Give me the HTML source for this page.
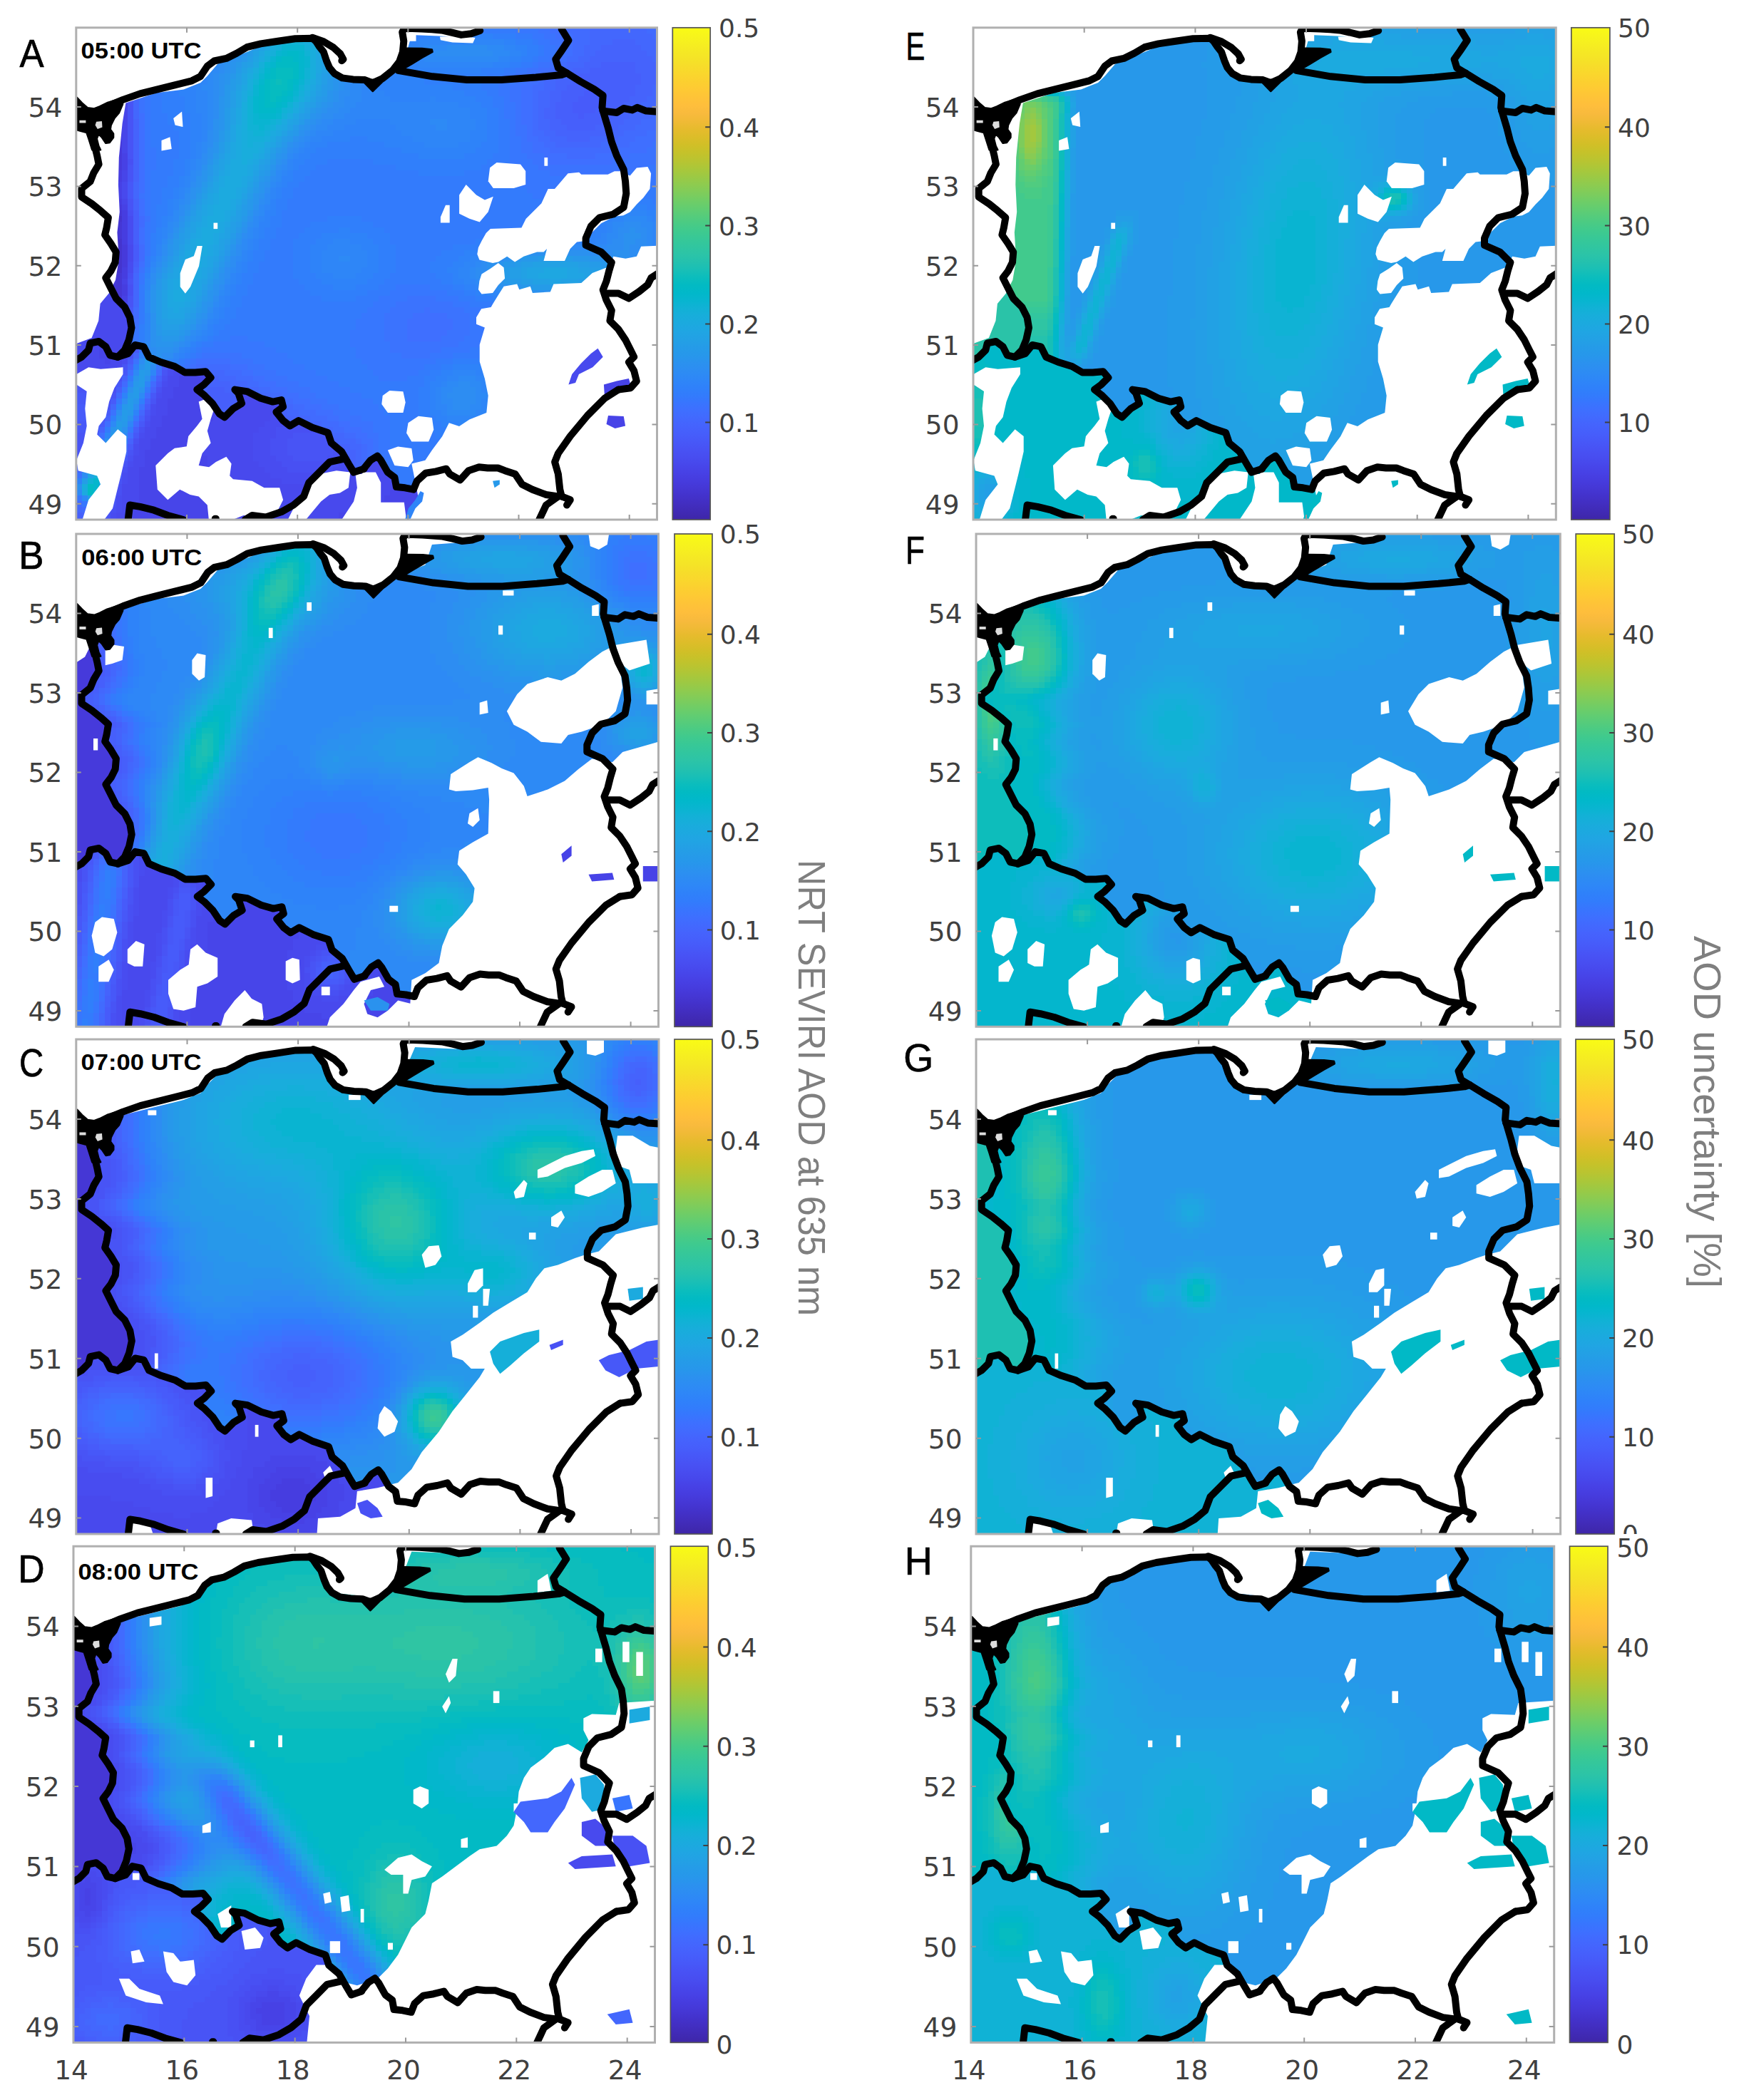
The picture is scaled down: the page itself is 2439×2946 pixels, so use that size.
<!DOCTYPE html>
<html><head><meta charset="utf-8"><title>NRT SEVIRI AOD and uncertainty</title>
<style>
html,body{margin:0;padding:0;background:#fff}
svg{display:block}
.tk{font-family:"DejaVu Sans","Liberation Sans",sans-serif;font-size:37.5px;fill:#404040}
.cbl{font-family:"DejaVu Sans","Liberation Sans",sans-serif;font-size:36px;fill:#404040}
.let{font-family:"Liberation Sans",sans-serif;font-size:55px;fill:#000;stroke:#000;stroke-width:0.7px}
.tm{font-family:"Liberation Sans",sans-serif;font-weight:bold;font-size:32px;fill:#000}
.vl{font-family:"Liberation Sans",sans-serif;font-size:54px;fill:#7f7f7f}
</style></head><body>
<svg width="2439" height="2946" viewBox="0 0 2439 2946">
<defs><linearGradient id="par" x1="0" y1="0" x2="0" y2="1"><stop offset="0.0000" stop-color="#f9fb15"/><stop offset="0.0159" stop-color="#f7f51b"/><stop offset="0.0317" stop-color="#f6ef20"/><stop offset="0.0476" stop-color="#f5e924"/><stop offset="0.0635" stop-color="#f5e327"/><stop offset="0.0794" stop-color="#f7dc2a"/><stop offset="0.0952" stop-color="#fad62d"/><stop offset="0.1111" stop-color="#fccf30"/><stop offset="0.1270" stop-color="#fec934"/><stop offset="0.1429" stop-color="#fec338"/><stop offset="0.1587" stop-color="#febe3c"/><stop offset="0.1746" stop-color="#f8ba3d"/><stop offset="0.1905" stop-color="#f0ba36"/><stop offset="0.2063" stop-color="#e6bb2d"/><stop offset="0.2222" stop-color="#dcbd29"/><stop offset="0.2381" stop-color="#d1bf27"/><stop offset="0.2540" stop-color="#c5c22a"/><stop offset="0.2698" stop-color="#b9c431"/><stop offset="0.2857" stop-color="#abc739"/><stop offset="0.3016" stop-color="#9dc943"/><stop offset="0.3175" stop-color="#8fcb4e"/><stop offset="0.3333" stop-color="#81cc59"/><stop offset="0.3492" stop-color="#72cd64"/><stop offset="0.3651" stop-color="#64cd6f"/><stop offset="0.3810" stop-color="#57cc7a"/><stop offset="0.3968" stop-color="#4acb84"/><stop offset="0.4127" stop-color="#3fca8e"/><stop offset="0.4286" stop-color="#37c897"/><stop offset="0.4444" stop-color="#31c69f"/><stop offset="0.4603" stop-color="#2cc4a7"/><stop offset="0.4762" stop-color="#24c1ae"/><stop offset="0.4921" stop-color="#19bfb6"/><stop offset="0.5079" stop-color="#0bbdbd"/><stop offset="0.5238" stop-color="#02bac3"/><stop offset="0.5397" stop-color="#01b8ca"/><stop offset="0.5556" stop-color="#08b5d0"/><stop offset="0.5714" stop-color="#12b1d6"/><stop offset="0.5873" stop-color="#18addb"/><stop offset="0.6032" stop-color="#1ca9df"/><stop offset="0.6190" stop-color="#20a5e3"/><stop offset="0.6349" stop-color="#23a0e5"/><stop offset="0.6508" stop-color="#259be8"/><stop offset="0.6667" stop-color="#2797eb"/><stop offset="0.6825" stop-color="#2b91ef"/><stop offset="0.6984" stop-color="#2d8cf3"/><stop offset="0.7143" stop-color="#2e87f7"/><stop offset="0.7302" stop-color="#2f81fa"/><stop offset="0.7460" stop-color="#327cfc"/><stop offset="0.7619" stop-color="#3875fe"/><stop offset="0.7778" stop-color="#3e6fff"/><stop offset="0.7937" stop-color="#4269fe"/><stop offset="0.8095" stop-color="#4563fd"/><stop offset="0.8254" stop-color="#465efb"/><stop offset="0.8413" stop-color="#4758f8"/><stop offset="0.8571" stop-color="#4852f4"/><stop offset="0.8730" stop-color="#484df0"/><stop offset="0.8889" stop-color="#4747eb"/><stop offset="0.9048" stop-color="#4741e5"/><stop offset="0.9206" stop-color="#463cde"/><stop offset="0.9365" stop-color="#4537d5"/><stop offset="0.9524" stop-color="#4332cb"/><stop offset="0.9683" stop-color="#422ec0"/><stop offset="0.9841" stop-color="#402ab4"/><stop offset="1.0000" stop-color="#3e26a8"/></linearGradient></defs>
<rect width="2439" height="2946" fill="#fff"/>
<rect x="943.3" y="38.8" width="52.9" height="690.2" fill="url(#par)" stroke="#555" stroke-width="1.7"/>
<path d="M996.2 592.5h-7M996.2 454.4h-7M996.2 316.4h-7M996.2 178.3h-7" stroke="#404040" stroke-width="2" fill="none"/>
<text x="1008.0" y="605.7" class="cbl">0.1</text>
<text x="1008.0" y="467.6" class="cbl">0.2</text>
<text x="1008.0" y="329.6" class="cbl">0.3</text>
<text x="1008.0" y="191.5" class="cbl">0.4</text>
<text x="1008.0" y="52.0" class="cbl">0.5</text>
<text x="87.3" y="720.5" text-anchor="end" class="tk">49</text>
<text x="87.3" y="609.2" text-anchor="end" class="tk">50</text>
<text x="87.3" y="497.9" text-anchor="end" class="tk">51</text>
<text x="87.3" y="386.6" text-anchor="end" class="tk">52</text>
<text x="87.3" y="275.2" text-anchor="end" class="tk">53</text>
<text x="87.3" y="163.9" text-anchor="end" class="tk">54</text>
<rect x="2203.8" y="38.8" width="54.1" height="690.2" fill="url(#par)" stroke="#555" stroke-width="1.7"/>
<path d="M2257.9 592.5h-7M2257.9 454.4h-7M2257.9 316.4h-7M2257.9 178.3h-7" stroke="#404040" stroke-width="2" fill="none"/>
<text x="2269.0" y="605.7" class="cbl">10</text>
<text x="2269.0" y="467.6" class="cbl">20</text>
<text x="2269.0" y="329.6" class="cbl">30</text>
<text x="2269.0" y="191.5" class="cbl">40</text>
<text x="2269.0" y="52.0" class="cbl">50</text>
<text x="1345.5" y="720.5" text-anchor="end" class="tk">49</text>
<text x="1345.5" y="609.2" text-anchor="end" class="tk">50</text>
<text x="1345.5" y="497.9" text-anchor="end" class="tk">51</text>
<text x="1345.5" y="386.6" text-anchor="end" class="tk">52</text>
<text x="1345.5" y="275.2" text-anchor="end" class="tk">53</text>
<text x="1345.5" y="163.9" text-anchor="end" class="tk">54</text>
<rect x="946.0" y="749.0" width="53.0" height="691.3" fill="url(#par)" stroke="#555" stroke-width="1.7"/>
<path d="M999.0 1304.5h-7M999.0 1166.3h-7M999.0 1028.0h-7M999.0 889.8h-7" stroke="#404040" stroke-width="2" fill="none"/>
<text x="1009.7" y="1317.7" class="cbl">0.1</text>
<text x="1009.7" y="1179.5" class="cbl">0.2</text>
<text x="1009.7" y="1041.2" class="cbl">0.3</text>
<text x="1009.7" y="903.0" class="cbl">0.4</text>
<text x="1009.7" y="762.2" class="cbl">0.5</text>
<text x="87.3" y="1431.8" text-anchor="end" class="tk">49</text>
<text x="87.3" y="1320.3" text-anchor="end" class="tk">50</text>
<text x="87.3" y="1208.8" text-anchor="end" class="tk">51</text>
<text x="87.3" y="1097.3" text-anchor="end" class="tk">52</text>
<text x="87.3" y="985.8" text-anchor="end" class="tk">53</text>
<text x="87.3" y="874.3" text-anchor="end" class="tk">54</text>
<rect x="2210.2" y="749.0" width="54.0" height="691.3" fill="url(#par)" stroke="#555" stroke-width="1.7"/>
<path d="M2264.2 1304.5h-7M2264.2 1166.3h-7M2264.2 1028.0h-7M2264.2 889.8h-7" stroke="#404040" stroke-width="2" fill="none"/>
<text x="2274.9" y="1317.7" class="cbl">10</text>
<text x="2274.9" y="1179.5" class="cbl">20</text>
<text x="2274.9" y="1041.2" class="cbl">30</text>
<text x="2274.9" y="903.0" class="cbl">40</text>
<text x="2274.9" y="762.2" class="cbl">50</text>
<text x="1349.5" y="1431.8" text-anchor="end" class="tk">49</text>
<text x="1349.5" y="1320.3" text-anchor="end" class="tk">50</text>
<text x="1349.5" y="1208.8" text-anchor="end" class="tk">51</text>
<text x="1349.5" y="1097.3" text-anchor="end" class="tk">52</text>
<text x="1349.5" y="985.8" text-anchor="end" class="tk">53</text>
<text x="1349.5" y="874.3" text-anchor="end" class="tk">54</text>
<rect x="946.0" y="1458.0" width="53.0" height="694.0" fill="url(#par)" stroke="#555" stroke-width="1.7"/>
<path d="M999.0 2015.7h-7M999.0 1876.9h-7M999.0 1738.1h-7M999.0 1599.3h-7" stroke="#404040" stroke-width="2" fill="none"/>
<text x="1009.7" y="2028.9" class="cbl">0.1</text>
<text x="1009.7" y="1890.1" class="cbl">0.2</text>
<text x="1009.7" y="1751.3" class="cbl">0.3</text>
<text x="1009.7" y="1612.5" class="cbl">0.4</text>
<text x="1009.7" y="1471.2" class="cbl">0.5</text>
<text x="87.3" y="2143.4" text-anchor="end" class="tk">49</text>
<text x="87.3" y="2031.5" text-anchor="end" class="tk">50</text>
<text x="87.3" y="1919.5" text-anchor="end" class="tk">51</text>
<text x="87.3" y="1807.6" text-anchor="end" class="tk">52</text>
<text x="87.3" y="1695.7" text-anchor="end" class="tk">53</text>
<text x="87.3" y="1583.7" text-anchor="end" class="tk">54</text>
<rect x="2210.0" y="1458.0" width="54.2" height="694.0" fill="url(#par)" stroke="#555" stroke-width="1.7"/>
<path d="M2264.2 2015.7h-7M2264.2 1876.9h-7M2264.2 1738.1h-7M2264.2 1599.3h-7" stroke="#404040" stroke-width="2" fill="none"/>
<clipPath id="czG"><rect x="2264.2" y="2112.0" width="200" height="40.0"/></clipPath>
<text x="2274.9" y="2165.2" class="cbl" clip-path="url(#czG)">0</text>
<text x="2274.9" y="2028.9" class="cbl">10</text>
<text x="2274.9" y="1890.1" class="cbl">20</text>
<text x="2274.9" y="1751.3" class="cbl">30</text>
<text x="2274.9" y="1612.5" class="cbl">40</text>
<text x="2274.9" y="1471.2" class="cbl">50</text>
<text x="1349.5" y="2143.4" text-anchor="end" class="tk">49</text>
<text x="1349.5" y="2031.5" text-anchor="end" class="tk">50</text>
<text x="1349.5" y="1919.5" text-anchor="end" class="tk">51</text>
<text x="1349.5" y="1807.6" text-anchor="end" class="tk">52</text>
<text x="1349.5" y="1695.7" text-anchor="end" class="tk">53</text>
<text x="1349.5" y="1583.7" text-anchor="end" class="tk">54</text>
<rect x="940.4" y="2169.2" width="52.9" height="696.2" fill="url(#par)" stroke="#555" stroke-width="1.7"/>
<path d="M993.3 2728.2h-7M993.3 2588.9h-7M993.3 2449.7h-7M993.3 2310.4h-7" stroke="#404040" stroke-width="2" fill="none"/>
<text x="1004.5" y="2880.6" class="cbl">0</text>
<text x="1004.5" y="2741.4" class="cbl">0.1</text>
<text x="1004.5" y="2602.1" class="cbl">0.2</text>
<text x="1004.5" y="2462.9" class="cbl">0.3</text>
<text x="1004.5" y="2323.6" class="cbl">0.4</text>
<text x="1004.5" y="2184.4" class="cbl">0.5</text>
<text x="83.5" y="2856.7" text-anchor="end" class="tk">49</text>
<text x="83.5" y="2744.5" text-anchor="end" class="tk">50</text>
<text x="83.5" y="2632.2" text-anchor="end" class="tk">51</text>
<text x="83.5" y="2519.9" text-anchor="end" class="tk">52</text>
<text x="83.5" y="2407.6" text-anchor="end" class="tk">53</text>
<text x="83.5" y="2295.3" text-anchor="end" class="tk">54</text>
<rect x="2201.5" y="2169.2" width="53.5" height="696.2" fill="url(#par)" stroke="#555" stroke-width="1.7"/>
<path d="M2255.0 2728.2h-7M2255.0 2588.9h-7M2255.0 2449.7h-7M2255.0 2310.4h-7" stroke="#404040" stroke-width="2" fill="none"/>
<text x="2267.4" y="2880.6" class="cbl">0</text>
<text x="2267.4" y="2741.4" class="cbl">10</text>
<text x="2267.4" y="2602.1" class="cbl">20</text>
<text x="2267.4" y="2462.9" class="cbl">30</text>
<text x="2267.4" y="2323.6" class="cbl">40</text>
<text x="2267.4" y="2184.4" class="cbl">50</text>
<text x="1342.3" y="2856.7" text-anchor="end" class="tk">49</text>
<text x="1342.3" y="2744.5" text-anchor="end" class="tk">50</text>
<text x="1342.3" y="2632.2" text-anchor="end" class="tk">51</text>
<text x="1342.3" y="2519.9" text-anchor="end" class="tk">52</text>
<text x="1342.3" y="2407.6" text-anchor="end" class="tk">53</text>
<text x="1342.3" y="2295.3" text-anchor="end" class="tk">54</text>
<clipPath id="cA"><rect width="814.7" height="690.2"/></clipPath>
<g transform="translate(106.8 38.8)"><g clip-path="url(#cA)">
<g fill="none" stroke-width="8.6" shape-rendering="crispEdges">
<path stroke="#4434ce" d="M56 268h8M56 300h8M56 308h8M56 316h8M56 324h8M56 332h8M56 340h8"/>
<path stroke="#4537d5" d="M56 260h8M48 268h8M48 276h16M48 284h16M56 292h8M48 300h8M48 308h8M48 340h8M56 348h8M56 356h8M56 364h8M56 372h8M56 380h8"/>
<path stroke="#463adb" d="M56 164h8M56 172h8M56 180h8M48 188h16M56 196h8M56 252h8M48 260h8M48 292h8M64 308h8M64 316h8M64 324h8M64 332h8M48 348h8M48 356h8M48 364h8"/>
<path stroke="#463de0" d="M56 4h8M56 12h8M56 20h8M56 28h8M56 36h8M56 44h8M56 52h8M56 60h8M56 68h8M56 76h8M56 84h8M56 92h8M56 100h8M56 108h8M56 116h8M56 124h8M56 132h8M56 140h8M48 148h16M48 156h16M48 164h8M48 172h8M48 180h8M48 196h8M48 204h16M48 212h16M56 244h8M48 252h8M64 260h8M64 268h8M64 276h8M64 284h8M64 292h8M64 300h8M64 340h8M64 348h8M64 364h8M64 372h8"/>
<path stroke="#4741e5" d="M48 4h8M48 12h8M48 20h8M48 28h8M48 36h8M48 44h8M48 52h8M48 60h8M48 68h8M48 76h8M48 84h8M48 92h8M48 100h8M48 108h8M48 116h8M48 124h8M48 132h8M48 140h8M64 180h8M64 188h8M64 196h8M48 220h16M56 228h8M56 236h8M48 244h8M64 252h8M64 356h8M64 380h8"/>
<path stroke="#4745e9" d="M64 4h8M64 12h8M64 20h8M64 28h8M64 36h8M64 44h8M64 52h8M64 60h8M64 68h8M64 76h8M64 84h8M64 92h8M64 100h8M64 108h8M64 116h8M64 124h8M64 132h8M64 140h8M64 148h8M64 156h8M64 164h8M40 172h8M64 172h8M40 180h8M40 188h8M40 196h8M64 204h8M64 212h8M48 228h8M48 236h8M64 244h8M40 252h8M40 260h8M40 276h8M40 284h8M40 292h8M40 348h8M64 388h8M24 444h16M32 452h8M32 460h16M40 468h8M152 484h32M144 492h40M144 500h32M136 508h32M136 516h48M128 524h64M128 532h64M128 540h72M120 548h72M120 556h64M112 564h72M112 572h72M104 580h72M104 588h72M96 596h80M96 604h88M96 612h88M88 620h96M512 620h8M552 620h48M88 628h104M488 628h40M544 628h72M88 636h112M480 636h144M88 644h120M472 644h160M88 652h128M440 652h208M88 660h136M432 660h240M88 668h152M416 668h248M80 676h176M400 676h256M80 684h208M368 684h288M80 692h568"/>
<path stroke="#4849ed" d="M40 4h8M40 12h8M40 20h8M40 28h8M40 36h8M40 44h8M40 52h8M40 60h8M40 68h8M40 76h8M40 84h8M40 92h8M40 100h8M40 108h8M40 116h8M40 124h8M0 132h8M40 132h8M0 140h16M40 140h8M0 148h24M40 148h8M0 156h24M40 156h8M0 164h24M40 164h8M0 172h24M0 180h32M0 188h32M0 196h32M0 204h24M40 204h8M0 212h24M40 212h8M0 220h16M64 220h8M0 228h8M64 228h8M0 236h8M64 236h8M0 244h16M40 244h8M0 252h32M0 260h40M0 268h48M0 276h40M0 284h40M0 292h40M0 300h48M0 308h48M72 308h8M0 316h56M72 316h8M0 324h56M72 324h8M0 332h56M0 340h48M0 348h40M0 356h48M0 364h48M0 372h56M0 380h56M0 388h64M0 396h72M0 404h72M0 412h80M0 420h80M0 428h80M0 436h72M0 444h24M40 444h32M0 452h32M40 452h32M0 460h32M48 460h16M0 468h40M48 468h16M0 476h64M16 484h40M136 484h16M24 492h32M128 492h16M24 500h24M128 500h16M32 508h16M120 508h16M32 516h8M120 516h16M232 516h16M112 524h16M232 524h40M280 524h8M112 532h16M224 532h64M112 540h16M216 540h64M104 548h16M192 548h80M104 556h16M184 556h80M96 564h16M184 564h72M96 572h16M184 572h64M88 580h16M176 580h72M88 588h16M176 588h72M88 596h8M176 596h72M80 604h16M184 604h64M416 604h8M80 612h16M184 612h72M408 612h24M72 620h16M184 620h80M400 620h32M72 628h16M192 628h80M384 628h56M72 636h16M200 636h88M368 636h80M64 644h24M208 644h240M64 652h24M216 652h224M64 660h24M224 660h208M64 668h24M240 668h176M64 676h16M256 676h144M56 684h24M288 684h80M56 692h24"/>
<path stroke="#484cf0" d="M40 220h8M40 228h8M40 236h8M72 268h8M72 276h8M72 284h8M72 292h8M72 300h8M72 332h8M72 340h8M64 460h8M64 468h8M0 484h16M56 484h8M128 484h8M0 492h24M16 500h8M48 500h8M120 500h8M24 508h8M24 516h8M40 516h8M112 516h8M24 524h16M24 532h16M104 532h8M104 540h8M272 548h16M96 556h8M264 556h32M256 564h24M88 572h8M248 572h32M248 580h24M80 588h8M248 588h24M80 596h8M248 596h24M248 604h32M72 612h8M256 612h32M368 612h16M264 620h32M360 620h24M64 628h8M272 628h112M64 636h8M288 636h80M56 660h8M56 668h8M56 676h8M48 684h8M48 692h8"/>
<path stroke="#4850f3" d="M32 172h8M32 180h8M32 188h8M72 188h8M32 196h8M32 252h8M72 260h8M72 348h8M72 364h8M72 372h8M128 476h8M56 492h8M120 492h8M0 500h16M16 508h8M48 508h8M112 508h8M16 516h8M40 524h8M24 540h16M24 548h8M96 548h8M304 556h16M88 564h8M280 564h64M280 572h24M80 580h8M272 580h24M272 588h24M360 588h8M272 596h24M360 596h16M72 604h8M280 604h24M352 604h24M288 612h80M64 620h8M296 620h64M56 644h8M56 652h8M48 676h8M40 692h8"/>
<path stroke="#4854f5" d="M32 4h8M72 4h8M32 12h8M72 12h8M32 20h8M72 20h8M32 28h8M72 28h8M32 36h8M72 36h8M32 44h8M72 44h8M32 52h8M72 52h8M32 60h8M72 60h8M32 68h8M72 68h8M32 76h8M72 76h8M32 84h8M72 84h8M32 92h8M72 92h8M32 100h8M72 100h8M32 108h8M72 108h8M32 116h8M72 116h8M32 124h8M72 124h8M32 132h8M72 132h8M32 140h8M72 140h8M32 148h8M72 148h8M32 156h8M72 156h8M32 164h8M72 164h8M72 172h8M72 180h8M72 196h8M32 204h8M72 204h8M32 212h8M72 212h8M32 220h8M32 244h8M72 244h8M72 252h8M72 356h8M72 380h8M72 388h8M72 460h8M64 476h8M120 484h8M0 508h16M48 516h8M16 524h8M104 524h8M16 532h8M40 532h8M16 540h8M96 540h8M16 548h8M32 548h8M16 556h16M16 564h8M0 572h16M304 572h48M0 580h16M296 580h64M0 588h8M296 588h64M0 596h8M72 596h8M296 596h64M304 604h48M64 612h8M56 636h8M48 668h8M40 684h8M32 692h8"/>
<path stroke="#4758f8" d="M72 220h8M32 228h8M72 228h8M32 236h8M72 236h8M72 396h8M64 484h8M56 500h8M112 500h8M0 516h16M104 516h8M0 524h16M0 556h16M88 556h8M0 564h16M24 564h8M16 572h8M80 572h8M16 580h8M8 588h8M0 604h8M48 660h8M40 676h8M0 692h8M24 692h8"/>
<path stroke="#475bfa" d="M24 4h8M24 12h8M24 20h8M24 28h8M24 36h8M24 44h8M24 52h8M24 60h8M24 68h8M24 76h8M24 84h8M24 92h8M712 92h24M24 100h8M704 100h32M24 108h8M696 108h40M24 116h8M696 116h32M24 124h8M704 124h8M24 132h8M24 140h8M24 148h8M24 156h8M24 164h8M24 172h8M24 204h8M24 212h8M24 220h8M24 244h8M80 308h8M80 316h8M80 324h8M80 452h8M72 468h8M120 476h8M48 524h8M0 532h16M96 532h8M0 540h16M40 540h8M0 548h16M32 556h8M24 572h8M72 588h8M8 596h8M64 604h8M0 612h8M56 628h8M32 684h8M8 692h16"/>
<path stroke="#465ffb" d="M16 4h8M16 12h8M16 20h8M16 28h8M16 36h8M16 44h8M16 52h8M736 52h48M16 60h8M720 60h64M16 68h8M704 68h88M16 76h8M696 76h96M16 84h8M688 84h96M16 92h8M680 92h32M736 92h48M16 100h8M680 100h24M736 100h40M16 108h8M672 108h24M736 108h32M16 116h8M672 116h24M728 116h32M16 124h8M672 124h32M712 124h40M16 132h8M680 132h64M16 140h8M688 140h40M16 220h8M24 228h8M24 236h8M16 244h8M80 260h8M80 268h8M80 276h8M80 284h8M80 292h8M80 300h8M80 332h8M72 404h8M112 492h8M56 508h8M184 508h24M184 516h40M192 524h40M200 532h24M88 548h8M80 564h8M16 588h8M8 604h8M376 604h8M56 620h8M48 652h8M32 676h8M0 684h8M24 684h8"/>
<path stroke="#4563fc" d="M80 4h8M80 12h8M80 20h8M752 20h32M736 28h56M728 36h72M720 44h88M712 52h24M784 52h32M696 60h24M784 60h32M688 68h16M792 68h24M672 76h24M792 76h24M672 84h16M784 84h24M664 92h16M784 92h24M664 100h16M776 100h24M664 108h8M768 108h24M656 116h16M760 116h24M656 124h16M752 124h24M80 132h8M664 132h16M744 132h24M80 140h8M664 140h24M728 140h32M80 148h8M672 148h72M80 156h8M688 156h32M80 164h8M80 172h8M80 180h8M80 188h8M80 196h8M80 204h8M80 212h8M8 228h16M8 236h16M80 244h8M80 252h8M80 340h8M72 476h8M64 492h8M184 492h16M176 500h40M104 508h8M168 508h16M208 508h24M224 516h8M96 524h8M192 532h8M200 540h16M280 540h16M40 548h8M288 548h24M296 556h8M320 556h8M32 564h8M24 580h8M72 580h8M360 580h8M368 588h16M376 596h16M384 604h8M384 612h8M384 620h8M48 644h8M40 668h8M8 684h16"/>
<path stroke="#4367fd" d="M720 4h80M720 12h88M720 20h32M784 20h32M80 28h8M712 28h24M792 28h24M80 36h8M712 36h16M800 36h16M80 44h8M704 44h16M808 44h8M80 52h8M688 52h24M80 60h8M680 60h16M80 68h8M664 68h24M80 76h8M656 76h16M80 84h8M656 84h16M808 84h8M80 92h8M648 92h16M808 92h8M80 100h8M648 100h16M800 100h16M80 108h8M648 108h16M792 108h24M80 116h8M648 116h8M784 116h32M80 124h8M648 124h8M776 124h32M648 132h16M768 132h24M648 140h16M760 140h24M656 148h16M744 148h24M664 156h24M720 156h40M672 164h64M80 220h8M80 228h8M80 236h8M80 348h8M80 356h8M80 364h8M80 372h8M80 380h8M80 388h8M80 460h8M184 484h24M200 492h24M216 500h24M232 508h24M248 516h24M272 524h8M48 532h8M288 532h16M88 540h8M296 540h16M312 548h16M328 556h16M344 564h16M352 572h24M368 580h24M384 588h16M16 596h8M64 596h8M392 596h8M392 604h8M392 612h8M0 620h8M0 676h8M24 676h8"/>
<path stroke="#416bfe" d="M688 4h32M800 4h16M696 12h24M808 12h8M696 20h24M696 28h16M696 36h16M688 44h16M680 52h8M664 60h16M648 68h16M648 76h8M640 84h16M640 92h8M640 100h8M640 108h8M640 116h8M640 124h8M808 124h8M640 132h8M792 132h24M640 140h8M784 140h32M640 148h16M768 148h32M648 156h16M760 156h24M656 164h16M736 164h40M664 172h88M688 180h40M88 268h8M88 276h8M88 308h8M88 316h8M88 324h8M80 396h8M80 404h8M168 476h48M112 484h8M208 484h24M224 492h24M64 500h8M104 500h8M240 500h16M256 508h16M56 516h8M272 516h16M288 524h16M304 532h16M312 540h24M328 548h24M80 556h8M344 556h24M360 564h16M376 572h16M392 580h8M400 588h8M400 596h8M400 604h8M8 612h8M56 612h8M400 612h8M392 620h8M48 636h8M0 668h8M8 676h8"/>
<path stroke="#3f6fff" d="M88 4h8M664 4h24M88 12h8M672 12h24M88 20h8M680 20h16M88 28h8M688 28h8M680 36h16M672 44h16M664 52h16M648 60h16M640 68h8M632 76h16M624 84h16M624 92h16M624 100h16M624 108h16M624 116h16M88 124h8M624 124h16M88 132h8M624 132h16M88 140h8M632 140h8M88 148h8M632 148h8M800 148h16M88 156h8M632 156h16M784 156h32M88 164h8M640 164h16M776 164h32M88 172h8M640 172h24M752 172h48M88 180h8M656 180h32M728 180h48M88 188h8M664 188h88M88 196h8M88 204h8M88 212h8M88 220h8M88 228h8M88 244h8M88 252h8M88 260h8M88 284h8M88 292h8M88 300h8M88 332h8M488 396h8M472 404h48M80 412h8M464 412h64M464 420h64M464 428h56M464 436h48M168 468h48M160 476h8M216 476h24M72 484h8M232 484h16M248 492h16M256 500h24M272 508h24M96 516h8M288 516h24M304 524h24M320 532h24M336 540h24M352 548h16M40 556h8M368 556h16M376 564h24M32 572h8M72 572h8M392 572h16M400 580h16M24 588h8M64 588h8M408 588h8M408 596h8M408 604h8M40 660h8M32 668h8M16 676h8"/>
<path stroke="#3b73fe" d="M648 4h16M656 12h16M664 20h16M672 28h16M88 36h8M672 36h8M88 44h8M664 44h8M88 52h8M648 52h16M88 60h8M632 60h16M88 68h8M616 68h24M88 76h8M616 76h16M88 84h8M608 84h16M88 92h8M608 92h16M88 100h8M608 100h16M88 108h8M616 108h8M88 116h8M616 116h8M616 124h8M616 132h8M616 140h16M616 148h16M624 156h8M624 164h16M808 164h8M624 172h16M800 172h16M632 180h24M776 180h40M640 188h24M752 188h64M648 196h152M664 204h104M696 212h24M88 236h8M96 268h8M88 340h8M464 380h40M448 388h80M440 396h48M496 396h48M432 404h40M520 404h32M432 412h32M528 412h24M80 420h8M432 420h32M528 420h24M432 428h32M520 428h32M72 436h8M432 436h32M512 436h32M72 444h8M440 444h96M72 452h8M440 452h72M176 460h56M456 460h40M80 468h8M160 468h8M216 468h32M152 476h8M240 476h24M248 484h32M264 492h32M280 500h32M296 508h32M312 516h24M328 524h24M88 532h8M344 532h24M48 540h8M360 540h24M368 548h32M384 556h32M400 564h16M408 572h16M416 580h8M416 588h8M416 596h8M16 604h8M56 604h8M0 628h8M48 628h8"/>
<path stroke="#3777fe" d="M96 4h8M616 4h32M96 12h8M640 12h16M96 20h8M648 20h16M96 28h8M656 28h16M96 36h8M656 36h16M96 44h8M648 44h16M96 52h8M640 52h8M96 60h8M616 60h16M96 68h8M600 68h16M96 76h8M592 76h24M96 84h8M592 84h16M96 92h8M592 92h16M96 100h8M600 100h8M96 108h8M600 108h16M96 116h8M600 116h16M96 124h8M600 124h16M96 132h8M608 132h8M96 140h8M608 140h8M96 148h8M608 148h8M96 156h8M608 156h16M96 164h8M608 164h16M96 172h16M608 172h16M96 180h16M608 180h24M96 188h16M608 188h32M96 196h16M608 196h40M800 196h16M96 204h8M616 204h48M768 204h48M96 212h8M616 212h80M720 212h96M96 220h8M624 220h192M96 228h8M632 228h128M96 236h8M640 236h96M96 244h8M664 244h48M96 252h8M96 260h8M96 276h8M96 284h8M96 292h8M96 300h8M96 308h8M96 316h8M88 348h8M88 356h8M448 364h48M440 372h80M424 380h40M504 380h32M416 388h32M528 388h24M408 396h32M544 396h24M400 404h32M552 404h32M392 412h40M552 412h40M392 420h40M552 420h48M80 428h8M384 428h48M552 428h48M80 436h8M216 436h24M384 436h48M544 436h56M80 444h8M192 444h72M384 444h56M536 444h48M88 452h8M176 452h104M392 452h48M512 452h40M168 460h8M232 460h64M392 460h64M496 460h32M152 468h8M248 468h56M400 468h104M112 476h8M144 476h8M264 476h56M408 476h80M280 484h56M416 484h64M104 492h8M296 492h56M424 492h40M312 500h56M64 508h8M328 508h56M336 516h64M56 524h8M352 524h64M368 532h56M384 540h48M80 548h8M400 548h40M416 556h24M416 564h24M424 572h16M424 580h16M424 588h16M424 596h16M424 604h16M432 612h8M40 652h8M0 660h8M8 668h8"/>
<path stroke="#337bfc" d="M0 4h16M104 4h48M568 4h48M0 12h16M104 12h40M616 12h24M0 20h16M104 20h32M640 20h8M0 28h16M104 28h24M648 28h8M0 36h16M104 36h24M648 36h8M0 44h16M104 44h16M640 44h8M0 52h16M104 52h16M624 52h16M0 60h16M104 60h16M600 60h16M0 68h16M104 68h8M576 68h24M0 76h16M104 76h8M568 76h24M0 84h16M104 84h8M568 84h24M0 92h16M104 92h16M576 92h16M0 100h16M104 100h16M584 100h16M0 108h16M104 108h16M584 108h16M0 116h16M104 116h16M592 116h8M0 124h16M104 124h24M592 124h8M8 132h8M104 132h24M592 132h16M104 140h32M592 140h16M104 148h40M592 148h16M104 156h40M592 156h16M104 164h40M592 164h16M112 172h32M592 172h16M112 180h32M584 180h24M112 188h24M352 188h64M576 188h32M112 196h24M336 196h112M568 196h40M104 204h32M328 204h152M544 204h72M104 212h24M320 212h296M104 220h24M312 220h312M104 228h16M304 228h328M760 228h56M104 236h16M304 236h336M736 236h80M104 244h16M296 244h368M712 244h40M808 244h8M104 252h8M296 252h448M104 260h8M288 260h440M104 268h8M288 268h64M400 268h328M104 276h8M288 276h40M416 276h304M104 284h8M280 284h40M432 284h280M280 292h32M440 292h160M272 300h32M440 300h120M272 308h32M448 308h80M264 316h40M448 316h64M96 324h8M264 324h40M448 324h56M96 332h8M256 332h48M448 332h48M256 340h48M448 340h48M248 348h56M440 348h64M248 356h64M432 356h80M88 364h8M240 364h80M424 364h24M496 364h32M88 372h8M240 372h88M408 372h32M520 372h24M88 380h8M232 380h112M392 380h32M536 380h24M88 388h8M232 388h184M552 388h32M792 388h24M88 396h8M224 396h184M568 396h40M752 396h64M88 404h8M224 404h176M584 404h232M88 412h8M216 412h176M592 412h224M208 420h184M600 420h216M200 428h184M600 428h216M192 436h24M240 436h144M600 436h216M176 444h16M264 444h120M584 444h232M168 452h8M280 452h112M552 452h264M160 460h8M296 460h96M528 460h288M144 468h8M304 468h96M504 468h24M576 468h240M136 476h8M320 476h88M488 476h24M592 476h224M336 484h80M480 484h16M600 484h216M72 492h8M352 492h72M464 492h24M608 492h208M368 500h120M608 500h208M96 508h8M384 508h96M608 508h208M400 516h80M608 516h208M416 524h64M608 524h208M424 532h56M608 532h208M432 540h48M608 540h208M440 548h40M600 548h216M440 556h48M600 556h216M40 564h8M72 564h8M440 564h56M592 564h224M440 572h64M584 572h232M32 580h8M440 580h80M568 580h248M440 588h376M24 596h8M440 596h376M440 604h376M440 612h376M48 620h8M432 620h80M520 620h32M600 620h216M440 628h48M528 628h16M616 628h200M448 636h32M624 636h192M448 644h24M632 644h184M648 652h168M672 660h144M16 668h16M664 668h152M656 676h160M656 684h160M648 692h168"/>
<path stroke="#307ffb" d="M152 4h48M400 4h168M144 12h40M416 12h72M584 12h32M136 20h40M616 20h24M128 28h40M632 28h16M128 36h32M632 36h16M120 44h32M624 44h16M120 52h32M608 52h16M120 60h24M568 60h32M112 68h32M496 68h80M112 76h32M488 76h80M112 84h32M528 84h40M120 92h24M544 92h32M120 100h32M560 100h24M120 108h32M568 108h16M120 116h32M576 116h16M128 124h32M576 124h16M128 132h32M576 132h16M136 140h24M576 140h16M144 148h16M576 148h16M144 156h16M384 156h24M576 156h16M144 164h16M352 164h80M568 164h24M144 172h16M336 172h120M560 172h32M144 180h16M328 180h152M544 180h40M136 188h16M320 188h32M416 188h160M136 196h16M312 196h24M448 196h120M136 204h16M304 204h24M480 204h64M128 212h16M304 212h16M128 220h16M296 220h16M120 228h16M288 228h16M120 236h16M288 236h16M120 244h8M280 244h16M752 244h56M112 252h16M280 252h16M744 252h16M800 252h16M112 260h16M280 260h8M728 260h24M112 268h8M272 268h16M352 268h48M728 268h16M112 276h8M272 276h16M328 276h88M720 276h16M264 284h16M320 284h48M384 284h48M712 284h16M104 292h8M264 292h16M312 292h32M408 292h32M600 292h120M104 300h8M256 300h16M304 300h32M416 300h24M560 300h56M104 308h8M256 308h16M304 308h24M424 308h24M528 308h40M104 316h8M248 316h16M304 316h24M424 316h24M512 316h32M248 324h16M304 324h24M424 324h24M504 324h32M240 332h16M304 332h24M424 332h24M496 332h32M96 340h8M240 340h16M304 340h24M424 340h24M496 340h24M232 348h16M304 348h32M416 348h24M504 348h24M232 356h16M312 356h32M408 356h24M512 356h16M224 364h16M320 364h40M392 364h32M528 364h16M224 372h16M328 372h80M544 372h16M800 372h16M216 380h16M344 380h48M560 380h24M776 380h40M216 388h16M584 388h32M736 388h56M208 396h16M608 396h144M208 404h16M200 412h16M88 420h8M192 420h16M88 428h8M192 428h8M88 436h8M184 436h8M88 444h8M168 444h8M160 452h8M152 460h8M528 468h48M80 476h8M512 476h16M568 476h24M496 484h16M576 484h24M488 492h16M584 492h24M488 500h8M592 500h16M480 508h16M592 508h16M480 516h16M592 516h16M88 524h8M480 524h16M592 524h16M480 532h16M592 532h16M480 540h16M592 540h16M48 548h8M480 548h24M584 548h16M488 556h24M576 556h24M496 564h24M560 564h32M504 572h80M64 580h8M520 580h48M8 620h8"/>
<path stroke="#2e83f9" d="M200 4h24M384 4h16M184 12h32M392 12h24M488 12h96M176 20h24M400 20h80M600 20h16M168 28h24M424 28h16M616 28h16M160 36h24M624 36h8M152 44h24M608 44h16M152 52h24M432 52h48M584 52h24M144 60h24M424 60h144M144 68h24M424 68h72M144 76h24M424 76h64M144 84h24M424 84h104M144 92h24M432 92h112M152 100h16M440 100h56M504 100h56M152 108h16M536 108h32M152 116h16M552 116h24M160 124h16M552 124h24M160 132h16M392 132h48M560 132h16M160 140h16M376 140h72M560 140h16M160 148h16M360 148h96M552 148h24M160 156h16M344 156h40M408 156h64M552 156h24M160 164h8M328 164h24M432 164h56M536 164h32M160 172h8M320 172h16M456 172h104M160 180h8M312 180h16M480 180h64M152 188h8M304 188h16M152 196h8M304 196h8M152 204h8M296 204h8M144 212h8M288 212h16M144 220h8M288 220h8M136 228h8M280 228h8M136 236h8M280 236h8M128 244h8M272 244h8M128 252h8M272 252h8M760 252h40M128 260h8M264 260h16M752 260h8M800 260h16M120 268h8M264 268h8M744 268h8M808 268h8M120 276h8M256 276h16M736 276h8M112 284h8M256 284h8M368 284h16M728 284h16M112 292h8M256 292h8M344 292h64M720 292h16M112 300h8M248 300h8M336 300h24M384 300h32M616 300h112M248 308h8M328 308h24M400 308h24M568 308h32M240 316h8M328 316h16M408 316h16M544 316h24M104 324h8M240 324h8M328 324h16M408 324h16M536 324h16M232 332h8M328 332h16M408 332h16M528 332h16M232 340h8M328 340h16M400 340h24M520 340h16M96 348h8M224 348h8M336 348h24M392 348h24M528 348h8M224 356h8M344 356h64M528 356h16M808 356h8M216 364h8M360 364h32M544 364h16M792 364h24M216 372h8M560 372h16M776 372h24M208 380h8M584 380h16M744 380h32M208 388h8M616 388h120M200 396h8M200 404h8M192 412h8M184 420h8M184 428h8M176 436h8M160 444h8M152 452h8M88 460h8M144 460h8M136 468h8M528 476h40M512 484h16M560 484h16M504 492h16M576 492h8M496 500h16M576 500h16M496 508h8M584 508h8M64 516h8M496 516h8M584 516h8M496 524h8M584 524h8M56 532h8M496 532h8M576 532h16M80 540h8M496 540h16M576 540h16M504 548h16M568 548h16M512 556h24M552 556h24M520 564h40M56 596h8M16 612h8M0 636h8M40 644h8"/>
<path stroke="#2e86f7" d="M224 4h16M376 4h8M216 12h16M384 12h8M200 20h16M384 20h16M480 20h120M192 28h16M392 28h32M440 28h48M600 28h16M184 36h16M400 36h72M608 36h16M176 44h16M400 44h88M592 44h16M176 52h16M400 52h32M480 52h104M168 60h16M400 60h24M168 68h16M400 68h24M168 76h16M400 76h24M168 84h8M400 84h24M168 92h16M400 92h32M168 100h16M400 100h40M496 100h8M168 108h16M392 108h144M168 116h16M384 116h168M176 124h8M376 124h176M176 132h8M360 132h32M440 132h56M520 132h40M176 140h8M352 140h24M448 140h56M520 140h40M176 148h8M336 148h24M456 148h96M176 156h8M328 156h16M472 156h80M168 164h8M320 164h8M488 164h48M168 172h8M312 172h8M168 180h8M304 180h8M160 188h8M296 188h8M160 196h8M296 196h8M288 204h8M152 212h8M152 220h8M280 220h8M144 228h8M272 228h8M144 236h8M272 236h8M136 244h8M136 252h8M264 252h8M760 260h40M128 268h8M256 268h8M752 268h16M800 268h8M744 276h8M808 276h8M120 284h8M248 284h8M744 284h8M808 284h8M120 292h8M248 292h8M736 292h8M808 292h8M240 300h8M360 300h24M728 300h16M808 300h8M112 308h8M240 308h8M352 308h48M600 308h40M808 308h8M112 316h8M232 316h8M344 316h64M568 316h24M808 316h8M232 324h8M344 324h24M384 324h24M552 324h16M808 324h8M104 332h8M224 332h8M344 332h64M544 332h16M800 332h16M224 340h8M344 340h56M536 340h16M800 340h16M216 348h8M360 348h32M536 348h16M800 348h16M96 356h8M216 356h8M544 356h16M792 356h16M96 364h8M208 364h8M560 364h8M776 364h16M208 372h8M576 372h16M752 372h24M200 380h8M600 380h32M712 380h32M200 388h8M192 396h8M96 404h8M192 404h8M96 412h8M184 412h8M96 420h8M96 428h8M176 428h8M96 436h8M168 436h8M144 452h8M136 460h8M128 468h8M104 484h8M528 484h32M520 492h16M560 492h16M72 500h8M96 500h8M512 500h8M568 500h8M504 508h8M568 508h16M504 516h8M576 516h8M504 524h8M568 524h16M504 532h16M568 532h8M512 540h8M560 540h16M520 548h48M72 556h8M536 556h16M40 572h8M32 588h8M48 612h8"/>
<path stroke="#2d8af5" d="M240 4h8M368 4h8M232 12h8M376 12h8M216 20h16M376 20h8M208 28h16M384 28h8M488 28h32M576 28h24M200 36h16M384 36h16M472 36h32M584 36h24M192 44h16M384 44h16M488 44h104M192 52h8M384 52h16M184 60h16M384 60h16M184 68h8M384 68h16M184 76h8M384 76h16M176 84h16M384 84h16M184 92h8M384 92h16M184 100h8M376 100h24M184 108h8M376 108h16M184 116h8M368 116h16M184 124h8M360 124h16M184 132h8M344 132h16M496 132h24M184 140h8M336 140h16M504 140h16M328 148h8M320 156h8M176 164h8M312 164h8M176 172h8M304 172h8M296 180h8M168 188h8M168 196h8M288 196h8M160 204h8M280 204h8M160 212h8M280 212h8M272 220h8M152 228h8M264 236h8M144 244h8M264 244h8M256 252h8M136 260h8M256 260h8M136 268h8M248 268h8M768 268h32M128 276h8M248 276h8M752 276h16M792 276h16M128 284h8M240 284h8M752 284h8M800 284h8M240 292h8M744 292h16M800 292h8M120 300h8M232 300h8M744 300h8M800 300h8M232 308h8M640 308h104M800 308h8M592 316h16M792 316h16M112 324h8M224 324h8M368 324h16M568 324h16M792 324h16M560 332h8M792 332h8M104 340h8M216 340h8M552 340h8M792 340h8M552 348h8M784 348h16M208 356h8M560 356h8M776 356h16M568 364h16M760 364h16M96 372h8M200 372h8M592 372h16M736 372h16M96 380h8M632 380h80M96 388h8M192 388h8M96 396h8M184 404h8M176 420h8M168 428h8M160 436h8M96 444h8M152 444h8M96 452h8M120 468h8M80 484h8M536 492h24M520 500h16M552 500h16M512 508h16M560 508h8M88 516h8M512 516h8M560 516h16M512 524h16M560 524h8M520 532h8M552 532h16M520 540h40M48 556h8M64 572h8M56 588h8M24 604h8M40 636h8M0 652h8M8 660h8"/>
<path stroke="#2d8df2" d="M248 4h8M240 12h8M368 12h8M232 20h8M368 20h8M224 28h8M376 28h8M520 28h56M216 36h8M376 36h8M504 36h80M208 44h8M376 44h8M200 52h8M376 52h8M200 60h8M376 60h8M192 68h8M376 68h8M192 76h8M376 76h8M192 84h8M376 84h8M192 92h8M368 92h16M192 100h8M368 100h8M192 108h8M360 108h16M192 116h8M352 116h16M192 124h8M344 124h16M336 132h8M328 140h8M184 148h8M320 148h8M184 156h8M312 156h8M184 164h8M304 164h8M296 172h8M176 180h8M176 188h8M288 188h8M280 196h8M168 204h8M272 212h8M160 220h8M264 228h8M152 236h8M152 244h8M256 244h8M144 252h8M144 260h8M248 260h8M136 276h8M240 276h8M768 276h24M760 284h16M784 284h16M128 292h8M232 292h8M760 292h8M792 292h8M752 300h16M784 300h16M120 308h8M224 308h8M744 308h24M776 308h24M120 316h8M224 316h8M608 316h24M720 316h32M776 316h16M216 324h8M584 324h16M776 324h16M112 332h8M216 332h8M568 332h8M776 332h16M208 340h8M560 340h16M776 340h16M104 348h8M208 348h8M560 348h16M776 348h8M104 356h8M568 356h16M768 356h8M200 364h8M584 364h8M752 364h8M608 372h24M712 372h24M192 380h8M184 396h8M176 412h8M168 420h8M160 428h8M152 436h8M144 444h8M104 452h8M136 452h8M104 460h8M120 460h16M88 468h8M112 468h8M104 476h8M536 500h16M528 508h32M520 516h40M64 524h8M528 524h32M80 532h8M528 532h24M56 540h8M8 628h8M32 660h8"/>
<path stroke="#2b91ef" d="M256 4h8M360 4h8M248 12h8M360 12h8M240 20h8M232 28h8M368 28h8M224 36h8M368 36h8M216 44h8M368 44h8M208 52h8M368 52h8M208 60h8M368 60h8M200 68h8M368 68h8M200 76h8M368 76h8M200 84h8M368 84h8M200 92h8M360 92h8M360 100h8M352 108h8M344 116h8M336 124h8M192 132h8M328 132h8M192 140h8M320 140h8M192 148h8M312 148h8M192 156h8M304 156h8M296 164h8M184 172h8M184 180h8M288 180h8M280 188h8M176 196h8M272 204h8M168 212h8M168 220h8M264 220h8M160 228h8M160 236h8M256 236h8M152 252h8M248 252h8M144 268h8M240 268h8M136 284h8M232 284h8M776 284h8M768 292h24M128 300h8M224 300h8M768 300h16M768 308h8M216 316h8M632 316h88M752 316h24M120 324h8M600 324h8M752 324h24M208 332h8M576 332h16M768 332h8M112 340h8M576 340h8M768 340h8M200 348h8M576 348h8M768 348h8M200 356h8M584 356h8M752 356h16M104 364h8M192 364h8M592 364h16M736 364h16M192 372h8M632 372h80M184 388h8M104 404h8M176 404h8M104 412h8M168 412h8M104 420h8M104 428h8M104 436h8M104 444h8M136 444h8M112 452h24M112 460h8M96 492h8M72 508h8M72 548h8M64 564h8M40 580h8M32 596h8M48 604h8M0 644h8"/>
<path stroke="#2994ed" d="M352 4h8M360 20h8M360 28h8M232 36h8M360 36h8M224 44h8M216 52h8M216 60h8M360 60h8M208 68h8M360 68h8M208 76h8M360 76h8M360 84h8M352 92h8M200 100h8M352 100h8M200 108h8M344 108h8M200 116h8M336 116h8M200 124h8M328 124h8M200 132h8M320 132h8M200 140h8M312 140h8M192 164h8M192 172h8M288 172h8M280 180h8M184 188h8M272 196h8M176 204h8M176 212h8M264 212h8M256 220h8M168 228h8M256 228h8M248 236h8M160 244h8M248 244h8M152 260h8M240 260h8M144 276h8M232 276h8M136 292h8M224 292h8M128 308h8M216 308h8M128 316h8M208 324h8M608 324h16M720 324h32M120 332h8M592 332h8M752 332h16M200 340h8M584 340h8M760 340h8M112 348h8M584 348h8M752 348h16M192 356h8M592 356h8M744 356h8M608 364h16M720 364h16M104 372h8M184 372h8M104 380h8M184 380h8M104 388h8M176 388h8M104 396h8M176 396h8M168 404h8M160 420h8M152 428h8M112 436h8M144 436h8M112 444h24M88 476h8M80 492h8M88 508h8M80 524h8M56 548h8M48 564h8M56 580h8M16 620h8M40 628h8"/>
<path stroke="#2798ea" d="M264 4h8M256 12h8M352 12h8M248 20h8M352 20h8M240 28h8M232 44h8M360 44h8M224 52h8M360 52h8M216 68h8M352 76h8M208 84h8M352 84h8M208 92h8M208 100h8M344 100h8M208 108h8M336 108h8M328 116h8M200 148h8M304 148h8M200 156h8M296 156h8M288 164h8M280 172h8M192 180h8M272 188h8M184 196h8M184 204h8M264 204h8M256 212h8M176 220h8M248 228h8M168 236h8M240 244h8M160 252h8M240 252h8M152 268h8M232 268h8M144 284h8M224 284h8M136 300h8M216 300h8M136 308h8M208 316h8M128 324h8M624 324h24M696 324h24M200 332h8M600 332h16M736 332h16M120 340h8M592 340h8M744 340h16M192 348h8M592 348h8M744 348h8M112 356h8M600 356h8M728 356h16M112 364h8M184 364h8M624 364h16M704 364h16M176 380h8M168 396h8M160 412h8M112 420h8M152 420h8M112 428h8M144 428h8M120 436h24M96 460h8M104 468h8M96 484h8M80 500h8M72 516h8M64 532h8M72 540h8M64 556h8M48 572h8M40 588h8M48 596h8M24 612h8M40 620h8"/>
<path stroke="#259be8" d="M272 4h8M344 4h8M264 12h8M344 12h8M256 20h8M248 28h8M352 28h8M240 36h8M352 36h8M352 44h8M352 52h8M224 60h8M352 60h8M352 68h8M216 76h8M216 84h8M344 84h8M344 92h8M336 100h8M208 116h8M208 124h8M320 124h8M208 132h8M312 132h8M208 140h8M304 140h8M296 148h8M288 156h8M200 164h8M200 172h8M272 180h8M192 188h8M264 196h8M256 204h8M184 212h8M248 220h8M176 228h8M240 236h8M168 244h8M232 252h8M160 260h8M232 260h8M152 276h8M224 276h8M144 292h8M216 292h8M144 300h8M208 308h8M136 316h8M200 324h8M648 324h48M128 332h8M616 332h8M720 332h16M192 340h8M600 340h8M736 340h8M120 348h8M600 348h8M736 348h8M184 356h8M608 356h16M720 356h8M640 364h64M112 372h8M176 372h8M112 380h8M112 388h8M168 388h8M112 396h8M112 404h8M160 404h8M112 412h8M152 412h8M144 420h8M120 428h24M96 468h8M96 476h8M88 484h8M88 492h8M88 500h8M80 508h8M80 516h8M72 524h8M72 532h8M64 540h8M64 548h8M56 556h8M56 564h8M56 572h8M48 580h8M48 588h8M32 604h8M32 652h8"/>
<path stroke="#249ee6" d="M336 4h8M344 20h8M240 44h8M232 52h8M224 68h8M344 68h8M224 76h8M344 76h8M216 92h8M336 92h8M216 100h8M216 108h8M328 108h8M320 116h8M312 124h8M208 148h8M208 156h8M280 164h8M272 172h8M200 180h8M264 188h8M192 196h8M256 196h8M192 204h8M248 212h8M184 220h8M240 228h8M176 236h8M232 244h8M168 252h8M224 260h8M160 268h8M224 268h8M216 276h8M152 284h8M216 284h8M152 292h8M208 300h8M144 308h8M200 316h8M136 324h8M192 332h8M624 332h16M704 332h16M128 340h8M608 340h16M720 340h16M184 348h8M608 348h16M720 348h16M120 356h8M624 356h16M704 356h16M120 364h8M176 364h8M168 380h8M160 396h8M152 404h8M120 412h8M120 420h24M40 596h8M40 604h8M40 612h8M8 636h8M16 660h16"/>
<path stroke="#22a1e4" d="M280 4h8M272 12h8M336 12h8M264 20h8M256 28h8M344 28h8M248 36h8M344 36h8M344 44h8M240 52h8M344 52h8M232 60h8M344 60h8M224 84h8M336 84h8M328 100h8M320 108h8M216 116h8M216 124h8M216 132h8M304 132h8M296 140h8M288 148h8M280 156h8M208 164h8M208 172h8M264 180h8M200 188h8M256 188h8M200 196h8M248 204h8M192 212h8M240 220h8M184 228h8M232 236h8M176 244h8M224 252h8M168 260h8M168 268h8M216 268h8M160 276h8M160 284h8M208 284h8M208 292h8M152 300h8M200 300h8M200 308h8M144 316h8M192 324h8M136 332h8M640 332h64M184 340h8M624 340h8M704 340h16M128 348h8M624 348h8M712 348h8M176 356h8M640 356h24M680 356h24M120 372h8M168 372h8M120 380h8M120 388h8M160 388h8M120 396h8M152 396h8M120 404h8M128 412h24"/>
<path stroke="#20a4e3" d="M288 4h8M328 4h8M336 20h8M248 44h8M232 68h8M336 68h8M232 76h8M336 76h8M224 92h8M328 92h8M224 100h8M224 108h8M312 116h8M304 124h8M296 132h8M216 140h8M216 148h8M216 156h8M272 164h8M264 172h8M208 180h8M208 188h8M248 196h8M200 204h8M240 212h8M192 220h8M192 228h8M232 228h8M184 236h8M184 244h8M224 244h8M176 252h8M176 260h8M216 260h8M168 276h8M208 276h8M160 292h8M200 292h8M152 308h8M192 308h8M192 316h8M144 324h8M184 324h8M144 332h8M184 332h8M136 340h8M176 340h8M632 340h24M688 340h16M136 348h8M176 348h8M632 348h16M688 348h24M128 356h8M168 356h8M664 356h16M128 364h8M168 364h8M160 372h8M160 380h8M152 388h8M128 396h8M144 396h8M128 404h24M32 612h8M16 628h8M32 644h8"/>
<path stroke="#1ea7e1" d="M296 4h32M280 12h8M328 12h8M272 20h8M264 28h8M336 28h8M256 36h8M336 36h8M336 44h8M248 52h8M336 52h8M240 60h8M336 60h8M232 84h8M328 84h8M320 100h8M312 108h8M224 116h8M224 124h8M224 132h8M288 140h8M280 148h8M272 156h8M216 164h8M264 164h8M216 172h8M216 180h8M256 180h8M248 188h8M208 196h8M240 196h8M208 204h8M240 204h8M200 212h8M232 212h8M200 220h8M232 220h8M224 228h8M192 236h8M224 236h8M192 244h8M216 244h8M184 252h8M216 252h8M184 260h8M208 260h8M176 268h8M208 268h8M176 276h8M200 276h8M168 284h8M200 284h8M168 292h8M192 292h8M160 300h8M192 300h8M160 308h8M184 308h8M152 316h8M184 316h8M152 324h8M176 324h8M176 332h8M144 340h8M168 340h8M656 340h32M144 348h8M168 348h8M648 348h40M136 356h8M160 356h8M136 364h8M160 364h8M128 372h8M152 372h8M128 380h8M152 380h8M128 388h24M136 396h8M24 620h16M32 636h8"/>
<path stroke="#1caadf" d="M288 12h8M320 12h8M280 20h8M328 20h8M256 44h8M240 68h8M328 76h8M232 92h8M320 92h8M232 100h8M304 116h8M296 124h8M288 132h8M224 140h8M280 140h8M224 148h8M272 148h8M224 156h8M224 164h8M224 172h8M256 172h8M224 180h8M248 180h8M216 188h16M240 188h8M216 196h24M216 204h24M208 212h24M208 220h24M200 228h24M200 236h24M200 244h16M192 252h24M192 260h16M184 268h24M184 276h16M176 284h24M176 292h16M168 300h24M168 308h16M160 316h24M160 324h16M152 332h24M152 340h16M152 348h16M144 356h16M144 364h16M136 372h16M136 380h16M32 628h8M8 652h8"/>
<path stroke="#19addc" d="M296 12h24M320 20h8M272 28h8M328 28h8M264 36h8M328 36h8M328 44h8M328 52h8M248 60h8M328 60h8M328 68h8M240 76h8M240 84h8M320 84h8M312 100h8M232 108h8M304 108h8M232 116h8M232 124h8M232 132h8M232 140h8M232 148h8M232 156h8M264 156h8M232 164h8M248 164h16M232 172h24M232 180h16M232 188h8M8 644h8"/>
<path stroke="#15afd9" d="M288 20h8M312 20h8M280 28h8M320 28h8M272 36h8M264 44h8M256 52h8M248 68h8M320 76h8M240 92h8M312 92h8M296 116h8M288 124h8M280 132h8M272 140h8M240 148h8M264 148h8M240 156h24M240 164h8M24 628h8"/>
<path stroke="#10b2d5" d="M296 20h16M320 36h8M256 60h8M320 60h8M320 68h8M248 76h8M312 84h8M240 100h8M304 100h8M240 108h8M296 108h8M240 116h8M288 116h8M240 124h8M240 132h8M272 132h8M240 140h16M264 140h8M248 148h16M16 636h8"/>
<path stroke="#09b4d1" d="M288 28h32M280 36h8M272 44h8M320 44h8M264 52h8M320 52h8M256 68h8M312 76h8M248 84h8M248 92h8M304 92h8M248 124h8M280 124h8M248 132h24M256 140h8M24 652h8"/>
<path stroke="#04b6cd" d="M288 36h8M312 36h8M312 44h8M272 52h8M312 52h8M264 60h8M312 60h8M312 68h8M256 76h8M304 84h8M248 100h8M296 100h8M248 108h8M288 108h8M248 116h8M280 116h8M256 124h24M24 636h8M24 644h8"/>
<path stroke="#01b8c9" d="M296 36h16M280 44h8M304 44h8M264 68h8M304 76h8M256 84h8M256 92h8M296 92h8M256 100h8M288 100h8M256 108h8M280 108h8M256 116h24"/>
<path stroke="#02bac4" d="M288 44h16M280 52h32M272 60h8M304 60h8M272 68h8M304 68h8M264 76h8M296 76h8M264 84h8M296 84h8M264 92h8M288 92h8M264 100h8M280 100h8M264 108h16M16 644h8M16 652h8"/>
<path stroke="#06bcc0" d="M280 60h24M280 68h24M272 76h8M288 76h8M272 84h24M272 92h16M272 100h8"/>
<path stroke="#0dbdbb" d="M280 76h8"/>
</g>
<g fill="#fff">
<polygon points="-16.3,-18.3 561.2,-18.3 565.9,3.1 532.5,12.7 470.5,10.3 465.7,27 453.8,48.5 422.8,74.7 413.2,81.9 403.7,70 375,66.6 355.9,60.4 348.8,43.7 344,22.2 327.3,16 279.6,20.8 250.9,29.4 222.3,41.3 198.4,50.9 184.1,67.6 174.6,77.1 150.7,86.7 112.5,91.4 69.6,105.7 64.8,134.4 60,182.1 59.1,220.3 61,258.5 57.6,287.1 60,325.3 55.2,353.9 45.7,373 33.8,387.3 31.4,411.2 21.8,435.1 -16.3,449.4"/>
<polygon points="580.3,196.4 589.8,189.3 623.2,191.7 630.4,201.2 630.4,220.3 613.7,225.1 585,225.1 577.9,215.5"/>
<polygon points="537.3,234.6 546.9,220.3 561.2,234.6 573.1,241.8 585,237 577.9,258.5 565.9,272.8 551.6,268 537.3,260.9"/>
<polygon points="511.1,265.6 518.2,248.9 523.9,248.9 523.9,273.8 511.1,273.8"/>
<polygon points="656.6,182.1 661.4,182.1 661.4,194 656.6,194"/>
<polygon points="564.1,308.5 568.7,299.2 574.9,288.3 581.1,282.1 624.6,280.6 630.8,268.1 652.6,246.4 661.9,226.2 671.2,226.2 689.8,204.5 705.4,202.9 708.5,206 745.7,206 755,201.4 762.8,201.4 776.8,207.6 786.1,196.7 801.6,195.2 806.3,204.5 804.7,226.2 795.4,238.6 786.1,248 776.8,258.8 767.5,263.5 755,265 736.4,274.4 724,286.8 714.7,299.2 702.3,300.8 692.9,310.1 685.2,327.1 655.7,327.1 660.3,310.1 655.7,314.7 646.4,314.7 627.7,320.9 615.3,328.7 604.4,320.9 592,328.7 584.3,330.3 565.6,325.6 562.5,317.8"/>
<polygon points="568.7,345.8 581.1,338 592,330.3 599.8,336.5 601.3,352 592,361.3 584.3,372.2 568.7,373.7 564.1,367.5 565.6,355.1"/>
<polygon points="750.4,330.3 753.5,320.9 770.6,324 786.1,320.9 792.3,307 826.5,305.4 826.5,414.1 750.4,414.1"/>
<polygon points="576.5,401.7 584.3,387.7 592,375.3 599.8,362.9 618.4,359.8 621.5,367.5 637,362.9 640.1,372.2 665,370.6 669.6,359.8 708.5,358.2 724,344.2 744.2,336.5 753.5,336.5 753.5,406.3 576.5,406.3"/>
<polygon points="561.2,406.4 568.3,394.5 587.4,391.2 608.9,387.3 828.5,387.3 828.5,707.1 465.7,707.1 470.5,678.5 480,659.4 475.3,635.5 470.5,611.7 489.6,606.9 499.1,592.6 513.4,573.5 523,554.4 537.3,559.2 551.6,549.6 575.5,540.1 577.9,516.2 573.1,492.4 565.9,468.5 565.9,444.6 573.1,420.8 561.2,416"/>
<polygon points="429.9,516.2 439.5,509.1 458.6,510.5 461.9,525.8 458.6,540.1 437.1,540.1 428.5,528.1"/>
<polygon points="465.7,554.4 480,544.9 499.1,547.2 501.5,563.9 494.4,580.6 470.5,580.6 463.3,568.7"/>
<polygon points="437.1,592.6 451.4,587.8 470.5,590.2 472.9,606.9 465.7,616.4 446.6,614.1"/>
<polygon points="119.7,158.3 131.6,153.5 134,170.2 119.7,172.6"/>
<polygon points="136.4,127.2 148.3,117.7 149.7,139.2 138.8,136.8"/>
<polygon points="145.9,344.4 153.1,325.3 165,320.5 169.8,306.2 177,306.2 172.2,334.8 160.3,363.5 153.1,373 145.9,363.5"/>
<polygon points="192.7,273.8 198.4,273.8 198.4,282.3 192.7,282.3"/>
<polygon points="0.4,486.1 17.4,476.5 34.3,478.9 65.7,476.5 65.7,486.1 53.6,505.4 46.3,524.8 41.5,546.5 31.8,558.6 29.4,570.6 41.5,582.7 58.4,563.4 70.5,573.1 70.5,594.8 63.2,626.2 58.4,645.5 51.2,674.5 36.7,693.8 7.7,693.8 17.4,662.4 34.3,640.7 29.4,628.6 2.9,621.4 0.4,606.9 10.1,582.7 14.9,558.6 12.5,534.4 14.9,510.3 0.4,500.6"/>
<polygon points="111.5,614.1 128.5,597.2 138.1,590 155,587.5 157.4,573.1 169.5,558.6 176.8,548.9 171.9,524.8 184,519.9 193.7,534.4 188.8,548.9 184,565.8 188.8,582.7 176.8,597.2 171.9,614.1 186.4,616.5 196.1,609.3 210.6,602 217.8,611.7 215.4,628.6 220.2,633.4 246.8,635.9 263.7,645.5 285.4,645.5 290.3,662.4 283,676.9 258.9,686.6 234.7,684.2 210.6,693.8 186.4,693.8 184,669.7 171.9,657.6 159.8,655.2 145.4,647.9 128.5,662.4 114,647.9"/>
<polygon points="326.5,638.3 341,626.2 365.1,621.4 384.5,623.8 382,645.5 370,652.8 355.5,655.2 343.4,664.8 331.3,679.3 319.2,693.8 295.1,693.8 304.8,674.5 316.8,664.8"/>
<polygon points="391.7,626.2 418.3,626.2 418.3,693.8 370,693.8 389.3,664.8 394.1,645.5"/>
<polygon points="400.8,623.8 420.1,623.8 427.4,638.3 427.4,666 460,666 463.6,693.8 400.8,693.8"/>
<polygon points="465.7,9.3 476.7,9.3 476.7,18.9 465.7,18.9"/>
<polygon points="510.1,12.7 542.1,11.7 559.7,14.1 556.4,21.7 527.8,20.8 511.1,17.5"/>
</g>
<polygon fill="#484aee" points="690.6,500.6 695.4,486.1 707.5,471.6 722,457.1 731.7,449.9 738.9,462 724.4,476.5 705.1,486.1 700.3,498.2"/>
<polygon fill="#4743e7" points="740.1,500.6 758.2,495.8 775.1,492.1 777.6,500.6 760.6,507.8 751,515.1 741.3,519.9"/>
<polygon fill="#4743e7" points="746.2,544.1 767.9,545.3 770.3,558.6 755.8,562.2 743.7,556.2"/>
<polygon fill="#2699ea" points="584.3,635.9 594,634.6 594,640.7 586.8,645.5"/>
<polygon fill="#2e85f8" points="461.2,690.2 466,674.5 475.7,662.4 482.9,650.3 487.7,652.8 485.3,664.8 475.7,674.5 468.4,690.2"/>
<g fill="none" stroke="#000" stroke-width="10" stroke-linejoin="round" stroke-linecap="round">
<polyline points="51.2,107.1 65.7,101.1 89.8,92.6 114,86.6 138.1,80.6 162.3,74.5 174.3,68.5 184,54 193.7,46.7 210.6,43.1 225.1,35.9 239.5,27.4 258.9,22.6 283,19 307.2,15.4 331.3,14.9 336,18.8 341.5,27.1 347,34 351.1,46.4 355.3,56.1 362.2,64.3 373.2,70.6 388.4,72.6 405,73.3 416,77.5 429.8,71.2 443.6,60.2 453.3,47.8 458.1,34 459.5,18.8 457.4,6.4 460.9,-0.2"/>
<polyline points="331.3,14 347,19.5 360.8,27.8 370.5,36.7 374.6,44.3 372.5,46.4"/>
<polyline points="460.9,1.1 471.2,1.1 485,1.6 498.8,2.5 512.6,3.6 526.4,6.7 540.2,10.1 554,8.5 566.4,4.3"/>
<polyline points="451.5,60 499.8,68.5 548.1,73.3 596.4,73.3 644.7,69.7 680.9,66.1 688.2,63.7"/>
<polyline points="680.9,2.1 690.6,17.8 680.9,32.3 672.5,44.3 676.1,56.4 688.2,63.7"/>
<polyline points="688.2,63.7 707.5,75.7 726.8,86.6 738.9,95.1 737.7,112 738.9,116.8"/>
<polyline points="738.9,116.8 758.2,119.2 767.9,113.2 780,115.6 787.2,112 799.3,116.8 816.2,118"/>
<polyline points="738.9,116.8 746.2,140.9 751,160.3 758.2,179.6 767.9,198.9 770.3,215.8 771.5,232.7 767.9,252 753.4,261.7 734.1,266.5 722,278.6 714.8,295.5 714.8,305.2 736.5,314.8 751,329.3 747.4,341.2 743.7,355.7 738.9,367.8 743.7,382.3 751,396.7 748.6,411.2 760.6,423.3 770.3,437.8 777.6,452.3 782.4,462 775.1,469.2 782.4,481.3 786,495.8 777.6,505.4 760.6,507.8"/>
<polyline points="760.6,507.8 741.3,519.9 717.2,544.1 693,573.1 676.1,597.2 671.3,609.3 676.1,626.2 678.5,647.9 680.9,657.6"/>
<polyline points="741.3,372.6 760.6,372.6 775.1,379.8 789.6,370.2 801.7,360.5 806.5,350.9 816.2,344.8"/>
<polyline points="680.9,657.6 693,662.4 688.2,669.7"/>
<polyline points="676.1,657.6 659.2,669.7 649.5,690.2"/>
<polyline points="676.1,657.6 659.2,655.2 639.9,647.9 625.4,640.7 615.7,626.2 601.2,621.4 591.6,617.7 577.1,617.7 565,616.5 550.5,621.4 538.5,634.6 524,626.2 519.1,618.9 504.6,622.6 490.1,625 478.1,635.9 473.2,647.9 461.2,645.5 449.1,644.3 446.7,631 437,623.8 427.4,606.9 422.5,600.8 412.9,606.9 403.2,618.9"/>
<polyline points="403.8,618.9 389.3,623.8 382,611.7 372.4,594.8 357.9,582.7 353.1,568.2 331.3,561 312,551.3 299.9,558.6 290.3,551.3 280.6,539.2 290.3,532 287.9,522.3 275.8,524.8 258.9,519.9 239.5,510.3 222.6,507.8 227.5,512.7 232.3,527.2 220.2,534.4 208.2,546.5 200.9,541.7 191.2,527.2 179.2,515.1 169.5,507.8 179.2,500.6 188.8,490.9 181.6,482.5 167.1,483.7 152.6,483.7 138.1,475.2 118.8,469.2 101.9,462 94.6,447.5 82.6,445.1 72.9,457.1 58.4,462"/>
<polyline points="377.2,604.5 355.5,609.3 341,623.8 326.5,638.3 319.2,657.6 304.8,669.7 287.9,679.3 266.1,686.6 246.8,684.2 237.1,690.2"/>
<polyline points="58.4,462 47.5,459.5 41.5,447.5 31.8,440.2 19.8,442.6 17.4,452.3 7.7,462 -3.2,468"/>
<polyline points="72.9,690.2 75.3,669.7 89.8,672.1 109.1,676.9 128.5,684.2 150.2,690.2"/>
<polyline points="19.8,140.9 24.6,160.3 29.4,179.6 31.8,191.7 24.6,203.7 19.8,215.8 7.7,225.5 7.7,237.5 22.2,247.2 34.3,256.9 45.1,266.5 42.7,281 40.3,290.7 48.7,302.8 56,314.8 54.8,329.3 48.7,341.4 41.5,350.9 48.7,365.4 56,379.8 68.1,391.9 75.3,406.4 77.7,420.9 74.1,437.8 68.1,452.3 58.4,462"/>
<polyline points="194.9,689 196.1,689"/>
</g><g fill="#000" stroke="#000" stroke-width="3" stroke-linejoin="round">
<polygon points="-6.6,108.3 1.1,98.4 8,105.7 15.8,112.6 25.3,113.9 33.1,110.9 43.4,105.7 63.2,99.7 65,107.4 59.8,119.5 53.8,126.4 48.6,136.8 47.7,142.8 52,148.8 52,154 46.9,160.9 41.7,161.8 36.5,154 31.3,148.8 28.7,155.7 31.3,166.1 33.9,171.3 22.7,171.3 18.4,157.5 14.9,147.1 5.5,144.5 -3.2,141.9 -5.8,131.6 -4,119.5"/>
<polygon points="461.5,29.2 485,29.4 498.8,30.9 499.5,34 485,42 471.2,50.3 457.4,58.5 451.9,57.2 456,46.4 459.5,35.4"/>
<polygon points="401.5,74 416,88.9 432.6,72.6"/>
</g><g fill="#ddd">
<polygon points="4.6,129.9 13.6,129.9 13.6,133.7 4.6,133.7"/>
<polygon points="28.3,132 36.1,131.1 36.7,139.8 30,142.1 26.8,136.8"/>
</g>
</g></g>
<rect x="106.8" y="38.8" width="814.7" height="690.2" fill="none" stroke="#b0b0b0" stroke-width="3"/>
<path d="M262.0 38.8v7M262.0 729.0v-7M417.2 38.8v7M417.2 729.0v-7M572.3 38.8v7M572.3 729.0v-7M727.5 38.8v7M727.5 729.0v-7M882.7 38.8v7M882.7 729.0v-7M106.8 706.7h7M921.5 706.7h-7M106.8 595.4h7M921.5 595.4h-7M106.8 484.1h7M921.5 484.1h-7M106.8 372.8h7M921.5 372.8h-7M106.8 261.4h7M921.5 261.4h-7M106.8 150.1h7M921.5 150.1h-7" stroke="#9a9a9a" stroke-width="2" fill="none"/>
<clipPath id="cB"><rect width="816.7" height="691.3"/></clipPath>
<g transform="translate(106.8 749.0)"><g clip-path="url(#cB)">
<g fill="none" stroke-width="8.6" shape-rendering="crispEdges">
<path stroke="#463adb" d="M0 132h8M0 140h16M0 148h24M0 156h24M0 164h24M0 172h24M0 180h32M0 188h32M0 196h32M0 204h24M0 212h24M0 220h16M0 228h8M0 236h8M0 244h16M0 252h24M0 260h40M0 268h48M0 276h40M0 284h40M0 292h40M0 300h48M0 308h48M0 316h56M0 324h56M0 332h56M0 340h48M0 348h48M0 356h40M0 364h48M0 372h48M0 380h56M0 388h64M0 396h72M0 404h72M0 412h80M0 420h80M0 428h80M0 436h72M0 444h16M40 444h32M0 452h16M40 452h32M0 460h8M48 460h16"/>
<path stroke="#4745e9" d="M232 516h16M232 524h40M224 532h64M192 540h8M216 540h64M184 548h104M184 556h112M304 556h16M184 564h128M184 572h120M184 580h120M176 588h120M176 596h120M176 604h120M176 612h120M424 612h8M168 620h128M424 620h8M560 620h40M168 628h128M416 628h24M488 628h40M544 628h72M168 636h128M416 636h32M480 636h144M168 644h136M416 644h32M480 644h152M168 652h136M408 652h240M160 660h152M400 660h272M160 668h160M392 668h272M160 676h184M368 676h288M160 684h496M160 692h488"/>
<path stroke="#4849ed" d="M88 452h8M96 460h8M96 468h16M96 476h40M88 484h48M176 484h8M88 492h48M176 492h16M88 500h40M176 500h8M88 508h40M88 516h40M88 524h40M176 524h8M88 532h32M176 532h16M80 540h40M168 540h24M80 548h40M168 548h16M80 556h40M168 556h16M80 564h32M168 564h16M312 564h24M80 572h32M168 572h16M304 572h48M80 580h32M160 580h24M304 580h32M80 588h32M160 588h16M296 588h32M72 596h40M160 596h16M296 596h24M72 604h32M160 604h16M296 604h24M72 612h32M160 612h16M296 612h24M408 612h16M72 620h32M152 620h16M296 620h24M408 620h16M72 628h32M152 628h16M296 628h24M392 628h24M72 636h32M152 636h16M296 636h24M392 636h24M64 644h32M152 644h16M304 644h24M384 644h32M64 652h32M152 652h16M304 652h40M368 652h40M64 660h32M144 660h16M312 660h88M64 668h32M144 668h16M320 668h72M64 676h32M144 676h16M344 676h24M64 684h24M144 684h16M64 692h24M136 692h24"/>
<path stroke="#484cf0" d="M88 460h8M0 468h8M88 468h8M0 476h8M88 476h8M0 484h8M136 484h8M136 492h8M168 492h8M80 500h8M128 500h8M168 500h8M80 508h8M128 508h8M80 516h8M168 516h8M80 524h8M168 524h8M80 532h8M120 532h8M168 532h8M120 540h8M72 548h8M120 548h8M72 556h8M160 556h8M72 564h8M112 564h8M160 564h8M72 572h8M112 572h8M160 572h8M72 580h8M112 580h8M336 580h16M72 588h8M112 588h8M152 588h8M328 588h8M152 596h8M320 596h8M64 604h8M104 604h8M152 604h8M320 604h8M64 612h8M104 612h8M152 612h8M64 620h8M104 620h8M320 620h8M64 628h8M144 628h8M320 628h8M384 628h8M64 636h8M144 636h8M320 636h16M376 636h16M96 644h8M144 644h8M328 644h16M368 644h16M56 652h8M96 652h8M144 652h8M344 652h24M56 660h8M96 660h8M56 668h8M136 668h8M56 676h8M136 676h8M56 684h8M88 684h8M136 684h8M56 692h8M88 692h8"/>
<path stroke="#4850f3" d="M16 444h8M80 452h8M8 460h8M80 460h8M80 468h8M80 476h8M80 484h8M144 484h8M0 492h8M80 492h8M160 492h8M0 500h8M136 500h8M0 508h8M0 516h8M128 516h8M72 524h8M128 524h8M72 532h8M128 532h8M160 532h8M72 540h8M160 540h8M160 548h8M120 556h8M120 564h8M64 572h8M120 572h8M152 572h8M64 580h8M152 580h8M352 580h8M64 588h8M336 588h8M64 596h8M112 596h8M328 596h8M112 604h8M144 612h8M320 612h8M144 620h8M56 628h8M104 628h8M328 628h8M376 628h8M56 636h8M104 636h8M336 636h8M368 636h8M56 644h8M104 644h8M136 644h8M344 644h24M136 652h8M136 660h8M96 668h8M48 676h8M96 676h8M48 684h8M96 684h8M128 684h8M48 692h8M128 692h8"/>
<path stroke="#4854f5" d="M16 452h8M8 468h8M8 476h8M8 484h8M144 492h16M72 500h8M160 500h8M72 508h8M136 508h8M160 508h8M72 516h8M160 516h8M0 524h8M160 524h8M0 532h8M128 540h8M64 548h8M128 548h8M64 556h8M152 556h8M64 564h8M152 564h8M120 580h8M120 588h8M144 588h8M344 588h16M144 596h8M336 596h8M56 604h8M144 604h8M328 604h8M56 612h8M112 612h8M328 612h8M376 612h8M56 620h8M112 620h8M328 620h8M376 620h8M112 628h8M136 628h8M136 636h8M344 636h24M104 652h8M48 660h8M104 660h8M48 668h8M128 668h8M128 676h8M96 692h8"/>
<path stroke="#4758f8" d="M24 444h8M16 460h8M72 460h8M72 468h8M72 476h8M72 484h8M8 492h8M72 492h8M8 500h8M144 500h16M136 516h8M136 524h8M64 532h8M136 532h8M152 532h8M0 540h8M64 540h8M152 540h8M0 548h8M152 548h8M0 556h8M128 556h8M128 564h8M128 572h8M144 572h8M144 580h8M56 588h8M56 596h8M120 596h8M344 596h8M368 596h8M120 604h8M136 604h8M336 604h8M120 612h8M136 612h8M136 620h8M336 628h8M368 628h8M48 636h8M112 636h8M48 644h8M112 644h8M128 644h8M48 652h8M128 652h8M128 660h8M104 668h8M104 676h8M104 684h8M120 684h8M40 692h8M120 692h8"/>
<path stroke="#475bfa" d="M16 4h8M16 12h8M16 20h8M16 28h8M16 36h8M16 44h8M16 52h8M16 60h8M16 68h8M16 76h8M16 84h8M16 92h8M16 100h8M16 108h8M16 116h8M16 124h8M16 132h8M16 140h8M24 148h8M24 156h8M24 164h8M24 172h8M32 180h8M32 188h8M32 196h8M24 204h8M24 212h8M16 220h8M8 228h8M8 236h8M16 244h8M24 252h8M40 260h8M48 268h8M40 276h8M40 284h8M40 292h8M48 300h8M48 308h8M56 316h8M56 324h8M56 332h8M48 340h8M40 356h8M48 364h8M48 372h8M56 380h8M24 452h8M16 468h8M8 508h8M144 508h16M8 516h8M64 516h8M144 516h16M8 524h8M64 524h8M144 524h16M144 532h8M136 540h16M136 548h16M136 556h16M0 564h8M56 564h8M136 564h16M0 572h8M56 572h8M136 572h8M56 580h8M128 580h16M128 588h16M128 596h16M352 596h16M128 604h8M368 604h8M128 612h8M336 612h8M368 612h8M48 620h8M120 620h16M336 620h8M368 620h8M48 628h8M120 628h16M344 628h24M120 636h16M120 644h8M112 652h16M112 660h16M40 668h8M112 668h16M40 676h8M112 676h16M40 684h8M112 684h8M104 692h16"/>
<path stroke="#465ffb" d="M24 4h8M24 12h8M24 20h8M24 28h8M24 36h8M24 44h8M24 52h8M24 60h8M24 68h8M24 76h8M24 84h8M24 92h8M24 100h8M24 108h8M24 116h8M24 124h8M24 132h8M24 140h8M32 148h8M32 156h8M32 164h8M32 172h8M40 180h8M40 188h8M40 196h8M32 204h8M32 212h8M24 220h8M16 228h8M16 236h8M24 244h8M32 252h8M48 260h8M56 268h8M48 276h8M48 284h8M48 292h8M56 300h8M56 308h8M64 316h8M64 324h8M64 332h8M56 340h8M48 348h8M48 356h8M56 364h8M56 372h8M64 380h8M64 388h8M32 444h8M16 476h8M16 484h8M64 500h8M64 508h8M8 532h8M8 540h8M56 548h8M56 556h8M0 580h8M0 588h8M48 604h8M344 604h24M48 612h8M344 612h8M344 620h8M360 620h8M40 652h8M40 660h8"/>
<path stroke="#4563fc" d="M32 4h8M32 12h8M32 20h8M32 28h8M32 36h8M32 44h8M32 52h8M32 60h8M32 68h8M32 76h8M32 84h8M32 92h8M32 100h8M32 108h8M32 116h8M32 124h8M32 132h8M32 140h8M40 156h8M40 164h8M40 172h8M40 204h8M24 228h8M24 236h8M32 244h8M40 252h8M56 276h8M56 284h8M56 292h8M64 308h8M72 316h8M64 340h8M56 348h8M56 356h8M64 372h8M72 388h8M72 396h8M72 404h8M24 460h8M64 460h8M64 468h8M64 476h8M64 484h8M16 492h8M64 492h8M16 500h8M56 532h8M56 540h8M8 548h8M8 556h8M48 588h8M0 596h8M48 596h8M0 604h8M352 612h16M352 620h8M40 636h8M40 644h8M32 692h8"/>
<path stroke="#4367fd" d="M40 4h8M40 12h8M40 20h8M40 28h8M40 36h8M40 44h8M40 52h8M40 60h8M40 68h8M40 76h8M40 84h8M40 92h8M40 100h8M40 108h8M40 116h8M40 124h8M40 132h8M40 140h8M40 148h8M48 172h8M48 180h8M48 188h8M48 196h8M40 212h8M32 220h8M48 252h8M56 260h8M64 268h8M64 276h8M64 300h8M72 308h8M72 324h8M72 332h8M64 348h8M64 356h8M64 364h8M72 380h8M32 452h8M24 468h8M16 508h8M16 516h8M56 516h8M56 524h8M8 564h8M8 572h8M48 572h8M48 580h8M0 612h8M0 620h8M40 620h8M40 628h8M32 676h8M32 684h8"/>
<path stroke="#416bfe" d="M48 156h8M48 164h8M56 188h8M48 204h8M40 220h8M32 228h8M32 236h8M40 244h8M64 284h8M64 292h8M72 300h8M80 316h8M80 324h8M72 340h8M72 372h8M80 388h8M80 396h8M80 404h8M80 412h8M72 436h8M24 476h8M56 500h8M56 508h8M16 524h8M16 532h8M48 556h8M48 564h8M8 580h8M8 588h8M40 604h8M40 612h8M0 628h8M0 636h8M32 660h8M32 668h8"/>
<path stroke="#3f6fff" d="M48 4h8M48 12h8M48 20h8M48 28h8M48 36h8M48 44h8M776 44h24M48 52h8M776 52h24M48 60h8M776 60h24M48 68h8M48 76h8M48 84h8M48 92h8M48 100h8M48 108h8M48 116h8M48 124h8M48 132h8M48 140h8M48 148h8M56 172h8M56 180h8M56 196h8M48 212h8M56 252h8M64 260h8M72 268h8M72 276h8M72 284h8M80 308h8M80 332h8M72 348h8M72 356h8M72 364h8M80 420h8M72 444h8M32 460h8M56 468h8M24 484h8M56 484h8M24 492h8M56 492h8M16 540h8M48 540h8M16 548h8M48 548h8M40 588h8M8 596h8M40 596h8M8 604h8M0 644h8M32 644h8M0 652h8M32 652h8"/>
<path stroke="#3b73fe" d="M776 28h24M768 36h40M768 44h8M800 44h16M768 52h8M800 52h16M768 60h8M800 60h16M776 68h32M56 148h8M56 156h8M56 164h8M64 180h8M64 188h8M64 196h8M56 204h8M56 212h8M48 220h8M40 228h8M40 236h8M48 244h8M72 260h8M72 292h8M80 300h8M88 316h8M88 324h8M80 340h8M80 372h8M80 380h8M80 428h8M72 452h8M40 460h8M32 468h8M56 476h8M24 500h8M24 508h8M24 516h8M48 524h8M48 532h8M16 556h8M16 564h8M40 572h8M40 580h8M8 612h8M8 620h8M32 628h8M32 636h8M0 660h8M0 668h8M24 676h8M24 684h8M24 692h8"/>
<path stroke="#3777fe" d="M56 4h8M56 12h8M56 20h8M768 20h40M56 28h8M760 28h16M800 28h16M56 36h8M760 36h8M808 36h16M56 44h8M760 44h8M816 44h8M56 52h8M760 52h8M816 52h8M56 60h8M760 60h8M816 60h8M56 68h8M760 68h16M808 68h8M56 76h8M768 76h48M56 84h8M56 92h8M56 100h8M56 108h8M56 116h8M56 124h8M56 132h8M56 140h8M64 164h8M64 172h8M64 204h8M56 244h8M64 252h8M80 268h8M80 276h8M80 284h8M80 292h8M88 308h8M88 332h8M80 348h8M80 356h8M80 364h8M88 388h8M88 396h8M336 396h56M88 404h8M328 404h72M88 412h8M328 412h80M320 420h88M320 428h88M80 436h8M328 436h80M336 444h64M344 452h40M48 468h8M32 476h8M32 484h8M48 500h8M48 508h8M48 516h8M24 524h8M24 532h8M40 548h8M40 556h8M40 564h8M16 572h8M16 580h8M16 588h8M32 604h8M32 612h8M32 620h8M8 628h8M8 636h8M8 644h8M24 660h8M24 668h8M0 676h8M0 684h8M0 692h8"/>
<path stroke="#337bfc" d="M64 4h8M768 4h32M64 12h8M760 12h56M64 20h8M752 20h16M808 20h16M64 28h8M752 28h8M816 28h8M64 36h8M752 36h8M64 44h8M752 44h8M64 52h8M752 52h8M64 60h8M752 60h8M64 68h8M752 68h8M816 68h8M64 76h8M760 76h8M816 76h8M64 84h8M768 84h48M64 92h8M64 100h8M64 108h8M64 116h8M64 124h8M64 132h8M64 140h8M64 148h8M64 156h8M72 172h8M72 180h8M72 188h8M72 196h8M64 212h8M56 220h8M48 228h8M48 236h8M72 252h8M80 260h8M88 268h8M88 276h8M88 300h8M96 316h8M96 324h8M88 340h8M88 380h8M320 380h88M304 388h112M304 396h32M392 396h40M296 404h32M400 404h32M296 412h32M408 412h32M88 420h8M296 420h24M408 420h32M296 428h24M408 428h32M296 436h32M408 436h24M80 444h8M296 444h40M400 444h32M304 452h40M384 452h40M312 460h104M40 468h8M320 468h80M48 476h8M344 476h40M48 484h8M32 492h8M48 492h8M32 500h8M32 508h8M32 516h16M40 524h8M40 532h8M24 540h8M40 540h8M24 548h8M24 556h8M24 564h8M24 572h16M32 580h8M32 588h8M16 596h8M32 596h8M16 604h8M16 612h8M16 620h16M24 628h8M24 636h8M24 644h8M8 652h8M24 652h8M8 660h8M8 668h8M8 676h16M16 684h8M16 692h8"/>
<path stroke="#307ffb" d="M72 4h8M752 4h16M800 4h24M744 12h16M816 12h8M744 20h8M744 28h8M744 36h8M744 44h8M744 52h8M744 60h8M744 68h8M752 76h8M760 84h8M816 84h8M776 92h48M72 148h8M72 156h8M72 164h8M80 180h8M80 188h8M80 196h8M72 204h8M72 212h8M64 220h8M56 228h8M56 236h8M64 244h8M80 252h8M88 260h8M96 268h8M88 284h8M88 292h8M96 300h8M96 308h8M96 332h8M88 348h8M88 356h8M88 364h8M304 364h48M360 364h40M88 372h8M288 372h136M280 380h40M408 380h32M272 388h32M416 388h32M272 396h32M432 396h24M272 404h24M432 404h32M264 412h32M440 412h24M264 420h32M440 420h24M88 428h8M264 428h32M440 428h24M264 436h32M432 436h24M272 444h24M432 444h24M272 452h32M424 452h24M280 460h32M416 460h24M288 468h32M400 468h24M40 476h8M296 476h48M384 476h32M40 484h8M304 484h104M40 492h8M320 492h72M40 500h8M40 508h8M32 524h8M32 532h8M32 540h8M32 548h8M32 556h8M32 564h8M24 580h8M24 588h8M24 596h8M24 604h8M24 612h8M16 628h8M16 636h8M16 644h8M16 652h8M16 660h8M16 668h8M8 684h8M8 692h8"/>
<path stroke="#2e83f9" d="M80 4h8M736 4h16M72 12h16M736 12h8M72 20h16M736 20h8M72 28h16M736 28h8M72 36h16M736 36h8M72 44h16M736 44h8M72 52h16M736 52h8M72 60h8M736 60h8M72 68h8M72 76h8M744 76h8M72 84h8M752 84h8M72 92h8M760 92h16M72 100h16M776 100h48M72 108h16M72 116h16M72 124h16M72 132h16M72 140h16M80 148h8M80 156h8M80 164h8M80 172h16M88 180h8M88 188h8M88 196h8M80 204h8M80 212h8M72 220h8M64 228h8M64 236h8M72 244h8M88 252h8M96 260h8M104 268h8M96 276h8M96 284h8M96 292h8M104 308h8M104 316h8M104 324h8M96 340h8M296 340h8M272 348h56M264 356h80M368 356h48M256 364h48M352 364h8M400 364h40M248 372h40M424 372h32M248 380h32M440 380h32M240 388h32M448 388h40M96 396h8M240 396h32M456 396h40M96 404h8M232 404h40M464 404h32M232 412h32M464 412h32M232 420h32M464 420h32M232 428h32M464 428h32M88 436h8M232 436h32M456 436h32M232 444h40M456 444h24M240 452h32M448 452h16M240 460h40M440 460h16M248 468h40M424 468h24M248 476h48M416 476h16M256 484h48M408 484h16M264 492h56M392 492h24M272 500h136M288 508h112M304 516h88M336 524h32"/>
<path stroke="#2e86f7" d="M88 4h24M720 4h16M88 12h24M728 12h8M88 20h16M728 20h8M88 28h16M728 28h8M88 36h16M728 36h8M88 44h16M728 44h8M88 52h8M728 52h8M80 60h16M728 60h8M80 68h16M736 68h8M80 76h16M736 76h8M80 84h16M744 84h8M80 92h16M752 92h8M88 100h8M768 100h8M88 108h16M776 108h48M88 116h16M808 116h16M88 124h16M88 132h16M88 140h16M88 148h24M88 156h24M88 164h32M96 172h24M96 180h32M96 188h32M96 196h24M88 204h32M88 212h24M80 220h32M72 228h32M72 236h32M80 244h24M96 252h16M104 260h8M112 268h8M104 276h8M104 284h8M104 292h8M104 300h8M280 300h16M272 308h32M264 316h48M256 324h56M104 332h8M248 332h72M248 340h48M304 340h24M96 348h8M240 348h32M328 348h16M376 348h40M232 356h32M344 356h24M416 356h32M232 364h24M440 364h40M224 372h24M456 372h56M224 380h24M472 380h72M96 388h8M216 388h24M488 388h80M216 396h24M496 396h88M216 404h16M496 404h96M96 412h8M208 412h24M496 412h96M208 420h24M496 420h96M200 428h32M496 428h88M200 436h32M488 436h56M200 444h32M480 444h32M200 452h40M464 452h24M192 460h48M456 460h16M192 468h56M448 468h16M192 476h56M432 476h16M192 484h64M424 484h16M192 492h72M416 492h16M184 500h88M408 500h16M184 508h104M400 508h16M184 516h48M248 516h56M392 516h24M184 524h48M272 524h64M368 524h40M192 532h32M288 532h112M200 540h16M280 540h120M288 548h112M296 556h8M320 556h72M336 564h56M352 572h40M360 580h32M360 588h24M376 596h8"/>
<path stroke="#2d8af5" d="M0 4h16M112 4h96M384 4h88M704 4h16M0 12h16M112 12h72M392 12h48M712 12h16M0 20h16M104 20h64M720 20h8M0 28h16M104 28h56M720 28h8M0 36h16M104 36h40M720 36h8M0 44h16M104 44h32M720 44h8M0 52h16M96 52h40M720 52h8M0 60h16M96 60h32M720 60h8M0 68h16M96 68h32M432 68h32M728 68h8M0 76h16M96 76h32M424 76h64M728 76h8M0 84h16M96 84h32M416 84h88M736 84h8M0 92h16M96 92h32M416 92h88M744 92h8M0 100h16M96 100h32M408 100h88M752 100h16M0 108h16M104 108h32M408 108h88M768 108h8M0 116h16M104 116h40M400 116h96M776 116h32M0 124h16M104 124h48M392 124h104M800 124h24M8 132h8M104 132h56M376 132h120M816 132h8M104 140h64M360 140h136M112 148h64M344 148h152M112 156h64M336 156h160M120 164h56M320 164h176M120 172h48M320 172h184M128 180h40M312 180h192M128 188h32M304 188h208M120 196h40M304 196h216M120 204h32M296 204h232M112 212h32M296 212h240M112 220h32M288 220h256M104 228h32M288 228h264M104 236h32M280 236h248M104 244h24M280 244h136M696 244h40M112 252h16M272 252h120M600 252h136M112 260h16M272 260h96M600 260h128M120 268h8M272 268h88M608 268h120M112 276h8M264 276h80M608 276h120M112 284h8M264 284h72M608 284h120M112 292h8M256 292h80M616 292h120M112 300h8M256 300h24M296 300h32M616 300h120M112 308h8M248 308h24M304 308h24M616 308h136M112 316h8M248 316h16M312 316h16M608 316h160M808 316h16M112 324h8M240 324h16M312 324h16M600 324h224M240 332h8M320 332h16M592 332h232M104 340h8M232 340h16M328 340h16M384 340h40M584 340h240M232 348h8M344 348h32M416 348h40M568 348h256M96 356h8M224 356h8M448 356h376M96 364h8M224 364h8M480 364h344M96 372h8M216 372h8M512 372h312M96 380h8M216 380h8M544 380h280M208 388h8M568 388h256M208 396h8M584 396h240M200 404h16M592 404h232M200 412h8M592 412h232M96 420h8M192 420h16M592 420h232M192 428h8M584 428h240M184 436h16M544 436h280M88 444h8M184 444h16M512 444h312M184 452h16M488 452h336M176 460h16M472 460h24M560 460h264M176 468h16M464 468h8M576 468h248M168 476h24M448 476h16M584 476h240M168 484h8M184 484h8M440 484h8M592 484h232M432 492h8M600 492h224M424 500h8M608 500h216M168 508h16M416 508h16M608 508h216M176 516h8M416 516h8M608 516h216M408 524h16M616 524h208M400 532h16M608 532h216M400 540h16M608 540h216M400 548h16M608 548h216M392 556h32M608 556h216M392 564h32M600 564h224M392 572h40M592 572h232M392 580h48M584 580h240M384 588h64M576 588h248M384 596h80M560 596h264M376 604h120M528 604h296M384 612h24M432 612h392M384 620h24M432 620h128M600 620h224M440 628h48M528 628h16M616 628h208M448 636h32M624 636h200M448 644h32M632 644h192M648 652h176M672 660h152M664 668h160M656 676h168M656 684h168M648 692h176"/>
<path stroke="#2d8df2" d="M208 4h40M376 4h8M472 4h56M672 4h32M184 12h48M376 12h16M440 12h48M696 12h16M168 20h40M376 20h88M712 20h8M160 28h32M384 28h64M712 28h8M144 36h32M384 36h64M136 44h32M392 44h56M136 52h24M392 52h72M128 60h24M392 60h96M128 68h24M392 68h40M464 68h48M720 68h8M128 76h24M392 76h32M488 76h40M720 76h8M128 84h24M392 84h24M504 84h32M728 84h8M128 92h24M392 92h24M504 92h32M736 92h8M128 100h32M384 100h24M496 100h32M744 100h8M136 108h24M376 108h32M496 108h32M760 108h8M144 116h24M368 116h32M496 116h24M768 116h8M152 124h24M360 124h32M496 124h24M776 124h24M160 132h24M344 132h32M496 132h24M792 132h24M168 140h16M336 140h24M496 140h24M816 140h8M176 148h8M328 148h16M496 148h24M176 156h8M320 156h16M496 156h32M176 164h8M312 164h8M496 164h32M168 172h16M304 172h16M504 172h32M168 180h8M304 180h8M504 180h32M160 188h16M296 188h8M512 188h32M160 196h8M288 196h16M520 196h32M152 204h16M288 204h8M528 204h40M144 212h16M280 212h16M536 212h48M144 220h8M280 220h8M544 220h56M720 220h32M136 228h16M280 228h8M552 228h208M136 236h8M272 236h8M528 236h240M816 236h8M128 244h8M272 244h8M416 244h280M736 244h24M816 244h8M128 252h8M264 252h8M392 252h208M736 252h16M128 260h8M264 260h8M368 260h48M536 260h64M728 260h16M256 268h16M360 268h40M552 268h56M728 268h16M120 276h8M256 276h8M344 276h40M568 276h40M728 276h16M120 284h8M248 284h16M336 284h32M576 284h32M728 284h16M120 292h8M248 292h8M336 292h16M576 292h40M736 292h8M240 300h16M328 300h16M584 300h32M736 300h16M240 308h8M328 308h8M576 308h40M752 308h16M808 308h16M240 316h8M328 316h8M576 316h32M768 316h40M232 324h8M328 324h8M568 324h32M112 332h8M232 332h8M336 332h8M384 332h40M552 332h40M224 340h8M344 340h8M360 340h24M424 340h32M536 340h48M104 348h8M224 348h8M456 348h112M216 356h8M216 364h8M208 372h8M208 380h8M200 388h8M200 396h8M192 404h8M192 412h8M184 420h8M96 428h8M184 428h8M176 436h8M176 444h8M176 452h8M168 460h8M496 460h64M168 468h8M472 468h24M544 468h32M160 476h8M464 476h8M568 476h16M160 484h8M448 484h8M576 484h16M440 492h8M584 492h16M432 500h8M592 500h16M432 508h8M592 508h16M424 516h8M600 516h8M424 524h8M600 524h16M416 532h16M600 532h8M416 540h16M592 540h16M416 548h16M592 548h16M424 556h8M592 556h16M424 564h16M584 564h16M432 572h16M576 572h16M440 580h16M560 580h24M448 588h24M544 588h32M464 596h96M496 604h32"/>
<path stroke="#2b91ef" d="M248 4h8M368 4h8M528 4h144M232 12h16M368 12h8M488 12h32M672 12h24M208 20h24M368 20h8M464 20h24M696 20h16M192 28h24M368 28h16M448 28h24M704 28h8M176 36h24M368 36h16M448 36h24M712 36h8M168 44h16M376 44h16M448 44h32M712 44h8M160 52h16M376 52h16M464 52h32M704 52h16M152 60h24M376 60h16M488 60h32M704 60h16M152 68h16M376 68h16M512 68h32M712 68h8M152 76h16M376 76h16M528 76h32M712 76h8M152 84h16M376 84h16M536 84h24M720 84h8M152 92h16M376 92h16M536 92h16M728 92h8M160 100h16M368 100h16M528 100h24M736 100h8M160 108h24M360 108h16M528 108h16M744 108h16M168 116h16M352 116h16M520 116h24M752 116h16M176 124h16M344 124h16M520 124h24M768 124h8M184 132h8M336 132h8M520 132h16M776 132h16M184 140h16M320 140h16M520 140h16M792 140h24M184 148h8M312 148h16M520 148h24M816 148h8M184 156h8M312 156h8M528 156h16M184 164h8M304 164h8M528 164h16M184 172h8M296 172h8M536 172h16M176 180h8M296 180h8M536 180h24M176 188h8M288 188h8M544 188h24M168 196h8M552 196h32M168 204h8M280 204h8M568 204h32M728 204h24M160 212h8M584 212h40M696 212h64M152 220h8M272 220h8M600 220h120M752 220h16M272 228h8M760 228h8M816 228h8M144 236h8M264 236h8M768 236h8M808 236h8M136 244h8M264 244h8M760 244h16M800 244h16M136 252h8M256 252h8M752 252h16M808 252h16M256 260h8M416 260h120M744 260h16M816 260h8M128 268h8M248 268h8M400 268h40M512 268h40M744 268h8M128 276h8M248 276h8M384 276h32M536 276h32M744 276h8M368 284h32M544 284h32M744 284h8M240 292h8M352 292h48M552 292h24M744 292h8M816 292h8M120 300h8M344 300h24M376 300h16M560 300h24M752 300h16M808 300h16M120 308h8M232 308h8M336 308h16M552 308h24M768 308h40M120 316h8M232 316h8M336 316h8M384 316h24M552 316h24M224 324h8M336 324h8M376 324h56M536 324h32M224 332h8M344 332h8M368 332h16M424 332h32M520 332h32M112 340h8M352 340h8M456 340h80M216 348h8M104 356h8M104 364h8M208 364h8M104 372h8M200 380h8M104 388h8M104 396h8M192 396h8M104 404h8M184 412h8M176 428h8M96 436h8M168 444h8M168 452h8M160 460h8M160 468h8M496 468h48M152 476h8M472 476h16M552 476h16M152 484h8M456 484h16M560 484h16M448 492h8M576 492h8M440 500h8M576 500h16M440 508h8M584 508h8M432 516h8M584 516h16M432 524h8M584 524h16M432 532h8M584 532h16M432 540h8M584 540h8M432 548h8M584 548h8M432 556h16M576 556h16M440 564h8M568 564h16M448 572h16M560 572h16M456 580h16M544 580h16M472 588h72"/>
<path stroke="#2994ed" d="M256 4h8M360 4h8M248 12h8M360 12h8M520 12h32M648 12h24M232 20h16M360 20h8M488 20h24M680 20h16M216 28h16M360 28h8M472 28h24M696 28h8M200 36h16M360 36h8M472 36h16M696 36h16M184 44h16M368 44h8M480 44h16M696 44h16M176 52h16M368 52h8M496 52h16M696 52h8M176 60h8M368 60h8M520 60h24M696 60h8M168 68h16M368 68h8M544 68h24M696 68h16M168 76h16M368 76h8M560 76h24M704 76h8M168 84h16M368 84h8M560 84h16M712 84h8M168 92h16M360 92h16M552 92h24M720 92h8M176 100h16M352 100h16M552 100h16M728 100h8M184 108h8M352 108h8M544 108h16M736 108h8M184 116h16M344 116h8M544 116h16M744 116h8M192 124h8M336 124h8M544 124h8M752 124h16M192 132h8M320 132h16M536 132h16M760 132h16M312 140h8M536 140h16M768 140h24M192 148h8M544 148h16M800 148h16M192 156h8M304 156h8M544 156h16M816 156h8M192 164h8M296 164h8M544 164h24M552 172h16M184 180h8M288 180h8M560 180h16M280 188h8M568 188h24M736 188h8M176 196h8M280 196h8M584 196h24M720 196h32M600 204h40M688 204h40M752 204h8M168 212h8M272 212h8M624 212h72M760 212h8M160 220h8M816 220h8M152 228h8M264 228h8M768 228h16M808 228h8M776 236h32M144 244h8M256 244h8M776 244h24M768 252h16M792 252h16M136 260h8M248 260h8M760 260h8M808 260h8M136 268h8M440 268h72M752 268h8M816 268h8M240 276h8M416 276h32M496 276h40M816 276h8M128 284h8M240 284h8M400 284h32M520 284h24M752 284h8M816 284h8M128 292h8M400 292h24M528 292h24M752 292h8M232 300h8M368 300h8M392 300h24M536 300h24M768 300h8M800 300h8M352 308h72M536 308h16M224 316h8M344 316h16M368 316h16M408 316h24M528 316h24M120 324h8M344 324h32M432 324h32M504 324h32M352 332h16M456 332h64M216 340h8M112 348h8M208 356h8M200 372h8M104 380h8M192 388h8M184 396h8M184 404h8M104 412h8M176 412h8M176 420h8M168 436h8M160 452h8M152 468h8M488 476h16M528 476h24M472 484h8M552 484h8M456 492h8M560 492h16M448 500h8M568 500h8M576 508h8M440 516h8M576 516h8M440 524h8M576 532h8M440 540h8M576 540h8M440 548h8M576 548h8M448 556h8M568 556h8M448 564h16M560 564h8M464 572h8M552 572h8M472 580h24M520 580h24"/>
<path stroke="#2798ea" d="M264 4h8M352 4h8M256 12h8M352 12h8M552 12h96M248 20h8M512 20h24M664 20h16M232 28h8M496 28h16M680 28h16M216 36h16M488 36h24M688 36h8M200 44h16M360 44h8M496 44h24M688 44h8M192 52h16M360 52h8M512 52h24M688 52h8M184 60h16M360 60h8M544 60h24M680 60h16M184 68h8M360 68h8M568 68h32M680 68h16M184 76h8M360 76h8M584 76h24M688 76h16M184 84h8M352 84h16M576 84h24M704 84h8M184 92h8M352 92h8M576 92h16M712 92h8M192 100h8M344 100h8M568 100h16M720 100h8M192 108h8M344 108h8M560 108h16M728 108h8M200 116h8M336 116h8M560 116h16M736 116h8M200 124h8M328 124h8M552 124h16M744 124h8M200 132h8M552 132h16M752 132h8M200 140h8M552 140h16M752 140h16M200 148h8M304 148h8M560 148h8M752 148h48M200 156h8M296 156h8M560 156h16M808 156h8M568 164h8M816 164h8M192 172h8M288 172h8M568 172h16M744 172h8M280 180h8M576 180h24M728 180h32M184 188h8M592 188h24M712 188h24M744 188h16M272 196h8M608 196h40M680 196h40M752 196h8M176 204h8M272 204h8M640 204h48M760 204h8M264 212h8M168 220h8M264 220h8M768 220h8M160 228h8M784 228h8M800 228h8M152 236h8M256 236h8M144 252h8M248 252h8M784 252h8M768 260h8M800 260h8M240 268h8M760 268h8M808 268h8M136 276h8M448 276h48M752 276h8M232 284h8M432 284h88M808 284h8M232 292h8M424 292h24M504 292h24M760 292h8M808 292h8M128 300h8M416 300h32M504 300h32M776 300h24M128 308h8M224 308h8M424 308h24M504 308h32M360 316h8M432 316h96M216 324h8M464 324h40M120 332h8M216 332h8M208 348h8M112 356h8M200 364h8M192 380h8M176 404h8M104 420h8M168 420h8M168 428h8M160 436h8M96 444h8M160 444h8M152 460h8M144 476h8M504 476h24M480 484h8M536 484h16M464 492h8M552 492h8M456 500h8M560 500h8M448 508h8M568 508h8M448 516h8M576 524h8M440 532h8M568 540h8M448 548h8M568 548h8M456 556h8M560 556h8M464 564h8M552 564h8M472 572h16M536 572h16M496 580h24"/>
<path stroke="#259be8" d="M272 4h8M264 12h8M256 20h8M352 20h8M536 20h24M632 20h32M240 28h8M352 28h8M512 28h16M664 28h16M232 36h8M352 36h8M512 36h16M672 36h16M216 44h16M352 44h8M520 44h16M672 44h16M208 52h8M352 52h8M536 52h24M672 52h16M200 60h8M352 60h8M568 60h32M656 60h24M192 68h16M352 68h8M600 68h80M192 76h8M352 76h8M608 76h40M656 76h32M192 84h8M600 84h24M688 84h16M192 92h8M344 92h8M592 92h16M704 92h8M200 100h8M584 100h16M712 100h8M200 108h8M336 108h8M576 108h16M720 108h8M328 116h8M576 116h8M728 116h8M208 124h8M320 124h8M568 124h16M736 124h8M208 132h8M312 132h8M568 132h16M736 132h16M304 140h8M568 140h16M736 140h16M296 148h8M568 148h16M736 148h16M576 156h8M736 156h48M800 156h8M200 164h8M288 164h8M576 164h16M728 164h40M280 172h8M584 172h16M720 172h24M752 172h16M816 172h8M192 180h8M600 180h16M704 180h24M272 188h8M616 188h40M672 188h40M184 196h8M648 196h32M760 196h8M264 204h8M176 212h8M768 212h8M816 212h8M776 220h8M808 220h8M256 228h8M792 228h8M160 236h8M152 244h8M248 244h8M144 260h8M240 260h8M776 260h24M768 268h8M800 268h8M232 276h8M760 276h8M808 276h8M136 284h8M760 284h8M448 292h56M768 292h16M792 292h16M224 300h8M448 300h56M448 308h56M128 316h8M120 340h8M208 340h8M200 356h8M112 364h8M112 372h8M192 372h8M184 388h8M168 412h8M104 428h8M160 428h8M96 452h8M152 452h8M144 468h8M488 484h48M472 492h8M544 492h8M464 500h8M552 500h8M456 508h8M560 508h8M568 516h8M448 524h8M568 524h8M448 532h8M568 532h8M448 540h8M456 548h8M560 548h8M552 556h8M472 564h8M544 564h8M488 572h48"/>
<path stroke="#249ee6" d="M344 4h8M344 12h8M344 20h8M560 20h72M248 28h8M528 28h24M648 28h16M240 36h8M528 36h16M656 36h16M232 44h8M536 44h16M656 44h16M216 52h8M560 52h32M640 52h32M208 60h8M600 60h56M208 68h8M200 76h8M344 76h8M648 76h8M200 84h8M344 84h8M624 84h64M200 92h8M608 92h24M680 92h24M208 100h8M336 100h8M600 100h16M696 100h16M208 108h8M328 108h8M592 108h16M712 108h8M208 116h8M320 116h8M584 116h16M720 116h8M312 124h8M584 124h8M720 124h16M304 132h8M584 132h8M728 132h8M208 140h8M584 140h8M728 140h8M208 148h8M584 148h8M728 148h8M288 156h8M584 156h16M720 156h16M784 156h16M592 164h16M720 164h8M768 164h8M808 164h8M200 172h8M600 172h24M704 172h16M272 180h8M616 180h40M672 180h32M760 180h8M192 188h8M656 188h16M760 188h8M264 196h8M184 204h8M816 204h8M176 220h8M256 220h8M784 220h8M800 220h8M168 228h8M248 236h8M152 252h8M240 252h8M144 268h8M232 268h8M776 268h24M768 276h8M800 276h8M768 284h8M800 284h8M136 292h8M224 292h8M784 292h8M216 316h8M128 324h8M208 332h8M120 348h8M200 348h8M192 364h8M112 380h8M184 380h8M112 388h8M112 396h8M176 396h8M112 404h8M160 420h8M104 436h8M152 444h8M144 460h8M136 476h8M480 492h8M536 492h8M456 516h8M560 516h8M456 524h8M560 524h8M456 532h8M560 532h8M456 540h8M560 540h8M552 548h8M464 556h8M544 556h8M480 564h8M528 564h16"/>
<path stroke="#22a1e4" d="M280 4h8M272 12h8M264 20h8M256 28h8M344 28h8M552 28h32M616 28h32M248 36h8M344 36h8M544 36h24M640 36h16M344 44h8M552 44h32M632 44h24M224 52h8M344 52h8M592 52h48M216 60h8M344 60h8M216 68h8M344 68h8M208 76h8M208 84h8M336 84h8M208 92h8M336 92h8M632 92h48M328 100h8M616 100h24M680 100h16M608 108h16M696 108h16M216 116h8M600 116h16M704 116h16M216 124h8M592 124h16M712 124h8M216 132h8M592 132h16M720 132h8M296 140h8M592 140h16M720 140h8M288 148h8M592 148h16M712 148h16M208 156h8M600 156h16M712 156h8M208 164h8M280 164h8M608 164h16M696 164h24M776 164h8M800 164h8M624 172h32M664 172h40M768 172h8M200 180h8M656 180h16M816 180h8M816 188h8M192 196h8M816 196h8M768 204h8M184 212h8M256 212h8M776 212h8M808 212h8M792 220h8M248 228h8M168 236h8M160 244h8M240 244h8M152 260h8M232 260h8M144 276h8M776 276h24M224 284h8M776 284h24M136 300h8M136 308h8M216 308h8M208 324h8M128 332h8M120 356h8M184 372h8M176 388h8M168 404h8M112 412h8M112 420h8M152 436h8M104 444h8M144 452h8M136 468h8M488 492h16M520 492h16M472 500h8M544 500h8M464 508h8M552 508h8M552 516h8M552 540h8M464 548h8M472 556h8M536 556h8M488 564h40"/>
<path stroke="#20a4e3" d="M336 4h8M336 12h8M584 28h32M568 36h72M240 44h8M584 44h48M232 52h8M224 60h8M216 76h8M336 76h8M216 84h8M216 92h8M328 92h8M216 100h8M640 100h40M216 108h8M320 108h8M624 108h24M672 108h24M312 116h8M616 116h16M688 116h16M304 124h8M608 124h16M696 124h16M608 132h8M704 132h16M216 140h8M608 140h16M704 140h16M216 148h8M608 148h16M704 148h8M280 156h8M616 156h16M688 156h24M624 164h72M784 164h16M208 172h8M272 172h8M656 172h8M808 172h8M768 180h8M200 188h8M264 188h8M768 188h8M768 196h8M192 204h8M256 204h8M184 220h8M248 220h8M176 228h8M240 236h8M160 252h8M232 252h8M224 276h8M144 284h8M216 300h8M136 316h8M128 340h8M200 340h8M192 356h8M120 364h8M120 372h8M176 380h8M168 396h8M160 412h8M112 428h8M152 428h8M144 444h8M104 452h8M136 460h8M504 492h16M480 500h8M536 500h8M472 508h8M544 508h8M464 516h8M464 524h8M552 524h8M464 532h8M552 532h8M464 540h8M472 548h8M544 548h8M480 556h16M528 556h8"/>
<path stroke="#1ea7e1" d="M288 4h8M328 4h8M280 12h8M272 20h8M336 20h8M264 28h8M336 28h8M256 36h8M336 36h8M248 44h8M336 44h8M240 52h8M336 52h8M232 60h8M336 60h8M224 68h8M336 68h8M224 76h8M328 84h8M320 100h8M648 108h24M632 116h56M624 124h24M680 124h16M296 132h8M616 132h24M688 132h16M288 140h8M624 140h16M688 140h16M624 148h24M672 148h32M216 156h8M632 156h56M272 164h8M776 172h8M208 180h8M264 180h8M200 196h8M256 196h8M776 204h8M808 204h8M192 212h8M248 212h8M784 212h8M800 212h8M240 228h8M176 236h8M168 244h8M232 244h8M152 268h8M224 268h8M144 292h8M216 292h8M208 316h8M136 324h8M200 332h8M128 348h8M192 348h8M128 356h8M184 364h8M120 380h8M120 388h8M168 388h8M120 396h8M160 404h8M152 420h8M144 428h8M112 436h8M144 436h8M136 444h8M136 452h8M128 468h8M488 500h16M520 500h16M480 508h8M536 508h8M472 516h8M544 516h8M544 524h8M544 532h8M472 540h8M544 540h8M480 548h8M536 548h8M496 556h32"/>
<path stroke="#1caadf" d="M296 4h8M328 12h8M232 68h8M328 76h8M224 84h8M224 92h8M224 100h8M224 108h8M312 108h8M224 116h8M304 116h8M224 124h8M648 124h32M224 132h8M640 132h48M224 140h8M640 140h48M280 148h8M648 148h24M272 156h8M216 164h8M216 172h8M264 172h8M784 172h8M800 172h8M776 180h8M808 180h8M208 188h8M256 188h8M808 188h8M776 196h8M808 196h8M200 204h8M248 204h8M792 212h8M192 220h8M240 220h8M184 228h8M232 236h8M160 260h8M224 260h8M152 276h8M216 284h8M144 300h8M208 308h8M136 332h8M184 356h8M128 364h8M176 372h8M168 380h8M160 396h8M120 404h8M120 412h8M152 412h8M120 420h8M144 420h8M120 428h8M136 436h8M112 444h8M112 452h8M128 452h8M104 460h8M128 460h8M112 468h16M504 500h16M488 508h8M528 508h8M480 516h8M536 516h8M472 524h8M472 532h8M480 540h8M536 540h8M488 548h8M528 548h8"/>
<path stroke="#19addc" d="M304 4h24M288 12h8M280 20h8M328 20h8M272 28h8M328 28h8M264 36h8M256 44h8M248 52h8M240 60h8M328 68h8M232 76h8M320 92h8M296 124h8M288 132h8M280 140h8M224 148h8M224 156h8M264 164h8M792 172h8M216 180h8M256 180h8M776 188h8M208 196h8M248 196h8M784 204h8M800 204h8M200 212h8M240 212h8M232 228h8M176 244h8M168 252h8M224 252h8M216 276h8M208 300h8M144 308h8M200 324h8M136 340h8M192 340h8M136 348h8M176 364h8M128 372h8M160 388h8M152 404h8M144 412h8M128 420h16M128 428h16M120 436h16M120 444h16M120 452h8M112 460h16M496 508h32M528 516h8M480 524h8M536 524h8M480 532h8M536 532h8M488 540h8M528 540h8M496 548h32"/>
<path stroke="#15afd9" d="M296 12h8M320 12h8M328 36h8M328 44h8M328 52h8M328 60h8M240 68h8M232 84h8M320 84h8M232 92h8M232 100h8M312 100h8M232 108h8M304 108h8M232 116h8M232 124h8M232 132h8M272 148h8M264 156h8M224 164h8M224 172h8M256 172h8M784 180h8M800 180h8M216 188h8M248 188h8M208 204h8M240 204h8M792 204h8M200 220h8M232 220h8M192 228h8M184 236h8M224 236h8M224 244h8M216 260h8M160 268h8M216 268h8M152 284h8M208 292h8M144 316h8M200 316h8M184 348h8M136 356h8M168 372h8M128 380h8M160 380h8M128 388h8M128 396h8M152 396h8M128 404h8M144 404h8M128 412h16M488 516h16M520 516h8M488 524h8M528 524h8M488 532h8M528 532h8M496 540h8M512 540h16"/>
<path stroke="#10b2d5" d="M304 12h16M288 20h8M320 20h8M280 28h8M272 36h8M264 44h8M256 52h8M248 60h8M240 76h8M320 76h8M312 92h8M296 116h8M288 124h8M280 132h8M232 140h8M232 148h8M232 156h8M232 164h8M256 164h8M248 172h8M224 180h8M248 180h8M792 180h8M224 188h8M240 188h8M784 188h8M800 188h8M216 196h8M240 196h8M784 196h8M800 196h8M216 204h8M232 204h8M208 212h8M232 212h8M200 228h8M224 228h8M192 236h8M184 244h8M176 252h8M216 252h8M168 260h8M208 284h8M152 292h8M200 308h8M144 324h8M144 332h8M192 332h8M176 356h8M136 364h8M168 364h8M136 372h8M136 380h8M136 388h8M152 388h8M136 396h16M136 404h8M504 516h16M496 524h8M512 524h16M496 532h32M504 540h8"/>
<path stroke="#09b4d1" d="M296 20h8M312 20h8M320 28h8M320 36h8M320 60h8M320 68h8M240 84h8M304 100h8M272 140h8M240 148h8M264 148h8M240 156h8M256 156h8M240 164h16M232 172h16M232 180h16M232 188h8M792 188h8M224 196h16M792 196h8M224 204h8M216 212h16M208 220h24M208 228h16M200 236h24M216 244h8M208 268h8M160 276h8M208 276h8M152 300h8M200 300h8M192 324h8M144 340h8M184 340h8M144 348h8M144 356h8M144 364h8M144 372h8M160 372h8M144 380h16M144 388h8M504 524h8"/>
<path stroke="#04b6cd" d="M304 20h8M288 28h8M312 28h8M320 44h8M320 52h8M256 60h8M248 68h8M312 84h8M240 92h8M240 100h8M240 108h8M296 108h8M240 116h8M288 116h8M240 124h8M280 124h8M240 132h8M272 132h8M240 140h8M264 140h8M248 148h16M248 156h8M192 244h24M184 252h8M208 252h8M176 260h8M208 260h8M168 268h8M160 284h8M200 292h8M152 308h8M176 348h8M168 356h8M152 364h16M152 372h8"/>
<path stroke="#01b8c9" d="M296 28h16M280 36h8M312 36h8M272 44h8M264 52h8M248 76h8M312 76h8M304 92h8M248 132h8M248 140h16M192 252h16M184 260h8M200 260h8M200 268h8M200 276h8M200 284h8M152 316h8M192 316h8M152 324h8M152 332h8M184 332h8M152 340h8M176 340h8M152 348h8M168 348h8M152 356h16"/>
<path stroke="#02bac4" d="M288 36h8M312 44h8M312 52h8M312 60h8M256 68h8M312 68h8M248 84h8M248 92h8M248 100h8M296 100h8M248 108h8M288 108h8M248 116h8M280 116h8M248 124h8M272 124h8M256 132h16M192 260h8M176 268h8M168 276h8M160 292h8M192 308h8M184 324h8M160 348h8"/>
<path stroke="#06bcc0" d="M296 36h16M280 44h8M272 52h8M264 60h8M256 76h8M304 84h8M256 124h16M184 268h16M192 276h8M168 284h8M192 284h8M192 292h8M160 300h8M192 300h8M160 308h8M160 332h8M176 332h8M160 340h16"/>
<path stroke="#0dbdbb" d="M288 44h8M304 44h8M304 52h8M264 68h8M304 68h8M304 76h8M256 84h8M296 92h8M288 100h8M256 108h8M280 108h8M256 116h24M176 276h16M168 292h8M160 316h8M184 316h8M160 324h8M176 324h8M168 332h8"/>
<path stroke="#16bfb7" d="M296 44h8M280 52h8M272 60h8M304 60h8M296 84h8M256 92h8M256 100h8M264 108h16M176 284h16M184 292h8M168 300h8M184 300h8M168 308h8M184 308h8M168 316h16M168 324h8"/>
<path stroke="#1ec0b2" d="M288 52h16M280 60h8M296 60h8M272 68h8M296 68h8M264 76h8M296 76h8M264 84h8M288 92h8M264 100h8M280 100h8M176 292h8M176 300h8M176 308h8"/>
<path stroke="#25c2ad" d="M288 60h8M272 76h8M288 84h8M264 92h24M272 100h8"/>
<path stroke="#2ac3a8" d="M280 68h16M280 76h16M272 84h16"/>
</g>
<g fill="#fff">
<polygon points="-16.3,-18.5 561.2,-18.5 565.9,2.9 532.5,12.5 499.1,14.9 489.6,43.5 465.7,53 451.4,50.7 422.8,74.5 413.2,81.7 403.7,69.8 375,66.4 355.9,60.2 348.8,43.5 344,22 327.3,15.8 279.6,20.6 250.9,29.2 222.3,41.1 198.4,50.7 184.1,67.4 174.6,76.9 150.7,86.5 112.5,91.2 64.8,105.5 50.5,124.6 40.9,148.5 21.8,153.3 12.3,172.4 -2,181.9 -16.3,181.9"/>
<polygon points="718.7,0.5 747.3,0.5 744.9,14.9 733,22 721.1,17.3"/>
<polygon points="162.6,177.1 169.8,167.6 181.7,170 180.3,201 172.2,205.8 162.6,196.2"/>
<polygon points="270,131.8 275.8,131.8 275.8,146.1 270,146.1"/>
<polygon points="323.5,96 330.2,96 330.2,107.9 323.5,107.9"/>
<polygon points="592.2,128.5 598.4,128.5 598.4,141.3 592.2,141.3"/>
<polygon points="40.9,162.8 52.9,155.7 67.2,158.1 64.8,177.1 50.5,181.9 40.9,184.3"/>
<polygon points="598.4,79.3 613.7,79.3 613.7,86.5 598.4,86.5"/>
<polygon points="723.4,100.8 733,98.4 733,115.1 723.4,115.1"/>
<polygon points="24.2,286.9 30.4,286.9 30.4,303.6 24.2,303.6"/>
<polygon points="565.9,236.8 576.4,233.5 577.9,251.1 565.9,253.5"/>
<polygon points="439.5,521.7 451.4,521.7 451.4,530.3 439.5,530.3"/>
<polygon points="551.6,391.9 563.6,384.8 565.9,401.5 556.4,411 549.2,406.2"/>
<polygon points="604.1,248.7 618.4,224.9 632.8,210.6 661.4,201 680.5,205.8 699.6,196.2 718.7,179.5 737.8,165.2 752.1,158.1 761.6,181.9 766.4,215.3 756.9,248.7 742.5,263.1 723.4,272.6 709.1,277.4 690,282.1 680.5,294.1 651.9,291.7 632.8,277.4 613.7,267.8"/>
<polygon points="756.9,155.7 799.8,148.5 804.6,181.9 775.9,191.5 764,181.9"/>
<polygon points="799.8,220.1 828.5,215.3 828.5,239.2 799.8,239.2"/>
<polygon points="523,358.5 525.4,337 551.6,320.3 563.6,313.2 582.6,321.3 597,328.9 613.7,335.6 628,353.7 632.8,368.1 661.4,358.5 685.3,346.6 704.4,329.9 723.4,315.6 752.1,320.3 766.4,306 799.8,296.5 833.2,286.9 833.2,706.9 465.7,706.9 470.5,625.8 489.6,616.2 508.7,601.9 513.4,578.1 523,554.2 542.1,535.1 556.4,516 558.8,496.9 546.9,477.8 534.9,463.5 537.3,444.4 556.4,432.5 577.9,420.6 579.3,372.8 577.9,356.1 556.4,359.5 532.5,360.9"/>
<polygon points="26.6,544.7 36.2,537.5 52.9,539.9 57.6,559 50.5,582.8 38.5,592.4 26.6,587.6 21.8,563.7"/>
<polygon points="72,582.8 83.9,570.9 95.8,575.7 93.4,606.7 81.5,606.7 72,601.9"/>
<polygon points="31.4,606.7 45.7,597.2 52.9,611.5 45.7,628.2 31.4,628.2"/>
<polygon points="160.3,582.8 169.8,575.7 181.7,587.6 198.4,594.8 198.4,621 184.1,630.6 169.8,635.3 167.4,664 150.7,668.7 136.4,666.4 129.2,644.9 129.2,625.8 145.9,611.5 157.9,604.3"/>
<polygon points="293.9,599.5 303.4,594.8 313,597.2 313.9,625.8 303.4,630.6 293.9,625.8"/>
<polygon points="198.4,706.9 208,673.5 222.3,654.4 236.6,640.1 246.2,652 260.5,659.2 262.9,678.3 253.3,706.9"/>
<polygon points="346.4,706.9 355.9,678.3 375,659.2 389.3,640.1 398.9,628.2 425.1,621 432.3,635.3 413.2,640.1 403.7,659.2 408.4,673.5 422.8,678.3 437.1,668.7 451.4,654.4 470.5,659.2 470.5,706.9"/>
<polygon points="344,635.3 355.9,635.3 355.9,647.3 344,647.3"/>
</g>
<polygon fill="#4743e7" points="795,465.9 816.5,465.9 816.5,487.4 795,487.4"/>
<polygon fill="#4743e7" points="718.7,477.8 752.1,475.4 754.5,485 723.4,487.4"/>
<polygon fill="#4743e7" points="680.5,449.2 694.8,437.3 694.8,451.6 682.9,461.1"/>
<polygon fill="#2a92ee" points="403.7,654.4 422.8,649.7 439.5,659.2 437.1,668.7 413.2,668.7"/>
<g fill="none" stroke="#000" stroke-width="10" stroke-linejoin="round" stroke-linecap="round">
<polyline points="51.3,107.3 65.8,101.3 90,92.8 114.2,86.7 138.4,80.7 162.7,74.6 174.8,68.6 184.5,54.1 194.1,46.8 211.1,43.2 225.6,35.9 240.1,27.5 259.5,22.6 283.7,19 307.9,15.4 332.1,14.9 336.8,18.8 342.3,27.1 347.9,34 352,46.5 356.2,56.2 363.1,64.4 374.1,70.7 389.4,72.7 406,73.4 417,77.6 430.9,71.4 444.7,60.3 454.4,47.9 459.2,34 460.6,18.8 458.5,6.4 462,-0.2"/>
<polyline points="332.1,14 347.9,19.5 361.7,27.8 371.4,36.8 375.5,44.4 373.4,46.5"/>
<polyline points="462,1.1 472.4,1.1 486.2,1.6 500,2.5 513.9,3.6 527.7,6.7 541.5,10.1 555.4,8.5 567.8,4.3"/>
<polyline points="452.6,60.1 501,68.6 549.5,73.4 597.9,73.4 646.3,69.8 682.6,66.2 689.9,63.8"/>
<polyline points="682.6,2.1 692.3,17.8 682.6,32.3 674.1,44.4 677.8,56.5 689.9,63.8"/>
<polyline points="689.9,63.8 709.2,75.9 728.6,86.7 740.7,95.2 739.5,112.1 740.7,117"/>
<polyline points="740.7,117 760.1,119.4 769.8,113.3 781.9,115.8 789.1,112.1 801.3,117 818.2,118.2"/>
<polyline points="740.7,117 748,141.2 752.8,160.5 760.1,179.9 769.8,199.2 772.2,216.2 773.4,233.1 769.8,252.4 755.3,262.1 735.9,267 723.8,279.1 716.5,296 716.5,305.7 738.3,315.3 752.8,329.9 749.2,341.7 745.6,356.3 740.7,368.4 745.6,382.9 752.8,397.4 750.4,411.9 762.5,424 772.2,438.5 779.5,453 784.3,462.7 777,470 784.3,482 787.9,496.6 779.5,506.2 762.5,508.7"/>
<polyline points="762.5,508.7 743.1,520.8 718.9,544.9 694.7,574 677.8,598.2 672.9,610.3 677.8,627.2 680.2,649 682.6,658.6"/>
<polyline points="743.1,373.2 762.5,373.2 777,380.4 791.6,370.8 803.7,361.1 808.5,351.4 818.2,345.4"/>
<polyline points="682.6,658.6 694.7,663.5 689.9,670.7"/>
<polyline points="677.8,658.6 660.8,670.7 651.1,691.3"/>
<polyline points="677.8,658.6 660.8,656.2 641.5,649 626.9,641.7 617.2,627.2 602.7,622.4 593,618.7 578.5,618.7 566.4,617.5 551.9,622.4 539.8,635.7 525.2,627.2 520.4,619.9 505.9,623.6 491.3,626 479.2,636.9 474.4,649 462.3,646.5 450.2,645.3 447.8,632 438.1,624.8 428.4,607.8 423.6,601.8 413.9,607.8 404.2,619.9"/>
<polyline points="404.8,619.9 390.2,624.8 383,612.7 373.3,595.7 358.8,583.6 353.9,569.1 332.1,561.9 312.8,552.2 300.7,559.5 291,552.2 281.3,540.1 291,532.8 288.6,523.2 276.5,525.6 259.5,520.8 240.1,511.1 223.2,508.7 228,513.5 232.9,528 220.8,535.3 208.7,547.4 201.4,542.5 191.7,528 179.6,515.9 169.9,508.7 179.6,501.4 189.3,491.7 182,483.3 167.5,484.5 153,484.5 138.4,476 119.1,470 102.1,462.7 94.9,448.2 82.8,445.8 73.1,457.9 58.6,462.7"/>
<polyline points="378.1,605.4 356.3,610.3 341.8,624.8 327.3,639.3 320,658.6 305.5,670.7 288.6,680.4 266.8,687.7 247.4,685.2 237.7,691.3"/>
<polyline points="58.6,462.7 47.7,460.3 41.6,448.2 31.9,440.9 19.8,443.3 17.4,453 7.7,462.7 -3.2,468.7"/>
<polyline points="73.1,691.3 75.5,670.7 90,673.2 109.4,678 128.8,685.2 150.6,691.3"/>
<polyline points="19.8,141.2 24.7,160.5 29.5,179.9 31.9,192 24.7,204.1 19.8,216.2 7.7,225.8 7.7,237.9 22.2,247.6 34.3,257.3 45.2,267 42.8,281.5 40.4,291.1 48.9,303.2 56.1,315.3 54.9,329.9 48.9,341.9 41.6,351.4 48.9,365.9 56.1,380.4 68.2,392.5 75.5,407.1 77.9,421.6 74.3,438.5 68.2,453 58.6,462.7"/>
<polyline points="195.3,690.1 196.6,690.1"/>
</g><g fill="#000" stroke="#000" stroke-width="3" stroke-linejoin="round">
<polygon points="-6.6,108.5 1.1,98.5 8.1,105.9 15.8,112.8 25.4,114.1 33.1,111.1 43.5,105.9 63.4,99.8 65.1,107.6 59.9,119.7 53.9,126.6 48.7,137 47.8,143 52.2,149.1 52.2,154.3 47,161.2 41.8,162 36.6,154.3 31.4,149.1 28.8,156 31.4,166.3 34,171.5 22.8,171.5 18.4,157.7 15,147.3 5.5,144.7 -3.2,142.2 -5.8,131.8 -4,119.7"/>
<polygon points="462.7,29.2 486.2,29.5 500,31 500.7,34 486.2,42.1 472.4,50.3 458.5,58.6 453,57.3 457.1,46.5 460.6,35.4"/>
<polygon points="402.5,74.1 417,89.1 433.6,72.7"/>
</g><g fill="#ddd">
<polygon points="4.6,130.1 13.7,130.1 13.7,133.9 4.6,133.9"/>
<polygon points="28.4,132.2 36.2,131.4 36.8,140 30.1,142.3 26.9,137"/>
</g>
</g></g>
<rect x="106.8" y="749.0" width="816.7" height="691.3" fill="none" stroke="#b0b0b0" stroke-width="3"/>
<path d="M262.4 749.0v7M262.4 1440.3v-7M417.9 749.0v7M417.9 1440.3v-7M573.5 749.0v7M573.5 1440.3v-7M729.0 749.0v7M729.0 1440.3v-7M884.6 749.0v7M884.6 1440.3v-7M106.8 1418.0h7M923.5 1418.0h-7M106.8 1306.5h7M923.5 1306.5h-7M106.8 1195.0h7M923.5 1195.0h-7M106.8 1083.5h7M923.5 1083.5h-7M106.8 972.0h7M923.5 972.0h-7M106.8 860.5h7M923.5 860.5h-7" stroke="#9a9a9a" stroke-width="2" fill="none"/>
<clipPath id="cC"><rect width="817.2" height="694.0"/></clipPath>
<g transform="translate(106.8 1458.0)"><g clip-path="url(#cC)">
<g fill="none" stroke-width="8.6" shape-rendering="crispEdges">
<path stroke="#4537d5" d="M0 132h8M0 140h16M0 148h24M0 156h24M0 164h24M0 172h24M0 180h32M0 188h32M0 196h32M0 204h24M0 212h24M0 220h16M0 228h8M0 236h8M0 244h16M0 252h24M0 260h40M0 268h48M0 276h40M0 284h40M0 292h40M0 300h48M0 308h48M0 316h56M0 324h56M0 332h56M0 340h48M0 348h48M0 356h40M0 364h48M0 372h48M0 380h56M0 388h64M0 396h72M0 404h72M0 412h80M0 420h80M0 428h80M0 436h72M0 444h24M32 444h40M0 452h16M40 452h32M0 460h16M48 460h16"/>
<path stroke="#463de0" d="M288 620h32M280 628h48M272 636h64M272 644h64M280 652h48M288 660h32"/>
<path stroke="#4741e5" d="M280 604h48M272 612h64M264 620h24M320 620h24M256 628h24M328 628h24M256 636h16M336 636h16M256 644h16M336 644h16M256 652h24M328 652h24M264 660h24M320 660h24M272 668h64M288 676h32"/>
<path stroke="#4745e9" d="M272 588h64M264 596h88M248 604h32M328 604h32M248 612h24M336 612h32M240 620h24M344 620h24M240 628h16M352 628h24M240 636h16M352 636h24M240 644h16M352 644h24M240 652h16M352 652h16M240 660h24M344 660h24M248 668h24M336 668h32M248 676h40M320 676h40M264 684h80M280 692h48"/>
<path stroke="#4849ed" d="M240 516h8M240 524h24M240 532h48M240 540h48M240 548h48M240 556h56M312 556h8M240 564h96M240 572h112M232 580h128M232 588h40M336 588h24M232 596h32M352 596h16M224 604h24M360 604h16M224 612h24M368 612h16M416 612h16M216 620h24M368 620h16M408 620h24M216 628h24M376 628h64M496 628h32M552 628h64M208 636h32M376 636h72M480 636h56M544 636h80M0 644h48M200 644h40M376 644h72M480 644h144M0 652h80M192 652h48M368 652h272M0 660h104M184 660h56M368 660h304M0 668h136M160 668h88M368 668h304M0 676h248M360 676h296M0 684h264M344 684h312M0 692h280M328 692h328"/>
<path stroke="#484cf0" d="M24 444h8M16 452h8M176 492h16M232 516h8M232 524h8M232 532h8M216 540h24M200 548h40M208 556h32M208 564h32M208 572h32M216 580h16M216 588h16M208 596h24M0 604h16M208 604h16M0 612h64M208 612h16M0 620h88M200 620h16M0 628h104M192 628h24M0 636h120M176 636h32M48 644h152M80 652h112M104 660h80M136 668h24"/>
<path stroke="#4850f3" d="M16 4h8M16 12h8M16 20h8M16 28h8M16 36h8M16 44h8M16 52h8M16 60h8M16 68h8M16 76h8M16 84h8M16 92h8M16 100h8M16 108h8M16 116h8M16 124h8M16 132h8M16 140h8M24 164h8M24 172h8M24 204h8M24 212h8M16 220h8M8 228h8M8 236h8M16 244h8M24 252h8M40 260h8M48 268h8M40 276h16M40 284h8M40 292h8M48 300h8M48 308h8M56 316h8M56 324h8M56 332h8M48 340h16M48 348h8M40 356h16M48 364h8M48 372h16M56 380h16M64 388h16M72 396h16M72 404h16M80 412h16M80 420h16M80 428h16M72 436h24M72 444h24M24 452h16M72 452h24M16 460h32M64 460h32M0 468h16M144 484h8M152 492h24M160 500h24M168 508h8M168 516h8M176 524h8M176 532h16M184 540h16M184 548h16M192 556h16M192 564h16M200 572h8M200 580h16M0 588h8M200 588h16M0 596h40M200 596h8M16 604h64M200 604h8M64 612h32M192 612h16M88 620h24M184 620h16M104 628h32M168 628h24M120 636h56"/>
<path stroke="#4854f5" d="M24 4h16M24 12h16M24 20h16M24 28h16M24 36h16M24 44h16M24 52h16M24 60h16M24 68h16M24 76h16M24 84h16M24 92h16M24 100h16M24 108h16M24 116h16M24 124h16M24 132h16M24 140h16M24 148h16M24 156h16M32 164h8M32 172h16M32 180h16M32 188h16M32 196h16M32 204h16M32 212h8M24 220h16M16 228h16M16 236h16M24 244h8M32 252h16M48 260h8M56 268h8M56 276h8M48 284h16M48 292h16M56 300h8M56 308h16M64 316h16M64 324h16M64 332h16M64 340h8M56 348h8M56 356h8M56 364h16M64 372h8M72 380h8M80 388h8M88 396h8M88 404h16M96 412h8M96 420h16M96 428h16M96 436h8M96 444h8M96 452h8M16 468h96M0 476h24M112 476h24M128 484h16M136 492h16M144 500h16M152 508h16M160 516h8M160 524h16M160 532h16M168 540h16M176 548h8M176 556h16M184 564h8M184 572h16M0 580h16M192 580h8M8 588h40M192 588h8M40 596h48M192 596h8M80 604h24M184 604h16M96 612h16M176 612h16M112 620h24M168 620h16M136 628h32"/>
<path stroke="#4758f8" d="M40 4h8M40 12h8M40 20h8M40 28h8M40 36h8M40 44h8M40 52h8M40 60h8M40 68h8M40 76h8M40 84h8M40 92h8M40 100h8M40 108h8M40 116h8M40 124h8M40 132h8M40 140h8M40 148h8M40 156h8M40 164h8M48 172h8M48 180h8M48 188h8M48 196h8M48 204h8M40 212h8M32 244h8M48 252h8M56 260h8M64 268h8M64 276h8M64 284h8M64 292h8M64 300h8M72 308h8M80 316h8M80 324h8M72 340h8M64 348h8M64 356h8M72 364h8M72 372h8M80 380h8M88 388h8M96 396h8M104 404h8M104 412h8M104 436h8M104 444h8M104 452h8M96 460h8M24 476h24M80 476h32M0 484h24M112 484h16M0 492h8M128 492h8M136 500h8M144 508h8M144 516h16M152 524h8M152 532h8M152 540h16M160 548h16M168 556h8M176 564h8M0 572h16M176 572h8M16 580h24M184 580h8M48 588h40M184 588h8M88 596h16M184 596h8M104 604h16M176 604h8M112 612h24M168 612h8M136 620h32"/>
<path stroke="#475bfa" d="M48 4h8M48 12h8M48 20h8M48 28h8M48 36h8M48 44h8M48 52h8M48 60h8M48 68h8M48 76h8M48 84h8M48 92h8M48 100h8M48 108h8M48 116h8M48 124h8M48 132h8M48 140h8M48 148h8M48 156h8M48 164h8M56 172h8M56 180h8M56 188h8M56 196h8M48 212h8M40 220h8M32 228h8M32 236h8M40 244h8M56 252h8M64 260h8M72 268h8M72 276h8M72 284h8M72 300h8M80 308h8M80 332h8M80 340h8M72 348h8M72 356h8M80 372h8M88 380h8M96 388h8M104 396h8M112 412h8M112 420h8M112 428h8M112 436h8M112 444h8M48 476h32M24 484h16M88 484h24M8 492h8M112 492h16M0 500h8M120 500h16M128 508h16M136 516h8M136 524h16M144 532h8M144 540h8M152 548h8M0 556h8M152 556h16M0 564h16M160 564h16M16 572h16M168 572h8M40 580h48M176 580h8M88 588h24M176 588h8M104 596h16M168 596h16M120 604h16M160 604h16M136 612h32"/>
<path stroke="#465ffb" d="M784 60h8M56 156h8M56 164h8M64 188h8M64 196h8M56 204h8M56 212h8M48 220h8M40 228h8M40 236h8M48 244h8M72 260h8M80 268h8M80 276h8M72 292h8M80 300h8M88 308h8M88 316h8M88 324h8M88 332h8M88 340h8M80 348h8M80 356h8M80 364h8M88 372h8M112 404h8M120 412h8M120 420h8M120 428h8M120 436h8M120 444h8M112 452h8M104 460h8M304 460h24M296 468h40M296 476h40M40 484h48M304 484h24M16 492h16M96 492h16M8 500h8M112 500h8M0 508h8M120 508h8M128 516h8M128 524h8M136 532h8M136 540h8M0 548h8M136 548h16M8 556h8M136 556h16M16 564h16M144 564h16M32 572h48M152 572h16M88 580h32M160 580h16M112 588h16M160 588h16M120 596h16M160 596h8M136 604h24"/>
<path stroke="#4563fc" d="M56 4h8M56 12h8M56 20h8M56 28h8M56 36h8M56 44h8M784 44h16M56 52h8M776 52h24M56 60h8M776 60h8M792 60h8M56 68h8M776 68h24M56 76h8M784 76h8M56 84h8M56 92h8M56 100h8M56 108h8M56 116h8M56 124h8M56 132h8M56 140h8M56 148h8M64 164h8M64 172h8M64 180h8M64 204h8M56 220h8M48 228h8M48 236h8M56 244h8M64 252h8M80 284h8M80 292h8M88 300h8M96 316h8M96 324h8M96 332h8M88 348h8M88 364h8M96 380h8M104 388h8M112 396h8M120 404h8M128 420h8M128 428h8M128 436h8M304 444h24M120 452h8M288 452h64M112 460h8M280 460h24M328 460h32M272 468h24M336 468h24M272 476h24M336 476h24M280 484h24M328 484h32M32 492h64M288 492h64M16 500h16M96 500h16M304 500h24M8 508h8M112 508h8M0 516h16M120 516h8M0 524h8M120 524h8M0 532h8M128 532h8M0 540h8M128 540h8M8 548h8M120 548h16M16 556h16M120 556h16M32 564h16M104 564h40M80 572h72M120 580h40M128 588h32M136 596h24"/>
<path stroke="#4367fd" d="M64 4h8M64 12h8M64 20h8M64 28h8M64 36h8M776 36h24M64 44h8M776 44h8M800 44h8M64 52h8M768 52h8M800 52h8M64 60h8M768 60h8M800 60h8M64 68h8M768 68h8M800 68h8M64 76h8M776 76h8M792 76h8M64 84h8M64 148h8M64 156h8M72 180h8M72 188h8M72 196h8M64 212h8M72 252h8M80 260h8M88 268h8M88 276h8M88 284h8M96 308h8M96 340h8M88 356h8M96 364h8M96 372h8M104 380h8M112 388h8M120 396h8M128 404h8M128 412h8M136 420h8M136 428h8M136 436h8M288 436h48M128 444h8M272 444h32M328 444h32M128 452h8M264 452h24M352 452h16M120 460h8M264 460h16M360 460h16M112 468h8M256 468h16M360 468h16M256 476h16M360 476h16M264 484h16M360 484h16M264 492h24M352 492h16M32 500h16M80 500h16M280 500h24M328 500h32M16 508h16M104 508h8M296 508h48M16 516h8M112 516h8M8 524h8M112 524h8M8 532h8M112 532h16M8 540h16M112 540h16M16 548h8M112 548h8M32 556h8M96 556h24M48 564h56"/>
<path stroke="#416bfe" d="M784 28h16M768 36h8M800 36h8M768 44h8M808 52h8M760 60h8M808 60h8M808 68h8M768 76h8M800 76h8M776 84h24M64 92h8M64 100h8M64 108h8M64 116h8M64 124h8M64 132h8M64 140h8M72 156h8M72 164h8M72 172h8M80 188h8M80 196h8M72 204h8M72 212h8M64 220h8M56 228h8M56 236h8M64 244h8M88 260h8M96 268h8M88 292h8M96 300h8M104 316h8M104 324h8M104 332h8M104 340h8M96 348h8M96 356h8M104 372h8M120 388h8M128 396h8M136 412h8M144 428h8M288 428h56M272 436h16M336 436h24M136 444h8M256 444h16M360 444h16M136 452h8M248 452h16M368 452h16M128 460h8M248 460h16M376 460h8M120 468h8M248 468h8M376 468h16M248 476h8M376 476h16M248 484h16M376 484h8M256 492h8M368 492h16M48 500h32M264 500h16M360 500h16M32 508h8M88 508h16M272 508h24M344 508h24M24 516h8M96 516h16M288 516h56M16 524h8M104 524h8M16 532h8M104 532h8M24 540h8M104 540h8M24 548h16M96 548h16M40 556h56"/>
<path stroke="#3f6fff" d="M72 4h8M72 12h8M72 20h8M72 28h8M768 28h16M800 28h8M72 36h8M808 36h8M72 44h8M760 44h8M808 44h8M72 52h8M760 52h8M72 60h8M72 68h8M760 68h8M72 76h8M760 76h8M808 76h8M72 84h8M768 84h8M800 84h8M72 92h8M776 92h24M72 100h8M72 108h8M72 116h8M72 124h8M72 132h8M72 140h8M72 148h8M80 172h8M80 180h8M80 204h8M72 220h8M64 228h8M64 236h8M72 244h8M80 252h8M96 276h8M96 284h8M96 292h8M104 308h8M112 316h8M112 324h8M112 332h8M104 348h8M104 364h8M112 380h8M136 404h8M144 412h8M144 420h8M288 420h56M152 428h8M264 428h24M344 428h16M144 436h8M248 436h24M360 436h16M144 444h8M240 444h16M376 444h8M144 452h8M240 452h8M384 452h8M136 460h8M232 460h16M384 460h16M128 468h8M232 468h16M392 468h8M232 476h16M392 476h8M232 484h16M384 484h16M240 492h16M384 492h8M248 500h16M376 500h16M40 508h48M256 508h16M368 508h16M32 516h16M88 516h8M264 516h24M344 516h24M24 524h16M96 524h8M288 524h56M24 532h16M96 532h8M32 540h8M88 540h16M40 548h56"/>
<path stroke="#3b73fe" d="M80 4h8M80 12h8M80 20h8M776 20h32M80 28h8M808 28h8M760 36h8M816 44h8M816 52h8M752 60h8M816 60h8M816 68h8M760 84h8M808 84h8M768 92h8M800 92h8M80 156h8M80 164h8M88 180h8M88 188h8M88 196h8M80 212h8M88 252h8M96 260h8M104 268h8M104 276h8M104 284h8M104 300h8M112 308h8M112 340h8M104 356h8M112 364h8M112 372h8M120 380h8M128 388h8M136 396h8M144 404h8M152 412h8M288 412h48M152 420h8M264 420h24M344 420h16M160 428h8M248 428h16M360 428h16M152 436h16M232 436h16M376 436h16M152 444h16M224 444h16M384 444h16M152 452h8M224 452h16M392 452h16M144 460h8M216 460h16M400 460h8M136 468h8M216 468h16M400 468h8M136 476h8M216 476h16M400 476h8M224 484h8M400 484h8M224 492h16M392 492h16M232 500h16M392 500h8M240 508h16M384 508h8M48 516h40M248 516h16M368 516h16M40 524h16M80 524h16M264 524h24M344 524h24M40 532h16M80 532h16M288 532h56M40 540h48"/>
<path stroke="#3777fe" d="M776 12h24M768 20h8M760 28h8M80 36h8M816 36h8M80 44h8M752 44h8M80 52h8M752 52h8M80 60h8M80 68h8M752 68h8M80 76h8M752 76h8M816 76h8M80 84h8M816 84h8M80 92h8M808 92h8M80 100h8M776 100h32M80 108h8M80 116h8M80 124h8M80 132h8M80 140h8M80 148h8M88 164h8M88 172h8M88 204h8M80 220h8M72 228h8M72 236h8M80 244h8M112 268h8M104 292h8M112 300h8M120 316h8M120 324h8M120 332h8M112 348h8M112 356h8M120 372h8M128 380h8M136 388h8M144 396h8M152 404h8M288 404h40M160 412h8M256 412h32M336 412h24M160 420h16M240 420h24M360 420h16M168 428h8M224 428h24M376 428h16M168 436h16M216 436h16M392 436h8M168 444h16M200 444h24M400 444h8M160 452h16M200 452h24M408 452h8M152 460h8M200 460h16M408 460h8M144 468h8M200 468h16M408 468h16M144 476h8M208 476h8M408 476h16M208 484h16M408 484h16M208 492h16M408 492h8M216 500h16M400 500h16M224 508h16M392 508h16M384 516h16M56 524h24M368 524h24M56 532h24M344 532h32M296 540h48"/>
<path stroke="#337bfc" d="M88 4h8M88 12h8M768 12h8M800 12h8M88 20h8M760 20h8M808 20h8M88 28h8M752 28h8M816 28h8M88 36h8M752 36h8M88 44h8M88 52h8M88 60h8M744 60h8M88 68h8M752 84h8M760 92h8M816 92h8M768 100h8M808 100h8M88 148h8M88 156h8M96 180h8M96 188h8M96 196h8M88 212h8M96 252h8M104 260h8M112 276h8M112 284h8M112 292h8M120 308h8M128 316h8M128 324h8M128 332h8M120 340h8M120 348h8M120 364h8M128 372h8M144 388h8M152 396h8M288 396h32M160 404h8M256 404h32M328 404h32M168 412h16M232 412h24M360 412h16M176 420h16M208 420h32M376 420h16M176 428h48M392 428h16M184 436h32M400 436h16M184 444h16M408 444h16M176 452h24M416 452h8M160 460h40M416 460h16M152 468h48M424 468h8M152 476h56M424 476h8M152 484h56M424 484h8M192 492h16M416 492h8M200 500h16M416 500h8M208 508h16M408 508h8M216 516h16M400 516h8M392 524h8M376 532h16M288 540h8M344 540h32M296 548h48"/>
<path stroke="#307ffb" d="M96 4h8M768 4h40M96 12h8M760 12h8M808 12h8M752 20h8M816 20h8M744 44h8M744 52h8M744 68h8M88 76h8M744 76h8M88 84h8M88 92h8M752 92h8M88 100h8M760 100h8M88 108h8M776 108h32M88 116h8M88 124h8M88 132h8M88 140h8M96 164h8M96 172h8M104 188h8M104 196h8M96 204h8M96 212h8M88 220h8M80 228h8M80 236h8M88 244h8M104 252h8M112 260h8M120 268h8M120 276h8M120 284h8M120 300h8M128 308h8M128 340h8M120 356h8M128 364h8M136 372h8M136 380h8M152 388h8M160 396h8M256 396h32M320 396h32M168 404h16M232 404h24M360 404h16M184 412h48M376 412h16M192 420h16M392 420h16M408 428h8M416 436h8M424 444h8M424 452h16M432 460h8M432 468h8M432 476h8M432 484h8M424 492h8M184 500h16M424 500h8M176 508h32M416 508h8M176 516h40M408 516h16M208 524h24M400 524h16M224 532h8M392 532h16M376 540h16M288 548h8M344 548h32M296 556h16M320 556h24"/>
<path stroke="#2e83f9" d="M760 4h8M808 4h8M752 12h8M816 12h8M96 20h8M96 28h8M744 28h8M96 36h8M744 36h8M96 44h8M96 52h8M96 60h8M736 60h8M96 68h8M96 76h8M96 84h8M744 84h8M96 92h8M96 100h8M816 100h8M96 108h8M768 108h8M808 108h8M96 116h8M792 116h8M96 124h8M96 132h8M96 140h8M96 148h8M96 156h8M104 172h8M104 180h8M104 204h8M96 220h8M88 228h8M88 236h8M96 244h8M120 260h8M128 268h8M128 276h8M120 292h8M128 300h8M136 308h8M136 316h8M136 324h8M136 332h8M136 340h8M128 348h8M128 356h8M136 364h8M144 372h8M144 380h16M160 388h8M248 388h96M168 396h24M224 396h32M352 396h16M184 404h48M376 404h8M392 412h8M408 420h8M416 428h16M424 436h16M432 444h16M440 452h8M440 460h8M440 468h8M440 476h8M432 492h8M432 500h8M424 508h8M424 516h8M184 524h24M416 524h8M192 532h32M408 532h8M392 540h16M376 548h24M344 556h32M336 564h8"/>
<path stroke="#2e86f7" d="M104 4h8M752 4h8M816 4h8M104 12h8M104 20h8M744 20h8M104 28h8M104 36h8M104 44h8M736 44h8M104 52h8M736 52h8M104 60h8M736 68h8M736 76h8M744 92h8M752 100h8M760 108h8M816 108h8M776 116h16M800 116h16M104 148h8M104 156h8M104 164h8M112 180h8M112 188h8M112 196h8M112 204h8M104 212h8M104 220h8M96 228h8M96 236h8M104 244h8M112 252h8M128 284h8M128 292h8M136 300h8M144 316h8M144 324h8M144 332h8M144 340h8M136 348h8M136 356h8M144 364h8M152 372h8M160 380h8M248 380h96M168 388h24M216 388h32M344 388h24M192 396h32M368 396h16M384 404h16M400 412h16M416 420h16M432 428h8M440 436h8M448 444h8M448 452h8M448 460h16M448 468h8M448 476h8M440 484h8M440 492h8M432 508h8M424 524h8M416 532h8M200 540h16M408 540h16M400 548h16M376 556h32M344 564h40"/>
<path stroke="#2d8af5" d="M112 4h8M744 4h8M112 12h8M744 12h8M112 20h8M736 20h8M112 28h8M736 28h8M112 36h8M736 36h8M728 60h8M104 68h8M728 68h8M104 76h8M104 84h8M736 84h8M104 92h8M104 100h8M744 100h8M104 108h8M752 108h8M104 116h8M768 116h8M816 116h8M104 124h8M784 124h24M104 132h8M104 140h8M112 156h8M112 164h8M112 172h8M120 188h8M120 196h8M112 212h8M104 228h8M104 236h8M112 244h8M120 252h8M128 260h8M136 268h8M136 276h8M136 284h8M136 292h8M144 300h8M144 308h8M152 316h8M152 324h8M152 332h8M152 340h8M144 348h8M144 356h8M152 364h8M272 364h32M160 372h16M232 372h104M168 380h80M344 380h16M192 388h24M368 388h16M384 396h16M400 404h16M416 412h16M432 420h16M440 428h16M448 436h16M456 444h16M456 452h16M464 460h8M456 468h8M456 476h8M448 484h8M440 500h8M432 516h8M424 532h8M424 540h8M416 548h8M408 556h16M384 564h32M352 572h40M360 580h8"/>
<path stroke="#2d8df2" d="M120 4h8M736 4h8M120 12h8M736 12h8M120 20h8M120 28h8M728 36h8M112 44h8M728 44h8M112 52h8M728 52h8M112 60h8M112 68h8M112 76h8M728 76h8M112 84h8M728 84h8M112 92h8M736 92h8M112 100h8M112 108h8M112 116h8M760 116h8M112 124h8M776 124h8M808 124h16M112 132h8M112 140h8M112 148h8M120 164h8M120 172h8M120 180h8M128 188h8M128 196h8M120 204h8M120 212h8M112 220h8M112 228h8M112 236h8M120 244h8M128 252h8M136 260h8M144 268h16M144 276h8M144 284h8M144 292h8M152 300h8M152 308h16M160 316h16M160 324h16M160 332h16M160 340h16M152 348h16M152 356h24M248 356h64M160 364h32M208 364h64M304 364h32M176 372h56M336 372h24M360 380h16M384 388h8M400 396h8M416 404h16M432 412h16M448 420h16M456 428h16M464 436h16M472 444h16M472 452h16M472 460h8M464 468h8M456 484h8M448 492h8M440 508h8M432 524h8M432 532h8M432 540h8M424 548h8M424 556h8M416 564h16M392 572h32M368 580h40M360 588h24"/>
<path stroke="#2b91ef" d="M128 4h8M728 4h8M128 12h8M728 12h8M128 20h8M728 20h8M128 28h8M728 28h8M120 36h8M120 44h8M120 52h8M720 52h8M120 60h8M720 60h8M120 68h8M720 68h8M120 76h8M720 76h8M120 84h8M120 92h8M728 92h8M736 100h8M744 108h8M752 116h8M768 124h8M784 132h40M120 140h8M120 148h8M120 156h8M128 172h8M128 180h8M136 196h8M128 204h8M128 212h8M120 220h16M120 228h8M120 236h8M128 244h8M136 252h8M144 260h16M160 268h8M152 276h16M152 284h16M152 292h16M160 300h16M168 308h16M176 316h16M176 324h16M176 332h16M176 340h24M248 340h40M168 348h152M176 356h72M312 356h24M192 364h16M336 364h16M360 372h16M376 380h16M392 388h16M408 396h16M432 404h16M448 412h16M464 420h16M472 428h24M480 436h24M488 444h16M488 452h16M480 460h16M472 468h8M464 476h8M448 500h8M440 516h8M432 548h8M432 556h8M432 564h8M424 572h16M408 580h24M384 588h48M368 596h48M376 604h8"/>
<path stroke="#2994ed" d="M136 4h16M720 4h8M136 12h8M720 12h8M136 20h8M720 20h8M136 28h8M720 28h8M128 36h16M720 36h8M128 44h8M720 44h8M128 52h8M128 60h8M712 60h8M128 68h8M712 68h8M128 76h8M712 76h8M128 84h8M720 84h8M120 100h8M728 100h8M120 108h8M736 108h8M120 116h8M120 124h8M760 124h8M120 132h8M776 132h8M792 140h32M128 148h8M128 156h8M128 164h8M136 172h8M136 180h8M136 188h16M144 196h8M136 204h16M136 212h8M136 220h8M128 228h8M128 236h16M136 244h16M144 252h16M160 260h16M168 268h16M168 276h16M168 284h16M168 292h16M176 300h24M184 308h24M192 316h48M192 324h96M192 332h112M200 340h48M288 340h32M320 348h16M336 356h16M352 364h16M376 372h8M392 380h8M408 388h16M424 396h16M448 404h16M464 412h32M480 420h32M496 428h32M504 436h40M504 444h40M504 452h40M496 460h24M480 468h8M472 476h8M464 484h8M456 492h8M448 508h8M440 524h8M440 532h8M440 540h8M440 548h8M440 556h8M440 564h8M440 572h8M432 580h16M432 588h16M416 596h32M384 604h64M384 612h32M432 612h8M384 620h24"/>
<path stroke="#2798ea" d="M0 4h16M152 4h16M704 4h16M0 12h16M144 12h24M712 12h8M0 20h16M144 20h16M712 20h8M0 28h16M144 28h16M712 28h8M0 36h16M144 36h8M712 36h8M0 44h16M136 44h16M712 44h8M0 52h16M136 52h16M712 52h8M0 60h16M136 60h8M704 60h8M0 68h16M136 68h8M704 68h8M0 76h16M136 76h8M704 76h8M0 84h16M136 84h8M712 84h8M0 92h16M128 92h8M720 92h8M0 100h16M128 100h8M0 108h16M128 108h8M0 116h16M128 116h8M744 116h8M0 124h16M128 124h8M752 124h8M8 132h8M128 132h8M768 132h8M128 140h8M776 140h16M136 148h8M792 148h32M136 156h8M136 164h8M144 172h8M144 180h8M152 188h8M152 196h8M152 204h8M144 212h16M144 220h16M136 228h24M144 236h24M152 244h24M160 252h32M176 260h32M184 268h40M184 276h56M184 284h72M184 292h88M200 300h88M760 300h64M208 308h88M744 308h80M240 316h64M744 316h80M288 324h32M736 324h88M304 332h24M736 332h88M320 340h24M736 340h88M336 348h16M728 348h96M352 356h16M728 356h96M368 364h16M720 364h104M384 372h16M712 372h112M400 380h16M712 380h112M424 388h16M696 388h128M440 396h32M688 396h136M464 404h48M672 404h152M496 412h72M648 412h176M512 420h312M528 428h296M544 436h280M544 444h280M544 452h280M520 460h304M488 468h336M480 476h8M544 476h280M560 484h264M568 492h256M568 500h256M576 508h248M576 516h248M576 524h248M576 532h248M576 540h248M576 548h248M576 556h248M576 564h248M448 572h8M568 572h256M448 580h8M568 580h256M448 588h16M560 588h264M448 596h24M552 596h272M448 604h40M536 604h288M440 612h384M432 620h392M440 628h56M528 628h24M616 628h208M448 636h32M536 636h8M624 636h200M448 644h32M624 644h200M640 652h184M672 660h152M672 668h152M656 676h168M656 684h168M656 692h168"/>
<path stroke="#259be8" d="M168 4h40M680 4h24M168 12h24M696 12h16M160 20h24M704 20h8M160 28h16M704 28h8M152 36h16M704 36h8M152 44h16M704 44h8M152 52h8M704 52h8M144 60h16M696 60h8M144 68h8M688 68h16M144 76h8M688 76h16M144 84h8M696 84h16M136 92h16M704 92h16M136 100h8M720 100h8M136 108h8M728 108h8M136 116h8M736 116h8M136 124h8M744 124h8M136 132h8M760 132h8M136 140h16M768 140h8M144 148h8M784 148h8M144 156h8M792 156h32M144 164h16M808 164h16M152 172h8M152 180h16M160 188h8M160 196h16M160 204h16M160 212h24M160 220h32M160 228h40M168 236h56M176 244h72M192 252h72M208 260h72M224 268h64M752 268h16M240 276h56M728 276h64M800 276h24M256 284h40M704 284h120M272 292h32M696 292h128M288 300h24M696 300h64M296 308h24M696 308h48M304 316h24M696 316h48M320 324h16M696 324h40M328 332h16M696 332h40M344 340h8M696 340h40M352 348h16M688 348h40M368 356h8M688 356h40M384 364h8M680 364h40M400 372h8M672 372h40M416 380h16M656 380h56M440 388h24M640 388h56M472 396h88M600 396h88M512 404h160M568 412h80M488 476h8M528 476h16M472 484h8M544 484h16M464 492h8M552 492h16M456 500h8M560 500h8M560 508h16M448 516h8M568 516h8M448 524h8M568 524h8M568 532h8M568 540h8M568 548h8M448 556h8M560 556h16M448 564h8M560 564h16M456 572h8M552 572h16M456 580h8M544 580h24M464 588h16M536 588h24M472 596h80M488 604h48"/>
<path stroke="#249ee6" d="M208 4h264M640 4h40M192 12h56M680 12h16M184 20h40M688 20h16M176 28h32M696 28h8M168 36h24M696 36h8M168 44h16M696 44h8M160 52h16M688 52h16M160 60h8M680 60h16M152 68h16M656 68h32M152 76h16M536 76h152M152 84h8M512 84h128M656 84h40M152 92h8M512 92h88M696 92h8M144 100h16M528 100h40M712 100h8M144 108h16M720 108h8M144 116h16M728 116h8M144 124h16M144 132h16M752 132h8M152 140h8M760 140h8M152 148h8M776 148h8M152 156h16M784 156h8M160 164h8M792 164h16M160 172h16M800 172h24M168 180h16M808 180h16M168 188h24M816 188h8M176 196h24M176 204h32M184 212h40M192 220h48M200 228h64M224 236h56M248 244h40M264 252h32M280 260h24M728 260h48M816 260h8M288 268h24M704 268h48M768 268h56M296 276h16M680 276h48M792 276h8M296 284h24M672 284h32M304 292h16M672 292h24M312 300h16M672 300h24M320 308h8M680 308h16M328 316h8M680 316h16M336 324h8M680 324h16M344 332h8M680 332h16M352 340h16M680 340h16M368 348h8M672 348h16M376 356h16M664 356h24M392 364h16M656 364h24M408 372h16M648 372h24M432 380h24M632 380h24M464 388h176M560 396h40M496 476h32M536 484h8M544 492h8M552 500h8M456 508h8M552 508h8M560 516h8M560 524h8M448 532h8M560 532h8M448 540h8M560 540h8M448 548h8M560 548h8M552 556h8M456 564h8M552 564h8M544 572h8M464 580h8M536 580h8M480 588h16M512 588h24"/>
<path stroke="#22a1e4" d="M472 4h80M568 4h72M248 12h216M648 12h32M224 20h80M328 20h80M672 20h16M208 28h40M688 28h8M192 36h32M688 36h8M184 44h24M680 44h16M176 52h24M672 52h16M168 60h24M648 60h32M168 68h16M520 68h136M168 76h8M472 76h64M160 84h16M472 84h40M640 84h16M160 92h8M480 92h32M600 92h96M160 100h8M488 100h40M568 100h40M696 100h16M160 108h8M504 108h80M712 108h8M160 116h8M520 116h32M160 124h8M736 124h8M160 132h8M744 132h8M160 140h8M752 140h8M160 148h16M768 148h8M168 156h8M776 156h8M168 164h16M784 164h8M176 172h16M792 172h8M184 180h16M800 180h8M192 188h16M808 188h8M200 196h24M816 196h8M208 204h32M224 212h40M240 220h48M264 228h32M280 236h24M288 244h24M752 244h16M296 252h16M728 252h48M816 252h8M304 260h16M696 260h32M776 260h40M312 268h8M664 268h40M312 276h16M656 276h24M320 284h8M656 284h16M320 292h16M656 292h16M328 300h8M664 300h8M328 308h16M664 308h16M336 316h16M664 316h16M344 324h8M664 324h16M352 332h8M664 332h16M368 340h8M664 340h16M376 348h8M664 348h8M392 356h8M656 356h8M408 364h8M640 364h16M424 372h24M624 372h24M456 380h176M480 484h8M528 484h8M536 492h8M544 500h8M552 516h8M552 524h8M552 540h8M552 548h8M456 556h8M544 564h8M464 572h8M536 572h8M472 580h16M520 580h16M496 588h16"/>
<path stroke="#20a4e3" d="M552 4h16M464 12h32M624 12h24M304 20h24M408 20h48M656 20h16M248 28h184M672 28h16M224 36h48M672 36h16M208 44h32M672 44h8M200 52h24M656 52h16M192 60h16M616 60h32M184 68h16M440 68h80M176 76h16M440 76h32M176 84h16M448 84h24M168 92h16M456 92h24M168 100h16M464 100h24M608 100h88M168 108h16M480 108h24M584 108h24M696 108h16M168 116h16M488 116h32M552 116h32M720 116h8M168 124h16M504 124h56M728 124h8M168 132h16M736 132h8M168 140h16M176 148h16M760 148h8M176 156h16M768 156h8M184 164h16M776 164h8M192 172h16M776 172h16M200 180h24M784 180h16M208 188h32M792 188h16M224 196h40M800 196h16M240 204h48M816 204h8M264 212h40M816 212h8M288 220h24M296 228h24M304 236h16M744 236h24M312 244h16M728 244h24M768 244h8M816 244h8M312 252h16M704 252h24M776 252h16M808 252h8M320 260h8M648 260h48M320 268h16M624 268h40M328 276h8M624 276h32M328 284h8M632 284h24M336 292h8M640 292h16M336 300h8M648 300h16M344 308h8M656 308h8M352 316h8M656 316h8M352 324h16M656 324h8M360 332h16M656 332h8M376 340h8M656 340h8M384 348h8M648 348h16M400 356h8M640 356h16M416 364h16M624 364h16M448 372h112M600 372h24M488 484h8M520 484h8M472 492h8M464 500h8M544 508h8M456 516h8M552 532h8M544 556h8M464 564h8M536 564h8M472 572h8M528 572h8M488 580h8M504 580h16"/>
<path stroke="#1ea7e1" d="M496 12h48M584 12h40M456 20h24M640 20h16M432 28h24M656 28h16M272 36h176M664 36h8M240 44h208M656 44h16M224 52h32M376 52h96M632 52h24M208 60h32M392 60h224M200 68h24M408 68h32M192 76h24M416 76h24M192 84h16M424 84h24M184 92h16M432 92h24M184 100h16M440 100h24M184 108h16M456 108h24M608 108h40M672 108h24M184 116h8M464 116h24M584 116h24M704 116h16M184 124h16M480 124h24M560 124h24M720 124h8M184 132h16M496 132h64M184 140h16M512 140h32M744 140h8M192 148h16M752 148h8M192 156h24M760 156h8M200 164h24M768 164h8M208 172h24M768 172h8M224 180h32M776 180h8M240 188h32M776 188h16M264 196h32M784 196h16M288 204h24M800 204h16M304 212h16M312 220h16M816 220h8M320 228h8M744 228h32M816 228h8M320 236h16M728 236h16M768 236h16M816 236h8M328 244h8M704 244h24M776 244h16M808 244h8M328 252h8M592 252h40M648 252h56M792 252h16M328 260h8M584 260h64M336 268h8M592 268h32M336 276h8M600 276h24M336 284h8M616 284h16M344 292h8M632 292h8M344 300h8M640 300h8M352 308h8M640 308h16M360 316h8M648 316h8M368 324h8M648 324h8M376 332h8M648 332h8M384 340h8M648 340h8M392 348h16M640 348h8M408 356h16M632 356h8M432 364h112M608 364h16M560 372h40M496 484h24M528 492h8M536 500h8M544 516h8M456 524h8M456 532h8M456 540h8M456 548h8M544 548h8M520 572h8M496 580h8"/>
<path stroke="#1caadf" d="M544 12h40M480 20h24M616 20h24M456 28h24M640 28h16M448 36h24M648 36h16M448 44h32M640 44h16M256 52h120M472 52h40M608 52h24M240 60h32M352 60h40M224 68h24M368 68h40M216 76h16M384 76h32M208 84h16M400 84h24M200 92h16M408 92h24M200 100h16M424 100h16M200 108h16M432 108h24M648 108h24M192 116h16M448 116h16M608 116h16M696 116h8M200 124h16M456 124h24M584 124h16M712 124h8M200 132h16M472 132h24M560 132h24M728 132h8M200 140h16M488 140h24M544 140h24M736 140h8M208 148h16M504 148h48M744 148h8M216 156h16M752 156h8M224 164h24M760 164h8M232 172h32M256 180h32M768 180h8M272 188h40M768 188h8M296 196h24M768 196h16M312 204h16M768 204h32M320 212h16M760 212h32M800 212h16M328 220h8M744 220h40M808 220h8M328 228h16M736 228h8M776 228h8M808 228h8M336 236h8M712 236h16M784 236h8M808 236h8M336 244h8M568 244h56M680 244h24M792 244h16M336 252h8M568 252h24M632 252h16M336 260h8M568 260h16M344 268h8M568 268h24M344 276h8M576 276h24M344 284h8M592 284h24M352 292h8M616 292h16M352 300h8M624 300h16M360 308h8M632 308h8M368 316h8M640 316h8M376 324h8M640 324h8M384 332h8M640 332h8M392 340h8M632 340h16M408 348h8M632 348h8M424 356h24M488 356h48M616 356h16M544 364h64M480 492h8M520 492h8M464 508h8M544 524h8M544 532h8M544 540h8M464 556h8M536 556h8M528 564h8M480 572h8M512 572h8"/>
<path stroke="#19addc" d="M504 20h32M592 20h24M480 28h16M624 28h16M472 36h16M632 36h16M480 44h24M624 44h16M512 52h96M272 60h80M248 68h48M320 68h48M232 76h32M352 76h32M224 84h24M376 84h24M216 92h24M384 92h24M216 100h16M400 100h24M216 108h16M408 108h24M208 116h24M424 116h24M624 116h72M216 124h16M432 124h24M600 124h16M704 124h8M216 132h16M448 132h24M584 132h8M720 132h8M216 140h24M464 140h24M568 140h8M728 140h8M224 148h24M480 148h24M552 148h16M232 156h24M496 156h56M248 164h32M520 164h16M752 164h8M264 172h40M760 172h8M288 180h32M760 180h8M312 188h24M760 188h8M320 196h16M760 196h8M328 204h16M752 204h16M336 212h8M744 212h16M792 212h8M336 220h16M736 220h8M784 220h24M344 228h8M720 228h16M784 228h24M344 236h8M560 236h56M696 236h16M792 236h16M344 244h8M552 244h16M624 244h56M344 252h8M552 252h16M344 260h8M552 260h16M352 268h8M552 268h16M352 276h8M560 276h16M352 284h8M568 284h24M360 292h8M592 292h24M360 300h8M616 300h8M368 308h8M624 308h8M376 316h8M632 316h8M384 324h8M632 324h8M392 332h8M632 332h8M400 340h16M624 340h8M416 348h16M616 348h16M448 356h40M536 356h40M592 356h24M488 492h8M472 500h8M528 500h8M536 508h8M536 548h8M472 564h8M488 572h24"/>
<path stroke="#15afd9" d="M536 20h56M496 28h24M608 28h16M488 36h24M616 36h16M504 44h24M600 44h24M296 68h24M264 76h88M248 84h32M336 84h40M240 92h24M360 92h24M232 100h24M368 100h32M232 108h16M384 108h24M232 116h16M392 116h32M232 124h16M408 124h24M616 124h16M688 124h16M232 132h24M424 132h24M592 132h16M712 132h8M240 140h24M440 140h24M576 140h16M248 148h24M464 148h16M568 148h8M736 148h8M256 156h40M480 156h16M552 156h16M744 156h8M280 164h40M496 164h24M536 164h24M744 164h8M304 172h32M512 172h40M752 172h8M320 180h24M752 180h8M336 188h16M752 188h8M336 196h16M752 196h8M344 204h8M744 204h8M344 212h16M736 212h8M352 220h8M552 220h24M728 220h8M352 228h8M544 228h64M712 228h8M352 236h8M544 236h16M616 236h32M672 236h24M352 244h8M544 244h8M352 252h8M544 252h8M352 260h8M544 260h8M544 268h8M360 276h8M544 276h16M360 284h8M552 284h16M568 292h24M368 300h8M600 300h16M376 308h8M616 308h8M384 316h8M616 316h16M392 324h8M624 324h8M400 332h8M624 332h8M416 340h8M616 340h8M432 348h128M600 348h16M576 356h16M496 492h24M464 516h8M536 516h8M536 540h8M464 548h8M528 556h8M520 564h8"/>
<path stroke="#10b2d5" d="M520 28h40M568 28h40M512 36h24M592 36h24M528 44h72M280 84h56M264 92h96M256 100h32M328 100h40M248 108h32M344 108h40M248 116h24M360 116h32M248 124h32M368 124h40M632 124h56M256 132h32M376 132h48M608 132h8M704 132h8M264 140h40M400 140h40M592 140h8M720 140h8M272 148h64M432 148h32M576 148h8M728 148h8M296 156h56M456 156h24M568 156h8M736 156h8M320 164h40M480 164h16M560 164h8M336 172h24M496 172h16M552 172h16M744 172h8M344 180h16M504 180h56M744 180h8M352 188h16M520 188h40M744 188h8M352 196h16M528 196h32M744 196h8M352 204h16M528 204h40M736 204h8M360 212h8M536 212h48M728 212h8M360 220h8M536 220h16M576 220h24M720 220h8M360 228h8M536 228h8M608 228h16M696 228h16M360 236h8M536 236h8M648 236h24M360 244h8M536 244h8M360 252h8M536 252h8M360 260h8M536 260h8M360 268h8M536 268h8M536 276h8M368 284h8M544 284h8M368 292h8M544 292h24M376 300h8M568 300h32M600 308h16M608 316h8M400 324h8M616 324h8M408 332h8M608 332h16M424 340h24M472 340h80M600 340h16M560 348h40M480 500h8M520 500h8M528 508h8M464 524h8M536 524h8M536 532h8M464 540h8M472 556h8M480 564h8"/>
<path stroke="#09b4d1" d="M560 28h8M536 36h56M288 100h40M280 108h64M272 116h88M280 124h88M288 132h88M616 132h16M688 132h16M304 140h96M600 140h8M712 140h8M336 148h96M584 148h16M720 148h8M352 156h104M576 156h8M728 156h8M360 164h32M456 164h24M568 164h16M736 164h8M360 172h24M480 172h16M568 172h8M736 172h8M360 180h24M488 180h16M560 180h16M368 188h8M504 188h16M560 188h16M368 196h8M512 196h16M560 196h16M736 196h8M368 204h8M520 204h8M568 204h16M728 204h8M368 212h8M520 212h16M584 212h8M720 212h8M368 220h8M520 220h16M600 220h16M704 220h16M528 228h8M624 228h32M664 228h32M528 236h8M528 244h8M368 252h8M528 252h8M368 260h8M528 260h8M368 268h8M528 268h8M368 276h8M528 276h8M528 284h16M376 292h8M536 292h8M384 300h8M536 300h32M384 308h8M544 308h56M392 316h8M592 316h16M408 324h8M512 324h32M600 324h16M416 332h16M488 332h72M592 332h16M448 340h24M552 340h48M472 508h8M464 532h8M528 548h8M488 564h8M512 564h8"/>
<path stroke="#04b6cd" d="M632 132h56M608 140h16M704 140h8M600 148h8M712 148h8M584 156h8M392 164h64M584 164h8M728 164h8M384 172h24M456 172h24M576 172h8M384 180h16M472 180h16M576 180h8M736 180h8M376 188h16M488 188h16M576 188h8M736 188h8M376 196h8M496 196h16M576 196h8M728 196h8M376 204h8M504 204h16M584 204h8M720 204h8M376 212h8M512 212h8M592 212h16M712 212h8M512 220h8M616 220h16M696 220h8M368 228h8M520 228h8M656 228h8M368 236h8M520 236h8M368 244h8M520 244h8M520 252h8M520 260h8M376 268h8M520 268h8M376 276h8M520 276h8M376 284h8M520 284h8M384 292h8M520 292h16M520 300h16M392 308h8M520 308h24M400 316h8M504 316h88M416 324h8M488 324h24M544 324h56M432 332h56M560 332h32M488 500h8M512 500h8M528 516h8M520 556h8M496 564h16"/>
<path stroke="#01b8c9" d="M624 140h16M688 140h16M608 148h8M704 148h8M592 156h8M720 156h8M592 164h8M408 172h48M584 172h8M728 172h8M400 180h16M456 180h16M584 180h8M728 180h8M392 188h8M472 188h16M584 188h8M728 188h8M384 196h16M488 196h8M584 196h16M720 196h8M384 204h8M496 204h8M592 204h16M712 204h8M384 212h8M504 212h8M608 212h8M704 212h8M376 220h8M504 220h8M632 220h24M672 220h24M376 228h8M512 228h8M376 236h8M512 236h8M376 244h8M512 244h8M376 252h8M512 252h8M376 260h8M512 260h8M512 268h8M384 276h8M512 276h8M384 284h8M512 284h8M392 292h8M512 292h8M392 300h8M512 300h8M400 308h8M504 308h16M408 316h16M488 316h16M424 324h24M464 324h24M504 500h8M520 508h8M472 516h8M528 540h8M472 548h8M480 556h8"/>
<path stroke="#02bac4" d="M640 140h48M616 148h8M696 148h8M600 156h16M712 156h8M720 164h8M592 172h8M720 172h8M416 180h40M592 180h8M720 180h8M400 188h24M456 188h16M592 188h8M720 188h8M400 196h8M472 196h16M600 196h8M392 204h8M488 204h8M608 204h8M704 204h8M392 212h8M496 212h8M616 212h16M688 212h16M384 220h8M496 220h8M656 220h16M384 228h8M504 228h8M384 236h8M504 236h8M384 244h8M504 244h8M384 252h8M504 252h8M384 260h8M504 260h8M384 268h8M504 268h8M504 276h8M392 284h8M504 284h8M504 292h8M400 300h8M496 300h16M408 308h8M488 308h16M424 316h8M472 316h16M448 324h16M496 500h8M480 508h8M528 524h8M528 532h8M472 540h8M520 548h8M512 556h8"/>
<path stroke="#06bcc0" d="M624 148h16M688 148h8M616 156h8M704 156h8M600 164h8M712 164h8M600 172h8M712 172h8M600 180h8M424 188h32M600 188h8M712 188h8M408 196h16M456 196h16M608 196h8M712 196h8M400 204h16M472 204h16M616 204h8M696 204h8M400 212h8M480 212h16M632 212h24M672 212h16M392 220h8M488 220h8M392 228h8M496 228h8M392 236h8M496 236h8M496 244h8M392 260h8M392 268h8M392 276h8M496 276h8M400 284h8M496 284h8M400 292h8M496 292h8M408 300h8M488 300h8M416 308h16M472 308h16M432 316h40M472 524h8M472 532h8M488 556h8M504 556h8"/>
<path stroke="#0dbdbb" d="M640 148h48M624 156h8M696 156h8M608 164h8M704 164h8M608 172h8M608 180h8M712 180h8M608 188h8M424 196h32M616 196h8M704 196h8M416 204h16M456 204h16M624 204h16M688 204h8M408 212h8M472 212h8M656 212h16M400 220h8M480 220h8M400 228h8M488 228h8M488 236h8M392 244h8M392 252h8M496 252h8M496 260h8M400 268h8M496 268h8M400 276h8M488 284h8M408 292h8M488 292h8M416 300h8M472 300h16M432 308h40M512 508h8M520 516h8M480 548h8M496 556h8"/>
<path stroke="#16bfb7" d="M632 156h16M680 156h16M616 164h16M696 164h8M616 172h8M704 172h8M616 180h8M704 180h8M616 188h8M704 188h8M624 196h8M688 196h16M432 204h24M640 204h48M416 212h16M456 212h16M408 220h16M472 220h8M408 228h8M480 228h8M400 236h8M480 236h8M400 244h8M488 244h8M400 252h8M488 252h8M400 260h8M488 260h8M488 268h8M408 276h8M488 276h8M408 284h8M480 284h8M416 292h8M472 292h16M424 300h48M488 508h8M504 508h8M480 516h8M520 524h8M520 540h8M512 548h8"/>
<path stroke="#1ec0b2" d="M648 156h32M632 164h8M688 164h8M624 172h8M696 172h8M624 180h8M696 180h8M624 188h8M688 188h16M632 196h16M680 196h8M432 212h24M424 220h16M456 220h16M416 228h8M464 228h16M408 236h8M472 236h8M408 244h8M480 244h8M408 252h8M480 252h8M408 260h8M480 260h8M408 268h8M480 268h8M416 276h8M472 276h16M416 284h16M472 284h8M424 292h48M496 508h8M520 532h8M480 540h8M488 548h8"/>
<path stroke="#25c2ad" d="M640 164h48M632 172h8M680 172h16M632 180h8M688 180h8M632 188h16M680 188h8M648 196h32M440 220h16M424 228h40M416 236h16M464 236h8M416 244h8M464 244h16M416 252h8M472 252h8M416 260h8M472 260h8M416 268h16M472 268h8M424 276h8M464 276h8M432 284h40M512 516h8M480 524h8M480 532h8M496 548h16"/>
<path stroke="#2ac3a8" d="M640 172h40M640 180h48M648 188h32M432 236h32M424 244h40M424 252h16M456 252h16M424 260h16M456 260h16M432 268h40M432 276h32M488 516h8M512 540h8"/>
<path stroke="#2fc5a3" d="M440 252h16M440 260h16M496 516h16M512 524h8M512 532h8M488 540h8"/>
<path stroke="#32c69e" d="M488 524h8M488 532h8M496 540h16"/>
<path stroke="#36c899" d="M496 524h16M504 532h8"/>
<path stroke="#3bc993" d="M496 532h8"/>
</g>
<g fill="#fff">
<polygon points="-16.3,-17.5 561.2,-17.5 565.9,3.9 532.5,13.5 475.3,11.1 468.1,27.8 453.8,49.3 422.8,74.1 413.2,81.7 403.7,70.8 375,67.4 355.9,61.2 348.8,44.5 344,21.6 327.3,14.9 279.6,19.7 250.9,27.8 222.3,39.7 198.4,49.3 184.1,63.6 174.6,75.5 150.7,85.1 112.5,94.6 64.8,106.5 45.7,125.6 21.8,130.4 7.5,135.2 -16.3,140"/>
<polygon points="716.3,1.5 740.2,1.5 740.2,18.3 728.2,23 716.3,20.6"/>
<polygon points="759.2,135.2 780.7,135.2 804.6,149.5 828.5,154.3 828.5,202 780.7,202 775.9,182.9 761.6,178.1 756.9,154.3"/>
<polygon points="647.1,182.9 661.4,175.8 685.3,163.8 709.1,156.7 725.8,154.3 728.2,163.8 709.1,173.4 685.3,180.5 661.4,192.5 647.1,194.8"/>
<polygon points="699.6,204.4 718.7,192.5 737.8,182.9 752.1,182.9 756.9,202 737.8,213.9 718.7,221.1 699.6,216.3"/>
<polygon points="613.7,213.9 628,197.2 632.8,202 628,221.1 616.1,223.5"/>
<polygon points="666.2,249.7 680.5,240.2 685.3,249.7 675.7,264.1 666.2,261.7"/>
<polygon points="635.1,271.2 644.7,271.2 644.7,280.8 635.1,280.8"/>
<polygon points="484.8,302.2 494.4,290.3 508.7,288.9 512.5,304.6 503.9,316.6 489.6,320.4"/>
<polygon points="549.2,342.8 558.8,323.7 570.7,321.3 570.7,345.2 561.2,354.7 549.2,354.7"/>
<polygon points="570.7,350 580.3,350 577.9,373.8 570.7,373.8"/>
<polygon points="556.4,373.8 563.6,373.8 563.6,390.5 556.4,390.5"/>
<polygon points="425.1,526.6 432.3,514.6 441.8,521.8 451.4,536.1 446.6,550.4 432.3,557.6 422.8,545.7"/>
<polygon points="181.7,614.9 191.3,614.9 191.3,641.1 181.7,643.5"/>
<polygon points="250.9,540.9 255.7,540.9 255.7,557.6 250.9,557.6"/>
<polygon points="110.1,440.6 114.9,440.6 114.9,462.1 110.1,462.1"/>
<polygon points="100.6,99.4 112.5,99.4 112.5,106.5 100.6,106.5"/>
<polygon points="382.2,77.9 398.9,77.9 398.9,85.1 382.2,85.1"/>
<polygon points="525.4,423.9 542.1,414.4 565.9,397.7 585,383.4 608.9,369.1 632.8,354.7 644.7,335.6 656.6,321.3 675.7,316.6 699.6,307 713.9,302.2 733,297.5 756.9,273.6 795,264.1 833.2,256.9 833.2,707.9 336.8,707.9 339.2,672.1 370.3,669.7 391.7,657.8 394.1,633.9 422.8,629.2 451.4,622 470.5,602.9 484.8,579.1 508.7,550.4 527.8,521.8 546.9,497.9 565.9,474.1 573.1,462.1 554,462.1 542.1,450.2 527.8,445.4"/>
<polygon points="72,707.9 79.1,674.5 103,679.3 112.5,707.9"/>
<polygon points="193.7,707.9 198.4,679.3 217.5,672.1 246.2,674.5 250.9,707.9"/>
<polygon points="346.4,607.7 355.9,598.2 363.1,612.5 351.2,622"/>
</g>
<polygon fill="#15afd9" points="580.3,438.3 594.6,423.9 628,412 649.5,407.2 649.5,423.9 628,440.6 608.9,457.4 594.6,469.3 585,455"/>
<polygon fill="#4758f8" points="733,450.2 747.3,443 775.9,435.9 799.8,423.9 833.2,419.2 833.2,457.4 785.5,462.1 761.6,474.1 742.5,464.5"/>
<polygon fill="#1caadf" points="773.6,350 795,347.6 795,364.3 775.9,366.7"/>
<polygon fill="#4851f4" points="663.8,428.7 682.9,421.6 682.9,428.7 666.2,435.9"/>
<polygon fill="#4851f4" points="394.1,650.7 408.4,645.9 422.8,657.8 429.9,669.7 413.2,672.1 398.9,665"/>
<g fill="none" stroke="#000" stroke-width="10" stroke-linejoin="round" stroke-linecap="round">
<polyline points="51.3,107.7 65.9,101.6 90.1,93.1 114.3,87.1 138.5,81 162.8,74.9 174.9,68.9 184.6,54.3 194.3,47 211.2,43.4 225.7,36.1 240.3,27.6 259.7,22.7 283.9,19.1 308.1,15.4 332.3,15 337,18.9 342.5,27.2 348.1,34.2 352.2,46.7 356.4,56.4 363.3,64.7 374.4,70.9 389.6,73 406.2,73.7 417.3,77.9 431.1,71.6 445,60.5 454.7,48 459.5,34.2 460.9,18.9 458.8,6.4 462.3,-0.2"/>
<polyline points="332.3,14 348.1,19.6 361.9,27.9 371.6,36.9 375.8,44.6 373.7,46.7"/>
<polyline points="462.3,1.1 472.7,1.1 486.5,1.6 500.3,2.5 514.2,3.6 528,6.7 541.9,10.2 555.7,8.5 568.2,4.3"/>
<polyline points="452.9,60.4 501.3,68.9 549.8,73.7 598.2,73.7 646.7,70.1 683,66.4 690.3,64"/>
<polyline points="683,2.1 692.7,17.9 683,32.4 674.6,44.6 678.2,56.7 690.3,64"/>
<polyline points="690.3,64 709.7,76.1 729.1,87.1 741.2,95.6 740,112.6 741.2,117.4"/>
<polyline points="741.2,117.4 760.6,119.9 770.2,113.8 782.4,116.2 789.6,112.6 801.7,117.4 818.7,118.6"/>
<polyline points="741.2,117.4 748.4,141.7 753.3,161.1 760.6,180.6 770.2,200 772.7,217 773.9,234 770.2,253.4 755.7,263.1 736.3,268 724.2,280.1 717,297.1 717,306.9 738.8,316.6 753.3,331.1 749.7,343 746,357.6 741.2,369.8 746,384.4 753.3,398.9 750.9,413.5 763,425.6 772.7,440.2 779.9,454.8 784.8,464.5 777.5,471.8 784.8,483.9 788.4,498.5 779.9,508.2 763,510.6"/>
<polyline points="763,510.6 743.6,522.8 719.4,547.1 695.1,576.2 678.2,600.5 673.3,612.6 678.2,629.6 680.6,651.5 683,661.2"/>
<polyline points="743.6,374.6 763,374.6 777.5,381.9 792.1,372.2 804.2,362.5 809,352.8 818.7,346.7"/>
<polyline points="683,661.2 695.1,666.1 690.3,673.4"/>
<polyline points="678.2,661.2 661.2,673.4 651.5,694"/>
<polyline points="678.2,661.2 661.2,658.8 641.9,651.5 627.3,644.2 617.6,629.6 603.1,624.8 593.4,621.1 578.9,621.1 566.8,619.9 552.2,624.8 540.1,638.1 525.6,629.6 520.7,622.4 506.2,626 491.7,628.4 479.5,639.4 474.7,651.5 462.6,649.1 450.5,647.9 448,634.5 438.4,627.2 428.7,610.2 423.8,604.1 414.1,610.2 404.4,622.4"/>
<polyline points="405,622.4 390.5,627.2 383.2,615.1 373.5,598.1 359,585.9 354.1,571.4 332.3,564.1 313,554.4 300.8,561.6 291.2,554.4 281.5,542.2 291.2,534.9 288.7,525.2 276.6,527.6 259.7,522.8 240.3,513.1 223.3,510.6 228.2,515.5 233,530.1 220.9,537.4 208.8,549.5 201.5,544.6 191.8,530.1 179.7,517.9 170,510.6 179.7,503.4 189.4,493.6 182.1,485.1 167.6,486.4 153.1,486.4 138.5,477.9 119.2,471.8 102.2,464.5 94.9,449.9 82.8,447.5 73.1,459.6 58.6,464.5"/>
<polyline points="378.4,607.8 356.6,612.6 342,627.2 327.5,641.8 320.2,661.2 305.7,673.4 288.7,683.1 266.9,690.4 247.6,687.9 237.9,694"/>
<polyline points="58.6,464.5 47.7,462.1 41.6,449.9 31.9,442.6 19.8,445.1 17.4,454.8 7.7,464.5 -3.2,470.6"/>
<polyline points="73.1,694 75.5,673.4 90.1,675.8 109.5,680.6 128.8,687.9 150.6,694"/>
<polyline points="19.8,141.7 24.7,161.1 29.5,180.6 31.9,192.7 24.7,204.9 19.8,217 7.7,226.7 7.7,238.9 22.3,248.6 34.4,258.3 45.3,268 42.8,282.6 40.4,292.3 48.9,304.4 56.2,316.6 55,331.1 48.9,343.3 41.6,352.8 48.9,367.4 56.2,381.9 68.3,394.1 75.5,408.6 78,423.2 74.3,440.2 68.3,454.8 58.6,464.5"/>
<polyline points="195.5,692.8 196.7,692.8"/>
</g><g fill="#000" stroke="#000" stroke-width="3" stroke-linejoin="round">
<polygon points="-6.6,108.9 1.1,98.9 8.1,106.3 15.9,113.2 25.4,114.5 33.2,111.5 43.5,106.3 63.4,100.2 65.2,108 60,120.2 53.9,127.1 48.7,137.5 47.9,143.6 52.2,149.7 52.2,154.9 47,161.8 41.8,162.7 36.6,154.9 31.4,149.7 28.8,156.6 31.4,167 34,172.2 22.8,172.2 18.4,158.3 15,147.9 5.5,145.3 -3.2,142.7 -5.8,132.3 -4,120.2"/>
<polygon points="463,29.3 486.5,29.6 500.3,31.1 501,34.2 486.5,42.2 472.7,50.5 458.8,58.9 453.3,57.5 457.4,46.7 460.9,35.6"/>
<polygon points="402.7,74.4 417.3,89.4 433.9,73"/>
</g><g fill="#ddd">
<polygon points="4.6,130.6 13.7,130.6 13.7,134.5 4.6,134.5"/>
<polygon points="28.4,132.7 36.2,131.9 36.8,140.5 30.1,142.9 26.9,137.5"/>
</g>
</g></g>
<rect x="106.8" y="1458.0" width="817.2" height="694.0" fill="none" stroke="#b0b0b0" stroke-width="3"/>
<path d="M262.5 1458.0v7M262.5 2152.0v-7M418.1 1458.0v7M418.1 2152.0v-7M573.8 1458.0v7M573.8 2152.0v-7M729.4 1458.0v7M729.4 2152.0v-7M885.1 1458.0v7M885.1 2152.0v-7M106.8 2129.6h7M924.0 2129.6h-7M106.8 2017.7h7M924.0 2017.7h-7M106.8 1905.7h7M924.0 1905.7h-7M106.8 1793.8h7M924.0 1793.8h-7M106.8 1681.9h7M924.0 1681.9h-7M106.8 1569.9h7M924.0 1569.9h-7" stroke="#9a9a9a" stroke-width="2" fill="none"/>
<clipPath id="cD"><rect width="815.5" height="696.2"/></clipPath>
<g transform="translate(103.0 2169.2)"><g clip-path="url(#cD)">
<g fill="none" stroke-width="8.6" shape-rendering="crispEdges">
<path stroke="#4537d5" d="M0 140h16M0 148h24M0 156h24M0 164h24M0 172h24M0 180h32M0 188h32M0 196h32M0 204h24M0 212h24M0 220h16M0 228h8M0 236h8M0 244h16M0 252h24M0 260h32M0 268h48M0 276h40M0 284h40M0 292h40M0 300h48M0 308h48M0 316h56M0 324h56M0 332h56M0 340h48M0 348h48M0 356h40M0 364h48M0 372h48M0 380h56M0 388h64M0 396h72M0 404h72M0 412h72M0 420h80M0 428h80M0 436h72M0 444h72M0 452h16M40 452h32M0 460h16M48 460h16M0 468h8"/>
<path stroke="#4741e5" d="M16 484h8M16 492h8M16 500h8M264 644h32M256 652h40M264 660h32M264 668h32"/>
<path stroke="#4745e9" d="M80 420h8M80 428h8M16 468h8M8 476h24M8 484h8M24 484h8M8 492h8M24 492h8M8 500h8M24 500h8M8 508h24M16 516h8M272 628h16M256 636h48M248 644h16M296 644h16M248 652h8M296 652h16M248 660h16M296 660h16M256 668h8M296 668h8M256 676h48"/>
<path stroke="#4849ed" d="M72 396h8M72 404h16M72 412h24M88 420h16M88 428h16M72 436h24M72 444h24M72 452h8M16 460h16M64 460h8M8 468h8M24 468h16M0 476h8M32 476h8M0 484h8M32 484h8M0 492h8M32 492h8M0 500h8M32 500h8M0 508h8M32 508h8M0 516h16M24 516h8M8 524h16M272 620h16M256 628h16M288 628h16M248 636h8M304 636h8M240 644h8M312 644h8M240 652h8M312 652h8M240 660h8M312 660h8M240 668h16M304 668h16M248 676h8M304 676h8M256 684h48M272 692h16"/>
<path stroke="#484cf0" d="M16 4h16M16 12h16M16 20h16M16 28h16M16 36h16M16 44h16M16 52h16M16 60h16M16 68h16M16 76h16M16 84h16M16 92h16M16 100h16M16 108h16M16 116h16M16 124h16M16 132h16M16 140h16M24 148h8M24 156h8M24 164h16M24 172h16M32 180h8M32 188h8M32 196h8M24 204h16M24 212h8M16 220h16M8 228h8M8 236h8M16 244h8M24 252h16M32 260h16M48 268h8M40 276h16M40 284h16M40 292h16M48 300h8M48 308h16M56 316h8M56 324h8M56 332h8M48 340h16M48 348h8M40 356h16M48 364h8M48 372h16M56 380h16M64 388h16M80 396h16M88 404h16M96 412h8M104 420h8M104 428h8M96 436h8M96 444h8M16 452h24M32 460h8M40 468h8M40 476h8M40 484h8M40 492h8M32 516h8M0 524h8M24 524h8M8 532h16M264 612h32M248 620h24M288 620h24M240 628h16M304 628h16M232 636h16M312 636h16M232 644h8M320 644h8M232 652h8M320 652h8M232 660h8M320 660h8M232 668h8M320 668h8M232 676h16M312 676h16M240 684h16M304 684h16M248 692h24M288 692h24M264 700h32"/>
<path stroke="#4850f3" d="M32 4h8M32 12h8M32 20h8M32 28h8M32 36h8M32 44h8M32 52h8M32 60h8M32 68h8M32 76h8M32 84h8M32 92h8M32 100h8M32 108h8M32 116h8M32 124h8M32 132h8M32 140h8M32 148h8M32 156h8M40 164h8M40 172h8M40 180h8M40 188h8M40 196h8M40 204h8M32 212h8M32 220h8M16 228h8M16 236h8M24 244h8M40 252h8M48 260h8M56 268h8M56 276h8M56 284h8M56 292h8M56 300h8M64 308h8M64 316h8M64 324h8M64 332h8M64 340h8M56 348h8M56 356h8M56 364h8M64 372h8M72 380h8M80 388h8M104 412h8M112 420h8M112 428h8M104 436h8M104 444h8M96 452h8M40 460h8M48 468h8M48 476h8M48 484h8M40 500h8M40 508h8M32 524h8M0 532h8M24 532h8M0 540h24M272 596h24M248 604h72M240 612h24M296 612h32M232 620h16M312 620h24M224 628h16M320 628h24M216 636h16M328 636h16M216 644h16M328 644h16M216 652h16M328 652h16M216 660h16M328 660h16M216 668h16M328 668h16M216 676h16M328 676h16M216 684h24M320 684h24M224 692h24M312 692h24M232 700h32M296 700h32"/>
<path stroke="#4854f5" d="M40 4h8M40 12h8M40 20h8M40 28h8M40 36h8M40 44h8M40 52h8M40 60h8M40 68h8M40 76h8M40 84h8M40 92h8M40 100h8M40 108h8M40 116h8M40 124h8M40 132h8M40 140h8M40 148h8M40 156h8M48 172h8M48 180h8M48 188h8M48 196h8M40 212h8M24 228h8M24 236h8M32 244h8M56 260h8M64 268h8M64 276h8M64 284h8M64 300h8M72 316h8M72 324h8M72 332h8M72 340h8M64 348h8M64 356h8M64 364h8M72 372h8M80 380h8M88 388h8M96 396h8M104 404h8M112 412h8M112 436h8M56 468h8M56 476h8M48 492h8M48 500h8M40 516h8M40 524h8M32 532h8M272 532h16M24 540h8M272 540h16M0 548h32M272 548h16M0 556h24M272 556h16M0 564h16M264 564h64M0 572h8M256 572h96M248 580h104M240 588h120M232 596h40M296 596h72M224 604h24M320 604h56M216 612h24M328 612h48M416 612h8M200 620h32M336 620h48M408 620h24M192 628h32M344 628h96M504 628h16M552 628h56M184 636h32M344 636h104M488 636h40M544 636h72M168 644h48M344 644h104M480 644h144M160 652h56M344 652h120M472 652h168M160 660h56M344 660h312M152 668h64M344 668h328M152 676h64M344 676h312M152 684h64M344 684h312M144 692h80M336 692h320M136 700h96M328 700h320"/>
<path stroke="#4758f8" d="M48 156h8M48 164h8M56 188h8M56 196h8M48 204h8M48 212h8M40 220h8M32 228h8M32 236h8M40 244h8M48 252h8M64 292h8M72 308h8M80 316h8M80 324h8M80 332h8M72 348h8M72 364h8M104 396h8M112 404h8M120 412h8M120 420h8M120 428h8M120 436h8M112 444h8M80 452h16M104 452h8M72 460h32M64 468h40M64 476h24M56 484h16M56 492h8M56 500h8M48 508h8M48 516h8M224 516h16M232 524h24M40 532h8M232 532h40M32 540h8M232 540h40M32 548h8M232 548h40M24 556h16M232 556h40M16 564h16M232 564h32M8 572h24M224 572h32M0 580h32M224 580h24M0 588h40M216 588h24M0 596h40M208 596h24M0 604h40M192 604h32M0 612h40M176 612h40M0 620h16M152 620h48M0 628h8M120 628h72M120 636h64M120 644h48M120 652h40M120 660h40M120 668h32M120 676h32M112 684h40M112 692h32M96 700h40"/>
<path stroke="#475bfa" d="M48 4h8M48 12h8M48 20h8M48 28h8M48 36h8M48 44h8M48 52h8M48 60h8M48 68h8M48 76h8M48 84h8M48 92h8M48 100h8M48 108h8M48 116h8M48 124h8M48 132h8M48 140h8M48 148h8M56 172h8M56 180h8M56 204h8M56 252h8M64 260h8M72 268h8M72 276h8M72 284h8M72 300h8M80 308h8M80 340h8M72 356h8M80 372h8M88 380h8M96 388h8M128 420h8M128 428h8M120 444h8M112 452h8M88 476h40M72 484h32M64 492h16M176 492h8M64 500h8M56 508h8M48 524h8M40 540h8M216 540h16M40 548h8M216 548h16M40 556h8M216 556h16M32 564h16M216 564h16M32 572h16M208 572h16M32 580h16M200 580h24M40 588h16M192 588h24M40 596h24M184 596h24M40 604h40M160 604h32M40 612h136M16 620h136M8 628h24M80 628h40M0 636h16M96 636h24M0 644h8M104 644h16M104 652h16M104 660h16M104 668h16M104 676h16M96 684h16M0 692h16M88 692h24M0 700h32M72 700h24"/>
<path stroke="#465ffb" d="M56 156h8M56 164h8M64 188h8M64 196h8M56 212h8M48 220h8M40 228h8M40 236h8M48 244h8M72 292h8M88 316h8M88 324h8M88 332h8M80 348h8M80 364h8M88 372h8M112 396h8M120 404h8M128 412h8M128 436h8M104 460h8M104 484h40M80 492h24M152 492h24M72 500h8M176 500h8M64 508h8M56 516h8M56 524h8M48 532h8M48 540h8M48 548h8M208 548h8M48 556h8M208 556h8M48 564h8M200 564h16M48 572h8M192 572h16M48 580h16M184 580h16M56 588h24M176 588h16M64 596h32M152 596h32M80 604h80M32 628h48M16 636h24M64 636h32M8 644h16M80 644h24M0 652h16M88 652h16M0 660h8M96 660h8M0 668h8M96 668h8M0 676h8M88 676h16M0 684h16M80 684h16M16 692h16M64 692h24M32 700h40"/>
<path stroke="#4563fc" d="M56 4h8M56 12h8M56 20h8M56 28h8M56 36h8M56 44h8M56 52h8M56 60h8M56 68h8M56 76h8M56 84h8M56 92h8M56 100h8M56 108h8M56 116h8M56 124h8M56 132h8M56 140h8M56 148h8M64 172h8M64 180h8M72 260h8M80 268h8M80 276h8M80 284h8M80 300h8M88 308h8M88 340h8M80 356h8M96 380h8M104 388h8M232 388h8M240 396h8M128 404h8M240 404h16M248 412h8M136 420h8M136 428h8M128 444h8M120 452h8M112 460h8M104 492h48M80 500h24M152 500h24M72 508h16M168 508h8M64 516h8M64 524h8M56 532h8M56 540h8M192 540h8M56 548h8M192 548h8M56 556h8M192 556h16M56 564h8M192 564h8M56 572h16M184 572h8M64 580h16M176 580h8M80 588h16M152 588h24M96 596h56M40 636h24M24 644h24M56 644h24M16 652h8M80 652h8M8 660h16M80 660h16M8 668h8M80 668h16M8 676h16M80 676h8M16 684h24M64 684h16M32 692h32"/>
<path stroke="#4367fd" d="M64 156h8M64 164h8M72 188h8M72 196h8M64 204h8M56 220h8M48 228h8M48 236h8M56 244h8M64 252h8M80 292h8M96 316h8M96 324h8M96 332h8M88 348h8M88 364h8M96 372h8M224 372h8M224 380h16M224 388h8M240 388h8M120 396h8M232 396h8M248 396h8M256 404h8M136 412h8M256 412h8M256 420h16M264 428h8M136 436h8M104 468h8M104 500h48M88 508h16M152 508h16M72 516h16M168 516h8M72 524h8M176 524h8M64 532h8M184 532h8M64 540h8M184 540h8M64 548h8M184 548h8M64 556h8M184 556h8M64 564h8M176 564h16M72 572h8M168 572h16M80 580h16M160 580h16M96 588h56M48 644h8M24 652h56M24 660h8M64 660h16M16 668h16M64 668h16M24 676h24M56 676h24M40 684h24"/>
<path stroke="#416bfe" d="M64 4h8M64 12h8M64 20h8M64 28h8M64 36h8M64 44h8M64 52h8M64 60h8M64 68h8M64 76h8M64 84h8M64 92h8M64 100h8M64 108h8M64 116h8M64 124h8M64 132h8M64 140h8M64 148h8M72 172h8M72 180h8M64 212h8M80 260h8M88 268h8M88 276h8M88 284h8M88 300h8M96 340h8M88 356h8M208 356h16M208 364h24M216 372h8M232 372h8M104 380h8M216 380h8M240 380h8M112 388h8M128 396h8M224 396h8M136 404h8M232 404h8M144 412h8M240 412h8M264 412h8M144 420h8M248 420h8M144 428h8M256 428h8M272 428h8M144 436h8M272 436h8M136 444h8M128 452h8M120 460h8M104 508h48M88 516h16M152 516h16M80 524h8M168 524h8M72 532h8M176 532h8M72 540h8M176 540h8M72 548h8M176 548h8M72 556h8M176 556h8M72 564h16M168 564h8M80 572h16M160 572h8M96 580h64M32 660h32M32 668h32M48 676h8"/>
<path stroke="#3f6fff" d="M72 164h8M72 204h8M64 220h8M56 228h8M56 236h8M72 252h8M88 292h8M96 308h8M104 316h8M104 324h8M104 332h8M208 348h8M96 364h8M208 372h8M216 388h8M248 388h8M256 396h8M152 420h8M272 420h8M152 428h8M264 436h8M280 436h8M272 444h16M288 452h8M112 468h8M104 516h48M88 524h16M152 524h16M80 532h8M160 532h16M80 540h8M168 540h8M80 548h8M168 548h8M80 556h8M160 556h16M88 564h8M152 564h16M96 572h24M136 572h24"/>
<path stroke="#3b73fe" d="M72 148h8M72 156h8M80 180h8M80 188h8M80 196h8M72 212h8M64 244h8M96 268h8M96 276h8M96 300h8M96 348h8M200 348h8M216 348h8M96 356h8M200 356h8M224 356h8M232 364h8M104 372h8M112 380h8M120 388h8M136 396h8M144 404h8M224 404h8M264 404h8M152 412h8M232 412h8M240 420h8M248 428h8M280 428h8M152 436h8M144 444h8M288 444h8M136 452h8M280 452h8M128 460h8M288 460h16M296 468h16M304 476h8M312 484h8M320 492h8M328 508h8M336 516h8M104 524h48M344 524h8M88 532h16M152 532h8M88 540h8M152 540h16M88 548h8M152 548h16M88 556h16M152 556h8M96 564h24M136 564h16M120 572h16"/>
<path stroke="#3777fe" d="M72 4h8M72 12h8M72 20h8M72 28h8M72 36h8M72 44h8M72 52h8M72 60h8M72 68h8M72 76h8M72 84h8M72 92h8M72 100h8M72 108h8M72 116h8M72 124h8M72 132h8M72 140h8M80 164h8M80 172h8M80 204h8M72 220h8M80 252h8M88 260h8M96 284h8M104 308h8M104 340h8M200 340h16M104 364h8M200 364h8M240 372h8M208 380h8M248 380h8M216 396h8M272 412h8M160 420h8M160 428h8M256 436h8M288 436h8M264 444h8M272 452h8M296 452h8M280 460h8M304 460h8M120 468h8M288 468h8M296 476h8M312 476h8M304 484h8M320 484h8M312 492h8M320 500h16M336 508h8M328 516h8M344 516h8M336 524h8M352 524h8M104 532h48M344 532h16M96 540h24M136 540h16M352 540h16M96 548h16M136 548h16M360 548h16M104 556h48M360 556h24M120 564h16M368 564h16M376 572h16M384 580h16M384 588h24M392 596h16M400 604h16"/>
<path stroke="#337bfc" d="M80 156h8M88 188h8M88 196h8M80 212h8M64 228h8M64 236h8M72 244h8M96 292h8M112 316h8M112 324h8M112 332h8M192 340h8M216 340h8M104 348h8M192 348h8M224 348h8M112 372h8M200 372h8M120 380h8M128 388h8M208 388h8M256 388h8M144 396h8M152 404h8M216 404h8M160 412h8M224 412h8M232 420h8M280 420h8M160 436h8M152 444h8M296 444h8M144 452h8M136 460h8M312 468h8M328 492h8M312 500h8M336 500h8M320 508h8M360 532h8M120 540h16M344 540h8M112 548h24M352 548h8M384 564h8M368 572h8M376 580h8M408 596h8M408 612h8"/>
<path stroke="#307ffb" d="M80 4h8M80 12h8M80 20h8M80 28h8M80 36h8M80 44h8M80 52h8M80 60h8M80 68h8M80 76h8M80 84h8M80 92h8M80 100h8M80 108h8M80 116h8M80 124h8M80 132h8M80 140h8M80 148h8M88 172h8M88 180h8M96 260h8M104 268h8M104 276h8M104 284h8M104 300h8M112 308h8M192 332h24M112 340h8M104 356h8M192 356h8M232 356h8M200 380h8M136 388h8M208 396h8M264 396h8M160 404h8M168 412h8M168 420h8M168 428h8M240 428h8M288 428h8M248 436h8M160 444h8M152 452h8M304 452h8M128 468h8M320 476h8M296 484h8M328 484h8M304 492h8M344 508h8M352 516h8M328 524h8M336 532h8M368 540h8M376 548h8M352 556h8M360 564h8M392 572h8M400 580h8M384 596h8M392 604h8M400 612h8"/>
<path stroke="#2e83f9" d="M88 164h8M88 204h8M80 220h8M72 228h8M72 236h8M88 252h8M104 292h8M120 316h8M120 324h8M120 332h8M184 332h8M184 340h8M112 348h8M112 364h8M192 364h8M240 364h8M120 372h8M248 372h8M128 380h8M152 396h8M208 404h8M272 404h8M216 412h8M176 420h8M224 420h8M176 428h8M168 436h8M296 436h8M256 444h8M264 452h8M144 460h8M272 460h8M312 460h8M280 468h8M128 476h8M288 476h8M336 492h8M312 508h8M320 516h8M360 524h8M344 548h8M384 556h8M368 580h8M376 588h8M408 588h8M416 604h8"/>
<path stroke="#2e86f7" d="M88 148h8M88 156h8M96 180h8M96 188h8M96 196h8M88 212h8M80 244h8M112 268h8M112 276h8M112 300h8M192 324h16M120 340h8M224 340h8M184 348h8M112 356h8M192 372h8M256 380h8M144 388h8M200 388h8M160 396h8M200 396h8M168 404h8M176 412h8M280 412h8M232 428h8M176 436h8M168 444h8M160 452h8M136 468h8M320 468h8M304 500h8M344 500h8M328 532h8M368 532h8M336 540h8M392 564h8M360 572h8M416 596h8M384 604h8M392 612h8"/>
<path stroke="#2d8af5" d="M88 4h8M88 12h8M88 20h8M88 28h8M88 36h8M88 44h8M88 52h8M88 60h8M88 68h8M88 76h8M88 84h8M88 92h8M88 100h8M88 108h8M88 116h8M88 124h8M88 132h8M88 140h8M96 164h8M96 172h8M96 204h8M88 220h8M96 252h8M104 260h8M112 284h8M112 292h8M120 308h8M128 316h8M128 324h8M184 324h8M128 332h8M176 332h8M216 332h8M232 348h8M184 356h8M120 364h8M128 372h8M136 380h8M192 380h8M264 388h8M168 396h8M176 404h16M200 404h8M184 412h32M184 420h8M216 420h8M288 420h8M184 428h8M240 436h8M248 444h8M304 444h8M152 460h8M136 476h8M328 476h8M288 484h8M296 492h8M352 508h8M360 516h8M320 524h8M376 540h8M384 548h8M352 564h8M400 572h8M408 580h8M376 596h8M424 612h8M400 620h8"/>
<path stroke="#2d8df2" d="M96 156h8M104 188h8M104 196h8M96 212h8M80 228h8M80 236h8M88 244h8M120 300h8M176 324h8M208 324h8M128 340h8M176 340h8M120 348h8M120 356h8M240 356h8M184 364h8M152 388h8M192 388h8M176 396h24M272 396h8M192 404h8M192 420h24M192 428h8M224 428h8M296 428h8M184 436h8M176 444h8M168 452h8M256 452h8M312 452h8M264 460h8M144 468h8M272 468h8M280 476h8M336 484h8M344 492h8M312 516h8M368 524h8M336 548h8M344 556h8M392 556h8M368 588h8M416 588h8M424 604h8"/>
<path stroke="#2b91ef" d="M96 4h8M96 12h8M96 20h8M96 28h8M96 36h8M96 44h8M96 52h8M96 60h8M96 68h8M96 76h8M96 84h8M96 92h8M96 100h8M96 108h8M96 116h8M96 124h8M96 132h8M96 140h8M96 148h8M104 172h8M104 180h8M112 260h8M120 268h8M120 276h8M120 284h8M128 308h8M136 316h8M176 316h24M136 324h8M168 324h8M136 332h8M168 332h8M176 348h8M128 364h8M248 364h8M136 372h8M184 372h8M256 372h8M144 380h8M184 380h8M160 388h8M184 388h8M280 404h8M200 428h24M192 436h8M232 436h8M304 436h8M184 444h8M176 452h8M160 460h8M320 460h8M144 476h8M296 500h8M352 500h8M304 508h8M376 532h8M328 540h8M400 564h8M360 580h8M384 612h8M392 620h8"/>
<path stroke="#2994ed" d="M104 156h8M104 164h8M104 204h8M96 220h8M88 228h8M88 236h8M104 252h8M120 292h8M128 300h8M136 308h8M144 316h8M168 316h8M200 316h8M144 324h8M160 324h8M216 324h8M144 332h8M160 332h8M224 332h8M136 340h8M168 340h8M232 340h8M128 348h8M128 356h8M176 356h8M176 364h8M144 372h8M152 380h8M264 380h8M168 388h16M288 412h8M200 436h8M224 436h8M240 444h8M312 444h8M168 460h8M152 468h8M328 468h8M336 476h8M144 484h8M288 492h8M360 508h8M320 532h8M384 540h8M344 564h8M352 572h8M408 572h8M424 596h8M376 604h8"/>
<path stroke="#2798ea" d="M104 4h8M104 12h8M104 20h8M104 28h8M104 36h8M104 44h8M104 52h8M104 60h8M104 68h8M104 76h8M104 84h8M104 92h8M104 100h8M104 108h8M104 116h8M104 124h8M104 132h8M104 140h8M104 148h8M112 180h8M112 188h8M112 196h8M104 212h8M96 244h8M120 260h8M128 268h8M128 276h8M128 284h8M152 316h16M208 316h8M152 324h8M152 332h8M144 340h8M160 340h8M136 348h8M168 348h8M240 348h8M136 364h8M176 372h8M160 380h24M272 388h8M296 420h8M208 436h16M192 444h8M184 452h8M248 452h8M320 452h8M256 460h8M160 468h8M264 468h8M152 476h8M272 476h8M152 484h8M280 484h8M344 484h8M368 516h8M312 524h8M392 548h8M336 556h8M416 580h8M368 596h8M432 612h8M432 620h8"/>
<path stroke="#259be8" d="M112 164h8M112 172h8M112 204h8M104 220h8M96 228h8M96 236h8M112 252h8M128 292h8M136 300h8M144 308h56M152 340h8M136 356h8M168 356h8M248 356h8M144 364h8M168 364h8M256 364h8M152 372h24M280 396h8M304 428h8M200 444h8M232 444h8M192 452h8M176 460h8M328 460h8M160 476h8M352 492h8M296 508h8M304 516h8M376 524h8M328 548h8M400 556h8M352 580h8M360 588h8M424 588h8M432 604h8M384 620h8"/>
<path stroke="#249ee6" d="M112 4h8M112 12h8M112 20h8M112 28h8M112 36h8M112 44h8M112 148h8M112 156h8M120 180h8M120 188h8M120 196h8M112 212h8M104 244h8M128 260h8M136 268h8M136 276h8M136 284h8M136 292h8M144 300h8M200 308h8M224 324h8M232 332h8M144 348h24M144 356h8M160 356h8M152 364h16M264 372h8M288 404h8M312 436h8M208 444h24M200 452h8M240 452h8M184 460h8M168 468h8M336 468h8M160 484h8M288 500h8M360 500h8M384 532h8M320 540h8M408 564h8M376 612h8"/>
<path stroke="#22a1e4" d="M112 52h8M112 60h8M112 68h8M112 76h8M112 84h8M112 92h8M112 100h8M112 108h8M112 116h8M112 124h8M112 132h8M112 140h8M120 164h8M120 172h8M120 204h8M112 220h8M104 228h8M104 236h8M120 252h8M144 276h8M144 284h8M144 292h8M152 300h32M216 316h8M240 340h8M152 356h8M272 380h8M296 412h8M320 444h8M208 452h8M232 452h8M192 460h8M248 460h8M176 468h8M256 468h8M168 476h8M264 476h8M344 476h8M272 484h8M280 492h8M368 508h8M304 524h8M312 532h8M392 540h8M336 564h8M416 572h8M432 596h8M440 620h8M440 628h8"/>
<path stroke="#20a4e3" d="M120 4h8M120 12h8M120 20h8M120 28h8M120 36h8M120 44h8M120 52h8M120 60h8M120 68h8M120 76h8M120 148h8M120 156h8M128 180h8M128 188h8M128 196h8M120 212h8M112 244h8M136 260h8M144 268h8M152 284h8M152 292h8M184 300h16M208 308h8M248 348h8M256 356h8M280 388h8M288 396h8M304 420h8M216 452h16M328 452h8M200 460h8M184 468h8M176 476h8M168 484h8M352 484h8M296 516h8M376 516h8M320 548h8M400 548h8M328 556h8M424 580h8M440 612h8"/>
<path stroke="#1ea7e1" d="M120 84h8M120 92h8M120 100h8M120 108h8M120 116h8M120 124h8M120 132h8M120 140h8M128 164h8M128 172h8M128 204h8M120 220h8M112 228h8M112 236h8M128 252h8M152 268h8M152 276h8M160 284h8M160 292h24M200 300h8M224 316h8M232 324h8M240 332h8M264 364h8M296 404h8M312 428h8M208 460h8M240 460h8M336 460h8M192 468h8M248 468h8M184 476h8M176 484h8M360 492h8M280 500h8M288 508h8M384 524h8M312 540h8M408 556h8M432 588h8M440 604h8"/>
<path stroke="#1caadf" d="M128 4h8M128 12h8M128 20h8M128 28h8M128 36h8M128 44h8M128 52h8M128 60h8M128 68h8M128 76h8M128 84h8M128 92h8M128 100h8M128 108h8M128 116h8M128 124h8M128 132h8M128 140h8M128 148h8M128 156h8M136 172h8M136 180h8M136 188h8M136 196h8M128 212h8M120 244h8M136 252h8M144 260h8M160 268h8M160 276h8M168 284h8M184 292h8M216 308h8M248 340h8M272 372h8M280 380h8M304 412h8M320 436h8M328 444h8M216 460h24M200 468h8M344 468h8M192 476h8M256 476h8M352 476h8M184 484h8M264 484h8M272 492h8M368 500h8M376 508h8M296 524h8M304 532h8M392 532h8M328 564h8M416 564h8M440 596h8M448 620h8M448 628h8M448 636h8"/>
<path stroke="#19addc" d="M136 156h8M136 164h8M144 188h8M144 196h8M136 204h8M136 212h8M128 220h8M120 228h8M120 236h8M128 244h8M152 260h8M168 276h8M176 284h8M192 292h8M208 300h8M256 348h8M264 356h8M288 388h8M296 396h8M312 420h8M336 452h8M208 468h16M240 468h8M200 476h8M192 484h8M360 484h8M184 492h8M176 508h8M176 516h8M288 516h8M384 516h8M400 540h8M312 548h8M320 556h8M424 572h8M448 612h8M448 644h8"/>
<path stroke="#15afd9" d="M136 4h8M136 12h8M136 20h8M136 28h8M136 36h8M136 44h8M136 52h8M136 60h8M136 68h8M136 76h8M136 84h8M136 92h8M136 100h8M136 108h8M136 116h8M136 124h8M136 132h8M136 140h8M136 148h8M144 164h8M144 172h8M144 180h8M144 204h8M136 220h8M128 228h8M128 236h8M136 244h8M144 252h8M160 260h8M168 268h8M176 276h8M184 284h16M200 292h8M568 292h48M216 300h8M560 300h64M224 308h8M552 308h72M232 316h8M560 316h64M240 324h8M568 324h40M248 332h8M272 364h8M280 372h8M304 404h8M320 428h8M328 436h8M344 460h8M224 468h16M352 468h8M208 476h8M248 476h8M200 484h8M256 484h8M192 492h8M264 492h8M368 492h8M184 500h8M272 500h8M376 500h8M184 508h8M280 508h8M184 516h8M392 524h8M296 532h8M304 540h8M408 548h8M432 580h8M440 588h8M448 604h8M456 628h8M456 636h8"/>
<path stroke="#10b2d5" d="M144 4h8M144 12h8M144 20h8M144 28h8M144 36h8M144 44h8M144 52h8M144 60h8M144 68h8M144 76h8M144 84h8M144 92h8M144 100h8M144 108h8M144 116h8M144 124h8M144 132h8M144 140h8M144 148h8M144 156h8M152 172h8M152 180h8M152 188h8M152 196h8M152 204h8M144 212h8M144 220h8M136 228h8M136 236h8M144 244h8M152 252h8M168 260h8M176 268h8M184 276h8M576 276h32M200 284h8M552 284h80M208 292h8M544 292h24M616 292h24M536 300h24M624 300h24M536 308h16M624 308h24M536 316h24M624 316h24M544 324h24M608 324h32M552 332h80M256 340h8M576 340h32M264 348h8M272 356h8M288 380h8M296 388h8M312 412h8M320 420h8M336 444h8M344 452h8M216 476h32M360 476h8M208 484h8M248 484h8M368 484h8M200 492h8M192 500h8M192 508h8M384 508h8M192 516h8M280 516h8M184 524h8M288 524h8M400 532h8M312 556h8M416 556h8M448 596h8M456 612h8M456 620h8M456 644h8"/>
<path stroke="#09b4d1" d="M152 4h8M152 12h8M152 20h8M152 28h8M152 36h8M152 44h8M152 52h8M152 60h8M152 68h8M152 76h8M152 84h8M152 92h8M152 100h8M152 108h8M152 116h8M152 124h8M152 132h8M152 140h8M152 148h8M152 156h8M152 164h8M160 172h8M160 180h8M160 188h8M160 196h8M160 204h8M152 212h8M152 220h8M144 228h8M144 236h8M152 244h8M160 252h8M176 260h8M184 268h16M568 268h56M192 276h16M544 276h32M608 276h40M208 284h8M528 284h24M632 284h24M216 292h8M520 292h24M640 292h24M224 300h8M512 300h24M648 300h24M232 308h8M512 308h24M648 308h24M240 316h8M512 316h24M648 316h16M248 324h8M520 324h24M640 324h24M256 332h8M528 332h24M632 332h24M536 340h40M608 340h40M552 348h72M280 364h8M288 372h8M296 380h8M304 396h8M312 404h8M320 412h8M328 428h8M336 436h8M352 460h8M360 468h8M216 484h32M208 492h16M256 492h8M376 492h8M200 500h16M264 500h8M200 508h8M272 508h8M200 516h8M392 516h8M192 524h16M192 532h8M288 532h8M296 540h8M408 540h8M304 548h8M424 564h8M432 572h8M440 580h8M456 604h8M464 628h8M464 636h8M464 644h8M464 652h8"/>
<path stroke="#04b6cd" d="M160 4h16M160 12h16M160 20h16M160 28h16M160 36h8M160 44h8M160 52h8M160 60h8M160 68h8M160 76h8M160 84h8M160 92h8M160 100h8M160 108h8M160 116h8M160 124h8M160 132h8M160 140h8M160 148h8M160 156h8M160 164h8M168 172h8M168 180h8M168 188h8M168 196h8M168 204h8M160 212h8M160 220h8M152 228h8M152 236h8M160 244h8M168 252h16M184 260h8M560 260h72M200 268h8M536 268h32M624 268h32M208 276h8M520 276h24M648 276h24M216 284h8M504 284h24M656 284h24M224 292h8M496 292h24M664 292h24M232 300h8M496 300h16M672 300h16M240 308h8M496 308h16M672 308h16M248 316h8M496 316h16M664 316h24M256 324h8M496 324h24M664 324h24M264 332h8M496 332h32M656 332h24M264 340h8M504 340h32M648 340h24M272 348h8M520 348h32M624 348h40M280 356h8M536 356h112M288 364h8M560 364h64M296 372h8M304 388h8M312 396h8M320 404h8M328 420h8M336 428h8M344 444h8M352 452h8M360 460h8M368 476h8M376 484h8M224 492h32M216 500h16M248 500h16M384 500h8M208 508h16M264 508h8M208 516h16M272 516h8M208 524h8M280 524h8M400 524h8M200 532h16M200 540h16M288 540h8M200 548h8M296 548h8M416 548h8M304 556h8M448 588h8M456 596h8M464 612h8M464 620h8M472 636h8M472 644h8"/>
<path stroke="#01b8c9" d="M176 4h16M176 12h16M176 20h16M176 28h8M168 36h16M168 44h16M168 52h16M168 60h16M168 68h16M168 76h16M168 84h8M168 92h8M168 100h8M168 108h8M168 116h8M168 124h8M168 132h8M168 140h8M168 148h8M168 156h8M168 164h16M176 172h8M176 180h8M176 188h8M176 196h16M176 204h8M168 212h16M168 220h16M160 228h16M160 236h16M168 244h16M184 252h16M552 252h96M192 260h16M528 260h32M632 260h48M208 268h16M504 268h32M656 268h40M216 276h8M488 276h32M672 276h32M224 284h8M480 284h24M680 284h32M232 292h8M472 292h24M688 292h32M240 300h8M464 300h32M688 300h32M248 308h8M464 308h32M688 308h32M256 316h8M464 316h32M688 316h32M264 324h8M464 324h32M688 324h32M272 332h8M464 332h32M680 332h40M272 340h16M472 340h32M672 340h40M280 348h16M480 348h40M664 348h40M288 356h8M488 356h48M648 356h48M296 364h8M496 364h64M624 364h64M304 372h8M512 372h160M304 380h16M536 380h112M312 388h16M320 396h8M328 404h8M328 412h16M336 420h8M344 428h8M344 436h16M352 444h8M360 452h8M368 460h8M368 468h8M376 476h8M384 492h8M232 500h16M224 508h40M392 508h8M240 516h32M216 524h16M264 524h16M216 532h16M408 532h8M288 548h8M296 556h8M424 556h8M432 564h8M440 572h8M448 580h8M456 588h8M464 604h8M472 612h8M472 620h8M472 628h16M480 636h8"/>
<path stroke="#02bac4" d="M0 4h16M192 4h40M768 4h48M0 12h16M192 12h32M792 12h24M0 20h16M192 20h24M800 20h16M0 28h16M184 28h32M0 36h16M184 36h24M0 44h16M184 44h24M0 52h16M184 52h16M0 60h16M184 60h16M0 68h16M184 68h16M0 76h16M184 76h8M0 84h16M176 84h16M0 92h16M176 92h16M0 100h16M176 100h16M0 108h16M176 108h16M0 116h16M176 116h16M0 124h16M176 124h16M0 132h16M176 132h16M176 140h16M176 148h16M176 156h16M184 164h8M184 172h8M184 180h16M184 188h16M192 196h8M184 204h16M184 212h16M184 220h16M176 228h24M176 236h32M184 244h32M544 244h152M200 252h24M512 252h40M648 252h88M208 260h24M488 260h40M680 260h64M224 268h24M464 268h40M696 268h56M224 276h32M448 276h40M704 276h64M232 284h32M432 284h48M712 284h64M240 292h32M408 292h64M720 292h96M248 300h48M384 300h80M720 300h96M256 308h208M720 308h96M264 316h200M720 316h96M272 324h192M720 324h96M280 332h184M720 332h96M288 340h184M712 340h104M296 348h184M704 348h112M296 356h192M696 356h120M304 364h192M688 364h128M312 372h200M672 372h144M320 380h216M648 380h168M328 388h104M456 388h360M328 396h88M480 396h336M336 404h72M488 404h328M344 412h56M496 412h320M344 420h56M504 420h312M352 428h40M512 428h304M360 436h32M512 436h304M360 444h24M520 444h296M368 452h16M520 452h296M376 460h16M520 460h296M376 468h16M528 468h288M384 476h8M528 476h288M384 484h8M528 484h288M392 492h8M528 492h288M392 500h8M528 500h288M528 508h288M400 516h8M528 516h288M256 524h8M528 524h288M528 532h288M416 540h8M528 540h288M520 548h296M288 556h8M520 556h296M520 564h296M512 572h304M512 580h304M464 588h8M504 588h312M464 596h352M472 604h344M480 612h336M480 620h336M488 628h16M520 628h32M608 628h208M528 636h16M616 636h200M624 644h192M640 652h176M656 660h160M672 668h144M656 676h160M656 684h160M656 692h160M648 700h168"/>
<path stroke="#06bcc0" d="M232 4h200M664 4h104M224 12h120M696 12h96M216 20h72M712 20h88M216 28h48M728 28h88M208 36h40M736 36h80M208 44h32M736 44h80M200 52h32M736 52h80M200 60h24M744 60h72M200 68h24M744 68h72M192 76h24M808 76h8M192 84h24M192 92h16M192 100h16M192 108h16M192 116h16M192 124h16M192 132h8M192 140h8M192 148h16M192 156h16M192 164h16M192 172h16M200 180h16M200 188h16M200 196h24M200 204h24M200 212h24M720 212h8M200 220h32M688 220h48M200 228h40M592 228h152M208 236h40M528 236h224M216 244h48M488 244h56M696 244h64M224 252h64M424 252h88M736 252h32M232 260h256M744 260h32M248 268h216M752 268h64M256 276h192M768 276h48M264 284h168M776 284h40M272 292h136M296 300h88M432 388h24M416 396h64M408 404h80M400 412h96M400 420h32M472 420h32M392 428h32M480 428h32M392 436h24M488 436h24M384 444h24M496 444h24M384 452h24M496 452h24M392 460h16M504 460h16M392 468h8M504 468h24M392 476h8M504 476h24M392 484h8M504 484h24M504 492h24M400 500h8M504 500h24M400 508h8M504 508h24M504 516h24M408 524h8M504 524h24M416 532h8M504 532h24M504 540h24M424 548h8M496 548h24M432 556h8M496 556h24M440 564h8M488 564h32M448 572h16M480 572h32M456 580h56M472 588h32"/>
<path stroke="#0dbdbb" d="M432 4h232M344 12h120M640 12h56M288 20h144M672 20h40M264 28h136M688 28h40M248 36h96M696 36h40M240 44h56M696 44h40M232 52h40M696 52h40M224 60h32M696 60h48M224 68h24M688 68h56M216 76h24M696 76h112M216 84h16M696 84h120M208 92h24M704 92h72M808 92h8M208 100h16M712 100h48M208 108h16M720 108h32M208 116h16M728 116h16M208 124h16M200 132h24M200 140h24M208 148h16M208 156h16M208 164h16M720 164h8M208 172h24M712 172h24M216 180h16M704 180h32M216 188h24M696 188h48M224 196h16M680 196h64M224 204h24M656 204h88M224 212h40M624 212h96M728 212h24M232 220h40M568 220h120M736 220h16M240 228h56M496 228h96M744 228h16M248 236h280M752 236h16M264 244h224M760 244h16M288 252h136M768 252h24M800 252h16M776 260h40M432 420h40M424 428h56M416 436h24M464 436h24M408 444h16M480 444h16M408 452h16M480 452h16M408 460h8M488 460h16M400 468h16M488 468h16M400 476h8M496 476h8M400 484h8M496 484h8M400 492h8M496 492h8M496 500h8M408 508h8M496 508h8M408 516h8M496 516h8M416 524h8M496 524h8M488 532h16M424 540h8M488 540h16M432 548h8M488 548h8M440 556h8M480 556h16M448 564h40M464 572h16"/>
<path stroke="#16bfb7" d="M464 12h80M568 12h72M432 20h48M632 20h40M400 28h56M656 28h32M344 36h96M664 36h32M296 44h128M664 44h32M272 52h136M664 52h32M256 60h56M656 60h40M248 68h40M648 68h40M240 76h32M648 76h48M232 84h32M656 84h40M232 92h24M664 92h40M776 92h32M224 100h24M672 100h40M760 100h24M800 100h16M224 108h24M680 108h40M752 108h16M224 116h16M680 116h48M744 116h16M224 124h16M688 124h72M224 132h16M688 132h64M224 140h16M688 140h64M224 148h16M688 148h64M224 156h16M680 156h64M224 164h24M680 164h40M728 164h16M232 172h16M672 172h40M736 172h16M232 180h24M656 180h48M736 180h16M240 188h24M640 188h56M744 188h8M240 196h32M624 196h56M744 196h8M248 204h40M592 204h64M744 204h8M264 212h56M376 212h72M520 212h104M752 212h8M272 220h296M752 220h8M296 228h200M760 228h8M768 236h8M776 244h16M800 244h16M792 252h8M440 436h24M424 444h56M424 452h8M472 452h8M416 460h8M480 460h8M416 468h8M480 468h8M408 476h8M488 476h8M408 484h8M488 484h8M408 492h8M488 492h8M408 500h8M488 500h8M488 508h8M416 516h8M488 516h8M488 524h8M424 532h8M480 532h8M480 540h8M440 548h8M472 548h16M448 556h32"/>
<path stroke="#1ec0b2" d="M544 12h24M480 20h48M584 20h48M456 28h32M624 28h32M440 36h32M640 36h24M424 44h40M640 44h24M408 52h56M632 52h32M312 60h152M616 60h40M288 68h168M608 68h40M272 76h56M360 76h64M600 76h48M264 84h32M608 84h48M256 92h24M616 92h48M248 100h24M632 100h40M784 100h16M248 108h16M640 108h40M768 108h16M800 108h16M240 116h24M648 116h32M760 116h16M240 124h24M648 124h40M760 124h8M240 132h16M648 132h40M752 132h8M240 140h16M648 140h40M752 140h8M240 148h24M648 148h40M752 148h8M240 156h24M648 156h32M744 156h8M248 164h16M640 164h40M744 164h8M248 172h24M624 172h48M256 180h24M608 180h48M264 188h32M592 188h48M752 188h8M272 196h192M544 196h80M752 196h8M288 204h304M752 204h8M320 212h56M448 212h72M760 212h8M760 220h8M768 228h8M776 236h8M800 236h16M792 244h8M432 452h40M424 460h16M464 460h16M424 468h8M472 468h8M416 476h16M472 476h16M416 484h8M480 484h8M416 492h8M480 492h8M416 500h8M480 500h8M416 508h8M480 508h8M480 516h8M424 524h8M480 524h8M432 532h8M472 532h8M432 540h16M464 540h16M448 548h24"/>
<path stroke="#25c2ad" d="M528 20h56M488 28h48M584 28h40M472 36h40M608 36h32M464 44h40M608 44h32M464 52h48M592 52h40M464 60h152M456 68h152M328 76h32M424 76h176M296 84h312M280 92h184M560 92h56M272 100h40M584 100h48M264 108h32M600 108h40M784 108h16M264 116h24M608 116h40M776 116h8M808 116h8M264 124h24M616 124h32M768 124h8M256 132h24M616 132h32M760 132h8M256 140h24M616 140h32M264 148h24M608 148h40M264 156h24M608 156h40M752 156h8M264 164h32M592 164h48M752 164h8M272 172h40M392 172h32M576 172h48M752 172h8M280 180h200M536 180h72M752 180h8M296 188h296M464 196h80M760 204h8M768 220h8M776 228h8M808 228h8M784 236h16M440 460h24M432 468h40M432 476h8M464 476h8M424 484h8M472 484h8M424 492h8M472 492h8M424 500h8M472 500h8M424 508h8M472 508h8M424 516h8M472 516h8M432 524h8M464 524h16M440 532h8M456 532h16M448 540h16"/>
<path stroke="#2ac3a8" d="M536 28h48M512 36h96M504 44h104M512 52h80M464 92h96M312 100h272M296 108h304M288 116h192M544 116h64M784 116h24M288 124h176M560 124h56M776 124h8M808 124h8M280 132h56M352 132h96M568 132h48M768 132h8M280 140h56M344 140h104M568 140h48M760 140h8M288 148h176M560 148h48M760 148h8M288 156h200M544 156h64M296 164h296M312 172h80M424 172h152M480 180h56M760 188h8M760 196h8M768 212h8M776 220h8M808 220h8M784 228h24M440 476h24M432 484h40M432 492h8M464 492h8M432 500h8M464 500h8M432 508h8M464 508h8M432 516h16M456 516h16M440 524h24M448 532h8"/>
<path stroke="#2fc5a3" d="M480 116h64M464 124h96M784 124h24M336 132h16M448 132h120M808 132h8M336 140h8M448 140h120M768 140h8M464 148h96M488 156h56M760 156h8M760 164h8M760 172h8M760 180h8M768 204h8M808 212h8M784 220h8M800 220h8M440 492h24M440 500h24M440 508h24M448 516h8"/>
<path stroke="#32c69e" d="M776 132h8M800 132h8M808 140h8M768 148h8M768 196h8M776 212h8M792 220h8"/>
<path stroke="#36c899" d="M784 132h16M776 140h8M768 156h8M768 164h8M768 172h8M768 180h8M768 188h8M776 204h8M808 204h8M784 212h24"/>
<path stroke="#3bc993" d="M784 140h8M800 140h8M776 148h8M808 148h8M776 196h8M808 196h8M800 204h8"/>
<path stroke="#41ca8d" d="M792 140h8M800 148h8M776 156h8M808 156h8M808 164h8M808 172h8M808 180h8M776 188h8M808 188h8M784 204h16"/>
<path stroke="#48cb86" d="M784 148h16M800 156h8M776 164h8M776 172h8M776 180h8M784 196h24"/>
<path stroke="#50cc80" d="M784 156h16M784 164h8M800 164h8M800 172h8M800 180h8M784 188h8M800 188h8"/>
<path stroke="#58cc79" d="M792 164h8M784 172h16M784 180h16M792 188h8"/>
</g>
<g fill="#fff">
<polygon points="-12.5,-18.7 560.2,-18.7 565,2.7 531.6,9.9 474.3,7.5 467.1,26.6 452.8,48.1 421.8,74.3 412.2,81.5 402.7,69.6 374.1,66.2 355,60 347.8,43.3 343,20.4 326.3,13.7 278.6,18.5 250,26.6 221.3,38.5 197.5,48.1 183.1,62.4 173.6,74.3 149.7,83.9 111.5,93.4 63.8,105.3 44.7,119.7 20.9,129.2 -12.5,134"/>
<polygon points="622.2,367.9 624.6,344 631.8,324.9 641.3,310.6 660.4,296.3 674.7,282.9 693.8,277.2 712.9,289.1 722.5,272.4 715.3,258.1 715.3,241.4 727.2,235.2 760.7,236.6 765.4,219.9 837,215.1 837,706.7 326.3,706.7 331.1,659 316.8,630.4 326.3,606.5 340.6,587.4 359.7,587.4 378.8,611.3 397.9,616 412.2,611.3 426.6,606.5 440.9,592.2 455.2,573.1 464.7,554 474.3,534.9 493.4,515.8 498.2,496.7 502.9,472.9 517.2,463.3 536.3,449 555.4,434.7 569.7,425.1 593.6,420.4 607.9,406 617.5,391.7"/>
<polygon points="436.1,453.8 455.2,437.1 474.3,432.3 488.6,441.8 502.9,449 493.4,463.3 474.3,468.1 469.5,487.2 462.4,487.2 462.4,460.9 445.6,460.9"/>
<polygon points="476.7,341.6 486.2,336.8 498.2,341.6 498.2,360.7 488.6,367.9 476.7,360.7"/>
<polygon points="350.2,487.2 359.7,484.8 362.1,499.1 352.6,501.5"/>
<polygon points="374.1,492 386,489.6 388.4,511 376.4,513.4"/>
<polygon points="402.7,508.7 407.5,508.7 407.5,527.7 402.7,527.7"/>
<polygon points="180.8,391.7 192.7,386.9 192.7,401.3 180.8,402.2"/>
<polygon points="247.6,272.4 253.8,272.4 253.8,281.9 247.6,281.9"/>
<polygon points="287.2,265.2 292.9,265.2 292.9,281.9 287.2,281.9"/>
<polygon points="522,179.3 531.6,157.9 538.7,157.9 536.3,181.7 526.8,191.3"/>
<polygon points="517.2,224.7 526.8,210.4 529.2,219.9 522,234.2"/>
<polygon points="588.8,203.2 597.4,203.2 597.4,219.9 588.8,219.9"/>
<polygon points="106.8,100.6 123.5,98.2 123.5,110.1 106.8,112.5"/>
<polygon points="650.9,48.1 665.2,38.5 670,62.4 650.9,64.8"/>
<polygon points="617.5,360.7 624.6,360.7 624.6,372.6 617.5,372.6"/>
<polygon points="543.5,410.8 553,408.4 553,422.7 543.5,422.7"/>
<polygon points="359.7,554 374.1,554 374.1,570.7 359.7,570.7"/>
<polygon points="440.9,556.4 448,556.4 448,565.9 440.9,565.9"/>
<polygon points="235.6,539.7 254.7,534.9 266.7,549.2 261.9,563.5 240.4,565.9"/>
<polygon points="202.2,515.8 221.3,503.9 221.3,534.9 207,534.9"/>
<polygon points="80.5,568.3 92.5,565.9 99.6,582.6 82.9,585"/>
<polygon points="125.9,568.3 140.2,570.7 149.7,582.6 168.8,580.2 171.2,601.7 159.3,616 140.2,611.3 130.6,597"/>
<polygon points="63.8,606.5 78.1,606.5 92.5,620.8 121.1,630.4 125.9,642.3 102,639.9 73.4,630.4"/>
<polygon points="770.2,134 779.7,134 779.7,162.6 770.2,162.6"/>
<polygon points="789.3,148.3 798.8,148.3 798.8,181.7 789.3,181.7"/>
<polygon points="732,143.5 741.6,143.5 741.6,162.6 732,162.6"/>
<polygon points="82.9,458.5 92.5,458.5 92.5,468.1 82.9,468.1"/>
</g>
<polygon fill="#4367fd" points="627,358.3 665.2,353.5 684.3,344 698.6,324.9 703.4,334.4 689.1,367.9 674.7,386.9 665.2,401.3 641.3,401.3 631.8,386.9 617.5,372.6"/>
<polygon fill="#1caadf" points="710.5,324.9 732,320.1 744,334.4 746.3,367.9 727.2,372.6 712.9,353.5"/>
<polygon fill="#484aee" points="712.9,386.9 732,382.2 748.7,396.5 751.1,420.4 732,420.4 712.9,406"/>
<polygon fill="#484aee" points="693.8,444.2 712.9,434.7 755.9,432.3 760.7,449 703.4,452.8"/>
<polygon fill="#4851f4" points="755.9,406 784.5,406 803.6,420.4 808.4,444.2 779.7,449 760.7,434.7"/>
<polygon fill="#3876fe" points="755.9,353.5 779.7,348.8 784.5,367.9 760.7,372.6"/>
<polygon fill="#1caadf" points="779.7,229.4 808.4,224.7 808.4,243.8 779.7,248.5"/>
<polygon fill="#4367fd" points="748.7,656.6 779.7,649.5 784.5,668.5 760.7,670.9"/>
<g fill="none" stroke="#000" stroke-width="10" stroke-linejoin="round" stroke-linecap="round">
<polyline points="51.2,108.1 65.7,102 89.9,93.4 114.1,87.4 138.2,81.3 162.4,75.2 174.5,69.1 184.2,54.5 193.9,47.2 210.8,43.5 225.3,36.2 239.8,27.7 259.1,22.8 283.3,19.1 307.5,15.5 331.7,15 336.3,19 341.8,27.3 347.3,34.3 351.5,46.8 355.6,56.6 362.5,64.9 373.6,71.2 388.8,73.3 405.4,74 416.4,78.1 430.2,71.9 444,60.7 453.7,48.2 458.5,34.3 459.9,19 457.9,6.4 461.3,-0.2"/>
<polyline points="331.6,14.1 347.3,19.7 361.2,28 370.8,37.1 375,44.7 372.9,46.8"/>
<polyline points="461.3,1.1 471.7,1.1 485.5,1.6 499.3,2.5 513.1,3.7 526.9,6.7 540.7,10.2 554.6,8.5 567,4.3"/>
<polyline points="451.9,60.6 500.3,69.1 548.6,74 597,74 645.4,70.3 681.6,66.6 688.9,64.2"/>
<polyline points="681.6,2.1 691.3,17.9 681.6,32.5 673.2,44.7 676.8,56.9 688.9,64.2"/>
<polyline points="688.9,64.2 708.2,76.4 727.5,87.4 739.6,95.9 738.4,112.9 739.6,117.8"/>
<polyline points="739.6,117.8 759,120.2 768.6,114.2 780.7,116.6 788,112.9 800.1,117.8 817,119"/>
<polyline points="739.6,117.8 746.9,142.2 751.7,161.7 759,181.1 768.6,200.6 771.1,217.7 772.3,234.7 768.6,254.2 754.1,264 734.8,268.8 722.7,281 715.5,298.1 715.5,307.8 737.2,317.6 751.7,332.2 748.1,344.1 744.5,358.8 739.6,371 744.5,385.6 751.7,400.2 749.3,414.8 761.4,427 771.1,441.6 778.3,456.2 783.2,466 775.9,473.3 783.2,485.5 786.8,500.1 778.3,509.8 761.4,512.3"/>
<polyline points="761.4,512.3 742.1,524.4 717.9,548.8 693.7,578 676.8,602.4 671.9,614.6 676.8,631.6 679.2,653.6 681.6,663.3"/>
<polyline points="742.1,375.8 761.4,375.8 775.9,383.1 790.4,373.4 802.5,363.7 807.3,353.9 817,347.8"/>
<polyline points="681.6,663.3 693.7,668.2 688.9,675.5"/>
<polyline points="676.8,663.3 659.9,675.5 650.2,696.2"/>
<polyline points="676.8,663.3 659.9,660.9 640.5,653.6 626,646.3 616.3,631.6 601.8,626.8 592.2,623.1 577.7,623.1 565.6,621.9 551.1,626.8 539,640.2 524.5,631.6 519.6,624.3 505.1,628 490.6,630.4 478.5,641.4 473.7,653.6 461.6,651.1 449.5,649.9 447.1,636.5 437.4,629.2 427.8,612.1 422.9,606.1 413.3,612.1 403.6,624.3"/>
<polyline points="404.2,624.3 389.7,629.2 382.4,617 372.7,600 358.2,587.8 353.4,573.2 331.7,565.9 312.3,556.1 300.2,563.4 290.6,556.1 280.9,543.9 290.6,536.6 288.1,526.9 276,529.3 259.1,524.4 239.8,514.7 222.9,512.3 227.7,517.1 232.5,531.8 220.4,539.1 208.4,551.2 201.1,546.4 191.4,531.8 179.3,519.6 169.7,512.3 179.3,505 189,495.2 181.8,486.7 167.3,487.9 152.8,487.9 138.2,479.4 118.9,473.3 102,466 94.7,451.4 82.6,448.9 73,461.1 58.5,466"/>
<polyline points="377.6,609.7 355.8,614.6 341.3,629.2 326.8,643.8 319.6,663.3 305.1,675.5 288.1,685.2 266.4,692.5 247,690.1 237.4,696.2"/>
<polyline points="58.5,466 47.6,463.5 41.5,451.4 31.9,444 19.8,446.5 17.4,456.2 7.7,466 -3.2,472.1"/>
<polyline points="73,696.2 75.4,675.5 89.9,677.9 109.2,682.8 128.6,690.1 150.3,696.2"/>
<polyline points="19.8,142.2 24.6,161.7 29.5,181.1 31.9,193.3 24.6,205.5 19.8,217.7 7.7,227.4 7.7,239.6 22.2,249.4 34.3,259.1 45.2,268.8 42.8,283.5 40.3,293.2 48.8,305.4 56,317.6 54.8,332.2 48.8,344.4 41.5,353.9 48.8,368.5 56,383.1 68.1,395.3 75.4,409.9 77.8,424.6 74.2,441.6 68.1,456.2 58.5,466"/>
<polyline points="195.1,695 196.3,695"/>
</g><g fill="#000" stroke="#000" stroke-width="3" stroke-linejoin="round">
<polygon points="-6.6,109.2 1.1,99.2 8,106.6 15.8,113.6 25.3,114.9 33.1,111.8 43.4,106.6 63.3,100.5 65,108.4 59.9,120.5 53.8,127.5 48.6,137.9 47.8,144 52.1,150.1 52.1,155.3 46.9,162.3 41.7,163.2 36.5,155.3 31.4,150.1 28.8,157.1 31.4,167.5 33.9,172.7 22.7,172.7 18.4,158.8 15,148.4 5.5,145.8 -3.2,143.2 -5.8,132.7 -4,120.5"/>
<polygon points="462,29.4 485.5,29.7 499.3,31.2 500,34.3 485.5,42.4 471.7,50.7 457.9,59.1 452.3,57.7 456.5,46.8 459.9,35.7"/>
<polygon points="401.9,74.6 416.4,89.7 433,73.3"/>
</g><g fill="#ddd">
<polygon points="4.6,131 13.7,131 13.7,134.9 4.6,134.9"/>
<polygon points="28.3,133.2 36.1,132.3 36.7,141 30.1,143.3 26.9,137.9"/>
</g>
</g></g>
<rect x="103.0" y="2169.2" width="815.5" height="696.2" fill="none" stroke="#b0b0b0" stroke-width="3"/>
<path d="M258.3 2169.2v7M258.3 2865.4v-7M413.7 2169.2v7M413.7 2865.4v-7M569.0 2169.2v7M569.0 2865.4v-7M724.3 2169.2v7M724.3 2865.4v-7M879.7 2169.2v7M879.7 2865.4v-7M103.0 2842.9h7M918.5 2842.9h-7M103.0 2730.7h7M918.5 2730.7h-7M103.0 2618.4h7M918.5 2618.4h-7M103.0 2506.1h7M918.5 2506.1h-7M103.0 2393.8h7M918.5 2393.8h-7M103.0 2281.5h7M918.5 2281.5h-7" stroke="#9a9a9a" stroke-width="2" fill="none"/>
<clipPath id="cE"><rect width="817.3" height="690.2"/></clipPath>
<g transform="translate(1365.0 38.8)"><g clip-path="url(#cE)">
<g fill="none" stroke-width="8.6" shape-rendering="crispEdges">
<path stroke="#2798ea" d="M0 4h360M0 12h344M0 20h336M0 28h328M0 36h328M0 44h328M0 52h72M88 52h232M0 60h64M96 60h232M0 68h64M104 68h224M0 76h56M104 76h224M144 84h184M144 92h184M144 100h184M144 108h184M144 116h184M648 116h72M144 124h184M640 124h88M144 132h176M632 132h104M144 140h176M632 140h104M144 148h176M632 148h104M144 156h168M632 156h112M144 164h168M632 164h112M144 172h168M632 172h112M144 180h168M632 180h120M144 188h160M632 188h120M144 196h160M632 196h128M144 204h160M632 204h136M144 212h160M632 212h144M816 212h8M144 220h152M640 220h184M144 228h152M640 228h184M144 236h152M640 236h184M144 244h152M640 244h184M144 252h144M640 252h184M144 260h56M232 260h56M640 260h184M144 268h56M232 268h56M632 268h192M144 276h48M232 276h56M632 276h192M144 284h40M232 284h56M632 284h192M144 292h40M232 292h56M632 292h192M144 300h40M232 300h48M624 300h200M144 308h32M224 308h56M624 308h200M144 316h32M224 316h56M624 316h200M136 324h32M216 324h64M624 324h200M136 332h32M216 332h64M624 332h200M136 340h32M216 340h64M624 340h200M136 348h24M208 348h72M624 348h200M136 356h24M208 356h72M624 356h200M136 364h24M208 364h72M616 364h208M136 372h16M200 372h80M616 372h208M136 380h16M200 380h72M616 380h208M136 388h16M200 388h72M616 388h208M136 396h8M192 396h80M616 396h208M136 404h8M192 404h80M616 404h208M184 412h88M608 412h216M184 420h88M608 420h216M184 428h88M608 428h216M176 436h96M608 436h216M176 444h96M608 444h216M176 452h96M600 452h224M168 460h104M600 460h224M168 468h104M600 468h224M160 476h112M592 476h232M184 484h88M592 484h232M192 492h80M592 492h232M184 500h88M592 500h232M168 508h112M584 508h240M184 516h48M248 516h32M584 516h240M192 524h40M272 524h8M584 524h240M192 532h32M576 532h248M200 540h16M576 540h248M576 548h248M568 556h256M568 564h256M560 572h264M560 580h264M560 588h264M552 596h272M552 604h272M544 612h280M544 620h16M600 620h224M536 628h8M616 628h208M624 636h200M632 644h192M656 652h168M672 660h152M664 668h160M656 676h168M656 684h168M648 692h176"/>
<path stroke="#259be8" d="M360 4h48M344 12h56M336 20h56M328 28h56M328 36h48M328 44h48M72 52h16M320 52h48M64 60h32M328 60h40M64 68h40M328 68h40M56 76h16M96 76h8M328 76h48M128 84h16M328 84h48M328 92h48M672 92h48M328 100h40M624 100h112M328 108h40M608 108h136M328 116h40M600 116h48M720 116h32M328 124h32M592 124h48M728 124h24M320 132h40M592 132h40M736 132h24M320 140h40M592 140h40M736 140h24M320 148h32M592 148h40M736 148h32M312 156h40M592 156h40M744 156h24M312 164h40M592 164h40M744 164h32M312 172h32M592 172h40M744 172h40M808 172h16M312 180h32M592 180h40M752 180h72M304 188h40M600 188h32M752 188h72M304 196h32M600 196h32M760 196h64M304 204h32M608 204h24M768 204h56M304 212h32M616 212h16M776 212h40M296 220h40M624 220h16M296 228h32M632 228h8M136 236h8M296 236h32M632 236h8M136 244h8M296 244h32M632 244h8M136 252h8M288 252h40M632 252h8M136 260h8M200 260h32M288 260h32M624 260h16M136 268h8M224 268h8M288 268h32M616 268h16M136 276h8M192 276h8M224 276h8M288 276h32M608 276h24M136 284h8M184 284h8M224 284h8M288 284h32M600 284h32M136 292h8M184 292h8M224 292h8M288 292h32M592 292h40M136 300h8M224 300h8M280 300h40M592 300h32M136 308h8M176 308h8M280 308h32M592 308h32M136 316h8M216 316h8M280 316h32M592 316h32M168 324h8M280 324h32M592 324h32M168 332h8M208 332h8M280 332h32M592 332h32M208 340h8M280 340h32M592 340h32M160 348h8M280 348h32M592 348h32M160 356h8M200 356h8M280 356h32M584 356h40M200 364h8M280 364h32M584 364h32M152 372h8M280 372h32M584 372h32M192 380h8M272 380h40M584 380h32M192 388h8M272 388h40M584 388h32M144 396h8M272 396h40M584 396h32M184 404h8M272 404h40M576 404h40M136 412h8M272 412h32M576 412h32M136 420h8M176 420h8M272 420h32M576 420h32M176 428h8M272 428h40M576 428h32M272 436h40M568 436h40M168 444h8M272 444h40M568 444h40M168 452h8M272 452h40M568 452h32M272 460h40M568 460h32M160 468h8M272 468h40M560 468h40M152 476h8M272 476h40M560 476h32M272 484h40M560 484h32M272 492h40M552 492h40M272 500h40M552 500h40M280 508h32M552 508h32M280 516h32M544 516h40M288 524h32M544 524h40M288 532h32M536 532h40M280 540h40M536 540h40M288 548h32M528 548h48M296 556h8M528 556h40M520 564h48M520 572h40M512 580h48M512 588h48M504 596h48M496 604h56M496 612h48M488 620h56M480 628h8M528 628h8M472 636h8M464 644h16"/>
<path stroke="#249ee6" d="M408 4h48M624 4h136M816 4h8M400 12h40M392 20h32M384 28h32M376 36h32M376 44h24M368 52h32M368 60h32M368 68h32M72 76h24M376 76h24M376 84h24M640 84h104M136 92h8M376 92h24M600 92h72M720 92h32M368 100h32M576 100h48M736 100h24M368 108h24M568 108h40M744 108h16M368 116h24M568 116h32M752 116h16M360 124h32M568 124h24M752 124h24M360 132h24M568 132h24M760 132h16M816 132h8M360 140h24M568 140h24M760 140h24M808 140h16M352 148h24M568 148h24M768 148h56M352 156h24M568 156h24M768 156h56M352 164h24M568 164h24M776 164h48M136 172h8M344 172h24M576 172h16M784 172h24M136 180h8M344 180h24M576 180h16M136 188h8M344 188h16M576 188h24M136 196h8M336 196h24M576 196h24M136 204h8M336 204h24M584 204h24M136 212h8M336 212h16M608 212h8M136 220h8M336 220h16M616 220h8M136 228h8M328 228h24M624 228h8M328 236h24M624 236h8M328 244h16M624 244h8M328 252h16M624 252h8M320 260h24M616 260h8M200 268h24M320 268h24M600 268h16M320 276h24M584 276h24M320 284h16M576 284h24M320 292h16M576 292h16M184 300h8M320 300h16M576 300h16M216 308h8M312 308h24M576 308h16M176 316h8M312 316h24M576 316h16M208 324h8M312 324h24M576 324h16M312 332h24M568 332h24M168 340h8M312 340h16M568 340h24M200 348h8M312 348h16M568 348h24M312 356h16M568 356h16M160 364h8M312 364h16M568 364h16M192 372h8M312 372h16M568 372h16M152 380h8M312 380h16M568 380h16M312 388h16M560 388h24M184 396h8M312 396h16M560 396h24M144 404h8M312 404h16M560 404h16M176 412h8M304 412h24M560 412h16M128 420h8M304 420h24M552 420h24M128 428h16M312 428h16M552 428h24M168 436h8M312 436h16M552 436h16M312 444h16M552 444h16M312 452h16M544 452h24M160 460h8M312 460h16M544 460h24M152 468h8M312 468h16M544 468h16M144 476h8M312 476h24M536 476h24M312 484h24M536 484h24M312 492h24M528 492h24M312 500h24M528 500h24M312 508h24M528 508h24M312 516h24M520 516h24M320 524h24M520 524h24M320 532h24M512 532h24M320 540h24M512 540h24M320 548h32M504 548h24M320 556h32M496 556h32M344 564h16M496 564h24M352 572h8M488 572h32M360 580h8M480 580h32M472 588h40M464 596h40M376 604h8M456 604h40M384 612h16M440 612h56M392 620h8M440 620h48M448 628h32M448 636h24M448 644h16M16 652h8M16 660h8"/>
<path stroke="#22a1e4" d="M456 4h168M760 4h56M440 12h40M600 12h176M800 12h24M424 20h32M704 20h40M816 20h8M416 28h24M408 36h24M400 44h24M400 52h24M400 60h24M400 68h24M704 68h24M400 76h24M624 76h128M0 84h40M112 84h16M400 84h24M576 84h64M744 84h16M400 92h24M560 92h40M752 92h16M136 100h8M400 100h24M552 100h24M760 100h16M816 100h8M392 108h24M544 108h24M760 108h24M808 108h16M136 116h8M392 116h24M544 116h24M768 116h24M800 116h24M136 124h8M392 124h16M544 124h24M776 124h48M136 132h8M384 132h24M544 132h24M776 132h40M136 140h8M384 140h16M544 140h24M784 140h24M136 148h8M376 148h24M552 148h16M136 156h8M376 156h16M552 156h16M136 164h8M376 164h16M552 164h16M368 172h16M552 172h24M368 180h16M560 180h16M360 188h24M560 188h16M360 196h16M560 196h16M360 204h16M560 204h24M352 212h24M592 212h16M352 220h16M352 228h16M616 228h8M352 236h16M344 244h16M344 252h16M616 252h8M344 260h16M608 260h8M344 268h16M584 268h16M200 276h8M216 276h8M344 276h8M560 276h24M192 284h8M336 284h16M560 284h16M216 292h8M336 292h16M560 292h16M216 300h8M336 300h16M560 300h16M336 308h16M560 308h16M336 316h16M560 316h16M176 324h8M336 324h16M560 324h16M336 332h8M560 332h8M200 340h8M328 340h16M552 340h16M168 348h8M328 348h16M552 348h16M328 356h16M552 356h16M192 364h8M328 364h16M552 364h16M328 372h16M552 372h16M128 380h8M328 380h16M552 380h16M128 388h8M152 388h8M184 388h8M328 388h16M544 388h16M128 396h8M328 396h16M544 396h16M128 404h8M328 404h16M544 404h16M128 412h8M144 412h8M328 412h16M544 412h16M328 420h16M536 420h16M168 428h8M328 428h16M536 428h16M128 436h16M328 436h16M536 436h16M128 444h8M328 444h16M528 444h24M160 452h8M328 452h16M528 452h16M328 460h16M528 460h16M328 468h24M520 468h24M136 476h8M336 476h16M520 476h16M336 484h16M520 484h16M336 492h16M512 492h16M336 500h16M512 500h16M336 508h24M504 508h24M336 516h24M504 516h16M344 524h16M496 524h24M344 532h24M488 532h24M344 540h24M488 540h24M352 548h24M480 548h24M352 556h32M472 556h24M360 564h32M464 564h32M360 572h40M448 572h40M368 580h48M424 580h56M368 588h104M376 596h88M384 604h32M424 604h32M400 612h8M432 612h8M16 644h16M8 652h8M24 652h8M8 660h8M24 660h8M16 668h8"/>
<path stroke="#20a4e3" d="M480 12h120M776 12h24M456 20h48M576 20h128M744 20h72M440 28h32M672 28h88M808 28h16M432 36h24M712 36h24M816 36h8M424 44h32M424 52h24M712 52h24M424 60h24M672 60h80M424 68h24M600 68h104M728 68h32M816 68h8M424 76h24M560 76h64M752 76h16M816 76h8M40 84h16M104 84h8M424 84h32M536 84h40M760 84h16M808 84h16M424 92h32M520 92h40M768 92h56M424 100h32M520 100h32M776 100h40M136 108h8M416 108h32M512 108h32M784 108h24M416 116h24M520 116h24M792 116h8M408 124h24M520 124h24M408 132h24M520 132h24M400 140h24M528 140h16M400 148h16M528 148h24M392 156h24M536 156h16M392 164h16M536 164h16M384 172h16M536 172h16M384 180h16M536 180h24M384 188h16M544 188h16M376 196h16M544 196h16M376 204h16M544 204h16M376 212h8M544 212h48M368 220h16M552 220h8M608 220h8M368 228h16M368 236h8M616 236h8M360 244h16M616 244h8M360 252h16M360 260h16M552 260h8M360 268h8M552 268h32M208 276h8M352 276h16M552 276h8M216 284h8M352 284h16M552 284h8M352 292h16M544 292h16M352 300h16M544 300h16M184 308h8M352 308h8M544 308h16M208 316h8M352 316h8M544 316h16M352 324h8M544 324h16M128 332h8M176 332h8M344 332h16M544 332h16M128 340h8M344 340h16M544 340h8M128 348h8M344 348h16M544 348h8M128 356h8M344 356h16M544 356h8M128 364h8M344 364h16M536 364h16M128 372h8M160 372h8M344 372h16M536 372h16M184 380h8M344 380h16M536 380h16M344 388h16M536 388h8M152 396h8M344 396h16M528 396h16M176 404h8M344 404h16M528 404h16M344 412h16M528 412h16M144 420h8M344 420h16M528 420h8M344 428h16M520 428h16M344 436h16M520 436h16M160 444h8M344 444h16M520 444h8M128 452h8M344 452h16M512 452h16M128 460h8M344 460h16M512 460h16M128 468h16M352 468h16M504 468h16M352 476h16M504 476h16M352 484h16M496 484h24M352 492h16M496 492h16M352 500h24M488 500h24M360 508h16M488 508h16M360 516h24M480 516h24M360 524h24M472 524h24M368 532h24M464 532h24M368 540h32M456 540h32M280 548h8M376 548h40M432 548h48M280 556h16M384 556h88M280 564h16M392 564h72M400 572h48M416 580h8M16 636h8M8 644h8M32 652h8M32 660h8M8 668h8M24 668h8"/>
<path stroke="#1ea7e1" d="M504 20h72M472 28h200M760 28h48M456 36h40M616 36h96M736 36h80M456 44h32M640 44h128M808 44h16M448 52h32M624 52h88M736 52h32M808 52h16M448 60h32M576 60h96M752 60h24M808 60h16M448 68h40M536 68h64M760 68h24M800 68h16M448 76h112M768 76h48M56 84h16M96 84h8M456 84h80M776 84h32M128 92h8M456 92h64M456 100h64M448 108h64M440 116h80M432 124h88M432 132h32M488 132h32M424 140h24M504 140h24M416 148h24M504 148h24M416 156h16M512 156h24M408 164h16M520 164h16M400 172h24M520 172h16M400 180h16M520 180h16M400 188h8M528 188h16M392 196h16M528 196h16M392 204h16M528 204h16M384 212h16M528 212h16M384 220h16M536 220h16M560 220h8M600 220h8M384 228h8M536 228h24M376 236h16M536 236h24M376 244h16M536 244h24M376 252h8M536 252h24M376 260h8M536 260h16M560 260h16M600 260h8M368 268h16M536 268h16M368 276h16M536 276h16M128 284h8M368 284h8M536 284h16M128 292h8M192 292h8M368 292h8M536 292h8M128 300h8M368 300h8M536 300h8M128 308h8M208 308h8M360 308h16M536 308h8M128 316h8M184 316h8M360 316h16M536 316h8M128 324h8M360 324h16M536 324h8M200 332h8M360 332h8M536 332h8M360 340h8M528 340h16M360 348h8M528 348h16M168 356h8M192 356h8M360 356h8M528 356h16M360 364h8M528 364h8M360 372h8M528 372h8M160 380h8M360 380h8M520 380h16M360 388h8M520 388h16M176 396h8M360 396h8M520 396h8M360 404h8M520 404h8M360 412h8M512 412h16M168 420h8M360 420h8M512 420h16M360 428h16M512 428h8M360 436h16M504 436h16M136 444h8M360 444h16M504 444h16M360 452h16M496 452h16M152 460h8M360 460h16M496 460h16M144 468h8M368 468h16M488 468h16M368 476h16M488 476h16M368 484h16M480 484h16M368 492h24M472 492h24M376 500h24M472 500h16M376 508h24M456 508h32M384 516h32M448 516h32M384 524h88M280 532h8M392 532h72M272 540h8M400 540h56M272 548h8M416 548h16M272 556h8M304 556h8M272 564h8M296 564h16M272 572h32M288 580h8M8 636h8M24 636h8M32 644h8M0 652h8M0 660h8M32 668h8M16 676h16"/>
<path stroke="#1caadf" d="M496 36h120M488 44h152M768 44h40M480 52h144M768 52h40M480 60h96M776 60h32M488 68h48M784 68h16M72 84h8M88 84h8M464 132h24M448 140h56M440 148h64M432 156h80M424 164h32M488 164h32M424 172h16M496 172h24M416 180h16M504 180h16M408 188h24M512 188h16M408 196h16M512 196h16M408 204h8M512 204h16M400 212h16M520 212h8M400 220h8M520 220h16M568 220h8M392 228h16M520 228h16M560 228h8M608 228h8M392 236h16M520 236h16M128 244h8M392 244h8M520 244h16M128 252h8M384 252h16M520 252h16M560 252h8M608 252h8M128 260h8M384 260h16M528 260h8M576 260h8M592 260h8M128 268h8M384 268h8M528 268h8M128 276h8M384 276h8M528 276h8M200 284h16M376 284h16M528 284h8M376 292h16M528 292h8M376 300h8M520 300h16M376 308h8M520 308h16M376 316h8M520 316h16M376 324h8M520 324h16M368 332h16M520 332h16M176 340h8M368 340h16M520 340h8M192 348h8M368 348h16M520 348h8M368 356h16M520 356h8M168 364h8M368 364h16M512 364h16M184 372h8M368 372h16M512 372h16M368 380h16M512 380h8M368 388h16M512 388h8M368 396h16M504 396h16M152 404h8M368 404h16M504 404h16M168 412h8M368 412h16M504 412h8M368 420h16M496 420h16M144 428h8M376 428h8M496 428h16M120 436h8M160 436h8M376 436h16M488 436h16M120 444h8M376 444h16M488 444h16M120 452h8M136 452h8M376 452h16M480 452h16M120 460h8M136 460h8M376 460h24M480 460h16M120 468h8M384 468h16M472 468h16M384 476h24M464 476h24M384 484h32M456 484h24M392 492h32M440 492h32M400 500h72M400 508h56M416 516h32M280 524h8M272 532h8M264 540h8M264 548h8M264 556h8M312 556h8M264 564h8M264 572h8M304 572h8M272 580h16M296 580h16M280 588h16M16 628h16M32 636h8M0 644h8M40 652h8M0 668h8M8 676h8M32 676h8M16 684h8"/>
<path stroke="#19addc" d="M80 84h8M456 164h32M440 172h56M432 180h72M432 188h24M480 188h32M424 196h24M488 196h24M128 204h8M416 204h24M496 204h16M128 212h8M416 212h16M496 212h24M128 220h8M408 220h16M504 220h16M576 220h24M128 228h8M408 228h16M504 228h16M128 236h8M408 236h8M504 236h16M560 236h8M400 244h16M512 244h8M560 244h8M400 252h16M512 252h8M400 260h8M512 260h16M584 260h8M392 268h16M512 268h16M392 276h16M512 276h16M392 284h8M512 284h16M208 292h8M392 292h8M512 292h16M192 300h8M208 300h8M384 300h16M512 300h8M384 308h16M512 308h8M384 316h16M512 316h8M184 324h8M200 324h8M384 324h8M512 324h8M384 332h8M512 332h8M384 340h8M512 340h8M384 348h8M504 348h16M384 356h8M504 356h16M184 364h8M384 364h8M504 364h8M384 372h8M504 372h8M384 380h8M496 380h16M160 388h8M176 388h8M384 388h8M496 388h16M384 396h8M496 396h8M384 404h16M488 404h16M152 412h8M384 412h16M488 412h16M120 420h8M384 420h16M480 420h16M120 428h8M384 428h16M480 428h16M392 436h16M472 436h16M392 444h16M472 444h16M152 452h8M392 452h24M464 452h16M144 460h8M400 460h24M456 460h24M400 468h72M408 476h56M416 484h40M424 492h16M264 524h8M264 532h8M256 540h8M256 548h8M256 556h8M256 564h8M312 564h8M312 572h8M264 580h8M312 580h8M272 588h8M296 588h16M280 596h24M8 628h8M32 628h8M0 636h8M40 644h8M40 660h8M40 668h8M0 676h8M8 684h8M24 684h8"/>
<path stroke="#15afd9" d="M128 164h8M128 172h8M128 180h8M128 188h8M456 188h24M128 196h8M448 196h40M440 204h56M432 212h64M424 220h32M480 220h24M424 228h16M488 228h16M568 228h8M416 236h24M488 236h16M608 236h8M416 244h16M496 244h16M608 244h8M416 252h16M496 252h16M568 252h8M408 260h16M496 260h16M408 268h16M496 268h16M408 276h8M496 276h16M400 284h16M496 284h16M200 292h8M400 292h16M496 292h16M400 300h16M496 300h16M192 308h8M400 308h8M496 308h16M200 316h8M400 316h8M496 316h16M392 324h16M496 324h16M184 332h8M392 332h16M496 332h16M192 340h8M392 340h16M496 340h16M176 348h8M392 348h16M496 348h8M392 356h16M496 356h8M392 364h16M488 364h16M168 372h8M392 372h16M488 372h16M176 380h8M392 380h16M488 380h8M392 388h16M480 388h16M160 396h8M392 396h16M480 396h16M120 404h8M168 404h8M400 404h16M472 404h16M120 412h8M400 412h16M472 412h16M400 420h16M464 420h16M160 428h8M400 428h24M456 428h24M144 436h8M408 436h64M408 444h64M416 452h48M424 460h32M256 524h8M256 532h8M248 540h8M248 548h8M248 556h8M248 564h8M320 564h8M256 572h8M320 572h8M256 580h8M320 580h8M264 588h8M312 588h8M272 596h8M304 596h8M280 604h24M16 620h16M0 628h8M40 628h8M40 636h8M40 676h8M0 684h8M32 684h8M8 692h24"/>
<path stroke="#10b2d5" d="M120 92h8M128 100h8M128 124h8M128 132h8M128 140h8M128 148h8M128 156h8M456 220h24M440 228h48M600 228h8M440 236h48M432 244h64M432 252h64M600 252h8M424 260h24M472 260h24M424 268h16M480 268h16M416 276h24M480 276h16M416 284h16M480 284h16M416 292h16M480 292h16M200 300h8M416 300h8M480 300h16M200 308h8M408 308h16M480 308h16M192 316h8M408 316h16M480 316h16M192 324h8M408 324h16M480 324h16M192 332h8M408 332h16M480 332h16M184 340h8M408 340h16M480 340h16M184 348h8M408 348h16M480 348h16M176 356h16M408 356h16M480 356h16M176 364h8M408 364h16M472 364h16M176 372h8M408 372h16M472 372h16M168 380h8M408 380h16M464 380h24M120 388h8M168 388h8M408 388h24M464 388h16M120 396h8M168 396h8M408 396h32M448 396h32M160 404h8M416 404h56M160 412h8M416 412h56M152 420h16M416 420h48M152 428h8M424 428h32M152 436h8M144 444h16M144 452h8M248 524h8M248 532h8M240 540h8M240 548h8M240 556h8M240 564h8M328 564h8M248 572h8M328 572h8M328 580h8M256 588h8M320 588h8M264 596h8M312 596h16M272 604h8M304 604h16M24 612h8M272 612h40M8 620h8M32 620h16M48 636h8M48 644h8M48 652h8M48 660h8M48 668h8M48 676h8M40 684h8M0 692h8M32 692h8"/>
<path stroke="#09b4d1" d="M128 108h8M128 116h8M568 236h8M568 244h8M576 252h8M448 260h24M440 268h40M440 276h40M432 284h48M432 292h48M424 300h56M424 308h56M424 316h56M424 324h56M424 332h56M424 340h56M120 348h8M424 348h56M120 356h8M424 356h56M120 364h8M424 364h48M120 372h8M424 372h48M120 380h8M424 380h40M432 388h32M440 396h8M240 516h8M240 524h8M232 532h16M232 540h8M232 548h8M232 556h8M232 564h8M336 564h8M240 572h8M336 572h8M248 580h8M336 580h8M328 588h16M256 596h8M328 596h8M264 604h8M320 604h16M8 612h16M32 612h16M264 612h8M312 612h16M0 620h8M48 620h8M272 620h48M48 628h8M280 628h32M56 636h8M56 644h8M56 652h8M56 660h8M56 668h8M56 676h8M48 684h8M40 692h16"/>
<path stroke="#04b6cd" d="M576 228h8M592 252h8M120 316h8M120 324h8M120 332h8M120 340h8M112 444h8M112 452h8M112 460h8M232 516h8M232 524h8M224 532h8M216 540h16M208 548h24M208 556h24M208 564h24M208 572h32M344 572h8M224 580h24M344 580h16M248 588h8M344 588h24M32 596h24M336 596h32M16 604h48M336 604h24M0 612h8M48 612h24M328 612h32M56 620h16M264 620h8M320 620h32M56 628h16M264 628h16M312 628h40M64 636h16M264 636h80M64 644h16M264 644h72M64 652h16M264 652h64M64 660h16M272 660h40M64 668h16M64 676h16M56 684h16M56 692h16"/>
<path stroke="#01b8c9" d="M0 92h32M112 92h8M584 228h16M600 244h8M584 252h8M120 276h8M120 284h8M120 292h8M120 300h8M120 308h8M112 428h8M112 436h8M16 444h24M16 452h24M80 452h16M8 460h40M64 460h40M16 468h104M24 476h112M24 484h160M32 492h160M32 500h152M32 508h136M32 516h152M32 524h160M32 532h160M32 540h168M32 548h176M32 556h176M32 564h176M32 572h176M32 580h192M24 588h224M16 596h16M56 596h168M248 596h8M368 596h8M0 604h16M64 604h152M256 604h8M360 604h16M416 604h8M72 612h144M256 612h8M360 612h24M408 612h24M72 620h144M352 620h40M400 620h40M560 620h40M72 628h144M256 628h8M352 628h96M488 628h40M544 628h72M80 636h144M256 636h8M344 636h104M480 636h144M80 644h184M336 644h112M480 644h152M80 652h184M328 652h328M80 660h192M312 660h360M80 668h584M80 676h576M72 684h584M72 692h576"/>
<path stroke="#02bac4" d="M32 92h24M104 92h8M120 236h8M600 236h8M120 244h8M120 252h8M120 260h8M120 268h8M112 420h8M0 468h16M0 476h24M16 484h8M24 492h8M24 500h8M24 508h8M24 516h8M24 524h8M24 532h8M24 548h8M24 556h8M24 564h8M24 572h8M24 580h8M16 588h8M0 596h16M224 596h8M216 604h8M216 612h8M216 620h8M256 620h8M216 628h8M224 636h32"/>
<path stroke="#06bcc0" d="M56 92h8M120 204h8M120 212h8M120 220h8M120 228h8M576 236h8M576 244h8M112 404h8M112 412h8M0 484h16M0 492h24M16 500h8M16 508h8M24 540h8M16 572h8M16 580h8M0 588h16M232 596h16M224 604h8M248 604h8M224 620h8M224 628h8M248 628h8"/>
<path stroke="#0dbdbb" d="M64 92h8M96 92h8M120 100h8M120 172h8M120 180h8M120 188h8M120 196h8M592 244h8M112 396h8M0 500h16M16 516h8M16 524h8M16 532h8M16 540h8M16 548h8M16 556h8M16 564h8M0 580h16M224 612h8M248 612h8M248 620h8M232 628h16"/>
<path stroke="#16bfb7" d="M72 92h8M88 92h8M120 124h8M120 132h8M120 140h8M120 148h8M120 156h8M120 164h8M584 236h16M584 244h8M112 380h8M112 388h8M104 436h8M104 444h8M104 452h8M104 460h8M0 508h16M0 516h16M0 564h16M0 572h16M232 604h16M232 612h16M232 620h16"/>
<path stroke="#1ec0b2" d="M80 92h8M120 108h8M120 116h8M112 340h8M112 348h8M112 356h8M112 364h8M112 372h8M104 428h8M0 524h16M0 532h16M0 540h16M0 548h16M0 556h16"/>
<path stroke="#25c2ad" d="M112 300h8M112 308h8M112 316h8M112 324h8M112 332h8M104 412h8M104 420h8M72 436h32M72 444h32M72 452h8M96 452h8"/>
<path stroke="#2ac3a8" d="M0 132h8M0 140h16M0 148h24M0 156h24M0 164h24M0 172h24M0 180h32M0 188h32M0 196h32M0 204h24M0 212h24M0 220h16M0 228h8M0 236h8M0 244h16M0 252h32M112 252h8M0 260h40M112 260h8M0 268h48M112 268h8M0 276h40M112 276h8M0 284h40M112 284h8M0 292h40M112 292h8M0 300h48M0 308h56M0 316h56M0 324h56M0 332h56M0 340h48M0 348h40M0 356h48M0 364h48M0 372h56M0 380h56M0 388h64M0 396h72M0 404h72M104 404h8M0 412h80M0 420h80M0 428h104M0 436h72M0 444h16M40 444h32M0 452h16M40 452h32M0 460h8M48 460h16"/>
<path stroke="#2fc5a3" d="M112 100h8M112 220h8M112 228h8M112 236h8M112 244h8M104 396h8M80 412h24M80 420h24"/>
<path stroke="#32c69e" d="M0 100h48M112 188h8M112 196h8M112 204h8M112 212h8M104 388h8M72 404h32"/>
<path stroke="#36c899" d="M48 100h8M104 100h8M112 132h8M112 140h8M112 148h8M112 156h8M112 164h8M112 172h8M112 180h8M104 340h8M104 348h8M104 356h8M104 364h8M104 372h8M104 380h8M72 396h32"/>
<path stroke="#3bc993" d="M56 100h8M112 108h8M112 116h8M112 124h8M104 252h8M104 260h8M104 268h8M104 276h8M104 284h8M104 292h8M104 300h8M104 308h8M104 316h8M104 324h8M104 332h8M64 388h40"/>
<path stroke="#41ca8d" d="M96 100h8M0 108h48M0 116h48M0 124h48M8 132h40M16 140h32M24 148h24M24 156h24M24 164h24M24 172h24M32 180h16M32 188h16M32 196h16M24 204h32M24 212h32M104 212h8M16 220h40M104 220h8M8 228h56M96 228h16M8 236h64M96 236h16M16 244h96M32 252h72M40 260h64M48 268h56M40 276h64M40 284h64M40 292h64M48 300h56M56 308h48M56 316h48M56 324h48M56 332h48M48 340h56M40 348h64M48 356h56M48 364h56M56 372h48M56 380h48"/>
<path stroke="#48cb86" d="M64 100h8M48 108h8M104 108h8M48 116h8M48 124h8M48 132h8M48 140h8M48 148h8M48 156h8M48 164h8M48 172h8M48 180h8M48 188h8M104 188h8M48 196h8M104 196h8M56 204h8M104 204h8M56 212h8M96 212h8M56 220h16M96 220h8M64 228h32M72 236h24"/>
<path stroke="#50cc80" d="M72 100h8M88 100h8M56 108h8M104 116h8M104 124h8M104 132h8M104 140h8M104 148h8M104 156h8M104 164h8M104 172h8M104 180h8M56 188h8M56 196h8M96 196h8M96 204h8M64 212h8M88 212h8M72 220h24"/>
<path stroke="#58cc79" d="M80 100h8M96 108h8M56 116h8M56 124h8M56 132h8M56 164h8M56 172h8M56 180h8M96 188h8M64 204h8M88 204h8M72 212h16"/>
<path stroke="#61cd71" d="M64 108h8M96 116h8M96 124h8M56 140h8M56 148h8M56 156h8M96 172h8M96 180h8M64 188h8M64 196h8M88 196h8M72 204h16"/>
<path stroke="#6acd6a" d="M88 108h8M64 116h8M96 132h8M96 140h8M96 148h8M96 156h8M96 164h8M64 180h8M88 188h8M72 196h16"/>
<path stroke="#73cd62" d="M72 108h16M88 116h8M64 124h8M64 172h8M88 180h8M72 188h8"/>
<path stroke="#7dcc5b" d="M72 116h8M88 124h8M64 132h8M64 140h8M64 148h8M64 156h8M64 164h8M88 172h8M80 188h8"/>
<path stroke="#87cb54" d="M80 116h8M72 124h8M88 132h8M88 164h8M72 180h16"/>
<path stroke="#91ca4c" d="M80 124h8M72 132h8M88 140h8M88 148h8M88 156h8M72 172h16"/>
<path stroke="#9ac945" d="M80 132h8M72 140h8M72 148h8M72 156h8M72 164h16"/>
<path stroke="#a3c83e" d="M80 140h8M80 148h8M80 156h8"/>
</g>
<g fill="#fff">
<polygon points="-16.4,-18.3 563,-18.3 567.7,3.1 534.2,12.7 472,10.3 467.2,27 455.2,48.5 424.1,74.7 414.5,81.9 405,70 376.2,66.6 357.1,60.4 349.9,43.7 345.1,22.2 328.3,16 280.5,20.8 251.7,29.4 223,41.3 199.1,50.9 184.7,67.6 175.1,77.1 151.2,86.7 112.9,91.4 69.8,105.7 65,134.4 60.2,182.1 59.3,220.3 61.2,258.5 57.8,287.1 60.2,325.3 55.4,353.9 45.8,373 33.9,387.3 31.5,411.2 21.9,435.1 -16.4,449.4"/>
<polygon points="582.1,196.4 591.7,189.3 625.2,191.7 632.4,201.2 632.4,220.3 615.6,225.1 586.9,225.1 579.7,215.5"/>
<polygon points="539,234.6 548.6,220.3 563,234.6 574.9,241.8 586.9,237 579.7,258.5 567.7,272.8 553.4,268 539,260.9"/>
<polygon points="512.7,265.6 519.9,248.9 525.6,248.9 525.6,273.8 512.7,273.8"/>
<polygon points="658.7,182.1 663.5,182.1 663.5,194 658.7,194"/>
<polygon points="565.9,308.5 570.5,299.2 576.8,288.3 583,282.1 626.6,280.6 632.8,268.1 654.7,246.4 664,226.2 673.3,226.2 692,204.5 707.6,202.9 710.7,206 748.1,206 757.4,201.4 765.2,201.4 779.3,207.6 788.6,196.7 804.2,195.2 808.8,204.5 807.3,226.2 797.9,238.6 788.6,248 779.3,258.8 769.9,263.5 757.4,265 738.8,274.4 726.3,286.8 717,299.2 704.5,300.8 695.1,310.1 687.4,327.1 657.8,327.1 662.4,310.1 657.8,314.7 648.4,314.7 629.7,320.9 617.3,328.7 606.4,320.9 593.9,328.7 586.1,330.3 567.4,325.6 564.3,317.8"/>
<polygon points="570.5,345.8 583,338 593.9,330.3 601.7,336.5 603.3,352 593.9,361.3 586.1,372.2 570.5,373.7 565.9,367.5 567.4,355.1"/>
<polygon points="752.8,330.3 755.9,320.9 773,324 788.6,320.9 794.8,307 829.1,305.4 829.1,414.1 752.8,414.1"/>
<polygon points="578.3,401.7 586.1,387.7 593.9,375.3 601.7,362.9 620.4,359.8 623.5,367.5 639.1,362.9 642.2,372.2 667.1,370.6 671.8,359.8 710.7,358.2 726.3,344.2 746.5,336.5 755.9,336.5 755.9,406.3 578.3,406.3"/>
<polygon points="563,406.4 570.1,394.5 589.3,391.2 610.8,387.3 831.1,387.3 831.1,707.1 467.2,707.1 472,678.5 481.6,659.4 476.8,635.5 472,611.7 491.1,606.9 500.7,592.6 515.1,573.5 524.7,554.4 539,559.2 553.4,549.6 577.3,540.1 579.7,516.2 574.9,492.4 567.7,468.5 567.7,444.6 574.9,420.8 563,416"/>
<polygon points="431.3,516.2 440.9,509.1 460,510.5 463.4,525.8 460,540.1 438.5,540.1 429.9,528.1"/>
<polygon points="467.2,554.4 481.6,544.9 500.7,547.2 503.1,563.9 495.9,580.6 472,580.6 464.8,568.7"/>
<polygon points="438.5,592.6 452.8,587.8 472,590.2 474.4,606.9 467.2,616.4 448,614.1"/>
<polygon points="120.1,158.3 132,153.5 134.4,170.2 120.1,172.6"/>
<polygon points="136.8,127.2 148.8,117.7 150.2,139.2 139.2,136.8"/>
<polygon points="146.4,344.4 153.6,325.3 165.5,320.5 170.3,306.2 177.5,306.2 172.7,334.8 160.8,363.5 153.6,373 146.4,363.5"/>
<polygon points="193.3,273.8 199.1,273.8 199.1,282.3 193.3,282.3"/>
<polygon points="0.4,486.1 17.4,476.5 34.4,478.9 65.9,476.5 65.9,486.1 53.8,505.4 46.5,524.8 41.6,546.5 31.9,558.6 29.5,570.6 41.6,582.7 58.6,563.4 70.7,573.1 70.7,594.8 63.4,626.2 58.6,645.5 51.3,674.5 36.8,693.8 7.7,693.8 17.4,662.4 34.4,640.7 29.5,628.6 2.9,621.4 0.4,606.9 10.1,582.7 15,558.6 12.6,534.4 15,510.3 0.4,500.6"/>
<polygon points="111.9,614.1 128.9,597.2 138.6,590 155.5,587.5 157.9,573.1 170,558.6 177.3,548.9 172.5,524.8 184.6,519.9 194.3,534.4 189.4,548.9 184.6,565.8 189.4,582.7 177.3,597.2 172.5,614.1 187,616.5 196.7,609.3 211.2,602 218.5,611.7 216.1,628.6 220.9,633.4 247.6,635.9 264.5,645.5 286.3,645.5 291.2,662.4 283.9,676.9 259.7,686.6 235.5,684.2 211.2,693.8 187,693.8 184.6,669.7 172.5,657.6 160.4,655.2 145.8,647.9 128.9,662.4 114.3,647.9"/>
<polygon points="327.5,638.3 342.1,626.2 366.3,621.4 385.7,623.8 383.3,645.5 371.1,652.8 356.6,655.2 344.5,664.8 332.4,679.3 320.3,693.8 296,693.8 305.7,674.5 317.8,664.8"/>
<polygon points="393,626.2 419.6,626.2 419.6,693.8 371.1,693.8 390.5,664.8 395.4,645.5"/>
<polygon points="402.1,623.8 421.4,623.8 428.7,638.3 428.7,666 461.4,666 465.1,693.8 402.1,693.8"/>
<polygon points="467.2,9.3 478.2,9.3 478.2,18.9 467.2,18.9"/>
<polygon points="511.7,12.7 543.8,11.7 561.5,14.1 558.2,21.7 529.4,20.8 512.7,17.5"/>
</g>
<polygon fill="#01b9c6" points="692.8,500.6 697.7,486.1 709.8,471.6 724.3,457.1 734,449.9 741.3,462 726.7,476.5 707.3,486.1 702.5,498.2"/>
<polygon fill="#01b9c6" points="742.5,500.6 760.7,495.8 777.6,492.1 780,500.6 763.1,507.8 753.4,515.1 743.7,519.9"/>
<polygon fill="#01b9c6" points="748.5,544.1 770.3,545.3 772.8,558.6 758.2,562.2 746.1,556.2"/>
<polygon fill="#01b9c6" points="586.2,635.9 595.9,634.6 595.9,640.7 588.6,645.5"/>
<polygon fill="#01b9c6" points="462.6,690.2 467.5,674.5 477.2,662.4 484.4,650.3 489.3,652.8 486.9,664.8 477.2,674.5 469.9,690.2"/>
<g fill="none" stroke="#000" stroke-width="10" stroke-linejoin="round" stroke-linecap="round">
<polyline points="51.3,107.1 65.9,101.1 90.1,92.6 114.3,86.6 138.6,80.6 162.8,74.5 174.9,68.5 184.6,54 194.3,46.7 211.2,43.1 225.8,35.9 240.3,27.4 259.7,22.6 283.9,19 308.2,15.4 332.4,14.9 337,18.8 342.6,27.1 348.1,34 352.3,46.4 356.4,56.1 363.3,64.3 374.4,70.6 389.6,72.6 406.3,73.3 417.3,77.5 431.2,71.2 445,60.2 454.7,47.8 459.6,34 460.9,18.8 458.9,6.4 462.3,-0.2"/>
<polyline points="332.3,14 348.1,19.5 362,27.8 371.6,36.7 375.8,44.3 373.7,46.4"/>
<polyline points="462.3,1.1 472.7,1.1 486.6,1.6 500.4,2.5 514.2,3.6 528.1,6.7 541.9,10.1 555.8,8.5 568.2,4.3"/>
<polyline points="452.9,60 501.4,68.5 549.9,73.3 598.3,73.3 646.8,69.7 683.1,66.1 690.4,63.7"/>
<polyline points="683.1,2.1 692.8,17.8 683.1,32.3 674.6,44.3 678.3,56.4 690.4,63.7"/>
<polyline points="690.4,63.7 709.8,75.7 729.2,86.6 741.3,95.1 740.1,112 741.3,116.8"/>
<polyline points="741.3,116.8 760.7,119.2 770.3,113.2 782.5,115.6 789.7,112 801.8,116.8 818.8,118"/>
<polyline points="741.3,116.8 748.5,140.9 753.4,160.3 760.7,179.6 770.3,198.9 772.8,215.8 774,232.7 770.3,252 755.8,261.7 736.4,266.5 724.3,278.6 717,295.5 717,305.2 738.8,314.8 753.4,329.3 749.7,341.2 746.1,355.7 741.3,367.8 746.1,382.3 753.4,396.7 751,411.2 763.1,423.3 772.8,437.8 780,452.3 784.9,462 777.6,469.2 784.9,481.3 788.5,495.8 780,505.4 763.1,507.8"/>
<polyline points="763.1,507.8 743.7,519.9 719.5,544.1 695.2,573.1 678.3,597.2 673.4,609.3 678.3,626.2 680.7,647.9 683.1,657.6"/>
<polyline points="743.7,372.6 763.1,372.6 777.6,379.8 792.1,370.2 804.3,360.5 809.1,350.9 818.8,344.8"/>
<polyline points="683.1,657.6 695.2,662.4 690.4,669.7"/>
<polyline points="678.3,657.6 661.3,669.7 651.6,690.2"/>
<polyline points="678.3,657.6 661.3,655.2 641.9,647.9 627.4,640.7 617.7,626.2 603.2,621.4 593.5,617.7 578.9,617.7 566.8,616.5 552.3,621.4 540.2,634.6 525.6,626.2 520.8,618.9 506.2,622.6 491.7,625 479.6,635.9 474.8,647.9 462.6,645.5 450.5,644.3 448.1,631 438.4,623.8 428.7,606.9 423.9,600.8 414.2,606.9 404.5,618.9"/>
<polyline points="405.1,618.9 390.5,623.8 383.3,611.7 373.6,594.8 359,582.7 354.2,568.2 332.4,561 313,551.3 300.9,558.6 291.2,551.3 281.5,539.2 291.2,532 288.8,522.3 276.7,524.8 259.7,519.9 240.3,510.3 223.4,507.8 228.2,512.7 233,527.2 220.9,534.4 208.8,546.5 201.5,541.7 191.9,527.2 179.7,515.1 170,507.8 179.7,500.6 189.4,490.9 182.2,482.5 167.6,483.7 153.1,483.7 138.6,475.2 119.2,469.2 102.2,462 94.9,447.5 82.8,445.1 73.1,457.1 58.6,462"/>
<polyline points="378.4,604.5 356.6,609.3 342.1,623.8 327.5,638.3 320.3,657.6 305.7,669.7 288.8,679.3 267,686.6 247.6,684.2 237.9,690.2"/>
<polyline points="58.6,462 47.7,459.5 41.6,447.5 31.9,440.2 19.8,442.6 17.4,452.3 7.7,462 -3.2,468"/>
<polyline points="73.1,690.2 75.6,669.7 90.1,672.1 109.5,676.9 128.9,684.2 150.7,690.2"/>
<polyline points="19.8,140.9 24.7,160.3 29.5,179.6 31.9,191.7 24.7,203.7 19.8,215.8 7.7,225.5 7.7,237.5 22.3,247.2 34.4,256.9 45.3,266.5 42.8,281 40.4,290.7 48.9,302.8 56.2,314.8 55,329.3 48.9,341.4 41.6,350.9 48.9,365.4 56.2,379.8 68.3,391.9 75.6,406.4 78,420.9 74.3,437.8 68.3,452.3 58.6,462"/>
<polyline points="195.5,689 196.7,689"/>
</g><g fill="#000" stroke="#000" stroke-width="3" stroke-linejoin="round">
<polygon points="-6.6,108.3 1.1,98.4 8.1,105.7 15.9,112.6 25.4,113.9 33.2,110.9 43.5,105.7 63.4,99.7 65.2,107.4 60,119.5 53.9,126.4 48.7,136.8 47.9,142.8 52.2,148.8 52.2,154 47,160.9 41.8,161.8 36.6,154 31.4,148.8 28.8,155.7 31.4,166.1 34,171.3 22.8,171.3 18.4,157.5 15,147.1 5.5,144.5 -3.2,141.9 -5.8,131.6 -4,119.5"/>
<polygon points="463,29.2 486.6,29.4 500.4,30.9 501.1,34 486.6,42 472.7,50.3 458.9,58.5 453.3,57.2 457.5,46.4 460.9,35.4"/>
<polygon points="402.8,74 417.3,88.9 433.9,72.6"/>
</g><g fill="#ddd">
<polygon points="4.6,129.9 13.7,129.9 13.7,133.7 4.6,133.7"/>
<polygon points="28.4,132 36.2,131.1 36.8,139.8 30.1,142.1 26.9,136.8"/>
</g>
</g></g>
<rect x="1365.0" y="38.8" width="817.3" height="690.2" fill="none" stroke="#b0b0b0" stroke-width="3"/>
<path d="M1520.7 38.8v7M1520.7 729.0v-7M1676.4 38.8v7M1676.4 729.0v-7M1832.0 38.8v7M1832.0 729.0v-7M1987.7 38.8v7M1987.7 729.0v-7M2143.4 38.8v7M2143.4 729.0v-7M1365.0 706.7h7M2182.3 706.7h-7M1365.0 595.4h7M2182.3 595.4h-7M1365.0 484.1h7M2182.3 484.1h-7M1365.0 372.8h7M2182.3 372.8h-7M1365.0 261.4h7M2182.3 261.4h-7M1365.0 150.1h7M2182.3 150.1h-7" stroke="#9a9a9a" stroke-width="2" fill="none"/>
<clipPath id="cF"><rect width="819.3" height="691.3"/></clipPath>
<g transform="translate(1369.0 749.0)"><g clip-path="url(#cF)">
<g fill="none" stroke-width="8.6" shape-rendering="crispEdges">
<path stroke="#2798ea" d="M0 4h16M144 4h320M728 4h24M0 12h16M144 12h296M0 20h16M144 20h280M0 28h16M144 28h264M0 36h16M152 36h256M0 44h16M152 44h256M0 52h16M152 52h256M0 60h16M160 60h232M0 68h16M160 68h176M712 68h32M0 76h16M168 76h120M656 76h88M0 84h16M168 84h88M584 84h160M0 92h16M176 92h56M576 92h176M0 100h16M176 100h40M584 100h160M0 108h16M184 108h16M592 108h152M0 116h16M600 116h144M0 124h16M608 124h136M8 132h8M608 132h136M608 140h136M608 148h136M600 156h144M592 164h152M576 172h176M560 180h192M536 188h216M504 196h248M448 204h304M416 212h336M408 220h344M408 228h352M408 236h352M408 244h352M416 252h344M416 260h352M424 268h344M424 276h352M448 284h328M528 292h256M816 292h8M560 300h264M584 308h240M600 316h224M616 324h208M624 332h200M632 340h192M648 348h176M656 356h168M664 364h160M664 372h160M192 380h8M672 380h152M200 388h16M680 388h144M200 396h24M680 396h144M208 404h24M688 404h136M208 412h32M688 412h136M208 420h32M688 420h136M200 428h48M688 428h136M200 436h48M696 436h128M200 444h48M696 444h128M192 452h56M696 452h128M184 460h72M696 460h128M184 468h72M696 468h128M184 476h72M688 476h136M184 484h72M688 484h136M192 492h72M688 492h136M184 500h80M680 500h144M184 508h80M680 508h144M184 516h48M248 516h24M672 516h152M192 524h40M272 524h8M672 524h152M192 532h32M664 532h160M200 540h16M280 540h8M656 540h168M288 548h8M648 548h176M296 556h8M640 556h184M272 564h16M632 564h192M280 572h8M616 572h208M608 580h216M592 588h232M568 596h256M376 604h24M544 604h280M384 612h24M432 612h24M496 612h328M392 620h16M440 620h120M600 620h224M440 628h48M528 628h24M616 628h208M448 636h32M624 636h200M448 644h32M632 644h192M648 652h176M680 660h144M664 668h160M664 676h160M656 684h168M656 692h168"/>
<path stroke="#259be8" d="M128 4h16M464 4h80M640 4h88M752 4h72M128 12h16M440 12h56M696 12h128M128 20h16M424 20h48M712 20h72M808 20h16M128 28h16M408 28h48M728 28h40M816 28h8M128 36h24M408 36h48M728 36h40M136 44h16M408 44h48M728 44h40M136 52h16M408 52h64M704 52h64M136 60h24M392 60h104M680 60h88M144 68h16M336 68h376M744 68h24M144 76h24M288 76h368M744 76h24M152 84h16M256 84h328M744 84h24M152 92h24M232 92h88M488 92h88M752 92h16M160 100h16M216 100h72M512 100h72M744 100h24M160 108h24M200 108h64M528 108h64M744 108h24M160 116h96M544 116h56M744 116h16M168 124h72M552 124h56M744 124h16M168 132h72M552 132h56M744 132h16M168 140h64M552 140h56M744 140h16M168 148h64M544 148h64M744 148h16M168 156h56M536 156h64M744 156h24M168 164h56M520 164h72M744 164h24M168 172h56M504 172h72M752 172h16M168 180h48M464 180h96M752 180h16M168 188h40M408 188h128M752 188h16M168 196h32M384 196h120M752 196h16M168 204h32M376 204h72M752 204h16M168 212h24M376 212h40M752 212h24M168 220h16M376 220h32M752 220h24M160 228h24M376 228h32M760 228h16M816 228h8M160 236h16M384 236h24M760 236h24M816 236h8M160 244h16M384 244h24M760 244h32M808 244h16M160 252h16M384 252h32M760 252h64M384 260h32M768 260h56M384 268h40M768 268h56M392 276h32M776 276h48M160 284h8M392 284h56M776 284h48M160 292h16M392 292h136M784 292h32M168 300h8M392 300h168M400 308h184M408 316h192M168 324h16M520 324h96M168 332h32M552 332h72M160 340h48M568 340h64M152 348h64M584 348h64M152 356h72M600 356h56M152 364h88M608 364h56M160 372h88M616 372h48M160 380h32M200 380h64M624 380h48M168 388h32M216 388h64M632 388h48M176 396h24M224 396h64M632 396h48M176 404h32M232 404h56M640 404h48M184 412h24M240 412h56M640 412h48M184 420h24M240 420h56M648 420h40M184 428h16M248 428h48M648 428h40M176 436h24M248 436h48M648 436h48M176 444h24M248 444h48M648 444h48M176 452h16M248 452h48M648 452h48M168 460h16M256 460h40M648 460h48M160 468h24M256 468h40M648 468h48M160 476h24M256 476h40M648 476h40M160 484h16M256 484h48M648 484h40M264 492h40M640 492h48M264 500h48M640 500h40M168 508h16M264 508h48M632 508h48M272 516h48M624 516h48M280 524h48M624 524h48M288 532h48M616 532h48M288 540h56M600 540h56M272 548h16M296 548h56M592 548h56M264 556h32M320 556h48M576 556h64M264 564h8M288 564h8M336 564h48M560 564h72M264 572h16M288 572h8M360 572h48M536 572h80M264 580h32M360 580h88M504 580h104M368 588h224M376 596h192M400 604h144M456 612h40"/>
<path stroke="#249ee6" d="M112 4h16M544 4h96M112 12h16M496 12h48M648 12h48M120 20h8M472 20h32M680 20h32M784 20h24M120 28h8M456 28h32M696 28h32M768 28h48M120 36h8M456 36h32M696 36h32M768 36h56M120 44h16M456 44h32M688 44h40M768 44h56M128 52h8M472 52h40M672 52h32M768 52h56M128 60h8M496 60h80M600 60h80M768 60h24M808 60h16M136 68h8M768 68h16M808 68h16M136 76h8M768 76h16M816 76h8M144 84h8M768 84h16M816 84h8M144 92h8M320 92h168M768 92h8M816 92h8M144 100h16M288 100h72M448 100h64M768 100h8M152 108h8M264 108h56M480 108h48M768 108h8M152 116h8M256 116h40M496 116h48M760 116h16M152 124h16M240 124h40M512 124h40M760 124h16M160 132h8M240 132h32M512 132h40M760 132h16M160 140h8M232 140h40M512 140h40M760 140h16M160 148h8M232 148h32M504 148h40M760 148h16M160 156h8M224 156h40M496 156h40M768 156h8M160 164h8M224 164h32M472 164h48M768 164h8M160 172h8M224 172h32M424 172h80M768 172h8M160 180h8M216 180h32M368 180h96M768 180h16M816 180h8M160 188h8M208 188h24M352 188h56M768 188h16M816 188h8M160 196h8M200 196h24M352 196h32M768 196h16M816 196h8M152 204h16M200 204h16M352 204h24M768 204h24M808 204h16M152 212h16M192 212h24M352 212h24M776 212h48M152 220h16M184 220h24M360 220h16M776 220h48M144 228h16M184 228h16M360 228h16M776 228h40M144 236h16M176 236h24M360 236h24M784 236h32M144 244h16M176 244h24M368 244h16M792 244h16M144 252h16M176 252h16M368 252h16M144 260h48M368 260h16M152 268h40M368 268h16M144 276h48M368 276h24M144 284h16M168 284h24M368 284h24M144 292h16M176 292h16M368 292h24M144 300h24M176 300h24M368 300h24M152 308h48M368 308h32M152 316h56M368 316h40M152 324h16M184 324h32M368 324h152M152 332h16M200 332h16M368 332h184M144 340h16M208 340h24M368 340h64M504 340h64M136 348h16M216 348h24M536 348h48M136 356h16M224 356h32M560 356h40M144 364h8M240 364h40M576 364h32M144 372h16M248 372h40M584 372h32M152 380h8M264 380h32M592 380h32M160 388h8M280 388h24M600 388h32M160 396h16M288 396h32M608 396h24M168 404h8M288 404h40M616 404h24M168 412h16M296 412h24M616 412h24M168 420h16M296 420h24M624 420h24M168 428h16M296 428h24M624 428h24M168 436h8M296 436h24M624 436h24M168 444h8M296 444h24M624 444h24M160 452h16M296 452h24M624 452h24M152 460h16M296 460h24M624 460h24M152 468h8M296 468h24M624 468h24M152 476h8M296 476h24M624 476h24M152 484h8M304 484h24M616 484h32M304 492h24M616 492h24M312 500h24M608 500h32M312 508h32M608 508h24M320 516h32M600 516h24M328 524h32M592 524h32M336 532h32M576 532h40M264 540h16M344 540h40M568 540h32M256 548h16M352 548h48M552 548h40M256 556h8M368 556h48M528 556h48M256 564h8M296 564h8M384 564h176M256 572h8M296 572h8M408 572h128M256 580h8M296 580h8M448 580h56M264 588h32"/>
<path stroke="#22a1e4" d="M104 4h8M104 12h8M544 12h104M112 20h8M504 20h32M648 20h32M112 28h8M488 28h24M672 28h24M112 36h8M488 36h24M672 36h24M112 44h8M488 44h32M664 44h24M120 52h8M512 52h40M632 52h40M120 60h8M576 60h24M792 60h16M128 68h8M784 68h24M128 76h8M784 76h32M136 84h8M784 84h32M136 92h8M776 92h40M360 100h88M776 100h48M144 108h8M320 108h160M776 108h16M800 108h24M144 116h8M296 116h48M456 116h40M776 116h16M808 116h16M280 124h40M472 124h40M776 124h16M808 124h16M152 132h8M272 132h40M480 132h32M776 132h16M808 132h16M152 140h8M272 140h32M480 140h32M776 140h16M808 140h16M152 148h8M264 148h40M464 148h40M776 148h16M808 148h16M152 156h8M264 156h48M440 156h56M776 156h16M808 156h16M152 164h8M256 164h216M776 164h48M152 172h8M256 172h168M776 172h48M152 180h8M248 180h120M784 180h32M152 188h8M232 188h32M312 188h40M784 188h32M152 196h8M224 196h24M320 196h32M784 196h32M216 204h24M328 204h24M792 204h16M144 212h8M216 212h16M336 212h16M144 220h8M208 220h16M344 220h16M136 228h8M200 228h16M344 228h16M136 236h8M200 236h16M352 236h8M136 244h8M200 244h8M352 244h16M136 252h8M192 252h16M360 252h8M136 260h8M192 260h16M360 260h8M144 268h8M192 268h16M360 268h8M136 276h8M192 276h16M360 276h8M136 284h8M192 284h16M360 284h8M128 292h16M192 292h16M360 292h8M136 300h8M200 300h8M352 300h16M144 308h8M200 308h16M352 308h16M144 316h8M208 316h16M352 316h16M144 324h8M216 324h16M344 324h24M144 332h8M216 332h24M344 332h24M136 340h8M232 340h16M344 340h24M432 340h72M128 348h8M240 348h40M344 348h192M128 356h8M256 356h32M344 356h88M512 356h48M136 364h8M280 364h16M344 364h56M536 364h40M136 372h8M288 372h16M344 372h40M552 372h32M144 380h8M296 380h16M336 380h32M568 380h24M152 388h8M304 388h56M576 388h24M152 396h8M320 396h32M584 396h24M160 404h8M328 404h24M592 404h24M160 412h8M320 412h24M600 412h16M160 420h8M320 420h24M600 420h24M160 428h8M320 428h24M600 428h24M160 436h8M320 436h16M608 436h16M160 444h8M320 444h16M608 444h16M152 452h8M320 452h16M608 452h16M144 460h8M320 460h16M608 460h16M144 468h8M320 468h24M608 468h16M144 476h8M320 476h24M600 476h24M328 484h16M600 484h16M328 492h24M592 492h24M336 500h24M592 500h16M344 508h24M584 508h24M352 516h24M576 516h24M360 524h24M560 524h32M264 532h24M368 532h32M552 532h24M256 540h8M384 540h32M528 540h40M400 548h56M496 548h56M248 556h8M304 556h8M416 556h112M248 564h8M304 564h8M248 572h8M304 572h8M248 580h8M304 580h8M256 588h8M296 588h8M264 596h32"/>
<path stroke="#20a4e3" d="M96 4h8M104 20h8M536 20h112M104 28h8M512 28h32M640 28h32M104 36h8M512 36h24M648 36h24M104 44h8M520 44h32M632 44h32M112 52h8M552 52h80M112 60h8M120 68h8M120 76h8M128 84h8M128 92h8M136 100h8M136 108h8M792 108h8M344 116h112M792 116h16M144 124h8M320 124h152M792 124h16M144 132h8M312 132h56M432 132h48M792 132h16M144 140h8M304 140h64M424 140h56M792 140h16M144 148h8M304 148h160M792 148h16M312 156h128M792 156h16M144 188h8M264 188h48M144 196h8M248 196h72M144 204h8M240 204h24M304 204h24M232 212h16M320 212h16M136 220h8M224 220h16M328 220h16M216 228h16M336 228h8M128 236h8M216 236h8M336 236h16M128 244h8M208 244h16M344 244h8M128 252h8M208 252h8M344 252h16M128 260h8M208 260h8M344 260h16M136 268h8M208 268h8M344 268h16M128 276h8M208 276h8M344 276h16M128 284h8M208 284h8M344 284h16M208 292h8M344 292h16M128 300h8M208 300h16M344 300h8M136 308h8M216 308h16M336 308h16M136 316h8M224 316h8M336 316h16M136 324h8M232 324h16M336 324h8M136 332h8M240 332h24M336 332h8M128 340h8M248 340h40M336 340h8M120 348h8M280 348h16M120 356h8M288 356h8M432 356h80M128 364h8M296 364h8M336 364h8M400 364h56M488 364h48M128 372h8M336 372h8M384 372h32M528 372h24M136 380h8M312 380h24M368 380h32M544 380h24M144 388h8M360 388h32M552 388h24M352 396h24M568 396h16M152 404h8M352 404h16M576 404h16M152 412h8M344 412h24M576 412h24M344 420h16M584 420h16M152 428h8M344 428h16M584 428h16M152 436h8M336 436h24M592 436h16M152 444h8M336 444h16M592 444h16M144 452h8M336 452h16M592 452h16M336 460h24M592 460h16M136 468h8M344 468h16M592 468h16M136 476h8M344 476h16M584 476h16M344 484h24M584 484h16M352 492h16M576 492h16M360 500h16M568 500h24M368 508h16M560 508h24M376 516h24M552 516h24M264 524h8M384 524h24M536 524h24M256 532h8M400 532h32M512 532h40M248 540h8M416 540h112M248 548h8M456 548h40M312 556h8M240 564h8M312 564h8M240 572h8M312 572h8M312 580h8M248 588h8M304 588h8M256 596h8M296 596h16M264 604h32"/>
<path stroke="#1ea7e1" d="M96 12h8M96 20h8M96 28h8M544 28h96M96 36h8M536 36h40M608 36h40M552 44h80M104 52h8M104 60h8M112 68h8M120 84h8M128 100h8M136 116h8M136 124h8M368 132h64M368 140h56M144 156h8M144 164h8M144 172h8M144 180h8M136 204h8M264 204h40M136 212h8M248 212h24M296 212h24M128 220h8M240 220h16M312 220h16M128 228h8M232 228h8M320 228h16M120 236h8M224 236h8M328 236h8M120 244h8M224 244h8M336 244h8M120 252h8M216 252h8M336 252h8M216 260h8M336 260h8M128 268h8M216 268h8M336 268h8M216 276h8M336 276h8M120 284h8M216 284h8M336 284h8M120 292h8M216 292h16M336 292h8M120 300h8M224 300h8M328 300h16M128 308h8M232 308h8M328 308h8M128 316h8M232 316h16M320 316h16M128 324h8M248 324h16M328 324h8M128 332h8M264 332h32M328 332h8M120 340h8M288 340h8M296 348h8M336 348h8M296 356h8M336 356h8M120 364h8M456 364h32M304 372h8M328 372h8M416 372h112M128 380h8M400 380h32M512 380h32M136 388h8M392 388h24M528 388h24M144 396h8M376 396h24M544 396h24M144 404h8M368 404h24M552 404h24M368 412h16M560 412h16M152 420h8M360 420h16M568 420h16M360 428h16M568 428h16M360 436h16M576 436h16M144 444h8M352 444h16M576 444h16M352 452h16M576 452h16M136 460h8M360 460h8M576 460h16M128 468h8M360 468h16M576 468h16M360 476h16M568 476h16M368 484h16M568 484h16M368 492h16M560 492h16M112 500h8M376 500h16M552 500h16M104 508h16M384 508h24M536 508h24M400 516h24M520 516h32M256 524h8M408 524h40M496 524h40M248 532h8M432 532h80M240 540h8M240 548h8M240 556h8M320 564h8M320 572h8M240 580h8M240 588h8M312 588h8M248 596h8M312 596h8M256 604h8M296 604h16M264 612h32"/>
<path stroke="#1caadf" d="M88 4h8M88 12h8M88 20h8M88 28h8M576 36h32M96 44h8M96 52h8M104 68h8M112 76h8M120 92h8M128 108h8M136 132h8M136 140h8M136 148h8M136 196h8M272 212h24M256 220h56M120 228h8M240 228h16M304 228h16M112 236h8M232 236h16M312 236h16M112 244h8M232 244h8M320 244h16M224 252h16M328 252h8M120 260h8M224 260h8M328 260h8M120 268h8M224 268h8M328 268h8M120 276h8M224 276h8M328 276h8M224 284h16M328 284h8M112 292h8M232 292h8M320 292h16M232 300h16M320 300h8M120 308h8M240 308h16M312 308h16M248 316h32M296 316h24M264 324h64M120 332h8M296 332h16M320 332h8M296 340h8M328 340h8M112 348h8M328 348h8M112 356h8M112 364h8M304 364h8M328 364h8M120 372h8M312 372h16M120 380h8M432 380h80M128 388h8M416 388h32M496 388h32M136 396h8M400 396h24M520 396h24M392 404h16M536 404h16M144 412h8M384 412h16M544 412h16M144 420h8M376 420h16M552 420h16M144 428h8M376 428h16M560 428h8M144 436h8M376 436h8M560 436h16M136 444h8M368 444h16M560 444h16M136 452h8M368 452h16M560 452h16M128 460h8M368 460h16M560 460h16M376 468h16M560 468h16M376 476h16M552 476h16M384 484h16M552 484h16M384 492h24M544 492h16M96 500h16M120 500h8M392 500h24M528 500h24M96 508h8M120 508h8M408 508h24M512 508h24M96 516h24M424 516h96M248 524h8M448 524h48M240 532h8M232 540h8M232 548h8M232 556h8M232 564h8M232 572h8M232 580h8M320 580h8M232 588h8M320 588h8M240 596h8M240 604h16M312 604h8M248 612h16M296 612h16M264 620h32"/>
<path stroke="#19addc" d="M80 4h8M80 12h8M88 36h8M88 44h8M96 60h8M104 76h8M112 84h8M120 100h8M128 116h8M128 124h8M136 156h8M136 164h8M136 172h8M136 180h8M136 188h8M128 204h8M128 212h8M120 220h8M112 228h8M256 228h48M248 236h16M296 236h16M240 244h16M312 244h8M112 252h8M240 252h8M312 252h16M112 260h8M232 260h16M320 260h8M232 268h16M320 268h8M112 276h8M232 276h16M320 276h8M112 284h8M240 284h8M312 284h16M240 292h16M312 292h8M112 300h8M248 300h16M304 300h16M256 308h56M120 316h8M280 316h16M120 324h8M312 332h8M112 340h8M304 340h8M320 340h8M104 348h8M304 348h8M104 356h8M304 356h8M328 356h8M312 364h16M112 372h8M448 388h48M424 396h96M136 404h8M408 404h24M512 404h24M136 412h8M400 412h24M528 412h16M392 420h16M536 420h16M136 428h8M392 428h16M544 428h16M136 436h8M384 436h16M544 436h16M384 444h16M544 444h16M128 452h8M384 452h16M544 452h16M120 460h8M384 460h16M544 460h16M120 468h8M392 468h8M544 468h16M392 476h16M536 476h16M400 484h16M528 484h24M96 492h40M408 492h16M520 492h24M88 500h8M128 500h8M416 500h32M504 500h24M88 508h8M128 508h8M432 508h80M88 516h8M120 516h8M240 516h8M96 524h24M232 524h16M232 532h8M224 548h8M224 556h8M224 564h8M328 564h8M224 572h8M328 572h8M224 580h8M328 580h8M224 588h8M328 588h8M232 596h8M320 596h8M232 604h8M320 604h8M240 612h8M312 612h8M248 620h16M296 620h16M264 628h40"/>
<path stroke="#15afd9" d="M80 20h8M80 28h8M80 36h8M88 52h8M88 60h8M96 68h8M104 84h8M112 92h8M120 108h8M128 132h8M128 140h8M128 196h8M104 236h8M264 236h32M104 244h8M256 244h24M288 244h24M104 252h8M248 252h16M296 252h16M248 260h8M304 260h16M112 268h8M248 268h8M304 268h16M248 276h8M304 276h16M104 284h8M248 284h16M304 284h8M104 292h8M256 292h16M288 292h24M104 300h8M264 300h40M112 308h8M112 316h8M112 324h8M112 332h8M104 340h8M312 340h8M312 348h16M312 356h16M104 364h8M112 380h8M120 388h8M128 396h8M128 404h8M432 404h80M424 412h24M496 412h32M136 420h8M408 420h24M512 420h24M408 428h16M520 428h24M400 436h16M528 436h16M128 444h8M400 444h16M528 444h16M400 452h16M528 452h16M400 460h16M528 460h16M400 468h24M528 468h16M408 476h16M520 476h16M96 484h40M416 484h24M504 484h24M80 492h16M136 492h8M424 492h40M480 492h40M80 500h8M136 500h8M448 500h56M80 508h8M80 516h8M232 516h8M80 524h16M96 532h16M224 532h8M216 540h16M216 548h8M216 556h8M216 564h8M216 572h8M336 572h8M216 580h8M336 580h8M216 588h8M336 588h8M224 596h8M328 596h16M224 604h8M328 604h8M232 612h8M320 612h16M232 620h16M312 620h16M240 628h24M304 628h16M256 636h48"/>
<path stroke="#10b2d5" d="M72 4h8M72 12h8M72 20h8M72 28h8M80 44h8M80 52h8M88 68h8M96 76h8M104 92h8M112 100h8M120 116h8M128 148h8M128 156h8M128 164h8M128 172h8M128 180h8M128 188h8M120 212h8M112 220h8M104 228h8M96 236h8M96 244h8M280 244h8M264 252h32M104 260h8M256 260h48M256 268h48M104 276h8M256 276h48M264 284h40M96 292h8M272 292h16M104 308h8M104 332h8M96 348h8M96 356h8M104 372h8M120 396h8M128 412h8M448 412h48M128 420h8M432 420h80M128 428h8M424 428h24M496 428h24M128 436h8M416 436h24M504 436h24M416 444h16M512 444h16M120 452h8M416 452h16M512 452h16M112 460h8M416 460h24M512 460h16M112 468h8M424 468h16M504 468h24M88 476h48M424 476h32M488 476h32M80 484h16M136 484h16M440 484h64M72 492h8M144 492h8M464 492h16M64 500h16M144 500h8M64 508h16M136 508h8M64 516h16M128 516h8M72 524h8M120 524h8M80 532h16M112 532h8M96 540h16M208 548h8M208 556h8M208 564h8M208 572h8M344 572h16M208 580h8M344 580h16M208 588h8M344 588h8M208 596h16M344 596h8M208 604h16M336 604h16M216 612h16M336 612h8M224 620h8M328 620h16M224 628h16M320 628h16M232 636h24M304 636h24M240 644h80M264 652h40"/>
<path stroke="#09b4d1" d="M64 4h8M64 12h8M72 36h8M72 44h8M72 52h8M80 60h8M80 68h8M88 76h8M96 84h8M112 108h8M120 124h8M120 132h8M120 204h8M96 228h8M88 236h8M88 244h8M96 252h8M104 268h8M96 284h8M96 300h8M104 316h8M104 324h8M96 340h8M88 348h8M88 356h8M96 364h8M96 372h8M104 380h8M112 388h8M120 404h8M120 412h8M120 428h8M448 428h48M120 436h8M440 436h64M120 444h8M432 444h80M112 452h8M432 452h80M88 460h16M440 460h72M72 468h40M440 468h64M56 476h32M456 476h32M56 484h24M48 492h24M152 492h32M48 500h16M152 500h32M48 508h16M144 508h24M48 516h16M48 524h24M184 524h8M56 532h24M120 532h8M184 532h8M64 540h32M112 540h8M184 540h16M72 548h48M184 548h24M96 556h16M184 556h24M176 564h32M176 572h32M176 580h32M184 588h24M352 588h16M184 596h24M352 596h24M184 604h24M352 604h24M184 612h32M344 612h32M192 620h32M344 620h24M192 628h32M336 628h32M200 636h32M328 636h32M208 644h32M320 644h40M208 652h56M304 652h48M216 660h128M232 668h104M240 676h80M272 684h24"/>
<path stroke="#04b6cd" d="M64 20h8M64 28h8M64 36h8M64 44h8M72 60h8M80 76h8M88 84h8M96 92h8M104 100h8M112 116h8M120 140h8M120 196h8M112 212h8M104 220h8M80 236h8M88 252h8M96 260h8M96 268h8M96 276h8M88 284h8M88 292h8M88 300h8M96 308h8M96 316h8M96 324h8M96 332h8M88 340h8M88 364h8M96 380h8M104 388h8M112 396h8M112 404h8M120 420h8M112 436h8M16 444h24M112 444h8M16 452h24M80 452h16M8 460h40M64 460h24M104 460h8M0 468h72M0 476h56M0 484h56M176 484h8M0 492h48M184 492h8M0 500h48M0 508h48M0 516h48M136 516h8M168 516h16M0 524h48M128 524h8M168 524h16M0 532h56M176 532h8M0 540h64M120 540h8M176 540h8M0 548h72M120 548h8M168 548h16M0 556h96M112 556h24M160 556h24M0 564h176M0 572h176M0 580h176M0 588h184M0 596h184M0 604h184M0 612h184M376 612h8M408 612h24M0 620h192M368 620h24M408 620h32M560 620h40M0 628h192M368 628h72M488 628h40M552 628h64M0 636h200M360 636h88M480 636h144M0 644h208M360 644h88M480 644h152M0 652h208M352 652h296M0 660h216M344 660h336M0 668h232M336 668h328M0 676h240M320 676h344M0 684h272M296 684h360M0 692h656"/>
<path stroke="#01b8c9" d="M16 4h8M56 4h8M16 12h8M56 12h8M16 20h8M56 20h8M16 28h8M56 28h8M16 36h8M56 36h8M16 44h8M56 44h8M16 52h8M64 52h8M16 60h8M64 60h8M16 68h8M72 68h8M16 76h8M16 84h8M80 84h8M16 92h8M88 92h8M16 100h8M96 100h8M104 108h8M112 124h8M120 148h8M120 156h8M120 164h8M120 180h8M120 188h8M112 204h8M80 228h16M72 236h8M80 244h8M24 252h8M88 260h8M40 276h8M88 276h8M40 284h8M40 292h8M80 292h8M48 308h8M88 308h8M56 316h8M88 316h8M56 324h8M88 324h8M88 332h8M48 340h8M80 340h8M80 348h8M80 356h8M48 364h8M80 364h8M88 372h8M56 380h8M88 380h8M64 388h8M96 388h8M104 396h8M72 404h8M104 404h8M112 412h8M112 420h8M112 428h8M72 436h8M104 436h8M72 444h8M104 444h8M104 452h8M144 516h24M168 532h8M168 540h8M128 548h8M160 548h8M136 556h24"/>
<path stroke="#02bac4" d="M24 4h32M24 12h32M24 20h32M24 28h32M24 36h32M24 44h16M48 44h8M24 52h8M48 52h16M24 60h8M56 60h8M24 68h8M64 68h8M24 76h8M64 76h16M24 84h8M72 84h8M16 108h8M16 116h8M104 116h8M16 124h8M16 132h8M112 132h8M16 140h8M120 172h8M104 212h8M16 220h8M96 220h8M8 228h8M72 228h8M8 236h16M56 236h16M16 244h8M72 244h8M80 252h8M88 268h8M80 276h8M48 284h8M80 284h8M48 292h8M72 292h8M48 300h16M72 300h16M56 308h8M80 308h8M64 316h24M64 324h24M56 332h32M56 340h24M48 348h32M48 356h32M56 364h24M56 372h32M64 380h24M72 388h24M72 396h32M80 404h24M80 412h32M80 420h32M80 428h32M80 436h24M80 444h24M72 452h8M96 452h8M160 524h8M128 532h8M128 540h8M160 540h8M136 548h8M152 548h8"/>
<path stroke="#06bcc0" d="M40 44h8M32 52h16M32 60h24M32 68h32M32 76h32M32 84h8M64 84h8M24 92h8M80 92h8M24 100h8M88 100h8M24 108h8M96 108h8M24 116h8M24 124h8M104 124h8M24 132h8M112 140h8M24 148h8M24 156h8M24 164h8M24 172h8M112 196h8M24 204h8M24 212h8M24 220h8M88 220h8M16 228h56M24 236h32M24 244h16M56 244h16M32 252h16M72 252h8M40 260h8M80 260h8M48 268h8M80 268h8M48 276h32M56 284h24M56 292h16M64 300h8M64 308h16M136 524h8M160 532h8M144 548h8"/>
<path stroke="#0dbdbb" d="M40 84h24M32 92h48M32 100h8M80 100h8M32 108h8M88 108h8M32 116h8M96 116h8M0 132h8M0 140h16M24 140h8M0 148h8M112 148h8M112 156h8M32 188h8M112 188h8M32 196h8M32 204h8M104 204h8M32 212h8M96 212h8M32 220h8M80 220h8M40 244h16M48 252h24M48 260h32M56 268h24M40 316h16M40 324h16M0 332h8M40 332h16M0 340h16M32 340h16M0 348h48M0 356h48M0 364h48M0 372h56M0 380h56M0 388h64M0 396h72M0 404h72M0 412h80M0 420h80M0 428h80M0 436h72M0 444h16M40 444h32M0 452h16M40 452h32M0 460h8M48 460h16M144 524h16M136 540h8M152 540h8"/>
<path stroke="#16bfb7" d="M40 100h40M40 108h8M80 108h8M40 116h8M32 124h8M32 132h8M104 132h8M32 140h8M8 148h16M32 148h8M0 156h16M32 156h8M0 164h8M32 164h8M112 164h8M0 172h8M32 172h8M112 172h8M32 180h8M112 180h8M40 212h8M40 220h40M40 300h8M0 308h8M40 308h8M0 316h8M32 316h8M0 324h16M32 324h8M8 332h32M16 340h16M136 532h8M152 532h8M144 540h8"/>
<path stroke="#1ec0b2" d="M48 108h32M48 116h8M88 116h8M40 124h8M96 124h8M40 132h8M104 140h8M16 156h8M8 164h8M0 180h8M0 188h8M40 188h8M40 196h8M104 196h8M40 204h8M96 204h8M48 212h8M88 212h8M40 268h8M0 292h8M0 300h8M32 308h8M8 316h8M24 316h8M16 324h16M144 532h8"/>
<path stroke="#25c2ad" d="M56 116h32M48 124h8M88 124h8M48 132h8M96 132h8M40 140h8M40 148h8M104 148h8M40 156h8M104 156h8M16 164h8M40 164h8M8 172h8M40 172h8M8 180h8M40 180h8M104 188h8M0 196h8M0 204h8M48 204h8M56 212h32M0 276h8M0 284h8M32 292h8M8 300h8M32 300h8M8 308h8M24 308h8M16 316h8"/>
<path stroke="#2ac3a8" d="M56 124h32M56 132h8M88 132h8M48 140h8M96 140h8M48 148h8M104 164h8M16 172h8M104 172h8M24 180h8M104 180h8M8 188h8M48 188h8M48 196h8M96 196h8M56 204h8M88 204h8M0 212h8M0 220h8M0 228h8M0 236h8M0 244h8M0 252h8M0 260h8M0 268h8M32 284h8M8 292h8M24 300h8M16 308h8"/>
<path stroke="#2fc5a3" d="M64 132h24M56 140h8M88 140h8M96 148h8M48 156h8M48 164h8M48 172h8M16 180h8M48 180h8M24 188h8M8 196h8M56 196h8M64 204h24M32 268h8M32 276h8M8 284h8M24 292h8M16 300h8"/>
<path stroke="#32c69e" d="M64 140h24M56 148h8M88 148h8M56 156h8M96 156h8M96 164h8M96 172h8M96 180h8M16 188h8M56 188h8M96 188h8M24 196h8M88 196h8M8 204h8M32 260h8M8 276h8M24 284h8M16 292h8"/>
<path stroke="#36c899" d="M64 148h24M64 156h8M88 156h8M56 164h8M56 172h8M56 180h8M88 188h8M16 196h8M64 196h24M8 212h8M8 260h8M8 268h8M24 276h8M16 284h8"/>
<path stroke="#3bc993" d="M72 156h16M64 164h8M88 164h8M64 172h8M88 172h8M64 180h8M88 180h8M64 188h24M16 204h8M8 220h8M8 244h8M8 252h8M24 268h8M16 276h8"/>
<path stroke="#41ca8d" d="M72 164h16M72 172h16M72 180h16M16 212h8M24 260h8M16 268h8"/>
<path stroke="#48cb86" d="M16 252h8M16 260h8"/>
</g>
<g fill="#fff">
<polygon points="-16.4,-18.5 563,-18.5 567.7,2.9 534.2,12.5 500.7,14.9 491.1,43.5 467.2,53 452.8,50.7 424.1,74.5 414.5,81.7 405,69.8 376.2,66.4 357.1,60.2 349.9,43.5 345.1,22 328.3,15.8 280.5,20.6 251.7,29.2 223,41.1 199.1,50.7 184.7,67.4 175.1,76.9 151.2,86.5 112.9,91.2 65,105.5 50.6,124.6 41.1,148.5 21.9,153.3 12.3,172.4 -2,181.9 -16.4,181.9"/>
<polygon points="721,0.5 749.7,0.5 747.3,14.9 735.3,22 723.4,17.3"/>
<polygon points="163.2,177.1 170.3,167.6 182.3,170 180.9,201 172.7,205.8 163.2,196.2"/>
<polygon points="270.9,131.8 276.6,131.8 276.6,146.1 270.9,146.1"/>
<polygon points="324.5,96 331.2,96 331.2,107.9 324.5,107.9"/>
<polygon points="594.1,128.5 600.3,128.5 600.3,141.3 594.1,141.3"/>
<polygon points="41.1,162.8 53,155.7 67.4,158.1 65,177.1 50.6,181.9 41.1,184.3"/>
<polygon points="600.3,79.3 615.6,79.3 615.6,86.5 600.3,86.5"/>
<polygon points="725.8,100.8 735.3,98.4 735.3,115.1 725.8,115.1"/>
<polygon points="24.3,286.9 30.5,286.9 30.5,303.6 24.3,303.6"/>
<polygon points="567.7,236.8 578.3,233.5 579.7,251.1 567.7,253.5"/>
<polygon points="440.9,521.7 452.8,521.7 452.8,530.3 440.9,530.3"/>
<polygon points="553.4,391.9 565.4,384.8 567.7,401.5 558.2,411 551,406.2"/>
<polygon points="606,248.7 620.4,224.9 634.8,210.6 663.5,201 682.7,205.8 701.8,196.2 721,179.5 740.1,165.2 754.5,158.1 764.1,181.9 768.8,215.3 759.3,248.7 744.9,263.1 725.8,272.6 711.4,277.4 692.2,282.1 682.7,294.1 653.9,291.7 634.8,277.4 615.6,267.8"/>
<polygon points="759.3,155.7 802.4,148.5 807.1,181.9 778.4,191.5 766.4,181.9"/>
<polygon points="802.4,220.1 831.1,215.3 831.1,239.2 802.4,239.2"/>
<polygon points="524.7,358.5 527,337 553.4,320.3 565.4,313.2 584.5,321.3 598.9,328.9 615.6,335.6 630,353.7 634.8,368.1 663.5,358.5 687.4,346.6 706.6,329.9 725.8,315.6 754.5,320.3 768.8,306 802.4,296.5 835.9,286.9 835.9,706.9 467.2,706.9 472,625.8 491.1,616.2 510.3,601.9 515.1,578.1 524.7,554.2 543.8,535.1 558.2,516 560.6,496.9 548.6,477.8 536.6,463.5 539,444.4 558.2,432.5 579.7,420.6 581.2,372.8 579.7,356.1 558.2,359.5 534.2,360.9"/>
<polygon points="26.7,544.7 36.3,537.5 53,539.9 57.8,559 50.6,582.8 38.7,592.4 26.7,587.6 21.9,563.7"/>
<polygon points="72.2,582.8 84.2,570.9 96.1,575.7 93.7,606.7 81.8,606.7 72.2,601.9"/>
<polygon points="31.5,606.7 45.8,597.2 53,611.5 45.8,628.2 31.5,628.2"/>
<polygon points="160.8,582.8 170.3,575.7 182.3,587.6 199.1,594.8 199.1,621 184.7,630.6 170.3,635.3 167.9,664 151.2,668.7 136.8,666.4 129.6,644.9 129.6,625.8 146.4,611.5 158.4,604.3"/>
<polygon points="294.8,599.5 304.4,594.8 314,597.2 314.9,625.8 304.4,630.6 294.8,625.8"/>
<polygon points="199.1,706.9 208.6,673.5 223,654.4 237.4,640.1 246.9,652 261.3,659.2 263.7,678.3 254.1,706.9"/>
<polygon points="347.5,706.9 357.1,678.3 376.2,659.2 390.6,640.1 400.2,628.2 426.5,621 433.7,635.3 414.5,640.1 405,659.2 409.7,673.5 424.1,678.3 438.5,668.7 452.8,654.4 472,659.2 472,706.9"/>
<polygon points="345.1,635.3 357.1,635.3 357.1,647.3 345.1,647.3"/>
</g>
<polygon fill="#01b9c6" points="797.6,465.9 819.1,465.9 819.1,487.4 797.6,487.4"/>
<polygon fill="#01b9c6" points="721,477.8 754.5,475.4 756.9,485 725.8,487.4"/>
<polygon fill="#01b9c6" points="682.7,449.2 697,437.3 697,451.6 685.1,461.1"/>
<polygon fill="#01b9c6" points="405,654.4 424.1,649.7 440.9,659.2 438.5,668.7 414.5,668.7"/>
<g fill="none" stroke="#000" stroke-width="10" stroke-linejoin="round" stroke-linecap="round">
<polyline points="51.5,107.3 66,101.3 90.3,92.8 114.6,86.7 138.9,80.7 163.2,74.6 175.3,68.6 185,54.1 194.8,46.8 211.8,43.2 226.3,35.9 240.9,27.5 260.3,22.6 284.6,19 308.9,15.4 333.2,14.9 337.9,18.8 343.4,27.1 349,34 353.1,46.5 357.3,56.2 364.2,64.4 375.3,70.7 390.6,72.7 407.3,73.4 418.4,77.6 432.2,71.4 446.1,60.3 455.8,47.9 460.7,34 462.1,18.8 460,6.4 463.5,-0.2"/>
<polyline points="333.1,14 349,19.5 362.8,27.8 372.6,36.8 376.7,44.4 374.6,46.5"/>
<polyline points="463.5,1.1 473.9,1.1 487.7,1.6 501.6,2.5 515.5,3.6 529.4,6.7 543.3,10.1 557.1,8.5 569.6,4.3"/>
<polyline points="454.1,60.1 502.6,68.6 551.2,73.4 599.8,73.4 648.4,69.8 684.8,66.2 692.1,63.8"/>
<polyline points="684.8,2.1 694.5,17.8 684.8,32.3 676.3,44.4 679.9,56.5 692.1,63.8"/>
<polyline points="692.1,63.8 711.5,75.9 730.9,86.7 743.1,95.2 741.9,112.1 743.1,117"/>
<polyline points="743.1,117 762.5,119.4 772.2,113.3 784.4,115.8 791.7,112.1 803.8,117 820.8,118.2"/>
<polyline points="743.1,117 750.4,141.2 755.2,160.5 762.5,179.9 772.2,199.2 774.7,216.2 775.9,233.1 772.2,252.4 757.7,262.1 738.2,267 726.1,279.1 718.8,296 718.8,305.7 740.7,315.3 755.2,329.9 751.6,341.7 747.9,356.3 743.1,368.4 747.9,382.9 755.2,397.4 752.8,411.9 764.9,424 774.7,438.5 781.9,453 786.8,462.7 779.5,470 786.8,482 790.4,496.6 781.9,506.2 764.9,508.7"/>
<polyline points="764.9,508.7 745.5,520.8 721.2,544.9 696.9,574 679.9,598.2 675.1,610.3 679.9,627.2 682.4,649 684.8,658.6"/>
<polyline points="745.5,373.2 764.9,373.2 779.5,380.4 794.1,370.8 806.2,361.1 811.1,351.4 820.8,345.4"/>
<polyline points="684.8,658.6 696.9,663.5 692.1,670.7"/>
<polyline points="679.9,658.6 662.9,670.7 653.2,691.3"/>
<polyline points="679.9,658.6 662.9,656.2 643.5,649 628.9,641.7 619.2,627.2 604.6,622.4 594.9,618.7 580.4,618.7 568.2,617.5 553.6,622.4 541.5,635.7 526.9,627.2 522.1,619.9 507.5,623.6 492.9,626 480.8,636.9 475.9,649 463.8,646.5 451.6,645.3 449.2,632 439.5,624.8 429.8,607.8 424.9,601.8 415.2,607.8 405.5,619.9"/>
<polyline points="406.1,619.9 391.5,624.8 384.2,612.7 374.5,595.7 359.9,583.6 355.1,569.1 333.2,561.9 313.8,552.2 301.6,559.5 291.9,552.2 282.2,540.1 291.9,532.8 289.5,523.2 277.3,525.6 260.3,520.8 240.9,511.1 223.9,508.7 228.8,513.5 233.6,528 221.5,535.3 209.3,547.4 202,542.5 192.3,528 180.2,515.9 170.5,508.7 180.2,501.4 189.9,491.7 182.6,483.3 168,484.5 153.5,484.5 138.9,476 119.5,470 102.5,462.7 95.2,448.2 83,445.8 73.3,457.9 58.7,462.7"/>
<polyline points="379.3,605.4 357.5,610.3 342.9,624.8 328.3,639.3 321.1,658.6 306.5,670.7 289.5,680.4 267.6,687.7 248.2,685.2 238.5,691.3"/>
<polyline points="58.7,462.7 47.8,460.3 41.7,448.2 32,440.9 19.9,443.3 17.4,453 7.7,462.7 -3.2,468.7"/>
<polyline points="73.3,691.3 75.7,670.7 90.3,673.2 109.7,678 129.2,685.2 151,691.3"/>
<polyline points="19.9,141.2 24.7,160.5 29.6,179.9 32,192 24.7,204.1 19.9,216.2 7.7,225.8 7.7,237.9 22.3,247.6 34.5,257.3 45.4,267 43,281.5 40.5,291.1 49,303.2 56.3,315.3 55.1,329.9 49,341.9 41.7,351.4 49,365.9 56.3,380.4 68.5,392.5 75.7,407.1 78.2,421.6 74.5,438.5 68.5,453 58.7,462.7"/>
<polyline points="196,690.1 197.2,690.1"/>
</g><g fill="#000" stroke="#000" stroke-width="3" stroke-linejoin="round">
<polygon points="-6.7,108.5 1.1,98.5 8.1,105.9 15.9,112.8 25.4,114.1 33.2,111.1 43.6,105.9 63.6,99.8 65.3,107.6 60.1,119.7 54.1,126.6 48.9,137 48,143 52.3,149.1 52.3,154.3 47.1,161.2 41.9,162 36.7,154.3 31.5,149.1 28.9,156 31.5,166.3 34.1,171.5 22.8,171.5 18.5,157.7 15,147.3 5.5,144.7 -3.2,142.2 -5.8,131.8 -4.1,119.7"/>
<polygon points="464.2,29.2 487.7,29.5 501.6,31 502.3,34 487.7,42.1 473.9,50.3 460,58.6 454.4,57.3 458.6,46.5 462.1,35.4"/>
<polygon points="403.8,74.1 418.4,89.1 435,72.7"/>
</g><g fill="#ddd">
<polygon points="4.6,130.1 13.7,130.1 13.7,133.9 4.6,133.9"/>
<polygon points="28.5,132.2 36.3,131.4 36.9,140 30.2,142.3 27,137"/>
</g>
</g></g>
<rect x="1369.0" y="749.0" width="819.3" height="691.3" fill="none" stroke="#b0b0b0" stroke-width="3"/>
<path d="M1525.1 749.0v7M1525.1 1440.3v-7M1681.1 749.0v7M1681.1 1440.3v-7M1837.2 749.0v7M1837.2 1440.3v-7M1993.2 749.0v7M1993.2 1440.3v-7M2149.3 749.0v7M2149.3 1440.3v-7M1369.0 1418.0h7M2188.3 1418.0h-7M1369.0 1306.5h7M2188.3 1306.5h-7M1369.0 1195.0h7M2188.3 1195.0h-7M1369.0 1083.5h7M2188.3 1083.5h-7M1369.0 972.0h7M2188.3 972.0h-7M1369.0 860.5h7M2188.3 860.5h-7" stroke="#9a9a9a" stroke-width="2" fill="none"/>
<clipPath id="cG"><rect width="819.6" height="694.0"/></clipPath>
<g transform="translate(1369.0 1458.0)"><g clip-path="url(#cG)">
<g fill="none" stroke-width="8.6" shape-rendering="crispEdges">
<path stroke="#2798ea" d="M0 4h16M184 4h280M720 4h48M0 12h16M184 12h256M0 20h16M184 20h240M0 28h16M184 28h232M0 36h16M184 36h232M0 44h16M184 44h232M0 52h16M184 52h240M0 60h16M184 60h264M744 60h8M0 68h16M192 68h288M712 68h48M0 76h16M192 76h352M648 76h112M0 84h16M192 84h568M0 92h16M192 92h576M0 100h16M192 100h576M0 108h16M192 108h576M0 116h16M192 116h576M0 124h16M192 124h576M8 132h8M192 132h584M192 140h584M192 148h584M192 156h592M192 164h592M200 172h592M200 180h624M200 188h624M200 196h624M192 204h632M192 212h88M320 212h504M192 220h80M328 220h496M184 228h80M336 228h488M184 236h80M336 236h488M192 244h72M336 244h488M192 252h72M336 252h488M200 260h72M336 260h488M208 268h64M328 268h496M208 276h80M312 276h512M208 284h616M208 292h616M216 300h88M320 300h504M224 308h56M488 308h336M232 316h40M520 316h304M544 324h280M560 332h264M576 340h248M592 348h232M600 356h224M608 364h216M624 372h200M624 380h200M632 388h192M640 396h184M648 404h176M648 412h176M656 420h168M656 428h168M664 436h160M664 444h160M664 452h160M664 460h160M664 468h160M664 476h160M664 484h160M664 492h160M664 500h160M664 508h160M656 516h168M656 524h168M648 532h176M648 540h176M640 548h184M632 556h192M624 564h200M616 572h208M608 580h216M600 588h224M584 596h240M576 604h248M560 612h264M536 620h288M528 628h24M616 628h208M472 636h16M536 636h8M624 636h200M448 644h32M632 644h192M648 652h176M672 660h152M672 668h152M664 676h160M656 684h168M656 692h168"/>
<path stroke="#259be8" d="M160 4h24M464 4h80M640 4h80M768 4h16M160 12h24M440 12h56M696 12h80M160 20h24M424 20h48M712 20h64M160 28h24M416 28h48M728 28h40M168 36h16M416 36h40M728 36h40M168 44h16M416 44h48M720 44h48M168 52h16M424 52h56M704 52h64M168 60h16M448 60h64M680 60h64M752 60h16M168 68h24M480 68h232M760 68h16M168 76h24M544 76h104M760 76h16M168 84h24M760 84h16M168 92h24M768 92h8M168 100h24M768 100h8M168 108h24M768 108h8M176 116h16M768 116h16M176 124h16M768 124h16M176 132h16M776 132h8M176 140h16M776 140h16M176 148h16M776 148h24M176 156h16M784 156h40M176 164h16M784 164h40M176 172h24M792 172h32M176 180h24M184 188h16M184 196h16M176 204h16M176 212h16M280 212h40M176 220h16M272 220h8M320 220h8M168 228h16M264 228h16M328 228h8M168 236h16M264 236h8M328 236h8M176 244h16M264 244h8M328 244h8M176 252h16M264 252h8M328 252h8M184 260h16M272 260h8M320 260h16M184 268h24M272 268h24M304 268h24M184 276h24M288 276h24M184 284h24M184 292h24M184 300h32M304 300h16M192 308h32M280 308h208M200 316h32M272 316h16M336 316h184M200 324h80M344 324h200M200 332h40M352 332h208M192 340h40M368 340h8M472 340h104M184 348h40M504 348h88M184 356h40M528 356h72M192 364h32M544 364h64M200 372h24M560 372h64M200 380h32M568 380h56M216 388h24M576 388h56M232 396h16M584 396h56M592 404h56M600 412h48M600 420h56M608 428h48M608 436h56M616 444h48M616 452h48M616 460h48M616 468h48M616 476h48M616 484h48M616 492h48M616 500h48M608 508h56M608 516h48M600 524h56M216 532h16M600 532h48M592 540h56M584 548h56M576 556h56M568 564h56M552 572h64M536 580h72M520 588h80M496 596h88M376 604h16M456 604h120M384 612h32M432 612h128M384 620h24M432 620h104M440 628h56M448 636h24"/>
<path stroke="#249ee6" d="M144 4h16M544 4h96M784 4h8M152 12h8M496 12h48M648 12h48M776 12h8M152 20h8M472 20h32M680 20h32M776 20h8M152 28h8M464 28h24M696 28h32M768 28h8M152 36h16M456 36h32M704 36h24M768 36h8M152 44h16M464 44h32M696 44h24M768 44h8M152 52h16M480 52h32M672 52h32M768 52h8M152 60h16M512 60h168M768 60h8M160 68h8M160 76h8M160 84h8M776 84h8M160 92h8M776 92h8M160 100h8M776 100h8M160 108h8M776 108h8M160 116h16M784 116h8M168 124h8M784 124h8M168 132h8M784 132h16M168 140h8M792 140h32M168 148h8M800 148h24M168 156h8M168 164h8M168 172h8M168 180h8M168 188h16M168 196h16M168 204h8M168 212h8M168 220h8M280 220h16M304 220h16M160 228h8M320 228h8M160 236h8M272 236h8M320 236h8M168 244h8M272 244h8M320 244h8M168 252h8M272 252h8M320 252h8M168 260h16M280 260h8M312 260h8M176 268h8M296 268h8M176 276h8M176 284h8M168 292h16M176 300h8M176 308h16M184 316h16M288 316h16M320 316h16M184 324h16M280 324h8M336 324h8M184 332h16M240 332h40M344 332h8M176 340h16M232 340h8M352 340h16M376 340h96M176 348h8M224 348h8M352 348h152M168 356h16M224 356h8M360 356h168M176 364h16M224 364h8M488 364h56M176 372h24M224 372h8M512 372h48M184 380h16M232 380h16M264 380h16M528 380h40M192 388h24M240 388h40M536 388h40M200 396h32M248 396h40M552 396h32M208 404h80M560 404h32M208 412h72M568 412h32M216 420h56M576 420h24M216 428h56M576 428h32M216 436h48M584 436h24M208 444h56M584 444h32M208 452h48M584 452h32M200 460h56M592 460h24M192 468h64M592 468h24M192 476h64M592 476h24M192 484h64M592 484h24M192 492h72M584 492h32M192 500h72M584 500h32M192 508h72M584 508h24M192 516h40M248 516h24M576 516h32M192 524h40M264 524h16M568 524h32M192 532h24M568 532h32M200 540h16M288 540h8M560 540h32M288 548h16M544 548h40M296 556h16M536 556h40M520 564h48M504 572h48M360 580h16M480 580h56M360 588h160M376 596h120M392 604h64"/>
<path stroke="#22a1e4" d="M136 4h8M792 4h8M816 4h8M136 12h16M544 12h104M784 12h8M144 20h8M504 20h32M648 20h32M784 20h8M144 28h8M488 28h24M672 28h24M776 28h8M144 36h8M488 36h24M672 36h32M776 36h8M144 44h8M496 44h24M664 44h32M776 44h8M144 52h8M512 52h48M632 52h40M776 52h8M144 60h8M776 60h8M152 68h8M776 68h8M152 76h8M776 76h8M152 84h8M152 92h8M152 100h8M784 100h8M152 108h8M784 108h8M792 116h8M160 124h8M792 124h8M816 124h8M160 132h8M800 132h24M160 140h8M160 148h8M160 156h8M160 164h8M160 172h8M160 204h8M160 212h8M160 220h8M296 220h8M280 228h8M312 228h8M280 236h8M160 244h8M280 244h8M160 252h8M280 252h8M312 252h8M288 260h24M168 268h8M168 276h8M168 284h8M160 292h8M168 300h8M168 308h8M168 316h16M304 316h16M168 324h16M288 324h8M328 324h8M168 332h16M336 332h8M168 340h8M264 340h16M344 340h8M160 348h16M344 348h8M160 356h8M344 356h16M160 364h16M352 364h136M168 372h8M232 372h8M272 372h8M352 372h56M440 372h72M168 380h16M248 380h16M280 380h8M352 380h16M480 380h48M176 388h16M280 388h16M504 388h32M184 396h16M288 396h24M520 396h32M192 404h16M288 404h24M528 404h32M192 412h16M280 412h32M536 412h32M200 420h16M272 420h32M544 420h32M200 428h16M272 428h24M552 428h24M192 436h24M264 436h24M560 436h24M192 444h16M264 444h24M560 444h24M192 452h16M256 452h32M568 452h16M184 460h16M256 460h24M568 460h24M176 468h16M256 468h24M568 468h24M176 476h16M256 476h24M568 476h24M176 484h16M256 484h24M568 484h24M264 492h24M568 492h16M184 500h8M264 500h24M560 500h24M176 508h16M264 508h32M560 508h24M176 516h16M272 516h24M552 516h24M184 524h8M280 524h24M544 524h24M288 532h24M536 532h32M296 540h24M528 540h32M304 548h32M512 548h32M320 556h32M496 556h40M336 564h40M480 564h40M352 572h152M120 580h32M376 580h104M120 588h32M120 596h32M128 604h24"/>
<path stroke="#20a4e3" d="M128 4h8M800 4h16M128 12h8M792 12h16M816 12h8M128 20h16M536 20h112M792 20h8M136 28h8M512 28h32M640 28h32M784 28h8M136 36h8M512 36h24M648 36h24M784 36h8M136 44h8M520 44h32M632 44h32M784 44h8M136 52h8M560 52h72M784 52h8M784 60h8M144 68h8M784 68h8M144 76h8M784 76h8M144 84h8M784 84h8M144 92h8M784 92h8M792 108h8M816 108h8M152 116h8M800 116h24M152 124h8M800 124h16M152 132h8M152 140h8M152 148h8M160 180h8M160 188h8M160 196h8M152 220h8M152 228h8M288 228h24M152 236h8M312 236h8M152 244h8M312 244h8M288 252h8M304 252h8M160 260h8M160 268h8M160 276h8M160 284h8M160 300h8M160 308h8M160 324h8M296 324h8M320 324h8M160 332h8M280 332h8M160 340h8M240 340h24M336 340h8M152 348h8M232 348h8M152 356h8M232 356h8M152 364h8M232 364h8M272 364h8M344 364h8M160 372h8M240 372h8M256 372h16M280 372h8M336 372h16M408 372h32M160 380h8M288 380h8M336 380h16M368 380h112M168 388h8M296 388h96M456 388h48M176 396h8M312 396h56M488 396h32M176 404h16M312 404h32M504 404h24M184 412h8M312 412h24M512 412h24M184 420h16M304 420h24M528 420h16M184 428h16M296 428h24M528 428h24M184 436h8M288 436h24M536 436h24M176 444h16M288 444h24M544 444h16M176 452h16M288 452h16M544 452h24M168 460h16M280 460h24M544 460h24M168 468h8M280 468h24M552 468h16M168 476h8M280 476h24M552 476h16M168 484h8M280 484h24M544 484h24M288 492h16M544 492h24M288 500h24M544 500h16M296 508h16M536 508h24M296 516h24M528 516h24M304 524h24M520 524h24M312 532h24M512 532h24M320 540h32M496 540h32M336 548h32M480 548h32M128 556h24M352 556h56M448 556h48M112 564h48M376 564h104M104 572h64M104 580h16M152 580h24M96 588h24M152 588h24M104 596h16M152 596h24M104 604h24M152 604h24M104 612h64M112 620h48M128 628h16"/>
<path stroke="#1ea7e1" d="M120 4h8M120 12h8M808 12h8M800 20h24M128 28h8M544 28h96M792 28h8M816 28h8M128 36h8M536 36h40M608 36h40M128 44h8M552 44h80M136 60h8M136 68h8M136 76h8M792 92h8M144 100h8M792 100h8M816 100h8M144 108h8M800 108h16M144 116h8M152 156h8M152 164h8M152 172h8M152 180h8M152 196h8M152 204h8M152 212h8M288 236h24M288 244h8M304 244h8M152 252h8M296 252h8M152 260h8M152 276h8M152 284h8M152 292h8M152 300h8M152 308h8M160 316h8M304 324h16M152 332h8M288 332h8M328 332h8M152 340h8M280 340h8M144 348h8M264 348h16M336 348h8M144 356h8M272 356h8M336 356h8M144 364h8M264 364h8M280 364h8M336 364h8M152 372h8M248 372h8M152 380h8M296 380h8M328 380h8M160 388h8M392 388h64M168 396h8M368 396h120M168 404h8M344 404h40M472 404h32M176 412h8M336 412h24M488 412h24M176 420h8M328 420h24M504 420h24M176 428h8M320 428h24M512 428h16M168 436h16M312 436h24M520 436h16M168 444h8M312 444h16M520 444h24M168 452h8M304 452h16M528 452h16M160 460h8M304 460h16M528 460h16M152 468h16M304 468h16M528 468h24M152 476h16M304 476h16M528 476h24M152 484h16M304 484h16M528 484h16M304 492h24M528 492h16M312 500h16M520 500h24M312 508h24M520 508h16M320 516h24M512 516h16M328 524h24M496 524h24M336 532h32M488 532h24M128 540h24M352 540h40M464 540h32M104 548h64M368 548h112M96 556h32M152 556h24M408 556h40M96 564h16M160 564h24M88 572h16M168 572h16M88 580h16M176 580h16M88 588h8M176 588h16M88 596h16M176 596h16M88 604h16M176 604h16M88 612h16M168 612h16M96 620h16M160 620h24M96 628h32M144 628h32M112 636h56"/>
<path stroke="#1caadf" d="M112 4h8M112 12h8M120 20h8M120 28h8M800 28h16M120 36h8M576 36h32M792 36h8M816 36h8M120 44h8M792 44h8M816 44h8M128 52h8M792 52h8M128 60h8M792 60h8M128 68h8M792 68h8M792 76h8M816 76h8M136 84h8M792 84h8M816 84h8M136 92h8M800 92h24M136 100h8M800 100h16M144 124h8M144 132h8M144 140h8M152 188h8M144 228h8M144 236h8M144 244h8M296 244h8M144 252h8M152 268h8M144 292h8M152 316h8M152 324h8M144 340h8M240 348h8M256 348h8M280 348h8M136 356h8M264 356h8M280 356h8M136 364h8M240 364h8M144 372h8M288 372h8M328 372h8M144 380h8M304 380h24M152 388h8M160 396h8M160 404h8M384 404h88M160 412h16M360 412h40M448 412h40M168 420h8M352 420h24M472 420h32M168 428h8M344 428h16M488 428h24M160 436h8M336 436h16M496 436h24M160 444h8M328 444h16M504 444h16M160 452h8M320 452h24M512 452h16M152 460h8M320 460h16M512 460h16M144 468h8M320 468h16M512 468h16M144 476h8M320 476h16M512 476h16M320 484h16M512 484h16M328 492h16M504 492h24M328 500h24M504 500h16M336 508h16M496 508h24M344 516h24M488 516h24M128 524h16M352 524h32M472 524h24M104 532h64M368 532h48M432 532h56M96 540h32M152 540h32M392 540h72M88 548h16M168 548h24M80 556h16M176 556h16M72 564h24M184 564h16M72 572h16M184 572h16M72 580h16M192 580h16M72 588h16M192 588h16M72 596h16M192 596h16M72 604h16M192 604h8M72 612h16M184 612h16M72 620h24M184 620h16M80 628h16M176 628h16M88 636h24M168 636h24M96 644h80M104 652h64"/>
<path stroke="#19addc" d="M104 4h8M104 12h8M112 20h8M112 28h8M112 36h8M800 36h16M800 44h16M120 52h8M800 52h24M120 60h8M800 60h8M816 60h8M800 68h24M128 76h8M800 76h16M128 84h8M800 84h16M136 108h8M136 116h8M144 148h8M144 156h8M144 164h8M144 204h8M144 212h8M144 220h8M144 260h8M144 276h8M144 284h8M144 300h8M144 308h8M144 316h8M144 324h8M144 332h8M296 332h8M320 332h8M136 340h8M328 340h8M136 348h8M248 348h8M128 356h8M240 356h8M248 364h16M328 364h8M136 372h8M136 380h8M144 388h8M152 396h8M152 404h8M152 412h8M400 412h48M160 420h8M376 420h96M152 428h16M360 428h32M456 428h32M152 436h8M352 436h24M472 436h24M152 444h8M344 444h24M480 444h24M144 452h16M344 452h16M488 452h24M144 460h8M336 460h24M488 460h24M136 468h8M336 468h24M496 468h16M136 476h8M336 476h24M496 476h16M336 484h24M488 484h24M344 492h16M488 492h16M352 500h16M480 500h24M112 508h48M352 508h32M472 508h24M96 516h80M368 516h32M448 516h40M80 524h48M144 524h40M384 524h88M72 532h32M168 532h24M416 532h16M64 540h32M184 540h16M64 548h24M192 548h24M56 556h24M192 556h24M56 564h16M200 564h16M56 572h16M200 572h24M48 580h24M208 580h16M48 588h24M208 588h16M48 596h24M208 596h16M48 604h24M200 604h24M56 612h16M200 612h24M56 620h16M200 620h16M56 628h24M192 628h24M64 636h24M192 636h16M72 644h24M176 644h32M72 652h32M168 652h32M88 660h104M96 668h80M120 676h32"/>
<path stroke="#15afd9" d="M96 4h8M96 12h8M96 20h16M104 28h8M104 36h8M112 44h8M112 52h8M808 60h8M120 68h8M120 76h8M128 92h8M128 100h8M136 124h8M136 132h8M144 172h8M144 180h8M144 188h8M144 196h8M136 228h8M136 236h8M136 244h8M144 268h8M136 292h8M136 300h8M136 324h8M136 332h8M304 332h16M288 340h8M128 348h8M328 348h8M248 356h16M328 356h8M128 364h8M288 364h8M128 372h8M296 372h8M320 372h8M128 380h8M136 388h8M144 396h8M144 404h8M144 412h8M144 420h16M144 428h8M392 428h64M144 436h8M376 436h96M144 444h8M368 444h32M448 444h32M136 452h8M360 452h32M464 452h24M136 460h8M360 460h24M472 460h16M128 468h8M360 468h16M472 468h24M104 476h32M360 476h16M472 476h24M80 484h72M360 484h24M464 484h24M72 492h120M360 492h32M464 492h24M56 500h128M368 500h40M448 500h32M48 508h64M160 508h16M384 508h88M40 516h56M400 516h48M40 524h40M232 524h8M32 532h40M232 532h8M32 540h32M216 540h32M24 548h40M216 548h32M24 556h32M216 556h40M24 564h32M216 564h40M16 572h40M224 572h32M16 580h32M224 580h32M16 588h32M224 588h32M16 596h32M224 596h32M16 604h32M224 604h32M16 612h40M224 612h32M24 620h32M216 620h40M24 628h32M216 628h32M24 636h40M208 636h40M32 644h40M208 644h40M32 652h40M200 652h40M40 660h48M192 660h40M48 668h48M176 668h56M56 676h64M152 676h72M64 684h152M72 692h128"/>
<path stroke="#10b2d5" d="M88 4h8M88 12h8M88 20h8M96 28h8M96 36h8M104 44h8M104 52h8M112 60h8M112 68h8M120 84h8M128 108h8M136 140h8M136 148h8M136 220h8M136 252h8M136 260h8M136 276h8M136 284h8M136 308h8M136 316h8M128 340h8M320 340h8M120 348h8M288 348h8M120 356h8M288 356h8M120 364h8M120 372h8M304 372h16M120 380h8M128 388h8M136 396h8M136 404h8M136 412h8M136 420h8M136 428h8M136 436h8M24 444h8M136 444h8M400 444h48M16 452h24M80 452h16M128 452h8M392 452h72M16 460h32M72 460h32M120 460h16M384 460h88M0 468h112M120 468h8M376 468h96M0 476h104M376 476h96M0 484h80M384 484h80M0 492h72M392 492h72M0 500h56M408 500h40M0 508h48M0 516h40M232 516h16M0 524h40M240 524h24M0 532h32M240 532h48M0 540h32M248 540h40M0 548h24M248 548h40M0 556h24M256 556h40M312 556h8M0 564h24M256 564h80M0 572h16M256 572h96M0 580h16M256 580h104M0 588h16M256 588h104M0 596h16M256 596h120M0 604h16M256 604h120M0 612h16M256 612h128M416 612h16M0 620h24M256 620h128M408 620h24M0 628h24M248 628h192M496 628h32M552 628h64M0 636h24M248 636h200M488 636h48M544 636h80M0 644h32M248 644h200M480 644h152M0 652h32M240 652h408M0 660h40M232 660h440M0 668h48M232 668h440M0 676h56M224 676h440M0 684h64M216 684h440M0 692h72M200 692h456"/>
<path stroke="#09b4d1" d="M16 4h8M72 4h16M16 12h8M72 12h16M16 20h8M80 20h8M16 28h8M80 28h16M16 36h8M88 36h8M16 44h8M88 44h16M16 52h8M96 52h8M16 60h8M104 60h8M16 68h8M104 68h8M16 76h8M112 76h8M16 84h8M16 92h8M120 92h8M16 100h8M120 100h8M16 108h8M16 116h8M128 116h8M128 124h8M136 156h8M136 164h8M136 172h8M136 204h8M136 212h8M136 268h8M128 292h8M128 300h8M128 308h8M128 324h8M128 332h8M120 340h8M296 340h8M112 348h8M112 356h8M112 364h8M296 364h8M320 364h8M112 372h8M112 380h8M120 388h8M120 396h16M128 404h8M128 412h8M128 420h8M128 428h8M128 436h8M120 444h16M120 452h8M112 460h8M112 468h8"/>
<path stroke="#04b6cd" d="M24 4h48M24 12h48M24 20h56M24 28h16M56 28h24M24 36h16M64 36h24M24 44h16M64 44h24M24 52h16M80 52h16M24 60h16M88 60h16M24 68h16M96 68h8M24 76h16M104 76h8M24 84h8M112 84h8M24 92h8M112 92h8M24 100h8M24 108h8M120 108h8M24 116h8M16 124h16M16 132h16M128 132h8M16 140h16M128 140h8M24 148h8M24 156h8M24 164h8M24 172h8M136 180h8M32 188h8M136 188h8M136 196h8M24 204h8M24 212h8M16 220h16M8 228h16M128 228h8M8 236h16M128 236h8M16 244h16M128 244h8M24 252h8M128 252h8M40 284h8M128 284h8M40 292h8M48 308h8M128 316h8M120 332h8M48 340h8M112 340h8M312 340h8M48 348h8M104 348h8M320 348h8M40 356h16M104 356h8M320 356h8M48 364h8M104 364h8M48 372h16M104 372h8M56 380h8M104 380h8M64 388h8M104 388h16M72 396h8M112 396h8M72 404h16M112 404h16M80 412h8M112 412h16M80 420h16M112 420h16M80 428h16M112 428h16M72 436h24M104 436h24M72 444h48M72 452h8M96 452h24M64 460h8M104 460h8"/>
<path stroke="#01b8c9" d="M40 28h16M40 36h24M40 44h24M40 52h40M40 60h48M40 68h56M40 76h24M96 76h8M32 84h24M104 84h8M32 92h24M32 100h16M112 100h8M32 108h16M32 116h16M120 116h8M32 124h16M120 124h8M32 132h16M32 140h16M32 148h8M128 148h8M32 156h8M128 156h8M32 164h8M32 172h8M32 180h8M32 196h8M32 204h8M32 212h8M32 220h8M128 220h8M24 228h24M24 236h24M32 244h16M32 252h16M40 260h8M128 260h8M48 268h8M128 268h8M48 276h8M128 276h8M48 284h8M48 292h8M120 292h8M48 300h8M120 300h8M56 308h8M120 308h8M56 316h8M120 316h8M56 324h8M120 324h8M56 332h8M112 332h8M56 340h16M104 340h8M304 340h8M56 348h16M96 348h8M296 348h8M56 356h48M296 356h8M56 364h48M304 364h16M64 372h40M64 380h40M72 388h32M80 396h32M88 404h24M88 412h24M96 420h16M96 428h16M96 436h8"/>
<path stroke="#02bac4" d="M64 76h32M56 84h48M56 92h16M104 92h8M48 100h24M48 108h16M112 108h8M48 116h16M48 124h8M48 132h8M120 132h8M48 140h8M40 148h16M40 156h8M40 164h8M128 164h8M40 172h8M128 172h8M40 180h8M40 188h8M40 196h8M40 204h8M128 204h8M40 212h8M128 212h8M40 220h16M48 228h8M48 236h8M120 236h8M48 244h8M120 244h8M48 252h8M48 260h8M56 284h8M120 284h8M56 292h8M56 300h8M64 308h8M64 316h8M64 324h8M112 324h8M64 332h16M104 332h8M72 340h32M72 348h24"/>
<path stroke="#06bcc0" d="M72 92h32M72 100h16M96 100h16M64 108h8M104 108h8M64 116h8M112 116h8M56 124h8M56 132h8M56 140h8M120 140h8M56 148h8M48 156h8M48 164h8M48 172h8M48 180h8M128 180h8M48 188h8M128 188h8M48 196h8M128 196h8M48 204h8M48 212h8M56 220h8M56 228h8M120 228h8M56 236h16M56 244h8M56 252h8M120 252h8M56 260h8M120 260h8M56 268h8M56 276h8M120 276h8M64 292h8M112 292h8M64 300h8M112 300h8M72 308h8M112 308h8M72 316h8M112 316h8M72 324h16M96 324h16M80 332h24M304 348h16M304 356h16"/>
<path stroke="#0dbdbb" d="M88 100h8M72 108h32M72 116h8M104 116h8M64 124h16M112 124h8M64 132h8M112 132h8M64 140h8M120 148h8M56 156h8M120 156h8M56 164h8M56 172h8M56 180h8M56 188h8M56 196h8M56 204h8M56 212h8M120 220h8M64 228h8M64 244h8M64 252h8M64 260h8M64 268h8M120 268h8M64 276h8M64 284h8M112 284h8M72 292h8M104 292h8M72 300h16M104 300h8M80 308h8M96 308h16M80 316h32M88 324h8"/>
<path stroke="#16bfb7" d="M80 116h24M80 124h8M104 124h8M72 132h8M72 140h8M112 140h8M64 148h8M64 156h8M64 164h8M120 164h8M120 172h8M120 204h8M64 212h8M120 212h8M64 220h8M72 228h8M112 228h8M72 236h8M112 236h8M72 244h8M112 244h8M112 252h8M72 276h8M112 276h8M72 284h8M104 284h8M80 292h24M88 300h16M88 308h8"/>
<path stroke="#1ec0b2" d="M88 124h16M0 132h8M80 132h8M104 132h8M0 140h16M0 148h24M72 148h8M112 148h8M0 156h24M0 164h24M0 172h24M64 172h8M0 180h32M64 180h8M120 180h8M0 188h32M64 188h8M120 188h8M0 196h32M64 196h8M120 196h8M0 204h24M64 204h8M0 212h24M0 220h16M72 220h8M112 220h8M0 228h8M80 228h8M0 236h8M80 236h8M104 236h8M0 244h16M80 244h8M104 244h8M0 252h24M72 252h8M0 260h40M72 260h8M112 260h8M0 268h48M72 268h8M112 268h8M0 276h48M80 276h8M104 276h8M0 284h40M80 284h24M0 292h40M0 300h48M0 308h48M0 316h56M0 324h56M0 332h56M0 340h48M0 348h48M0 356h40M0 364h48M0 372h48M0 380h56M0 388h64M0 396h72M0 404h72M0 412h80M0 420h80M0 428h80M0 436h72M0 444h24M32 444h40M0 452h16M40 452h32M0 460h16M48 460h16"/>
<path stroke="#25c2ad" d="M88 132h16M80 140h32M80 148h8M104 148h8M72 156h8M112 156h8M72 164h8M112 164h8M72 172h8M72 204h8M72 212h8M112 212h8M88 228h24M88 236h16M88 244h16M80 252h16M104 252h8M80 260h8M104 260h8M80 268h8M104 268h8M88 276h16"/>
<path stroke="#2ac3a8" d="M88 148h16M80 156h8M104 156h8M80 164h8M112 172h8M72 180h8M72 188h8M72 196h8M112 204h8M80 212h8M80 220h8M104 220h8M96 252h8M88 260h16M88 268h16"/>
<path stroke="#2fc5a3" d="M88 156h16M104 164h8M80 172h8M80 180h8M112 180h8M112 188h8M112 196h8M80 204h8M104 212h8M88 220h16"/>
<path stroke="#32c69e" d="M88 164h16M88 172h24M104 180h8M80 188h8M80 196h8M104 196h8M88 204h24M88 212h16"/>
<path stroke="#36c899" d="M88 180h16M88 188h24M88 196h16"/>
</g>
<g fill="#fff">
<polygon points="-16.4,-17.5 562.8,-17.5 567.6,3.9 534.1,13.5 476.7,11.1 469.5,27.8 455.1,49.3 424,74.1 414.4,81.7 404.9,70.8 376.1,67.4 357,61.2 349.8,44.5 345,21.6 328.3,14.9 280.4,19.7 251.7,27.8 223,39.7 199,49.3 184.7,63.6 175.1,75.5 151.1,85.1 112.9,94.6 65,106.5 45.8,125.6 21.9,130.4 7.5,135.2 -16.4,140"/>
<polygon points="718.4,1.5 742.3,1.5 742.3,18.3 730.4,23 718.4,20.6"/>
<polygon points="761.5,135.2 783,135.2 806.9,149.5 830.9,154.3 830.9,202 783,202 778.2,182.9 763.9,178.1 759.1,154.3"/>
<polygon points="649,182.9 663.3,175.8 687.3,163.8 711.2,156.7 728,154.3 730.4,163.8 711.2,173.4 687.3,180.5 663.3,192.5 649,194.8"/>
<polygon points="701.6,204.4 720.8,192.5 739.9,182.9 754.3,182.9 759.1,202 739.9,213.9 720.8,221.1 701.6,216.3"/>
<polygon points="615.5,213.9 629.8,197.2 634.6,202 629.8,221.1 617.9,223.5"/>
<polygon points="668.1,249.7 682.5,240.2 687.3,249.7 677.7,264.1 668.1,261.7"/>
<polygon points="637,271.2 646.6,271.2 646.6,280.8 637,280.8"/>
<polygon points="486.2,302.2 495.8,290.3 510.2,288.9 514,304.6 505.4,316.6 491,320.4"/>
<polygon points="550.9,342.8 560.4,323.7 572.4,321.3 572.4,345.2 562.8,354.7 550.9,354.7"/>
<polygon points="572.4,350 582,350 579.6,373.8 572.4,373.8"/>
<polygon points="558,373.8 565.2,373.8 565.2,390.5 558,390.5"/>
<polygon points="426.4,526.6 433.6,514.6 443.1,521.8 452.7,536.1 447.9,550.4 433.6,557.6 424,545.7"/>
<polygon points="182.3,614.9 191.8,614.9 191.8,641.1 182.3,643.5"/>
<polygon points="251.7,540.9 256.5,540.9 256.5,557.6 251.7,557.6"/>
<polygon points="110.5,440.6 115.2,440.6 115.2,462.1 110.5,462.1"/>
<polygon points="100.9,99.4 112.9,99.4 112.9,106.5 100.9,106.5"/>
<polygon points="383.3,77.9 400.1,77.9 400.1,85.1 383.3,85.1"/>
<polygon points="526.9,423.9 543.7,414.4 567.6,397.7 586.8,383.4 610.7,369.1 634.6,354.7 646.6,335.6 658.6,321.3 677.7,316.6 701.6,307 716,302.2 735.1,297.5 759.1,273.6 797.4,264.1 835.7,256.9 835.7,707.9 337.8,707.9 340.2,672.1 371.3,669.7 392.9,657.8 395.3,633.9 424,629.2 452.7,622 471.9,602.9 486.2,579.1 510.2,550.4 529.3,521.8 548.5,497.9 567.6,474.1 574.8,462.1 555.6,462.1 543.7,450.2 529.3,445.4"/>
<polygon points="72.2,707.9 79.3,674.5 103.3,679.3 112.9,707.9"/>
<polygon points="194.2,707.9 199,679.3 218.2,672.1 246.9,674.5 251.7,707.9"/>
<polygon points="347.4,607.7 357,598.2 364.2,612.5 352.2,622"/>
</g>
<polygon fill="#01b9c6" points="582,438.3 596.3,423.9 629.8,412 651.4,407.2 651.4,423.9 629.8,440.6 610.7,457.4 596.3,469.3 586.8,455"/>
<polygon fill="#01b9c6" points="735.1,450.2 749.5,443 778.2,435.9 802.2,423.9 835.7,419.2 835.7,457.4 787.8,462.1 763.9,474.1 744.7,464.5"/>
<polygon fill="#01b9c6" points="775.8,350 797.4,347.6 797.4,364.3 778.2,366.7"/>
<polygon fill="#01b9c6" points="665.7,428.7 684.9,421.6 684.9,428.7 668.1,435.9"/>
<polygon fill="#01b9c6" points="395.3,650.7 409.6,645.9 424,657.8 431.2,669.7 414.4,672.1 400.1,665"/>
<g fill="none" stroke="#000" stroke-width="10" stroke-linejoin="round" stroke-linecap="round">
<polyline points="51.5,107.7 66.1,101.6 90.3,93.1 114.6,87.1 138.9,81 163.2,74.9 175.4,68.9 185.1,54.3 194.8,47 211.8,43.4 226.4,36.1 241,27.6 260.4,22.7 284.7,19.1 309,15.4 333.3,15 338,18.9 343.5,27.2 349.1,34.2 353.3,46.7 357.4,56.4 364.4,64.7 375.5,70.9 390.7,73 407.4,73.7 418.5,77.9 432.4,71.6 446.3,60.5 456,48 460.9,34.2 462.2,18.9 460.2,6.4 463.6,-0.2"/>
<polyline points="333.3,14 349.1,19.6 363,27.9 372.7,36.9 376.9,44.6 374.8,46.7"/>
<polyline points="463.6,1.1 474,1.1 487.9,1.6 501.8,2.5 515.7,3.6 529.6,6.7 543.5,10.2 557.3,8.5 569.8,4.3"/>
<polyline points="454.2,60.4 502.8,68.9 551.4,73.7 600,73.7 648.6,70.1 685,66.4 692.3,64"/>
<polyline points="685,2.1 694.8,17.9 685,32.4 676.5,44.6 680.2,56.7 692.3,64"/>
<polyline points="692.3,64 711.8,76.1 731.2,87.1 743.4,95.6 742.1,112.6 743.4,117.4"/>
<polyline points="743.4,117.4 762.8,119.9 772.5,113.8 784.7,116.2 791.9,112.6 804.1,117.4 821.1,118.6"/>
<polyline points="743.4,117.4 750.6,141.7 755.5,161.1 762.8,180.6 772.5,200 774.9,217 776.2,234 772.5,253.4 757.9,263.1 738.5,268 726.3,280.1 719.1,297.1 719.1,306.9 740.9,316.6 755.5,331.1 751.9,343 748.2,357.6 743.4,369.8 748.2,384.4 755.5,398.9 753.1,413.5 765.2,425.6 774.9,440.2 782.2,454.8 787.1,464.5 779.8,471.8 787.1,483.9 790.7,498.5 782.2,508.2 765.2,510.6"/>
<polyline points="765.2,510.6 745.8,522.8 721.5,547.1 697.2,576.2 680.2,600.5 675.3,612.6 680.2,629.6 682.6,651.5 685,661.2"/>
<polyline points="745.8,374.6 765.2,374.6 779.8,381.9 794.4,372.2 806.5,362.5 811.4,352.8 821.1,346.7"/>
<polyline points="685,661.2 697.2,666.1 692.3,673.4"/>
<polyline points="680.2,661.2 663.2,673.4 653.5,694"/>
<polyline points="680.2,661.2 663.2,658.8 643.7,651.5 629.2,644.2 619.4,629.6 604.9,624.8 595.1,621.1 580.6,621.1 568.4,619.9 553.8,624.8 541.7,638.1 527.1,629.6 522.3,622.4 507.7,626 493.1,628.4 480.9,639.4 476.1,651.5 463.9,649.1 451.8,647.9 449.4,634.5 439.6,627.2 429.9,610.2 425.1,604.1 415.3,610.2 405.6,622.4"/>
<polyline points="406.2,622.4 391.6,627.2 384.3,615.1 374.6,598.1 360,585.9 355.2,571.4 333.3,564.1 313.9,554.4 301.7,561.6 292,554.4 282.3,542.2 292,534.9 289.6,525.2 277.4,527.6 260.4,522.8 241,513.1 224,510.6 228.8,515.5 233.7,530.1 221.6,537.4 209.4,549.5 202.1,544.6 192.4,530.1 180.2,517.9 170.5,510.6 180.2,503.4 190,493.6 182.7,485.1 168.1,486.4 153.5,486.4 138.9,477.9 119.5,471.8 102.5,464.5 95.2,449.9 83.1,447.5 73.3,459.6 58.8,464.5"/>
<polyline points="379.5,607.8 357.6,612.6 343,627.2 328.5,641.8 321.2,661.2 306.6,673.4 289.6,683.1 267.7,690.4 248.3,687.9 238.6,694"/>
<polyline points="58.8,464.5 47.8,462.1 41.8,449.9 32,442.6 19.9,445.1 17.5,454.8 7.7,464.5 -3.2,470.6"/>
<polyline points="73.3,694 75.8,673.4 90.3,675.8 109.8,680.6 129.2,687.9 151.1,694"/>
<polyline points="19.9,141.7 24.7,161.1 29.6,180.6 32,192.7 24.7,204.9 19.9,217 7.7,226.7 7.7,238.9 22.3,248.6 34.5,258.3 45.4,268 43,282.6 40.5,292.3 49,304.4 56.3,316.6 55.1,331.1 49,343.3 41.8,352.8 49,367.4 56.3,381.9 68.5,394.1 75.8,408.6 78.2,423.2 74.6,440.2 68.5,454.8 58.8,464.5"/>
<polyline points="196,692.8 197.3,692.8"/>
</g><g fill="#000" stroke="#000" stroke-width="3" stroke-linejoin="round">
<polygon points="-6.7,108.9 1.1,98.9 8.1,106.3 15.9,113.2 25.4,114.5 33.3,111.5 43.7,106.3 63.6,100.2 65.4,108 60.2,120.2 54.1,127.1 48.9,137.5 48,143.6 52.3,149.7 52.3,154.9 47.1,161.8 41.9,162.7 36.7,154.9 31.5,149.7 28.9,156.6 31.5,167 34.1,172.2 22.8,172.2 18.5,158.3 15,147.9 5.5,145.3 -3.2,142.7 -5.8,132.3 -4.1,120.2"/>
<polygon points="464.3,29.3 487.9,29.6 501.8,31.1 502.5,34.2 487.9,42.2 474,50.5 460.2,58.9 454.6,57.5 458.8,46.7 462.2,35.6"/>
<polygon points="403.9,74.4 418.5,89.4 435.2,73"/>
</g><g fill="#ddd">
<polygon points="4.6,130.6 13.7,130.6 13.7,134.5 4.6,134.5"/>
<polygon points="28.5,132.7 36.3,131.9 36.9,140.5 30.2,142.9 27,137.5"/>
</g>
</g></g>
<rect x="1369.0" y="1458.0" width="819.6" height="694.0" fill="none" stroke="#b0b0b0" stroke-width="3"/>
<path d="M1525.1 1458.0v7M1525.1 2152.0v-7M1681.2 1458.0v7M1681.2 2152.0v-7M1837.3 1458.0v7M1837.3 2152.0v-7M1993.5 1458.0v7M1993.5 2152.0v-7M2149.6 1458.0v7M2149.6 2152.0v-7M1369.0 2129.6h7M2188.6 2129.6h-7M1369.0 2017.7h7M2188.6 2017.7h-7M1369.0 1905.7h7M2188.6 1905.7h-7M1369.0 1793.8h7M2188.6 1793.8h-7M1369.0 1681.9h7M2188.6 1681.9h-7M1369.0 1569.9h7M2188.6 1569.9h-7" stroke="#9a9a9a" stroke-width="2" fill="none"/>
<clipPath id="cH"><rect width="817.9" height="696.2"/></clipPath>
<g transform="translate(1361.8 2169.2)"><g clip-path="url(#cH)">
<g fill="none" stroke-width="8.6" shape-rendering="crispEdges">
<path stroke="#2798ea" d="M0 4h16M200 4h520M0 12h16M200 12h520M0 20h16M200 20h512M0 28h16M200 28h512M0 36h16M200 36h512M0 44h16M200 44h504M0 52h16M200 52h504M0 60h16M208 60h496M0 68h16M208 68h496M0 76h16M208 76h496M0 84h16M216 84h488M0 92h16M224 92h488M0 100h16M224 100h488M0 108h16M232 108h480M0 116h16M240 116h480M0 124h16M248 124h472M0 132h16M256 132h472M264 140h472M264 148h480M272 156h480M808 156h16M288 164h536M304 172h520M344 180h480M488 188h336M544 196h280M568 204h256M592 212h232M608 220h216M616 228h208M624 236h200M632 244h192M640 252h184M648 260h176M648 268h176M648 276h176M656 284h168M656 292h168M656 300h168M648 308h176M648 316h176M640 324h184M640 332h184M632 340h192M624 348h200M608 356h216M600 364h224M576 372h248M560 380h264M520 388h304M480 396h344M464 404h360M448 412h376M448 420h376M440 428h384M440 436h384M440 444h384M432 452h392M432 460h392M432 468h392M424 476h400M424 484h400M424 492h400M416 500h408M416 508h408M408 516h416M408 524h416M400 532h424M392 540h432M384 548h440M376 556h448M368 564h456M360 572h464M360 580h464M360 588h464M368 596h456M376 604h448M384 612h32M432 612h392M384 620h24M432 620h392M440 628h64M520 628h32M608 628h216M448 636h40M536 636h8M624 636h200M448 644h32M624 644h200M464 652h8M640 652h184M656 660h168M672 668h152M664 676h160M656 684h168M656 692h168M656 700h168"/>
<path stroke="#259be8" d="M168 4h32M720 4h40M808 4h16M176 12h24M720 12h32M816 12h8M176 20h24M712 20h32M176 28h24M712 28h24M176 36h24M712 36h24M176 44h24M704 44h32M176 52h24M704 52h24M176 60h32M704 60h24M176 68h32M704 68h24M176 76h32M704 76h24M184 84h32M704 84h32M184 92h40M712 92h24M184 100h40M712 100h24M192 108h40M712 108h32M192 116h48M720 116h32M816 116h8M200 124h48M720 124h40M808 124h16M208 132h48M728 132h96M216 140h48M736 140h88M224 148h40M744 148h80M232 156h40M752 156h56M240 164h48M248 172h56M248 180h96M256 188h232M264 196h280M272 204h296M296 212h296M528 220h80M552 228h64M568 236h56M584 244h48M592 252h48M600 260h48M600 268h48M608 276h40M608 284h48M608 292h48M608 300h48M608 308h40M600 316h48M592 324h48M584 332h56M576 340h56M560 348h64M536 356h72M504 364h96M456 372h120M432 380h128M424 388h96M424 396h56M416 404h48M416 412h32M408 420h40M408 428h32M408 436h32M408 444h32M400 452h32M400 460h32M400 468h32M392 476h32M392 484h32M384 492h40M376 500h40M376 508h40M368 516h40M360 524h48M352 532h48M336 540h56M312 548h72M288 556h88M328 564h40M352 572h8"/>
<path stroke="#249ee6" d="M160 4h8M760 4h48M160 12h16M752 12h64M160 20h16M744 20h32M792 20h32M160 28h16M736 28h24M808 28h16M160 36h16M736 36h16M816 36h8M160 44h16M736 44h16M816 44h8M160 52h16M728 52h24M816 52h8M160 60h16M728 60h24M816 60h8M168 68h8M728 68h24M816 68h8M168 76h8M728 76h24M816 76h8M168 84h16M736 84h16M816 84h8M168 92h16M736 92h24M808 92h16M168 100h16M736 100h24M808 100h16M176 108h16M744 108h32M784 108h40M176 116h16M752 116h64M176 124h24M760 124h48M184 132h24M184 140h32M192 148h32M208 156h24M216 164h24M224 172h24M224 180h24M232 188h24M240 196h24M240 204h32M248 212h48M248 220h280M256 228h296M280 236h112M520 236h48M544 244h40M552 252h40M568 260h32M568 268h32M576 276h32M576 284h32M576 292h32M576 300h32M576 308h32M568 316h32M560 324h32M544 332h40M528 340h48M504 348h56M440 356h96M424 364h80M408 372h48M408 380h24M400 388h24M400 396h24M400 404h16M392 412h24M392 420h16M392 428h16M392 436h16M384 444h24M384 452h16M376 460h24M376 468h24M368 476h24M368 484h24M360 492h24M352 500h24M208 508h40M344 508h32M208 516h16M240 516h24M328 516h40M200 524h32M256 524h104M200 532h32M288 532h64M200 540h24M288 540h48M208 548h8M288 548h24"/>
<path stroke="#22a1e4" d="M152 4h8M152 12h8M152 20h8M776 20h16M152 28h8M760 28h48M152 36h8M752 36h64M152 44h8M752 44h64M152 52h8M752 52h24M792 52h24M152 60h8M752 60h16M800 60h16M160 68h8M752 68h16M800 68h16M160 76h8M752 76h24M792 76h24M160 84h8M752 84h64M160 92h8M760 92h48M160 100h8M760 100h48M160 108h16M776 108h8M168 116h8M168 124h8M168 132h16M168 140h16M176 148h16M184 156h24M184 164h32M192 172h32M208 180h16M208 188h24M216 196h24M224 204h16M224 212h24M224 220h24M232 228h24M232 236h48M392 236h128M240 244h208M488 244h56M248 252h152M520 252h32M536 260h32M544 268h24M552 276h24M552 284h24M552 292h24M552 300h24M544 308h32M536 316h32M528 324h32M504 332h40M440 340h88M408 348h96M400 356h40M392 364h32M392 372h16M384 380h24M384 388h16M384 396h16M384 404h16M376 412h16M376 420h16M376 428h16M376 436h16M368 444h16M368 452h16M360 460h16M200 468h32M360 468h16M192 476h48M352 476h16M192 484h56M344 484h24M192 492h72M336 492h24M192 500h88M320 500h32M192 508h16M248 508h96M184 516h24M264 516h64M184 524h16M192 532h8M288 620h8M280 628h16M280 636h16"/>
<path stroke="#20a4e3" d="M136 4h16M144 12h8M144 20h8M144 28h8M144 36h8M144 44h8M144 52h8M776 52h16M768 60h32M152 68h8M768 68h32M152 76h8M776 76h16M152 84h8M152 92h8M152 100h8M160 116h8M160 124h8M160 132h8M160 140h8M168 148h8M168 156h16M168 164h16M176 172h16M184 180h24M192 188h16M192 196h24M192 204h32M200 212h24M200 220h24M200 228h32M200 236h32M208 244h32M448 244h40M216 252h32M400 252h120M224 260h216M496 260h40M232 268h176M512 268h32M232 276h48M520 276h32M528 284h24M528 292h24M528 300h24M520 308h24M504 316h32M424 324h104M400 332h104M392 340h48M184 348h32M384 348h24M176 356h40M384 356h16M176 364h40M376 364h16M184 372h32M376 372h16M192 380h24M376 380h8M376 388h8M368 396h16M368 404h16M368 412h8M368 420h8M360 428h16M360 436h16M352 444h16M200 452h32M352 452h16M192 460h56M344 460h16M176 468h24M232 468h24M336 468h24M176 476h16M240 476h32M328 476h24M176 484h16M248 484h40M312 484h32M184 492h8M264 492h72M184 500h8M280 500h40M176 508h16M176 516h8M280 612h24M272 620h16M296 620h8M272 628h8M296 628h16M272 636h8M296 636h16M272 644h32M280 652h24"/>
<path stroke="#1ea7e1" d="M136 12h8M136 20h8M136 28h8M136 36h8M136 44h8M144 60h8M144 68h8M144 76h8M144 84h8M144 92h8M152 108h8M152 116h8M152 124h8M152 132h8M160 148h8M160 156h8M160 164h8M168 172h8M168 180h16M176 188h16M176 196h16M176 204h16M176 212h24M168 220h32M160 228h40M160 236h40M168 244h40M176 252h40M192 260h32M440 260h56M200 268h32M408 268h104M192 276h40M280 276h240M192 284h248M488 284h40M176 292h120M344 292h88M488 292h40M184 300h88M360 300h80M480 300h48M184 308h72M368 308h152M192 316h56M368 316h136M184 324h56M368 324h56M184 332h56M368 332h32M176 340h64M368 340h24M168 348h16M216 348h24M368 348h16M160 356h16M216 356h24M368 356h16M160 364h16M216 364h24M360 364h16M168 372h16M216 372h16M360 372h16M168 380h24M216 380h16M360 380h16M176 388h56M360 388h16M192 396h40M360 396h8M200 404h24M360 404h8M208 412h16M352 412h16M208 420h24M352 420h16M200 428h32M352 428h8M192 436h48M344 436h16M192 444h56M336 444h16M184 452h16M232 452h32M336 452h16M176 460h16M248 460h24M328 460h16M168 468h8M256 468h40M304 468h32M168 476h8M272 476h56M168 484h8M288 484h24M272 604h32M264 612h16M304 612h8M264 620h8M304 620h16M264 628h8M312 628h8M264 636h8M312 636h8M264 644h8M304 644h16M264 652h16M304 652h8M272 660h32"/>
<path stroke="#1caadf" d="M128 4h8M128 12h8M128 20h8M128 28h8M136 52h8M136 60h8M136 68h8M144 100h8M144 108h8M144 116h8M152 140h8M152 148h8M152 156h8M160 172h8M160 180h8M160 188h16M168 196h8M160 204h16M160 212h16M160 220h8M152 228h8M152 236h8M152 244h16M160 252h16M168 260h24M176 268h24M176 276h16M168 284h24M440 284h48M160 292h16M296 292h48M432 292h56M168 300h16M272 300h88M440 300h40M168 308h16M256 308h48M320 308h48M176 316h16M248 316h32M336 316h32M168 324h16M240 324h32M344 324h24M168 332h16M240 332h24M344 332h24M160 340h16M240 340h16M352 340h16M152 348h16M240 348h16M352 348h16M152 356h8M240 356h16M352 356h16M152 364h8M240 364h16M352 364h8M152 372h16M232 372h16M352 372h8M160 380h8M232 380h16M344 380h16M168 388h8M232 388h16M344 388h16M176 396h16M232 396h16M344 396h16M184 404h16M224 404h24M344 404h16M184 412h24M224 412h24M344 412h8M184 420h24M232 420h24M336 420h16M184 428h16M232 428h24M336 428h16M184 436h8M240 436h24M328 436h16M176 444h16M248 444h32M320 444h16M176 452h8M264 452h72M168 460h8M272 460h56M160 468h8M296 468h8M160 476h8M160 484h8M280 588h24M264 596h48M264 604h8M304 604h16M256 612h8M312 612h8M256 620h8M320 620h8M256 628h8M320 628h8M256 636h8M320 636h8M256 644h8M320 644h8M256 652h8M312 652h8M264 660h8M304 660h16M272 668h40M280 676h16"/>
<path stroke="#19addc" d="M120 4h8M120 12h8M120 20h8M128 36h8M128 44h8M128 52h8M136 76h8M136 84h8M136 92h8M144 124h8M144 132h8M144 140h8M152 164h8M152 172h8M152 180h8M160 196h8M152 204h8M152 212h8M152 220h8M144 236h8M152 252h8M160 260h8M168 268h8M160 276h16M160 284h8M152 292h8M160 300h8M160 308h8M304 308h16M160 316h16M280 316h56M160 324h8M272 324h72M160 332h8M264 332h32M312 332h32M152 340h8M256 340h24M328 340h24M144 348h8M256 348h24M328 348h24M144 356h8M256 356h16M328 356h24M144 364h8M256 364h16M336 364h16M144 372h8M248 372h16M336 372h16M152 380h8M248 380h16M336 380h8M160 388h8M248 388h16M336 388h8M168 396h8M248 396h16M328 396h16M168 404h16M248 404h16M328 404h16M176 412h8M248 412h24M328 412h16M176 420h8M256 420h16M320 420h16M176 428h8M256 428h32M312 428h24M168 436h16M264 436h64M168 444h8M280 444h40M160 452h16M160 460h8M152 468h8M152 476h8M152 484h8M272 580h40M264 588h16M304 588h16M256 596h8M312 596h16M248 604h16M320 604h8M248 612h8M320 612h16M248 620h8M328 620h8M248 628h8M328 628h8M248 636h8M328 636h8M248 644h8M328 644h8M248 652h8M320 652h16M248 660h16M320 660h8M256 668h16M312 668h16M264 676h16M296 676h24M272 684h40"/>
<path stroke="#15afd9" d="M112 4h8M112 12h8M120 28h8M120 36h8M120 44h8M128 60h8M128 68h8M128 76h8M136 100h8M136 108h8M136 116h8M144 148h8M144 156h8M144 164h8M152 188h8M152 196h8M144 220h8M144 228h8M144 244h8M144 252h8M152 260h8M160 268h8M152 276h8M152 284h8M152 300h8M152 308h8M152 316h8M152 324h8M152 332h8M296 332h16M144 340h8M280 340h48M136 348h8M280 348h48M136 356h8M272 356h56M136 364h8M272 364h64M136 372h8M264 372h32M312 372h24M144 380h8M264 380h24M312 380h24M152 388h8M264 388h24M312 388h24M152 396h16M264 396h32M304 396h24M160 404h8M264 404h64M160 412h16M272 412h56M168 420h8M272 420h48M160 428h16M288 428h24M160 436h8M160 444h8M152 452h8M144 460h16M144 468h8M144 476h8M144 484h8M272 556h16M256 564h72M248 572h88M240 580h32M312 580h24M240 588h24M320 588h24M240 596h16M328 596h16M240 604h8M328 604h24M232 612h16M336 612h16M232 620h16M336 620h16M232 628h16M336 628h16M232 636h16M336 636h16M232 644h16M336 644h16M240 652h8M336 652h16M240 660h8M328 660h24M240 668h16M328 668h16M240 676h24M320 676h24M248 684h24M312 684h24M248 692h88M256 700h64"/>
<path stroke="#10b2d5" d="M104 4h8M112 20h8M112 28h8M120 52h8M120 60h8M128 84h8M128 92h8M136 124h8M136 132h8M136 140h8M144 172h8M144 180h8M144 204h8M144 212h8M136 228h8M136 236h8M136 244h8M144 260h8M152 268h8M144 284h8M144 292h8M144 300h8M144 308h8M144 316h8M144 324h8M144 332h8M136 340h8M128 356h8M128 364h8M296 372h16M136 380h8M288 380h24M144 388h8M288 388h24M144 396h8M296 396h8M152 404h8M152 412h8M152 420h16M152 428h8M152 436h8M152 444h8M16 452h24M80 452h16M144 452h8M16 460h32M72 460h24M136 460h8M8 468h96M136 468h8M0 476h128M136 476h8M0 484h144M0 492h184M0 500h184M0 508h32M80 508h96M0 516h24M88 516h88M224 516h16M0 524h16M96 524h88M232 524h24M0 532h16M96 532h96M232 532h56M0 540h16M96 540h104M224 540h64M0 548h16M96 548h112M216 548h72M0 556h16M96 556h72M200 556h72M0 564h16M96 564h64M208 564h48M0 572h24M88 572h64M216 572h32M336 572h16M0 580h32M80 580h72M216 580h24M336 580h24M0 588h152M216 588h24M344 588h16M0 596h144M224 596h16M344 596h24M0 604h144M224 604h16M352 604h24M0 612h144M224 612h8M352 612h32M416 612h16M0 620h144M224 620h8M352 620h32M408 620h24M0 628h144M224 628h8M352 628h88M504 628h16M552 628h56M0 636h136M224 636h8M352 636h96M488 636h48M544 636h80M0 644h136M224 644h8M352 644h96M480 644h144M0 652h144M224 652h16M352 652h112M472 652h168M0 660h144M224 660h16M352 660h304M0 668h144M224 668h16M344 668h328M0 676h144M224 676h16M344 676h320M0 684h144M224 684h24M336 684h320M0 692h144M224 692h24M336 692h320M0 700h152M216 700h40M320 700h336"/>
<path stroke="#09b4d1" d="M96 4h8M104 12h8M104 20h8M104 28h8M112 36h8M112 44h8M120 68h8M120 76h8M128 100h8M128 108h8M136 148h8M136 156h8M144 188h8M144 196h8M136 220h8M136 252h8M144 268h8M144 276h8M136 292h8M136 300h8M136 332h8M128 348h8M120 356h8M128 372h8M128 380h8M136 388h8M136 396h8M144 404h8M144 412h8M144 420h8M144 428h8M144 436h8M144 444h8M136 452h8M128 460h8M128 468h8M128 476h8M32 508h48M24 516h16M72 516h16M16 524h16M80 524h16M16 532h8M88 532h8M16 540h8M88 540h8M16 548h8M88 548h8M16 556h8M88 556h8M168 556h32M16 564h16M80 564h16M160 564h48M24 572h16M72 572h16M152 572h24M192 572h24M32 580h48M152 580h16M200 580h16M152 588h8M208 588h8M144 596h16M208 596h16M144 604h8M216 604h8M144 612h8M216 612h8M144 620h8M216 620h8M144 628h8M216 628h8M136 636h16M216 636h8M136 644h16M216 644h8M144 652h8M216 652h8M144 660h8M216 660h8M144 668h8M216 668h8M144 676h8M216 676h8M144 684h16M216 684h8M144 692h16M208 692h16M152 700h16M208 700h8"/>
<path stroke="#04b6cd" d="M88 4h8M96 12h8M96 20h8M104 36h8M104 44h8M112 52h8M112 60h8M120 84h8M128 116h8M128 124h8M136 164h8M136 172h8M136 204h8M136 212h8M128 228h8M128 236h8M128 244h8M136 260h8M136 276h8M136 284h8M136 308h8M136 316h8M136 324h8M128 340h8M120 348h8M120 364h8M120 372h8M120 380h8M128 388h8M128 396h8M136 404h8M136 412h8M136 420h8M136 428h8M136 436h8M136 444h8M128 452h8M120 460h8M112 468h16M40 516h32M32 524h8M72 524h8M24 532h8M80 532h8M24 540h8M80 540h8M24 548h8M80 548h8M24 556h8M80 556h8M32 564h8M72 564h8M40 572h32M176 572h16M168 580h32M160 588h8M200 588h8M160 596h8M200 596h8M152 604h8M208 604h8M152 612h8M208 612h8M152 620h8M208 620h8M152 628h8M152 660h8M152 668h8M208 668h8M152 676h8M208 676h8M160 684h8M208 684h8M160 692h8M200 692h8M168 700h16M192 700h16"/>
<path stroke="#01b8c9" d="M16 4h8M80 4h8M16 12h8M88 12h8M16 20h8M88 20h8M16 28h8M96 28h8M16 36h8M96 36h8M16 44h8M16 52h8M104 52h8M16 60h8M16 68h8M112 68h8M16 76h8M112 76h8M120 92h8M120 100h8M128 132h8M128 140h8M136 180h8M136 188h8M136 196h8M128 252h8M136 268h8M128 292h8M128 300h8M128 308h8M128 316h8M128 324h8M128 332h8M120 340h8M112 348h8M112 356h8M112 364h8M112 372h8M112 380h8M120 388h8M120 396h8M128 404h8M128 412h8M128 420h8M128 428h8M72 436h8M120 436h16M120 444h16M120 452h8M112 460h8M104 468h8M40 524h32M32 532h8M72 532h8M32 540h8M72 540h8M32 548h8M72 548h8M32 556h8M72 556h8M40 564h32M168 588h32M168 596h8M192 596h8M160 604h8M200 604h8M160 612h8M208 628h8M152 636h8M208 636h8M152 644h8M208 644h8M152 652h8M208 652h8M208 660h8M160 668h8M160 676h8M200 676h8M168 684h8M200 684h8M168 692h32M184 700h8"/>
<path stroke="#02bac4" d="M24 4h16M64 4h16M24 12h16M72 12h16M24 20h16M72 20h16M24 28h16M80 28h16M24 36h8M88 36h8M24 44h8M96 44h8M24 52h8M96 52h8M24 60h8M104 60h8M24 68h8M104 68h8M24 76h8M16 84h16M112 84h8M16 92h16M16 100h16M16 108h16M120 108h8M16 116h8M120 116h8M16 124h8M16 132h8M0 140h24M0 148h24M128 148h8M0 156h24M128 156h8M0 164h32M0 172h32M0 180h32M0 188h32M0 196h32M0 204h32M0 212h24M128 212h8M0 220h24M128 220h8M0 228h24M0 236h24M120 236h8M0 244h24M0 252h32M0 260h40M128 260h8M0 268h48M0 276h48M128 276h8M0 284h40M128 284h8M0 292h32M0 300h24M0 308h24M0 316h24M0 324h16M120 324h8M0 332h16M120 332h8M0 340h16M48 340h8M112 340h8M0 348h16M48 348h8M104 348h8M0 356h8M40 356h8M104 356h8M0 364h8M48 364h8M104 364h8M0 372h8M48 372h8M104 372h8M0 380h8M56 380h8M104 380h8M0 388h8M64 388h8M104 388h16M0 396h8M72 396h8M112 396h8M0 404h16M72 404h8M112 404h16M0 412h16M72 412h16M112 412h16M0 420h16M80 420h16M112 420h16M0 428h16M80 428h16M112 428h16M0 436h24M80 436h16M104 436h16M0 444h24M72 444h48M0 452h16M72 452h8M96 452h24M0 460h16M64 460h8M96 460h16M0 468h8M40 532h32M64 540h8M40 556h8M64 556h8M176 596h16M168 604h8M192 604h8M200 612h8M160 620h8M200 620h8M160 628h8M200 628h8M160 636h8M160 644h8M160 652h8M160 660h8M200 660h8M200 668h8M168 676h8M192 676h8M176 684h24"/>
<path stroke="#06bcc0" d="M40 4h24M40 12h32M40 20h32M40 28h40M32 36h56M32 44h24M80 44h16M32 52h16M88 52h8M32 60h16M96 60h8M32 68h16M32 76h8M104 76h8M32 84h8M32 92h8M112 92h8M32 100h8M112 100h8M32 108h8M24 116h16M24 124h16M120 124h8M24 132h8M120 132h8M24 140h8M24 148h8M24 156h8M128 164h8M128 172h8M32 180h8M128 180h8M32 188h8M32 196h8M128 204h8M24 212h8M24 220h8M24 228h8M120 228h8M24 236h8M24 244h8M120 244h8M32 252h8M128 268h8M40 284h8M120 284h8M32 292h16M120 292h8M24 300h24M120 300h8M24 308h16M48 308h8M120 308h8M24 316h8M120 316h8M16 324h8M56 324h8M16 332h8M56 332h8M112 332h8M16 340h8M56 340h8M104 340h8M16 348h8M56 348h8M96 348h8M8 356h8M48 356h16M88 356h16M8 364h8M56 364h16M88 364h16M8 372h8M56 372h48M8 380h8M64 380h40M8 388h8M72 388h32M8 396h8M80 396h32M16 404h8M80 404h32M16 412h8M88 412h24M16 420h8M96 420h16M16 428h8M96 428h16M24 436h8M96 436h8M24 444h8M64 452h8M48 460h16M40 540h24M40 548h32M48 556h16M176 604h16M168 612h8M192 612h8M168 620h8M200 636h8M200 644h8M200 652h8M168 660h8M168 668h8M192 668h8M176 676h16"/>
<path stroke="#0dbdbb" d="M56 44h24M48 52h40M48 60h24M80 60h16M48 68h16M96 68h8M40 76h16M96 76h8M40 84h16M104 84h8M40 92h8M40 100h8M40 108h8M112 108h8M40 116h8M32 132h8M32 140h8M120 140h8M32 148h8M120 148h8M32 156h8M32 164h8M32 172h8M128 188h8M128 196h8M32 204h8M32 212h8M32 220h8M120 220h8M32 228h16M32 236h16M32 244h16M40 252h8M120 252h8M40 260h8M120 260h8M48 276h8M120 276h8M48 284h8M48 292h8M112 292h8M48 300h8M112 300h8M40 308h8M56 308h8M112 308h8M32 316h8M56 316h8M112 316h8M24 324h8M64 324h8M112 324h8M24 332h8M64 332h8M104 332h8M24 340h8M64 340h8M96 340h8M64 348h32M16 356h8M64 356h24M16 364h8M72 364h16M16 372h8M16 380h8M16 388h8M16 396h8M24 412h8M24 420h8M24 428h8M32 436h8M32 444h16M64 444h8M40 452h24M176 612h16M176 620h24M168 628h8M192 628h8M168 636h8M192 636h8M168 644h8M192 644h8M168 652h8M192 652h8M176 660h8M192 660h8M176 668h16"/>
<path stroke="#16bfb7" d="M72 60h8M64 68h32M56 76h16M88 76h8M56 84h8M96 84h8M48 92h16M104 92h8M48 100h8M104 100h8M48 108h8M48 116h8M112 116h8M40 124h8M112 124h8M40 132h8M40 140h8M40 148h8M40 156h8M120 156h8M40 164h8M40 172h8M40 180h8M40 188h8M40 196h8M40 204h8M40 212h8M120 212h8M40 220h8M48 228h8M112 228h8M48 236h8M112 236h8M48 244h8M112 244h8M48 260h8M48 268h8M120 268h8M112 284h8M56 292h8M56 300h8M64 308h8M40 316h16M64 316h8M104 316h8M32 324h8M72 324h8M104 324h8M32 332h8M72 332h32M72 340h24M24 348h8M24 356h8M24 364h8M24 372h8M24 380h8M24 388h8M24 396h8M24 404h8M32 420h8M72 420h8M32 428h8M72 428h8M40 436h32M48 444h16M176 628h16M176 636h16M176 644h16M176 652h16M184 660h8"/>
<path stroke="#1ec0b2" d="M72 76h16M64 84h32M64 92h8M96 92h8M56 100h8M56 108h8M104 108h8M48 124h8M48 132h8M112 132h8M48 140h8M112 140h8M48 148h8M48 156h8M120 164h8M120 172h8M120 180h8M120 204h8M48 212h8M48 220h8M56 236h8M56 244h8M48 252h8M112 252h8M112 260h8M56 268h8M56 276h8M112 276h8M56 284h8M64 292h8M104 292h8M64 300h8M104 300h8M72 308h8M104 308h8M72 316h16M96 316h8M40 324h16M80 324h24M32 340h8M32 412h8M64 420h8M40 428h32"/>
<path stroke="#25c2ad" d="M72 92h24M64 100h16M96 100h8M64 108h8M56 116h8M104 116h8M56 124h8M104 124h8M56 132h8M56 140h8M112 148h8M48 164h8M48 172h8M48 180h8M48 188h8M120 188h8M48 196h8M120 196h8M48 204h8M56 220h8M112 220h8M56 228h8M104 228h8M64 236h8M104 236h8M104 244h8M56 252h8M56 260h8M112 268h8M64 276h8M64 284h8M104 284h8M72 292h8M96 292h8M72 300h32M80 308h24M88 316h8M40 332h16M40 340h8M32 348h8M32 356h8M32 364h8M32 388h8M32 396h8M32 404h8M64 412h8M40 420h24"/>
<path stroke="#2ac3a8" d="M80 100h16M72 108h32M64 116h8M96 116h8M64 124h8M64 132h8M104 132h8M56 148h8M56 156h8M112 156h8M56 164h8M112 164h8M56 172h8M56 204h8M56 212h8M112 212h8M64 228h8M72 236h8M96 236h8M64 244h8M96 244h8M64 252h8M104 252h8M64 260h8M104 260h8M64 268h8M72 276h8M104 276h8M72 284h16M96 284h8M80 292h16M40 348h8M32 372h8M32 380h8M40 404h8M64 404h8M40 412h24"/>
<path stroke="#2fc5a3" d="M72 116h24M72 124h8M96 124h8M64 140h8M104 140h8M64 148h8M104 148h8M112 172h8M56 180h8M112 180h8M56 188h8M56 196h8M112 196h8M112 204h8M64 220h8M104 220h8M72 228h16M96 228h8M80 236h16M72 244h24M72 252h8M96 252h8M72 260h8M72 268h8M104 268h8M80 276h24M88 284h8M40 364h8M40 388h8M40 396h8M64 396h8M48 404h16"/>
<path stroke="#32c69e" d="M80 124h16M72 132h32M72 140h8M96 140h8M64 156h8M104 156h8M64 164h8M64 172h8M64 180h8M112 188h8M64 196h8M64 204h8M64 212h8M104 212h8M72 220h8M88 228h8M80 252h16M80 260h24M80 268h24M40 372h8M40 380h8M48 396h16"/>
<path stroke="#36c899" d="M80 140h16M72 148h8M96 148h8M72 156h8M104 164h8M104 172h8M64 188h8M104 204h8M72 212h8M80 220h24M48 380h8M48 388h16"/>
<path stroke="#3bc993" d="M80 148h16M80 156h24M72 164h8M96 164h8M72 172h8M72 180h8M104 180h8M72 188h8M104 188h8M72 196h8M104 196h8M72 204h8M96 204h8M80 212h24"/>
<path stroke="#41ca8d" d="M80 164h16M80 172h24M80 180h8M96 180h8M96 188h8M80 196h8M96 196h8M80 204h16"/>
<path stroke="#48cb86" d="M88 180h8M80 188h16M88 196h8"/>
</g>
<g fill="#fff">
<polygon points="-12.6,-18.7 561.8,-18.7 566.6,2.7 533.1,9.9 475.7,7.5 468.5,26.6 454.1,48.1 423,74.3 413.5,81.5 403.9,69.6 375.2,66.2 356,60 348.8,43.3 344,20.4 327.3,13.7 279.4,18.5 250.7,26.6 222,38.5 198,48.1 183.7,62.4 174.1,74.3 150.2,83.9 111.9,93.4 64,105.3 44.9,119.7 20.9,129.2 -12.6,134"/>
<polygon points="624.1,367.9 626.5,344 633.6,324.9 643.2,310.6 662.4,296.3 676.7,282.9 695.9,277.2 715,289.1 724.6,272.4 717.4,258.1 717.4,241.4 729.4,235.2 762.9,236.6 767.7,219.9 839.5,215.1 839.5,706.7 327.3,706.7 332.1,659 317.7,630.4 327.3,606.5 341.6,587.4 360.8,587.4 379.9,611.3 399.1,616 413.5,611.3 427.8,606.5 442.2,592.2 456.5,573.1 466.1,554 475.7,534.9 494.8,515.8 499.6,496.7 504.4,472.9 518.8,463.3 537.9,449 557.1,434.7 571.4,425.1 595.4,420.4 609.7,406 619.3,391.7"/>
<polygon points="437.4,453.8 456.5,437.1 475.7,432.3 490,441.8 504.4,449 494.8,463.3 475.7,468.1 470.9,487.2 463.7,487.2 463.7,460.9 447,460.9"/>
<polygon points="478.1,341.6 487.6,336.8 499.6,341.6 499.6,360.7 490,367.9 478.1,360.7"/>
<polygon points="351.2,487.2 360.8,484.8 363.2,499.1 353.6,501.5"/>
<polygon points="375.2,492 387.1,489.6 389.5,511 377.6,513.4"/>
<polygon points="403.9,508.7 408.7,508.7 408.7,527.7 403.9,527.7"/>
<polygon points="181.3,391.7 193.3,386.9 193.3,401.3 181.3,402.2"/>
<polygon points="248.3,272.4 254.5,272.4 254.5,281.9 248.3,281.9"/>
<polygon points="288,265.2 293.8,265.2 293.8,281.9 288,281.9"/>
<polygon points="523.6,179.3 533.1,157.9 540.3,157.9 537.9,181.7 528.3,191.3"/>
<polygon points="518.8,224.7 528.3,210.4 530.7,219.9 523.6,234.2"/>
<polygon points="590.6,203.2 599.2,203.2 599.2,219.9 590.6,219.9"/>
<polygon points="107.1,100.6 123.8,98.2 123.8,110.1 107.1,112.5"/>
<polygon points="652.8,48.1 667.2,38.5 671.9,62.4 652.8,64.8"/>
<polygon points="619.3,360.7 626.5,360.7 626.5,372.6 619.3,372.6"/>
<polygon points="545.1,410.8 554.7,408.4 554.7,422.7 545.1,422.7"/>
<polygon points="360.8,554 375.2,554 375.2,570.7 360.8,570.7"/>
<polygon points="442.2,556.4 449.4,556.4 449.4,565.9 442.2,565.9"/>
<polygon points="236.3,539.7 255.5,534.9 267.5,549.2 262.7,563.5 241.1,565.9"/>
<polygon points="202.8,515.8 222,503.9 222,534.9 207.6,534.9"/>
<polygon points="80.8,568.3 92.7,565.9 99.9,582.6 83.2,585"/>
<polygon points="126.2,568.3 140.6,570.7 150.2,582.6 169.3,580.2 171.7,601.7 159.7,616 140.6,611.3 131,597"/>
<polygon points="64,606.5 78.4,606.5 92.7,620.8 121.5,630.4 126.2,642.3 102.3,639.9 73.6,630.4"/>
<polygon points="772.5,134 782,134 782,162.6 772.5,162.6"/>
<polygon points="791.6,148.3 801.2,148.3 801.2,181.7 791.6,181.7"/>
<polygon points="734.2,143.5 743.7,143.5 743.7,162.6 734.2,162.6"/>
<polygon points="83.2,458.5 92.7,458.5 92.7,468.1 83.2,468.1"/>
</g>
<polygon fill="#01b9c6" points="628.9,358.3 667.2,353.5 686.3,344 700.7,324.9 705.5,334.4 691.1,367.9 676.7,386.9 667.2,401.3 643.2,401.3 633.6,386.9 619.3,372.6"/>
<polygon fill="#01b9c6" points="712.6,324.9 734.2,320.1 746.1,334.4 748.5,367.9 729.4,372.6 715,353.5"/>
<polygon fill="#01b9c6" points="715,386.9 734.2,382.2 750.9,396.5 753.3,420.4 734.2,420.4 715,406"/>
<polygon fill="#01b9c6" points="695.9,444.2 715,434.7 758.1,432.3 762.9,449 705.5,452.8"/>
<polygon fill="#01b9c6" points="758.1,406 786.8,406 806,420.4 810.8,444.2 782,449 762.9,434.7"/>
<polygon fill="#01b9c6" points="758.1,353.5 782,348.8 786.8,367.9 762.9,372.6"/>
<polygon fill="#01b9c6" points="782,229.4 810.8,224.7 810.8,243.8 782,248.5"/>
<polygon fill="#01b9c6" points="750.9,656.6 782,649.5 786.8,668.5 762.9,670.9"/>
<g fill="none" stroke="#000" stroke-width="10" stroke-linejoin="round" stroke-linecap="round">
<polyline points="51.4,108.1 65.9,102 90.2,93.4 114.4,87.4 138.7,81.3 162.9,75.2 175,69.1 184.7,54.5 194.4,47.2 211.4,43.5 225.9,36.2 240.5,27.7 259.9,22.8 284.1,19.1 308.4,15.5 332.6,15 337.3,19 342.8,27.3 348.4,34.3 352.5,46.8 356.7,56.6 363.6,64.9 374.7,71.2 389.9,73.3 406.6,74 417.6,78.1 431.5,71.9 445.4,60.7 455,48.2 459.9,34.3 461.3,19 459.2,6.4 462.7,-0.2"/>
<polyline points="332.6,14.1 348.4,19.7 362.2,28 371.9,37.1 376.1,44.7 374,46.8"/>
<polyline points="462.7,1.1 473.1,1.1 486.9,1.6 500.8,2.5 514.6,3.7 528.5,6.7 542.3,10.2 556.2,8.5 568.7,4.3"/>
<polyline points="453.3,60.6 501.8,69.1 550.3,74 598.8,74 647.3,70.3 683.6,66.6 690.9,64.2"/>
<polyline points="683.6,2.1 693.3,17.9 683.6,32.5 675.1,44.7 678.8,56.9 690.9,64.2"/>
<polyline points="690.9,64.2 710.3,76.4 729.7,87.4 741.8,95.9 740.6,112.9 741.8,117.8"/>
<polyline points="741.8,117.8 761.2,120.2 770.9,114.2 783,116.6 790.3,112.9 802.4,117.8 819.4,119"/>
<polyline points="741.8,117.8 749.1,142.2 753.9,161.7 761.2,181.1 770.9,200.6 773.3,217.7 774.5,234.7 770.9,254.2 756.4,264 737,268.8 724.8,281 717.6,298.1 717.6,307.8 739.4,317.6 753.9,332.2 750.3,344.1 746.7,358.8 741.8,371 746.7,385.6 753.9,400.2 751.5,414.8 763.6,427 773.3,441.6 780.6,456.2 785.5,466 778.2,473.3 785.5,485.5 789.1,500.1 780.6,509.8 763.6,512.3"/>
<polyline points="763.6,512.3 744.2,524.4 720,548.8 695.7,578 678.8,602.4 673.9,614.6 678.8,631.6 681.2,653.6 683.6,663.3"/>
<polyline points="744.2,375.8 763.6,375.8 778.2,383.1 792.7,373.4 804.9,363.7 809.7,353.9 819.4,347.8"/>
<polyline points="683.6,663.3 695.7,668.2 690.9,675.5"/>
<polyline points="678.8,663.3 661.8,675.5 652.1,696.2"/>
<polyline points="678.8,663.3 661.8,660.9 642.4,653.6 627.9,646.3 618.2,631.6 603.6,626.8 593.9,623.1 579.4,623.1 567.2,621.9 552.7,626.8 540.6,640.2 526,631.6 521.2,624.3 506.6,628 492.1,630.4 479.9,641.4 475.1,653.6 463,651.1 450.9,649.9 448.4,636.5 438.7,629.2 429,612.1 424.2,606.1 414.5,612.1 404.8,624.3"/>
<polyline points="405.4,624.3 390.8,629.2 383.5,617 373.8,600 359.3,587.8 354.4,573.2 332.6,565.9 313.2,556.1 301.1,563.4 291.4,556.1 281.7,543.9 291.4,536.6 289,526.9 276.9,529.3 259.9,524.4 240.5,514.7 223.5,512.3 228.4,517.1 233.2,531.8 221.1,539.1 209,551.2 201.7,546.4 192,531.8 179.9,519.6 170.2,512.3 179.9,505 189.6,495.2 182.3,486.7 167.7,487.9 153.2,487.9 138.7,479.4 119.3,473.3 102.3,466 95,451.4 82.9,448.9 73.2,461.1 58.6,466"/>
<polyline points="378.7,609.7 356.9,614.6 342.3,629.2 327.8,643.8 320.5,663.3 306,675.5 289,685.2 267.2,692.5 247.8,690.1 238.1,696.2"/>
<polyline points="58.6,466 47.7,463.5 41.7,451.4 32,444 19.8,446.5 17.4,456.2 7.7,466 -3.2,472.1"/>
<polyline points="73.2,696.2 75.6,675.5 90.2,677.9 109.6,682.8 129,690.1 150.8,696.2"/>
<polyline points="19.8,142.2 24.7,161.7 29.5,181.1 32,193.3 24.7,205.5 19.8,217.7 7.7,227.4 7.7,239.6 22.3,249.4 34.4,259.1 45.3,268.8 42.9,283.5 40.5,293.2 48.9,305.4 56.2,317.6 55,332.2 48.9,344.4 41.7,353.9 48.9,368.5 56.2,383.1 68.3,395.3 75.6,409.9 78,424.6 74.4,441.6 68.3,456.2 58.6,466"/>
<polyline points="195.6,695 196.8,695"/>
</g><g fill="#000" stroke="#000" stroke-width="3" stroke-linejoin="round">
<polygon points="-6.7,109.2 1.1,99.2 8.1,106.6 15.9,113.6 25.4,114.9 33.2,111.8 43.6,106.6 63.5,100.5 65.2,108.4 60,120.5 54,127.5 48.8,137.9 47.9,144 52.2,150.1 52.2,155.3 47,162.3 41.8,163.2 36.6,155.3 31.5,150.1 28.9,157.1 31.5,167.5 34,172.7 22.8,172.7 18.5,158.8 15,148.4 5.5,145.8 -3.2,143.2 -5.8,132.7 -4.1,120.5"/>
<polygon points="463.4,29.4 486.9,29.7 500.8,31.2 501.5,34.3 486.9,42.4 473.1,50.7 459.2,59.1 453.7,57.7 457.8,46.8 461.3,35.7"/>
<polygon points="403.1,74.6 417.6,89.7 434.3,73.3"/>
</g><g fill="#ddd">
<polygon points="4.6,131 13.7,131 13.7,134.9 4.6,134.9"/>
<polygon points="28.4,133.2 36.2,132.3 36.8,141 30.2,143.3 26.9,137.9"/>
</g>
</g></g>
<rect x="1361.8" y="2169.2" width="817.9" height="696.2" fill="none" stroke="#b0b0b0" stroke-width="3"/>
<path d="M1517.6 2169.2v7M1517.6 2865.4v-7M1673.4 2169.2v7M1673.4 2865.4v-7M1829.2 2169.2v7M1829.2 2865.4v-7M1985.0 2169.2v7M1985.0 2865.4v-7M2140.8 2169.2v7M2140.8 2865.4v-7M1361.8 2842.9h7M2179.7 2842.9h-7M1361.8 2730.7h7M2179.7 2730.7h-7M1361.8 2618.4h7M2179.7 2618.4h-7M1361.8 2506.1h7M2179.7 2506.1h-7M1361.8 2393.8h7M2179.7 2393.8h-7M1361.8 2281.5h7M2179.7 2281.5h-7" stroke="#9a9a9a" stroke-width="2" fill="none"/>
<text x="100.0" y="2916.9" text-anchor="middle" class="tk">14</text>
<text x="255.3" y="2916.9" text-anchor="middle" class="tk">16</text>
<text x="410.7" y="2916.9" text-anchor="middle" class="tk">18</text>
<text x="566.0" y="2916.9" text-anchor="middle" class="tk">20</text>
<text x="721.3" y="2916.9" text-anchor="middle" class="tk">22</text>
<text x="876.7" y="2916.9" text-anchor="middle" class="tk">24</text>
<text x="1358.8" y="2916.9" text-anchor="middle" class="tk">14</text>
<text x="1514.6" y="2916.9" text-anchor="middle" class="tk">16</text>
<text x="1670.4" y="2916.9" text-anchor="middle" class="tk">18</text>
<text x="1826.2" y="2916.9" text-anchor="middle" class="tk">20</text>
<text x="1982.0" y="2916.9" text-anchor="middle" class="tk">22</text>
<text x="2137.8" y="2916.9" text-anchor="middle" class="tk">24</text>
<text transform="translate(27.6 94.3) scale(0.93 1)" class="let">A</text>
<text transform="translate(26.2 798.1) scale(0.96 1)" class="let">B</text>
<text transform="translate(26.9 1510.0) scale(0.86 1)" class="let">C</text>
<text transform="translate(25.2 2219.6) scale(0.94 1)" class="let">D</text>
<text transform="translate(1270.4 83.8) scale(0.73 1)" class="let">E</text>
<text transform="translate(1270.1 791.2) scale(0.80 1)" class="let">F</text>
<text transform="translate(1267.2 1503.2) scale(0.98 1)" class="let">G</text>
<text transform="translate(1268.7 2209.2) scale(0.98 1)" class="let">H</text>
<text x="113.5" y="82.3" class="tm" textLength="169" lengthAdjust="spacingAndGlyphs">05:00 UTC</text>
<text x="114.3" y="793.2" class="tm" textLength="169" lengthAdjust="spacingAndGlyphs">06:00 UTC</text>
<text x="113.5" y="1501.0" class="tm" textLength="169" lengthAdjust="spacingAndGlyphs">07:00 UTC</text>
<text x="109.5" y="2215.6" class="tm" textLength="169" lengthAdjust="spacingAndGlyphs">08:00 UTC</text>
<text transform="translate(1120,1206) rotate(90)" class="vl" textLength="640" lengthAdjust="spacingAndGlyphs">NRT SEVIRI AOD at 635 nm</text>
<text transform="translate(2375.5,1313) rotate(90)" class="vl" textLength="494" lengthAdjust="spacingAndGlyphs">AOD uncertainty [%]</text>
</svg>
</body></html>
